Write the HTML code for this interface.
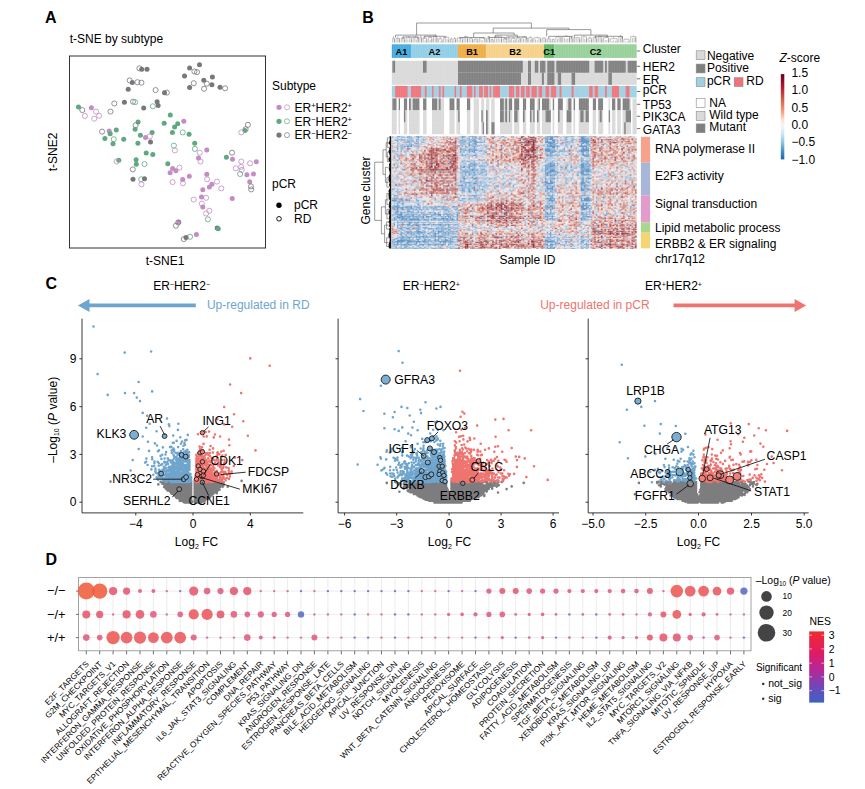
<!DOCTYPE html>
<html><head><meta charset="utf-8"><title>Figure</title>
<style>
html,body{margin:0;padding:0;background:#fff;}
svg{display:block;font-family:"Liberation Sans", sans-serif;fill:#000;}
</style></head><body>
<svg width="865" height="789" viewBox="0 0 865 789">
<rect width="865" height="789" fill="#fff"/>
<g id="panelA">
<text x="45" y="22.5" font-size="16" font-weight="bold">A</text>
<text x="69.7" y="42.5" font-size="12">t-SNE by subtype</text>
<rect x="69.5" y="56" width="196" height="192" fill="#fff" stroke="#333" stroke-width="1"/>
<circle cx="139.4" cy="68.3" r="2.55" fill="none" stroke="#77777c" stroke-width="0.8"/>
<circle cx="141.7" cy="69.3" r="2.5" fill="#77777c"/>
<circle cx="147" cy="69.3" r="2.5" fill="#77777c"/>
<circle cx="129.7" cy="80.4" r="2.55" fill="none" stroke="#77777c" stroke-width="0.8"/>
<circle cx="132.3" cy="82.4" r="2.5" fill="#77777c"/>
<circle cx="137.4" cy="82.2" r="2.55" fill="none" stroke="#77777c" stroke-width="0.8"/>
<circle cx="141.4" cy="82.7" r="2.55" fill="none" stroke="#77777c" stroke-width="0.8"/>
<circle cx="128.2" cy="89.3" r="2.5" fill="#77777c"/>
<circle cx="155.6" cy="90.1" r="2.55" fill="none" stroke="#77777c" stroke-width="0.8"/>
<circle cx="164.5" cy="92.8" r="2.5" fill="#77777c"/>
<circle cx="166.8" cy="92.6" r="2.55" fill="none" stroke="#77777c" stroke-width="0.8"/>
<circle cx="124.4" cy="102.2" r="2.5" fill="#77777c"/>
<circle cx="133" cy="101.7" r="2.55" fill="none" stroke="#77777c" stroke-width="0.8"/>
<circle cx="135.1" cy="102.2" r="2.55" fill="none" stroke="#5fa882" stroke-width="0.8"/>
<circle cx="114.3" cy="103.5" r="2.55" fill="none" stroke="#77777c" stroke-width="0.8"/>
<circle cx="110.5" cy="111.6" r="2.55" fill="none" stroke="#77777c" stroke-width="0.8"/>
<circle cx="157.1" cy="101.7" r="2.5" fill="#77777c"/>
<circle cx="158.1" cy="105.5" r="2.5" fill="#77777c"/>
<circle cx="152.8" cy="106.3" r="2.55" fill="none" stroke="#5fa882" stroke-width="0.8"/>
<circle cx="143.7" cy="108" r="2.5" fill="#77777c"/>
<circle cx="199.5" cy="64.7" r="2.5" fill="#77777c"/>
<circle cx="189.6" cy="68" r="2.5" fill="#77777c"/>
<circle cx="194.4" cy="71.5" r="2.55" fill="none" stroke="#77777c" stroke-width="0.8"/>
<circle cx="197" cy="72.1" r="2.55" fill="none" stroke="#77777c" stroke-width="0.8"/>
<circle cx="184.5" cy="75.9" r="2.5" fill="#77777c"/>
<circle cx="212.4" cy="76.9" r="2.5" fill="#77777c"/>
<circle cx="203.8" cy="80.2" r="2.5" fill="#77777c"/>
<circle cx="206.8" cy="83.7" r="2.55" fill="none" stroke="#77777c" stroke-width="0.8"/>
<circle cx="193.7" cy="83.2" r="2.55" fill="none" stroke="#77777c" stroke-width="0.8"/>
<circle cx="211.9" cy="84.7" r="2.5" fill="#77777c"/>
<circle cx="189.6" cy="87.5" r="2.5" fill="#77777c"/>
<circle cx="204.1" cy="88.8" r="2.55" fill="none" stroke="#77777c" stroke-width="0.8"/>
<circle cx="220" cy="87.3" r="2.5" fill="#77777c"/>
<circle cx="225.1" cy="88.3" r="2.55" fill="none" stroke="#77777c" stroke-width="0.8"/>
<circle cx="78.5" cy="107" r="2.5" fill="#5fa882"/>
<circle cx="82.3" cy="110.1" r="2.55" fill="none" stroke="#77777c" stroke-width="0.8"/>
<circle cx="91.4" cy="107.8" r="2.5" fill="#c48cc4"/>
<circle cx="96" cy="111.6" r="2.55" fill="none" stroke="#c48cc4" stroke-width="0.8"/>
<circle cx="84.9" cy="115.9" r="2.55" fill="none" stroke="#c48cc4" stroke-width="0.8"/>
<circle cx="99.1" cy="115.7" r="2.55" fill="none" stroke="#c48cc4" stroke-width="0.8"/>
<circle cx="94.2" cy="118.7" r="2.55" fill="none" stroke="#c48cc4" stroke-width="0.8"/>
<circle cx="170.3" cy="115.1" r="2.5" fill="#5fa882"/>
<circle cx="183.8" cy="121.2" r="2.5" fill="#c48cc4"/>
<circle cx="164.2" cy="123.3" r="2.5" fill="#5fa882"/>
<circle cx="177.7" cy="123.8" r="2.5" fill="#5fa882"/>
<circle cx="174.6" cy="127.1" r="2.5" fill="#5fa882"/>
<circle cx="172.4" cy="132.4" r="2.5" fill="#5fa882"/>
<circle cx="182.7" cy="132.4" r="2.55" fill="none" stroke="#5fa882" stroke-width="0.8"/>
<circle cx="189.1" cy="134.2" r="2.5" fill="#5fa882"/>
<circle cx="138.1" cy="122" r="2.5" fill="#5fa882"/>
<circle cx="135.6" cy="125.3" r="2.55" fill="none" stroke="#77777c" stroke-width="0.8"/>
<circle cx="135.1" cy="129.3" r="2.5" fill="#5fa882"/>
<circle cx="152.1" cy="132.4" r="2.5" fill="#5fa882"/>
<circle cx="140.4" cy="135.2" r="2.5" fill="#5fa882"/>
<circle cx="145.5" cy="137.5" r="2.5" fill="#c48cc4"/>
<circle cx="149.8" cy="136.4" r="2.55" fill="none" stroke="#c48cc4" stroke-width="0.8"/>
<circle cx="150.5" cy="142" r="2.5" fill="#77777c"/>
<circle cx="137.9" cy="143.3" r="2.5" fill="#5fa882"/>
<circle cx="102.1" cy="131.6" r="2.55" fill="none" stroke="#77777c" stroke-width="0.8"/>
<circle cx="109.2" cy="131.1" r="2.5" fill="#c48cc4"/>
<circle cx="110.2" cy="133.7" r="2.5" fill="#5fa882"/>
<circle cx="116.3" cy="130.1" r="2.5" fill="#5fa882"/>
<circle cx="104.9" cy="138.5" r="2.5" fill="#5fa882"/>
<circle cx="113.8" cy="139.2" r="2.55" fill="none" stroke="#5fa882" stroke-width="0.8"/>
<circle cx="123.7" cy="139.2" r="2.5" fill="#5fa882"/>
<circle cx="113" cy="143.8" r="2.5" fill="#5fa882"/>
<circle cx="194.7" cy="143.3" r="2.5" fill="#5fa882"/>
<circle cx="173.9" cy="145.6" r="2.55" fill="none" stroke="#5fa882" stroke-width="0.8"/>
<circle cx="194.9" cy="148.9" r="2.55" fill="none" stroke="#5fa882" stroke-width="0.8"/>
<circle cx="174.9" cy="150.4" r="2.55" fill="none" stroke="#c48cc4" stroke-width="0.8"/>
<circle cx="206.8" cy="149.9" r="2.5" fill="#c48cc4"/>
<circle cx="199.7" cy="152.7" r="2.55" fill="none" stroke="#c48cc4" stroke-width="0.8"/>
<circle cx="146.2" cy="152.9" r="2.5" fill="#5fa882"/>
<circle cx="152.8" cy="154.4" r="2.5" fill="#5fa882"/>
<circle cx="198.5" cy="158" r="2.5" fill="#c48cc4"/>
<circle cx="200.5" cy="161.5" r="2.55" fill="none" stroke="#c48cc4" stroke-width="0.8"/>
<circle cx="118.8" cy="160.3" r="2.5" fill="#5fa882"/>
<circle cx="116.6" cy="161.5" r="2.55" fill="none" stroke="#c48cc4" stroke-width="0.8"/>
<circle cx="136.1" cy="159.8" r="2.5" fill="#5fa882"/>
<circle cx="136.3" cy="164.3" r="2.5" fill="#5fa882"/>
<circle cx="144.5" cy="164.1" r="2.55" fill="none" stroke="#5fa882" stroke-width="0.8"/>
<circle cx="167.8" cy="163.8" r="2.5" fill="#5fa882"/>
<circle cx="132.8" cy="169.4" r="2.55" fill="none" stroke="#77777c" stroke-width="0.8"/>
<circle cx="172.6" cy="168.4" r="2.5" fill="#c48cc4"/>
<circle cx="179.5" cy="167.6" r="2.55" fill="none" stroke="#c48cc4" stroke-width="0.8"/>
<circle cx="175.9" cy="170.7" r="2.5" fill="#c48cc4"/>
<circle cx="170.1" cy="172.7" r="2.5" fill="#c48cc4"/>
<circle cx="133" cy="179.3" r="2.5" fill="#77777c"/>
<circle cx="141.2" cy="179.3" r="2.55" fill="none" stroke="#5fa882" stroke-width="0.8"/>
<circle cx="144.5" cy="178.8" r="2.5" fill="#77777c"/>
<circle cx="141.4" cy="184.3" r="2.55" fill="none" stroke="#c48cc4" stroke-width="0.8"/>
<circle cx="189.3" cy="176.2" r="2.5" fill="#c48cc4"/>
<circle cx="182.7" cy="179.5" r="2.5" fill="#c48cc4"/>
<circle cx="172.6" cy="182.1" r="2.55" fill="none" stroke="#c48cc4" stroke-width="0.8"/>
<circle cx="183" cy="183.3" r="2.55" fill="none" stroke="#c48cc4" stroke-width="0.8"/>
<circle cx="206.8" cy="174.2" r="2.5" fill="#c48cc4"/>
<circle cx="207.1" cy="179.3" r="2.55" fill="none" stroke="#c48cc4" stroke-width="0.8"/>
<circle cx="217" cy="181.6" r="2.55" fill="none" stroke="#c48cc4" stroke-width="0.8"/>
<circle cx="211.9" cy="184.3" r="2.5" fill="#c48cc4"/>
<circle cx="209.4" cy="186.9" r="2.5" fill="#c48cc4"/>
<circle cx="202.8" cy="189.7" r="2.5" fill="#c48cc4"/>
<circle cx="221.3" cy="188.4" r="2.55" fill="none" stroke="#c48cc4" stroke-width="0.8"/>
<circle cx="201.5" cy="197" r="2.5" fill="#c48cc4"/>
<circle cx="206.1" cy="197.8" r="2.55" fill="none" stroke="#c48cc4" stroke-width="0.8"/>
<circle cx="193.7" cy="199.6" r="2.55" fill="none" stroke="#c48cc4" stroke-width="0.8"/>
<circle cx="201.8" cy="203.6" r="2.55" fill="none" stroke="#c48cc4" stroke-width="0.8"/>
<circle cx="202.8" cy="206.9" r="2.5" fill="#c48cc4"/>
<circle cx="209.4" cy="210.7" r="2.55" fill="none" stroke="#c48cc4" stroke-width="0.8"/>
<circle cx="206.1" cy="213.5" r="2.55" fill="none" stroke="#c48cc4" stroke-width="0.8"/>
<circle cx="207.9" cy="219.3" r="2.55" fill="none" stroke="#5fa882" stroke-width="0.8"/>
<circle cx="232.2" cy="198.5" r="2.5" fill="#c48cc4"/>
<circle cx="247.9" cy="124.8" r="2.55" fill="none" stroke="#77777c" stroke-width="0.8"/>
<circle cx="245.6" cy="129.3" r="2.55" fill="none" stroke="#77777c" stroke-width="0.8"/>
<circle cx="244.9" cy="130.6" r="2.5" fill="#5fa882"/>
<circle cx="241.3" cy="132.4" r="2.55" fill="none" stroke="#c48cc4" stroke-width="0.8"/>
<circle cx="232" cy="152.7" r="2.55" fill="none" stroke="#77777c" stroke-width="0.8"/>
<circle cx="226.4" cy="157.2" r="2.5" fill="#5fa882"/>
<circle cx="232.5" cy="159.3" r="2.5" fill="#c48cc4"/>
<circle cx="241.3" cy="161.5" r="2.55" fill="none" stroke="#c48cc4" stroke-width="0.8"/>
<circle cx="250" cy="163.3" r="2.55" fill="none" stroke="#c48cc4" stroke-width="0.8"/>
<circle cx="256.3" cy="161.8" r="2.5" fill="#c48cc4"/>
<circle cx="241.1" cy="166.9" r="2.55" fill="none" stroke="#c48cc4" stroke-width="0.8"/>
<circle cx="235.8" cy="168.4" r="2.55" fill="none" stroke="#c48cc4" stroke-width="0.8"/>
<circle cx="241.8" cy="169.9" r="2.55" fill="none" stroke="#c48cc4" stroke-width="0.8"/>
<circle cx="240.1" cy="174" r="2.55" fill="none" stroke="#5fa882" stroke-width="0.8"/>
<circle cx="246.9" cy="174.7" r="2.5" fill="#c48cc4"/>
<circle cx="253.5" cy="174" r="2.5" fill="#c48cc4"/>
<circle cx="249.7" cy="181.8" r="2.5" fill="#c48cc4"/>
<circle cx="251" cy="186.4" r="2.55" fill="none" stroke="#77777c" stroke-width="0.8"/>
<circle cx="251.2" cy="189.4" r="2.55" fill="none" stroke="#77777c" stroke-width="0.8"/>
<circle cx="178.7" cy="222.1" r="2.5" fill="#c48cc4"/>
<circle cx="178.2" cy="222.6" r="2.55" fill="none" stroke="#77777c" stroke-width="0.8"/>
<circle cx="175.9" cy="225.7" r="2.55" fill="none" stroke="#77777c" stroke-width="0.8"/>
<circle cx="217.2" cy="227.9" r="2.5" fill="#77777c"/>
<circle cx="218.3" cy="228.7" r="2.5" fill="#5fa882"/>
<circle cx="196.4" cy="234.5" r="2.5" fill="#c48cc4"/>
<circle cx="190.1" cy="236.8" r="2.55" fill="none" stroke="#5fa882" stroke-width="0.8"/>
<circle cx="186" cy="237.6" r="2.5" fill="#77777c"/>
<circle cx="183.8" cy="239.1" r="2.55" fill="none" stroke="#77777c" stroke-width="0.8"/>
<text x="165" y="264.5" font-size="12" text-anchor="middle">t-SNE1</text>
<text transform="translate(56.5 152) rotate(-90)" font-size="12" text-anchor="middle">t-SNE2</text>
<text x="272" y="90" font-size="12">Subtype</text>
<circle cx="279" cy="107.3" r="2.6" fill="#c48cc4"/>
<circle cx="287" cy="107.3" r="2.5" fill="none" stroke="#c48cc4" stroke-width="0.7"/>
<text x="294.5" y="111.5" font-size="12">ER<tspan font-size="7.5" dy="-3.6">+</tspan><tspan dy="3.6">HER2</tspan><tspan font-size="7.5" dy="-3.6">+</tspan></text>
<circle cx="279" cy="121.3" r="2.6" fill="#5fa882"/>
<circle cx="287" cy="121.3" r="2.5" fill="none" stroke="#5fa882" stroke-width="0.7"/>
<text x="294.5" y="125.5" font-size="12">ER<tspan font-size="7.5" dy="-3.6">&#8722;</tspan><tspan dy="3.6">HER2</tspan><tspan font-size="7.5" dy="-3.6">+</tspan></text>
<circle cx="279" cy="135.1" r="2.6" fill="#77777c"/>
<circle cx="287" cy="135.1" r="2.5" fill="none" stroke="#77777c" stroke-width="0.7"/>
<text x="294.5" y="139.3" font-size="12">ER<tspan font-size="7.5" dy="-3.6">&#8722;</tspan><tspan dy="3.6">HER2</tspan><tspan font-size="7.5" dy="-3.6">&#8722;</tspan></text>
<text x="272" y="187.5" font-size="12">pCR</text>
<circle cx="279" cy="205.2" r="2.7" fill="#000"/>
<text x="294" y="209.2" font-size="12">pCR</text>
<circle cx="279" cy="218.8" r="2.3" fill="#fff" stroke="#000" stroke-width="0.9"/>
<text x="294" y="223" font-size="12">RD</text>
</g>
<g id="panelB">
<text x="362.3" y="22.5" font-size="16" font-weight="bold">B</text>
<path d="M416.6 35.1V23H531.4V28.1M493.2 33V28.1H568.9V29.6M473.7 37.5V33H514.2V35.1M546.7 36.3V29.6H590.9V35.1M495.6 37.5V35.1H517.3V37.5M574.4 37.5V35.1H607.4V37.5M395.5 37.5V35.1H436.1V36.9M460.1 39.3V37.5H484.2V39.3M488.7 39.3V37.5H505.2V39.3M506.7 39.3V36.9H526.3V39.3M548.8 38.7V36.3H571.4V38.7M595.4 38.7V36.3H622.5V38.7M403 39.3V36.9H418.1V39.3M424.1 38.7V36.3H445.1V38.7" fill="none" stroke="#555" stroke-width="0.6"/>
<path d="M392.7 42.5V38.2H394.4V42.5M394.4 42.5V38.9M393.5 38.2V36.3M396.1 42.5V38.3H399.4V42.5M397.8 42.5V38.9M399.4 42.5V38.8M397.8 38.3V36.5M401.2 42.5V38H404.6V42.5M402.9 42.5V38.9M404.6 42.5V40M402.9 38V36.7M406.2 42.5V37.8H411.4V42.5M407.9 42.5V39.6M409.7 42.5V38.6M411.4 42.5V39.5M408.8 37.8V36M413.1 42.5V37.5H418.2V42.5M414.8 42.5V38M416.4 42.5V39.5M418.2 42.5V38.3M415.6 37.5V35.6M419.9 42.5V37.2H421.6V42.5M421.6 42.5V37.8M420.7 37.2V35.4M423.2 42.5V38.2H426.7V42.5M425 42.5V40.5M426.7 42.5V39.4M425 38.2V36.5M428.4 42.5V37.5H431.8V42.5M430.1 42.5V39.6M431.8 42.5V38.9M430.1 37.5V35.6M433.5 42.5V36.5H436.9V42.5M435.2 42.5V37.3M436.9 42.5V37.5M435.2 36.5V34.6M438.6 42.5V38.8H442V42.5M440.2 42.5V41M442 42.5V40.1M440.2 38.8V37M443.7 42.5V37.4H448.8V42.5M445.4 42.5V39M447.1 42.5V39M448.8 42.5V39.7M446.2 37.4V35.8M450.5 42.5V39H452.2V42.5M452.2 42.5V41.5M451.3 39V37.5M453.9 42.5V38.5H455.6V42.5M455.6 42.5V39.7M454.7 38.5V37.2M457.2 42.5V38.1H462.4V42.5M459 42.5V40M460.7 42.5V39M462.4 42.5V40.2M459.8 38.1V36.7M464.1 42.5V36.6H467.5V42.5M465.8 42.5V38.1M467.5 42.5V38.4M465.8 36.6V35.4M469.2 42.5V38.8H472.6V42.5M470.9 42.5V40.2M472.6 42.5V39.6M470.9 38.8V37.9M474.2 42.5V39.1H477.7V42.5M476 42.5V39.7M477.7 42.5V40.8M476 39.1V38.5M479.4 42.5V38.1H486.2V42.5M481.1 42.5V39.7M482.8 42.5V40.5M484.5 42.5V39.2M486.2 42.5V39.1M482.8 38.1V37.6M487.9 42.5V36.5H489.6V42.5M489.6 42.5V38.2M488.7 36.5V35.9M491.2 42.5V39.4H493V42.5M493 42.5V40.5M492.1 39.4V38.5M494.7 42.5V36.3H501.5V42.5M496.4 42.5V38.6M498.1 42.5V37.5M499.8 42.5V38.8M501.5 42.5V38.6M498.1 36.3V35.3M503.2 42.5V39.1H506.6V42.5M504.9 42.5V40.3M506.6 42.5V41.3M504.9 39.1V37.5M508.2 42.5V38.2H510V42.5M510 42.5V40.6M509.1 38.2V37M511.7 42.5V38.3H515.1V42.5M513.4 42.5V40.2M515.1 42.5V40.7M513.4 38.3V37.1M516.8 42.5V37.9H520.2V42.5M518.5 42.5V39.5M520.2 42.5V38.4M518.5 37.9V36.8M521.9 42.5V37.2H527V42.5M523.5 42.5V38.5M525.2 42.5V38.9M527 42.5V38M524.4 37.2V35.8M528.7 42.5V37.7H532.1V42.5M530.4 42.5V39.6M532.1 42.5V38.9M530.4 37.7V36.2M533.8 42.5V37.8H540.6V42.5M535.5 42.5V39.5M537.2 42.5V40.2M538.9 42.5V38.4M540.6 42.5V39.1M537.2 37.8V36.4M542.2 42.5V38.2H545.7V42.5M544 42.5V39.3M545.7 42.5V39.4M544 38.2V37.2M547.4 42.5V39H550.8V42.5M549.1 42.5V40M550.8 42.5V41.1M549 39V38.3M552.5 42.5V39.4H554.2V42.5M554.2 42.5V41.3M553.3 39.4V38.7M555.9 42.5V36.9H561V42.5M557.6 42.5V39M559.2 42.5V37.9M561 42.5V37.8M558.4 36.9V35.8M562.7 42.5V36.5H569.5V42.5M564.4 42.5V38.2M566.1 42.5V38.9M567.8 42.5V38.4M569.5 42.5V37.5M566.1 36.5V34.8M571.2 42.5V36.5H572.9V42.5M572.9 42.5V38.4M572 36.5V35.6M574.6 42.5V37.7H579.7V42.5M576.2 42.5V38.6M578 42.5V38.4M579.7 42.5V39.2M577.1 37.7V36.9M581.4 42.5V36.8H586.5V42.5M583.1 42.5V37.9M584.8 42.5V38.9M586.5 42.5V38.6M583.9 36.8V35.1M588.2 42.5V38.1H591.6V42.5M589.9 42.5V39.5M591.6 42.5V39.7M589.9 38.1V36.4M593.2 42.5V37.3H596.7V42.5M595 42.5V38.7M596.7 42.5V38.7M595 37.3V36.2M598.4 42.5V36.7H601.8V42.5M600.1 42.5V37.2M601.8 42.5V39.1M600 36.7V34.9M603.5 42.5V37.6H608.6V42.5M605.2 42.5V40M606.9 42.5V40M608.6 42.5V38.6M606 37.6V36M610.2 42.5V38.7H617.1V42.5M612 42.5V41.1M613.7 42.5V40.3M615.4 42.5V40.9M617.1 42.5V40.9M613.7 38.7V36.9M618.8 42.5V36.6H622.2V42.5M620.5 42.5V37.6M622.2 42.5V37.2M620.5 36.6V34.9M623.9 42.5V39.2H629V42.5M625.6 42.5V41.5M627.2 42.5V41.5M629 42.5V40.9M626.4 39.2V38.7M630.7 42.5V36.6H635.8V42.5M632.4 42.5V38.1M634.1 42.5V37.6M635.8 42.5V37.1M633.2 36.6V35.3" fill="none" stroke="#777" stroke-width="0.45"/>
<rect x="391.8" y="44.3" width="19.2" height="13.6" fill="#3fa9dc"/>
<rect x="411" y="44.3" width="46.9" height="13.6" fill="#8ccde6"/>
<rect x="457.9" y="44.3" width="28.5" height="13.6" fill="#eeab3f"/>
<rect x="486.4" y="44.3" width="57.6" height="13.6" fill="#f6cf85"/>
<rect x="544" y="44.3" width="10.4" height="13.6" fill="#5db55f"/>
<rect x="554.4" y="44.3" width="82.2" height="13.6" fill="#93cf95"/>
<path d="M393.5 44.3v13.6M395.2 44.3v13.6M396.9 44.3v13.6M398.6 44.3v13.6M400.3 44.3v13.6M402 44.3v13.6M403.7 44.3v13.6M405.4 44.3v13.6M407.1 44.3v13.6M408.8 44.3v13.6M410.5 44.3v13.6M412.2 44.3v13.6M413.9 44.3v13.6M415.6 44.3v13.6M417.3 44.3v13.6M419 44.3v13.6M420.7 44.3v13.6M422.4 44.3v13.6M424.1 44.3v13.6M425.8 44.3v13.6M427.5 44.3v13.6M429.2 44.3v13.6M430.9 44.3v13.6M432.6 44.3v13.6M434.3 44.3v13.6M436 44.3v13.6M437.7 44.3v13.6M439.4 44.3v13.6M441.1 44.3v13.6M442.8 44.3v13.6M444.5 44.3v13.6M446.2 44.3v13.6M447.9 44.3v13.6M449.6 44.3v13.6M451.3 44.3v13.6M453 44.3v13.6M454.7 44.3v13.6M456.4 44.3v13.6M458.1 44.3v13.6M459.8 44.3v13.6M461.5 44.3v13.6M463.2 44.3v13.6M464.9 44.3v13.6M466.6 44.3v13.6M468.3 44.3v13.6M470 44.3v13.6M471.7 44.3v13.6M473.4 44.3v13.6M475.1 44.3v13.6M476.8 44.3v13.6M478.5 44.3v13.6M480.2 44.3v13.6M481.9 44.3v13.6M483.6 44.3v13.6M485.3 44.3v13.6M487 44.3v13.6M488.7 44.3v13.6M490.4 44.3v13.6M492.1 44.3v13.6M493.8 44.3v13.6M495.5 44.3v13.6M497.2 44.3v13.6M498.9 44.3v13.6M500.6 44.3v13.6M502.3 44.3v13.6M504 44.3v13.6M505.7 44.3v13.6M507.4 44.3v13.6M509.1 44.3v13.6M510.8 44.3v13.6M512.5 44.3v13.6M514.2 44.3v13.6M515.9 44.3v13.6M517.6 44.3v13.6M519.3 44.3v13.6M521 44.3v13.6M522.7 44.3v13.6M524.4 44.3v13.6M526.1 44.3v13.6M527.8 44.3v13.6M529.5 44.3v13.6M531.2 44.3v13.6M532.9 44.3v13.6M534.6 44.3v13.6M536.3 44.3v13.6M538 44.3v13.6M539.7 44.3v13.6M541.4 44.3v13.6M543.1 44.3v13.6M544.8 44.3v13.6M546.5 44.3v13.6M548.2 44.3v13.6M549.9 44.3v13.6M551.6 44.3v13.6M553.3 44.3v13.6M555 44.3v13.6M556.7 44.3v13.6M558.4 44.3v13.6M560.1 44.3v13.6M561.8 44.3v13.6M563.5 44.3v13.6M565.2 44.3v13.6M566.9 44.3v13.6M568.6 44.3v13.6M570.3 44.3v13.6M572 44.3v13.6M573.7 44.3v13.6M575.4 44.3v13.6M577.1 44.3v13.6M578.8 44.3v13.6M580.5 44.3v13.6M582.2 44.3v13.6M583.9 44.3v13.6M585.6 44.3v13.6M587.3 44.3v13.6M589 44.3v13.6M590.7 44.3v13.6M592.4 44.3v13.6M594.1 44.3v13.6M595.8 44.3v13.6M597.5 44.3v13.6M599.2 44.3v13.6M600.9 44.3v13.6M602.6 44.3v13.6M604.3 44.3v13.6M606 44.3v13.6M607.7 44.3v13.6M609.4 44.3v13.6M611.1 44.3v13.6M612.8 44.3v13.6M614.5 44.3v13.6M616.2 44.3v13.6M617.9 44.3v13.6M619.6 44.3v13.6M621.3 44.3v13.6M623 44.3v13.6M624.7 44.3v13.6M626.4 44.3v13.6M628.1 44.3v13.6M629.8 44.3v13.6M631.5 44.3v13.6M633.2 44.3v13.6M634.9 44.3v13.6" stroke="#fff" stroke-width="0.25" opacity="0.5"/>
<text x="401.4" y="54.6" font-size="9.2" text-anchor="middle" font-weight="bold">A1</text>
<text x="434.4" y="54.6" font-size="9.2" text-anchor="middle" font-weight="bold">A2</text>
<text x="472.1" y="54.6" font-size="9.2" text-anchor="middle" font-weight="bold">B1</text>
<text x="515.2" y="54.6" font-size="9.2" text-anchor="middle" font-weight="bold">B2</text>
<text x="549.2" y="54.6" font-size="9.2" text-anchor="middle" font-weight="bold">C1</text>
<text x="595.5" y="54.6" font-size="9.2" text-anchor="middle" font-weight="bold">C2</text>
<rect x="391.8" y="60.8" width="244.8" height="12.3" fill="#d9d9d9"/>
<path d="M392.5 60.8h2.6v12.3h-2.6zM423 60.8h3.6v12.3h-3.6zM458 60.8h52.4v12.3h-52.4zM510 60.8h12.8v12.3h-12.8zM528 60.8h3v12.3h-3zM534.8 60.8h3.5v12.3h-3.5zM540.1 60.8h5.3v12.3h-5.3zM547.3 60.8h7.1v12.3h-7.1zM556.3 60.8h32.9v12.3h-32.9zM594.6 60.8h8.6v12.3h-8.6zM605 60.8h1.8v12.3h-1.8zM608.4 60.8h17.3v12.3h-17.3zM627.7 60.8h8.9v12.3h-8.9z" fill="#7f7f7f"/>
<rect x="391.8" y="72.7" width="244.8" height="12.2" fill="#d9d9d9"/>
<path d="M458 72.7h52.4v12.2h-52.4zM510 72.7h11v12.2h-11zM528 72.7h3v12.2h-3zM541.9 72.7h2v12.2h-2zM547.3 72.7h7.1v12.2h-7.1zM557.8 72.7h3.3v12.2h-3.3zM571.6 72.7h3.5v12.2h-3.5zM608.4 72.7h3.5v12.2h-3.5z" fill="#7f7f7f"/>
<rect x="391.8" y="85.7" width="244.8" height="12" fill="#9fd0e3"/>
<path d="M395.1 85.7h12.5v12h-12.5zM411 85.7h10.1v12h-10.1zM424.8 85.7h1.8v12h-1.8zM432 85.7h1.5v12h-1.5zM438.8 85.7h1.8v12h-1.8zM442.4 85.7h1.7v12h-1.7zM454.6 85.7h1.5v12h-1.5zM459.8 85.7h1.8v12h-1.8zM466.9 85.7h5.3v12h-5.3zM474 85.7h1.5v12h-1.5zM479.1 85.7h3.6v12h-3.6zM484.2 85.7h3.8v12h-3.8zM489.7 85.7h1.5v12h-1.5zM493.2 85.7h6.8v12h-6.8zM509 85.7h1.1v12h-1.1zM510 85.7h4.1v12h-4.1zM516 85.7h3.3v12h-3.3zM521 85.7h3.6v12h-3.6zM526.2 85.7h3.6v12h-3.6zM531.5 85.7h5.3v12h-5.3zM538.6 85.7h3.5v12h-3.5zM545.6 85.7h3.5v12h-3.5zM550.9 85.7h5.3v12h-5.3zM559.6 85.7h1.8v12h-1.8zM571.6 85.7h2v12h-2zM589.2 85.7h3.5v12h-3.5zM594.6 85.7h3.5v12h-3.5zM605 85.7h1.8v12h-1.8zM611.9 85.7h7.1v12h-7.1zM625.7 85.7h3.8v12h-3.8z" fill="#f0737a"/>
<rect x="391.8" y="98.2" width="244.8" height="12.4" fill="#d9d9d9"/>
<path d="M392.5 98.2h4.2v12.4h-4.2zM398.5 98.2h1.5v12.4h-1.5zM403.8 98.2h3.5v12.4h-3.5zM409 98.2h1.8v12.4h-1.8zM412.8 98.2h6.8v12.4h-6.8zM423 98.2h3.6v12.4h-3.6zM432 98.2h5.1v12.4h-5.1zM438.8 98.2h1.8v12.4h-1.8zM449.3 98.2h5.3v12.4h-5.3zM456.4 98.2h3.5v12.4h-3.5zM466.9 98.2h3.5v12.4h-3.5zM500 98.2h3.8v12.4h-3.8zM505.2 98.2h1.8v12.4h-1.8zM509 98.2h1.1v12.4h-1.1zM510 98.2h2.3v12.4h-2.3zM514.1 98.2h5.3v12.4h-5.3zM522.8 98.2h3.5v12.4h-3.5zM529.8 98.2h5v12.4h-5zM538.6 98.2h1.5v12.4h-1.5zM541.9 98.2h7.2v12.4h-7.2zM552.5 98.2h1.8v12.4h-1.8zM557.8 98.2h5.1v12.4h-5.1zM568.2 98.2h3.5v12.4h-3.5zM573.4 98.2h1.7v12.4h-1.7zM578.7 98.2h10.2v12.4h-10.2zM592.7 98.2h3.5v12.4h-3.5zM598.1 98.2h5.1v12.4h-5.1zM611.9 98.2h3.6v12.4h-3.6zM617.2 98.2h3.6v12.4h-3.6zM622.4 98.2h7.1v12.4h-7.1z" fill="#7f7f7f"/>
<rect x="391.8" y="110.2" width="244.8" height="12.5" fill="#d9d9d9"/>
<path d="M403.8 110.2h1.5v12.5h-1.5zM458.2 110.2h1.7v12.5h-1.7zM481.2 110.2h1.5v12.5h-1.5zM486 110.2h1.7v12.5h-1.7zM500 110.2h3.8v12.5h-3.8zM505.2 110.2h1.8v12.5h-1.8zM509 110.2h1.1v12.5h-1.1zM514.1 110.2h3.5v12.5h-3.5zM522.8 110.2h1.8v12.5h-1.8zM529.8 110.2h1.7v12.5h-1.7zM533.3 110.2h1.5v12.5h-1.5zM536.8 110.2h1.8v12.5h-1.8zM545.6 110.2h5.3v12.5h-5.3zM557.8 110.2h1.8v12.5h-1.8zM566.4 110.2h5.3v12.5h-5.3zM580.3 110.2h3.3v12.5h-3.3zM585.6 110.2h3.3v12.5h-3.3zM599.7 110.2h2v12.5h-2zM608.4 110.2h1.8v12.5h-1.8zM625.7 110.2h5.3v12.5h-5.3z" fill="#7f7f7f"/>
<rect x="391.8" y="122.3" width="244.8" height="11.9" fill="#d9d9d9"/>
<path d="M459.8 122.3h1.8v11.9h-1.8zM482.7 122.3h1.5v11.9h-1.5zM486 122.3h1.7v11.9h-1.7zM491.3 122.3h3.5v11.9h-3.5zM624.2 122.3h1.5v11.9h-1.5z" fill="#7f7f7f"/>
<path d="M396.7 98.2h1.8v36h-1.8zM400 98.2h3.8v36h-3.8zM407.2 98.2h1.8v36h-1.8zM419.6 98.2h3.5v36h-3.5zM426.6 98.2h5.4v36h-5.4zM444.1 98.2h5.3v36h-5.3zM454.6 98.2h1.8v36h-1.8zM459.8 98.2h7.1v36h-7.1zM470.4 98.2h3.3v36h-3.3zM478.9 98.2h2.3v36h-2.3zM484.2 98.2h1.8v36h-1.8zM489.4 98.2h1.8v36h-1.8zM494.7 98.2h5.3v36h-5.3zM512.3 98.2h1.8v36h-1.8zM519.3 98.2h3.5v36h-3.5zM526.2 98.2h3.6v36h-3.6zM534.8 98.2h2v36h-2zM540.1 98.2h1.8v36h-1.8zM550.9 98.2h1.7v36h-1.7zM554.3 98.2h3.5v36h-3.5zM562.9 98.2h3.5v36h-3.5zM571.6 98.2h1.8v36h-1.8zM575.1 98.2h3.6v36h-3.6zM588.9 98.2h3.8v36h-3.8zM596.1 98.2h2v36h-2zM603.2 98.2h5.3v36h-5.3zM610.2 98.2h1.7v36h-1.7zM615.5 98.2h1.7v36h-1.7zM620.8 98.2h1.7v36h-1.7zM631 98.2h1.5v36h-1.5z" fill="#fff"/>
<path d="M393.5 60.8V134.2M395.2 60.8V134.2M396.9 60.8V134.2M398.6 60.8V134.2M400.3 60.8V134.2M402 60.8V134.2M403.7 60.8V134.2M405.4 60.8V134.2M407.1 60.8V134.2M408.8 60.8V134.2M410.5 60.8V134.2M412.2 60.8V134.2M413.9 60.8V134.2M415.6 60.8V134.2M417.3 60.8V134.2M419 60.8V134.2M420.7 60.8V134.2M422.4 60.8V134.2M424.1 60.8V134.2M425.8 60.8V134.2M427.5 60.8V134.2M429.2 60.8V134.2M430.9 60.8V134.2M432.6 60.8V134.2M434.3 60.8V134.2M436 60.8V134.2M437.7 60.8V134.2M439.4 60.8V134.2M441.1 60.8V134.2M442.8 60.8V134.2M444.5 60.8V134.2M446.2 60.8V134.2M447.9 60.8V134.2M449.6 60.8V134.2M451.3 60.8V134.2M453 60.8V134.2M454.7 60.8V134.2M456.4 60.8V134.2M458.1 60.8V134.2M459.8 60.8V134.2M461.5 60.8V134.2M463.2 60.8V134.2M464.9 60.8V134.2M466.6 60.8V134.2M468.3 60.8V134.2M470 60.8V134.2M471.7 60.8V134.2M473.4 60.8V134.2M475.1 60.8V134.2M476.8 60.8V134.2M478.5 60.8V134.2M480.2 60.8V134.2M481.9 60.8V134.2M483.6 60.8V134.2M485.3 60.8V134.2M487 60.8V134.2M488.7 60.8V134.2M490.4 60.8V134.2M492.1 60.8V134.2M493.8 60.8V134.2M495.5 60.8V134.2M497.2 60.8V134.2M498.9 60.8V134.2M500.6 60.8V134.2M502.3 60.8V134.2M504 60.8V134.2M505.7 60.8V134.2M507.4 60.8V134.2M509.1 60.8V134.2M510.8 60.8V134.2M512.5 60.8V134.2M514.2 60.8V134.2M515.9 60.8V134.2M517.6 60.8V134.2M519.3 60.8V134.2M521 60.8V134.2M522.7 60.8V134.2M524.4 60.8V134.2M526.1 60.8V134.2M527.8 60.8V134.2M529.5 60.8V134.2M531.2 60.8V134.2M532.9 60.8V134.2M534.6 60.8V134.2M536.3 60.8V134.2M538 60.8V134.2M539.7 60.8V134.2M541.4 60.8V134.2M543.1 60.8V134.2M544.8 60.8V134.2M546.5 60.8V134.2M548.2 60.8V134.2M549.9 60.8V134.2M551.6 60.8V134.2M553.3 60.8V134.2M555 60.8V134.2M556.7 60.8V134.2M558.4 60.8V134.2M560.1 60.8V134.2M561.8 60.8V134.2M563.5 60.8V134.2M565.2 60.8V134.2M566.9 60.8V134.2M568.6 60.8V134.2M570.3 60.8V134.2M572 60.8V134.2M573.7 60.8V134.2M575.4 60.8V134.2M577.1 60.8V134.2M578.8 60.8V134.2M580.5 60.8V134.2M582.2 60.8V134.2M583.9 60.8V134.2M585.6 60.8V134.2M587.3 60.8V134.2M589 60.8V134.2M590.7 60.8V134.2M592.4 60.8V134.2M594.1 60.8V134.2M595.8 60.8V134.2M597.5 60.8V134.2M599.2 60.8V134.2M600.9 60.8V134.2M602.6 60.8V134.2M604.3 60.8V134.2M606 60.8V134.2M607.7 60.8V134.2M609.4 60.8V134.2M611.1 60.8V134.2M612.8 60.8V134.2M614.5 60.8V134.2M616.2 60.8V134.2M617.9 60.8V134.2M619.6 60.8V134.2M621.3 60.8V134.2M623 60.8V134.2M624.7 60.8V134.2M626.4 60.8V134.2M628.1 60.8V134.2M629.8 60.8V134.2M631.5 60.8V134.2M633.2 60.8V134.2M634.9 60.8V134.2" stroke="#fff" stroke-width="0.2" opacity="0.45"/>
<rect x="391.8" y="84.9" width="244.8" height="0.8" fill="#fff"/>
<rect x="391.8" y="97.7" width="244.8" height="0.5" fill="#fff"/>
<defs><filter id="hb" x="0" y="0" width="1" height="1"><feGaussianBlur stdDeviation="0.6 0.4"/></filter></defs>
<rect x="391.8" y="136.3" width="244.8" height="112.5" fill="#e6e2ea"/>
<g stroke-width="1.12" fill="none" filter="url(#hb)" opacity="0.88">
<path stroke="#538fc5" d="M396.9 136.8h3.4M407.1 136.8h1.7M415.6 136.8h3.4M420.7 136.8h1.7M461.5 136.8h3.4M471.7 136.8h1.7M475.1 136.8h1.7M493.8 136.8h1.7M502.3 136.8h1.7M532.9 136.8h1.7M538 136.8h1.7M546.5 136.8h6.8M570.3 136.8h1.7M580.5 136.8h5.1M629.8 136.8h1.7M395.2 137.8h1.7M417.3 137.8h1.7M461.5 137.8h1.7M475.1 137.8h1.7M544.8 137.8h1.7M549.9 137.8h3.4M565.2 137.8h1.7M580.5 137.8h3.4M602.6 137.8h1.7M396.9 138.8h1.7M408.8 138.8h1.7M549.9 138.8h3.4M580.5 138.8h5.1M587.3 138.8h1.7M398.6 139.8h1.7M402 139.8h3.4M415.6 139.8h3.4M463.2 139.8h1.7M468.3 139.8h1.7M478.5 139.8h1.7M524.4 139.8h1.7M544.8 139.8h11.9M565.2 139.8h1.7M580.5 139.8h6.8M407.1 140.8h1.7M459.8 140.8h3.4M471.7 140.8h5.1M546.5 140.8h1.7M551.6 140.8h3.4M560.1 140.8h1.7M580.5 140.8h8.5M408.8 141.8h1.7M417.3 141.8h1.7M437.7 141.8h1.7M463.2 141.8h3.4M473.4 141.8h3.4M544.8 141.8h6.8M553.3 141.8h1.7M568.6 141.8h1.7M580.5 141.8h8.5M407.1 142.8h1.7M413.9 142.8h1.7M422.4 142.8h1.7M475.1 142.8h1.7M544.8 142.8h10.2M566.9 142.8h1.7M582.2 142.8h6.8M607.7 142.8h1.7M396.9 143.8h1.7M417.3 143.8h1.7M447.9 143.8h1.7M461.5 143.8h1.7M468.3 143.8h1.7M473.4 143.8h3.4M492.1 143.8h1.7M526.1 143.8h1.7M529.5 143.8h1.7M548.2 143.8h5.1M580.5 143.8h3.4M585.6 143.8h1.7M402 144.8h1.7M410.5 144.8h1.7M436 144.8h1.7M463.2 144.8h1.7M468.3 144.8h1.7M475.1 144.8h1.7M504 144.8h1.7M546.5 144.8h1.7M549.9 144.8h1.7M565.2 144.8h1.7M580.5 144.8h1.7M587.3 144.8h3.4M396.9 145.8h1.7M407.1 145.8h1.7M410.5 145.8h1.7M478.5 145.8h1.7M481.9 145.8h1.7M536.3 145.8h1.7M543.1 145.8h1.7M546.5 145.8h8.5M556.7 145.8h1.7M570.3 145.8h1.7M580.5 145.8h6.8M619.6 145.8h1.7M403.7 146.8h8.5M415.6 146.8h1.7M458.1 146.8h1.7M461.5 146.8h1.7M464.9 146.8h1.7M473.4 146.8h3.4M483.6 146.8h3.4M548.2 146.8h10.2M570.3 146.8h1.7M578.8 146.8h8.5M589 146.8h1.7M626.4 146.8h1.7M473.4 147.9h1.7M500.6 147.9h1.7M551.6 147.9h3.4M566.9 147.9h1.7M582.2 147.9h1.7M585.6 147.9h1.7M461.5 148.9h3.4M468.3 148.9h3.4M544.8 148.9h6.8M582.2 148.9h5.1M623 148.9h1.7M459.8 149.9h1.7M468.3 149.9h1.7M471.7 149.9h1.7M475.1 149.9h1.7M544.8 149.9h5.1M553.3 149.9h1.7M563.5 149.9h1.7M570.3 149.9h1.7M580.5 149.9h8.5M612.8 149.9h1.7M405.4 150.9h1.7M415.6 150.9h1.7M463.2 150.9h1.7M468.3 150.9h1.7M473.4 150.9h3.4M478.5 150.9h3.4M483.6 150.9h1.7M544.8 150.9h8.5M560.1 150.9h1.7M580.5 150.9h10.2M396.9 151.9h1.7M400.3 151.9h1.7M470 151.9h1.7M473.4 151.9h1.7M485.3 151.9h1.7M546.5 151.9h3.4M551.6 151.9h5.1M580.5 151.9h3.4M473.4 152.9h1.7M549.9 152.9h3.4M582.2 152.9h1.7M628.1 152.9h1.7M502.3 153.9h1.7M549.9 153.9h1.7M582.2 153.9h1.7M398.6 154.9h1.7M446.2 154.9h1.7M459.8 154.9h1.7M466.6 154.9h1.7M473.4 154.9h1.7M546.5 154.9h1.7M551.6 154.9h1.7M570.3 154.9h1.7M580.5 154.9h5.1M587.3 154.9h1.7M402 155.9h1.7M412.2 155.9h1.7M461.5 155.9h1.7M473.4 155.9h3.4M526.1 155.9h1.7M529.5 155.9h1.7M544.8 155.9h6.8M582.2 155.9h6.8M599.2 155.9h1.7M396.9 156.9h1.7M424.1 156.9h1.7M498.9 156.9h1.7M585.6 156.9h1.7M611.1 156.9h1.7M434.3 157.9h1.7M565.2 157.9h1.7M420.7 158.9h1.7M524.4 158.9h1.7M548.2 158.9h1.7M553.3 158.9h1.7M585.6 158.9h1.7M626.4 158.9h1.7M391.8 159.9h1.7M441.1 159.9h1.7M488.7 159.9h1.7M621.3 159.9h1.7M396.9 160.9h1.7M447.9 160.9h1.7M461.5 160.9h1.7M466.6 160.9h1.7M473.4 160.9h1.7M476.8 160.9h1.7M544.8 160.9h1.7M548.2 160.9h1.7M551.6 160.9h3.4M580.5 160.9h8.5M468.3 161.9h1.7M580.5 161.9h1.7M619.6 161.9h1.7M402 162.9h1.7M470 162.9h1.7M483.6 162.9h3.4M492.1 162.9h1.7M549.9 162.9h1.7M556.7 162.9h1.7M565.2 162.9h1.7M582.2 162.9h1.7M403.7 163.9h1.7M463.2 163.9h3.4M473.4 163.9h3.4M548.2 163.9h5.1M568.6 163.9h1.7M580.5 163.9h3.4M602.6 163.9h1.7M461.5 164.9h1.7M473.4 164.9h1.7M517.6 164.9h1.7M544.8 164.9h1.7M549.9 164.9h1.7M553.3 164.9h1.7M566.9 164.9h1.7M580.5 164.9h6.8M589 164.9h1.7M393.5 165.9h1.7M459.8 165.9h1.7M463.2 165.9h1.7M468.3 165.9h1.7M473.4 165.9h3.4M478.5 165.9h1.7M483.6 165.9h1.7M544.8 165.9h3.4M549.9 165.9h5.1M580.5 165.9h3.4M619.6 165.9h1.7M626.4 165.9h1.7M463.2 166.9h3.4M468.3 166.9h3.4M480.2 166.9h1.7M492.1 166.9h1.7M548.2 166.9h5.1M575.4 166.9h3.4M580.5 166.9h8.5M592.4 166.9h1.7M599.2 166.9h1.7M461.5 167.9h3.4M468.3 167.9h1.7M473.4 167.9h1.7M517.6 167.9h1.7M546.5 167.9h1.7M560.1 167.9h1.7M570.3 167.9h1.7M580.5 167.9h3.4M436 168.9h1.7M459.8 168.9h1.7M471.7 168.9h1.7M546.5 168.9h1.7M551.6 168.9h1.7M580.5 168.9h1.7M585.6 168.9h3.4M402 169.9h1.7M413.9 169.9h1.7M427.5 169.9h1.7M461.5 169.9h1.7M464.9 169.9h1.7M470 169.9h5.1M476.8 169.9h1.7M481.9 169.9h1.7M502.3 169.9h1.7M544.8 169.9h3.4M549.9 169.9h5.1M560.1 169.9h1.7M582.2 169.9h6.8M430.9 171h1.7M463.2 171h1.7M466.6 171h1.7M471.7 171h1.7M475.1 171h1.7M478.5 171h1.7M485.3 171h1.7M521 171h1.7M544.8 171h1.7M548.2 171h6.8M580.5 171h3.4M585.6 171h5.1M595.8 171h1.7M461.5 172h10.2M473.4 172h1.7M527.8 172h1.7M546.5 172h8.5M556.7 172h1.7M577.1 172h1.7M580.5 172h3.4M585.6 172h5.1M599.2 172h1.7M619.6 172h1.7M447.9 173h1.7M459.8 173h1.7M464.9 173h1.7M473.4 173h1.7M478.5 173h1.7M546.5 173h1.7M549.9 173h1.7M556.7 173h1.7M580.5 173h3.4M430.9 174h1.7M437.7 174h1.7M468.3 174h1.7M546.5 174h3.4M553.3 174h1.7M580.5 174h10.2M461.5 175h1.7M464.9 175h1.7M468.3 175h3.4M475.1 175h1.7M544.8 175h3.4M549.9 175h3.4M566.9 175h1.7M572 175h1.7M577.1 175h1.7M582.2 175h3.4M587.3 175h1.7M396.9 176h1.7M407.1 176h1.7M473.4 176h1.7M483.6 176h1.7M502.3 176h1.7M507.4 176h1.7M546.5 176h1.7M549.9 176h1.7M556.7 176h1.7M577.1 176h1.7M580.5 176h1.7M585.6 176h1.7M589 176h1.7M626.4 176h1.7M471.7 177h1.7M524.4 177h3.4M597.5 177h3.4M624.7 177h1.7M461.5 178h8.5M471.7 178h17M498.9 178h1.7M502.3 178h1.7M541.4 178h1.7M544.8 178h1.7M548.2 178h6.8M556.7 178h1.7M563.5 178h3.4M572 178h1.7M577.1 178h15.3M614.5 178h1.7M626.4 178h1.7M419 179h1.7M430.9 179h1.7M463.2 179h1.7M473.4 179h3.4M488.7 179h1.7M526.1 179h3.4M536.3 179h1.7M544.8 179h3.4M553.3 179h1.7M582.2 179h1.7M587.3 179h3.4M607.7 179h1.7M624.7 179h1.7M417.3 180h1.7M463.2 180h1.7M507.4 180h1.7M527.8 180h1.7M549.9 180h1.7M573.7 180h1.7M582.2 180h1.7M609.4 180h1.7M444.5 181h1.7M454.7 181h1.7M459.8 181h1.7M544.8 181h1.7M549.9 181h1.7M582.2 181h1.7M585.6 181h1.7M633.2 181h1.7M405.4 182h1.7M415.6 182h1.7M459.8 182h5.1M468.3 182h3.4M490.4 182h1.7M497.2 182h1.7M541.4 182h6.8M549.9 182h3.4M580.5 182h3.4M585.6 182h5.1M594.1 182h1.7M464.9 183h1.7M468.3 183h1.7M471.7 183h5.1M478.5 183h3.4M493.8 183h1.7M509.1 183h1.7M541.4 183h1.7M544.8 183h8.5M580.5 183h3.4M587.3 183h1.7M616.2 183h1.7M396.9 184h1.7M473.4 184h3.4M502.3 184h3.4M546.5 184h6.8M580.5 184h3.4M415.6 185h1.7M422.4 185h1.7M434.3 185h1.7M456.4 185h1.7M459.8 185h3.4M529.5 185h1.7M538 185h1.7M560.1 185h1.7M580.5 185h1.7M583.9 185h1.7M391.8 186h1.7M398.6 186h1.7M459.8 186h3.4M464.9 186h1.7M468.3 186h3.4M476.8 186h1.7M480.2 186h1.7M483.6 186h1.7M493.8 186h1.7M544.8 186h10.2M572 186h1.7M582.2 186h8.5M600.9 186h1.7M396.9 187h1.7M417.3 187h1.7M473.4 187h1.7M512.5 187h1.7M531.2 187h1.7M546.5 187h1.7M551.6 187h1.7M580.5 187h1.7M583.9 187h1.7M595.8 187h1.7M408.8 188h1.7M458.1 188h1.7M463.2 188h1.7M466.6 188h1.7M471.7 188h3.4M544.8 188h8.5M580.5 188h1.7M468.3 189h1.7M473.4 189h1.7M481.9 189h1.7M543.1 189h1.7M546.5 189h6.8M580.5 189h8.5M396.9 190h1.7M402 190h1.7M453 190h1.7M461.5 190h1.7M468.3 190h1.7M473.4 190h1.7M481.9 190h1.7M526.1 190h1.7M544.8 190h1.7M551.6 190h1.7M580.5 190h3.4M587.3 190h1.7M600.9 190h1.7M606 190h1.7M456.4 191h1.7M461.5 191h1.7M468.3 191h1.7M473.4 191h3.4M546.5 191h1.7M549.9 191h1.7M580.5 191h3.4M468.3 192h1.7M549.9 192h1.7M585.6 192h1.7M396.9 193.1h1.7M424.1 193.1h1.7M461.5 193.1h1.7M558.4 193.1h1.7M582.2 193.1h1.7M391.8 194.1h1.7M393.5 195.1h3.4M413.9 195.1h3.4M463.2 195.1h1.7M466.6 195.1h1.7M473.4 195.1h1.7M502.3 195.1h1.7M509.1 195.1h1.7M534.6 195.1h1.7M546.5 195.1h3.4M553.3 195.1h1.7M580.5 195.1h3.4M585.6 195.1h3.4M602.6 195.1h1.7M633.2 195.1h1.7M408.8 196.1h1.7M444.5 196.1h1.7M459.8 196.1h1.7M470 196.1h1.7M473.4 196.1h1.7M507.4 196.1h1.7M534.6 196.1h1.7M548.2 196.1h3.4M514.2 197.1h1.7M551.6 197.1h1.7M572 197.1h1.7M587.3 197.1h1.7M604.3 197.1h1.7M391.8 198.1h1.7M395.2 198.1h3.4M447.9 198.1h1.7M461.5 198.1h1.7M464.9 198.1h1.7M473.4 198.1h1.7M481.9 198.1h1.7M546.5 198.1h8.5M561.8 198.1h1.7M565.2 198.1h1.7M580.5 198.1h10.2M602.6 198.1h1.7M405.4 199.1h1.7M415.6 199.1h1.7M476.8 199.1h1.7M488.7 199.1h1.7M544.8 199.1h3.4M549.9 199.1h1.7M580.5 199.1h1.7M583.9 199.1h5.1M391.8 200.1h5.1M458.1 200.1h3.4M468.3 200.1h1.7M502.3 200.1h1.7M543.1 200.1h1.7M548.2 200.1h6.8M565.2 200.1h1.7M580.5 200.1h10.2M611.1 200.1h1.7M391.8 201.1h5.1M398.6 201.1h1.7M402 201.1h1.7M417.3 201.1h1.7M437.7 201.1h1.7M463.2 201.1h1.7M548.2 201.1h5.1M580.5 201.1h1.7M583.9 201.1h6.8M616.2 201.1h1.7M490.4 202.1h3.4M565.2 202.1h1.7M626.4 202.1h1.7M395.2 203.1h5.1M402 203.1h1.7M546.5 203.1h1.7M549.9 203.1h3.4M582.2 203.1h1.7M585.6 203.1h3.4M595.8 203.1h1.7M417.3 204.1h1.7M548.2 204.1h1.7M582.2 204.1h1.7M585.6 204.1h1.7M634.9 204.1h1.7M393.5 205.1h1.7M396.9 205.1h1.7M402 205.1h1.7M417.3 205.1h1.7M475.1 205.1h1.7M544.8 205.1h1.7M549.9 205.1h3.4M582.2 205.1h6.8M395.2 206.1h3.4M407.1 206.1h1.7M410.5 206.1h1.7M413.9 206.1h1.7M437.7 206.1h1.7M453 206.1h1.7M456.4 206.1h1.7M546.5 206.1h1.7M549.9 206.1h1.7M580.5 206.1h5.1M595.8 206.1h1.7M393.5 207.1h13.6M408.8 207.1h3.4M415.6 207.1h5.1M422.4 207.1h3.4M434.3 207.1h1.7M437.7 207.1h3.4M444.5 207.1h1.7M451.3 207.1h5.1M493.8 207.1h1.7M544.8 207.1h8.5M580.5 207.1h3.4M585.6 207.1h3.4M624.7 207.1h1.7M396.9 208.1h1.7M402 208.1h1.7M405.4 208.1h1.7M410.5 208.1h3.4M430.9 208.1h1.7M548.2 208.1h1.7M551.6 208.1h1.7M580.5 208.1h6.8M589 208.1h1.7M629.8 208.1h1.7M391.8 209.1h6.8M400.3 209.1h5.1M407.1 209.1h5.1M415.6 209.1h1.7M419 209.1h1.7M425.8 209.1h3.4M437.7 209.1h10.2M505.7 209.1h1.7M544.8 209.1h3.4M549.9 209.1h3.4M582.2 209.1h5.1M393.5 210.1h1.7M396.9 210.1h1.7M402 210.1h1.7M436 210.1h1.7M444.5 210.1h1.7M549.9 210.1h1.7M580.5 210.1h5.1M396.9 211.1h1.7M407.1 211.1h3.4M424.1 211.1h1.7M471.7 211.1h1.7M488.7 211.1h1.7M507.4 211.1h3.4M612.8 211.1h1.7M619.6 211.1h1.7M395.2 212.1h10.2M407.1 212.1h1.7M410.5 212.1h1.7M419 212.1h3.4M429.2 212.1h3.4M447.9 212.1h1.7M456.4 212.1h1.7M461.5 212.1h1.7M475.1 212.1h1.7M493.8 212.1h3.4M498.9 212.1h1.7M507.4 212.1h1.7M546.5 212.1h1.7M549.9 212.1h1.7M555 212.1h1.7M585.6 212.1h1.7M602.6 212.1h1.7M629.8 212.1h1.7M400.3 213.1h1.7M434.3 213.1h1.7M468.3 213.1h1.7M493.8 213.1h1.7M522.7 213.1h1.7M546.5 213.1h1.7M551.6 213.1h1.7M393.5 214.1h10.2M405.4 214.1h5.1M412.2 214.1h1.7M415.6 214.1h1.7M419 214.1h1.7M422.4 214.1h1.7M425.8 214.1h3.4M432.6 214.1h8.5M442.8 214.1h8.5M456.4 214.1h1.7M543.1 214.1h1.7M546.5 214.1h5.1M553.3 214.1h1.7M580.5 214.1h3.4M585.6 214.1h3.4M595.8 214.1h1.7M602.6 214.1h1.7M606 214.1h1.7M398.6 215.2h3.4M412.2 215.2h1.7M424.1 215.2h1.7M430.9 215.2h1.7M437.7 215.2h3.4M451.3 215.2h1.7M456.4 215.2h1.7M566.9 215.2h3.4M572 215.2h1.7M612.8 215.2h1.7M395.2 216.2h3.4M400.3 216.2h20.4M422.4 216.2h1.7M425.8 216.2h5.1M436 216.2h1.7M439.4 216.2h1.7M446.2 216.2h3.4M453 216.2h1.7M456.4 216.2h1.7M531.2 216.2h1.7M544.8 216.2h1.7M548.2 216.2h6.8M582.2 216.2h8.5M393.5 217.2h1.7M396.9 217.2h6.8M408.8 217.2h1.7M422.4 217.2h1.7M425.8 217.2h3.4M447.9 217.2h1.7M544.8 217.2h1.7M551.6 217.2h1.7M587.3 217.2h1.7M393.5 218.2h1.7M396.9 218.2h3.4M402 218.2h1.7M405.4 218.2h3.4M417.3 218.2h1.7M422.4 218.2h1.7M432.6 218.2h3.4M441.1 218.2h6.8M451.3 218.2h1.7M456.4 218.2h1.7M549.9 218.2h1.7M580.5 218.2h1.7M583.9 218.2h1.7M393.5 219.2h3.4M400.3 219.2h6.8M408.8 219.2h10.2M424.1 219.2h1.7M430.9 219.2h1.7M434.3 219.2h1.7M441.1 219.2h3.4M446.2 219.2h1.7M451.3 219.2h1.7M456.4 219.2h1.7M534.6 219.2h1.7M544.8 219.2h3.4M549.9 219.2h1.7M553.3 219.2h1.7M580.5 219.2h3.4M585.6 219.2h1.7M590.7 219.2h1.7M614.5 219.2h1.7M391.8 220.2h1.7M396.9 220.2h1.7M402 220.2h1.7M405.4 220.2h15.3M422.4 220.2h6.8M430.9 220.2h1.7M437.7 220.2h3.4M442.8 220.2h10.2M454.7 220.2h3.4M485.3 220.2h1.7M536.3 220.2h1.7M546.5 220.2h1.7M573.7 220.2h1.7M580.5 220.2h1.7M497.2 221.2h1.7M396.9 222.2h3.4M402 222.2h1.7M407.1 222.2h5.1M413.9 222.2h5.1M420.7 222.2h1.7M424.1 222.2h1.7M427.5 222.2h1.7M432.6 222.2h1.7M439.4 222.2h1.7M442.8 222.2h3.4M449.6 222.2h1.7M580.5 222.2h1.7M408.8 223.2h1.7M590.7 223.2h1.7M393.5 224.2h1.7M400.3 224.2h5.1M407.1 224.2h3.4M415.6 224.2h1.7M422.4 224.2h3.4M427.5 224.2h3.4M432.6 224.2h10.2M444.5 224.2h5.1M456.4 224.2h1.7M464.9 224.2h1.7M471.7 224.2h1.7M532.9 224.2h1.7M549.9 224.2h1.7M393.5 225.2h1.7M398.6 225.2h1.7M402 225.2h1.7M407.1 225.2h6.8M417.3 225.2h1.7M422.4 225.2h3.4M427.5 225.2h1.7M432.6 225.2h1.7M439.4 225.2h1.7M447.9 225.2h1.7M453 225.2h1.7M417.3 226.2h1.7M565.2 226.2h1.7M396.9 227.2h1.7M403.7 227.2h1.7M422.4 227.2h1.7M437.7 227.2h1.7M475.1 227.2h1.7M539.7 227.2h1.7M546.5 227.2h1.7M549.9 227.2h1.7M606 227.2h1.7M398.6 228.2h3.4M405.4 228.2h5.1M412.2 228.2h8.5M424.1 228.2h1.7M427.5 228.2h3.4M436 228.2h1.7M444.5 228.2h1.7M451.3 228.2h1.7M456.4 228.2h1.7M538 228.2h1.7M590.7 228.2h1.7M629.8 228.2h1.7M400.3 229.2h3.4M407.1 229.2h1.7M412.2 229.2h1.7M436 229.2h1.7M444.5 229.2h1.7M447.9 229.2h3.4M468.3 229.2h1.7M490.4 229.2h1.7M403.7 230.2h1.7M432.6 230.2h1.7M441.1 230.2h1.7M522.7 230.2h3.4M551.6 230.2h1.7M560.1 230.2h1.7M415.6 231.2h5.1M424.1 231.2h1.7M432.6 231.2h1.7M437.7 231.2h5.1M446.2 231.2h1.7M449.6 231.2h1.7M454.7 231.2h3.4M575.4 231.2h1.7M407.1 232.2h3.4M417.3 232.2h6.8M437.7 232.2h3.4M444.5 232.2h1.7M490.4 232.2h1.7M563.5 232.2h1.7M583.9 232.2h1.7M402 233.2h1.7M407.1 233.2h1.7M410.5 233.2h1.7M415.6 233.2h3.4M420.7 233.2h1.7M424.1 233.2h1.7M427.5 233.2h1.7M434.3 233.2h5.1M444.5 233.2h1.7M449.6 233.2h1.7M453 233.2h1.7M471.7 233.2h1.7M519.3 233.2h1.7M400.3 234.2h1.7M403.7 234.2h1.7M410.5 234.2h1.7M419 234.2h1.7M422.4 234.2h1.7M427.5 234.2h1.7M434.3 234.2h1.7M442.8 234.2h1.7M456.4 234.2h1.7M400.3 235.2h1.7M434.3 235.2h1.7M565.2 235.2h1.7M402 236.2h1.7M415.6 236.2h1.7M420.7 236.2h3.4M425.8 236.2h1.7M432.6 236.2h3.4M437.7 236.2h1.7M441.1 236.2h1.7M454.7 236.2h1.7M519.3 236.2h1.7M531.2 236.2h1.7M543.1 236.2h1.7M580.5 236.2h1.7M398.6 237.2h6.8M407.1 237.2h5.1M415.6 237.2h5.1M422.4 237.2h8.5M434.3 237.2h1.7M437.7 237.2h10.2M451.3 237.2h1.7M454.7 237.2h3.4M546.5 237.2h8.5M565.2 237.2h1.7M580.5 237.2h3.4M624.7 237.2h1.7M395.2 238.3h3.4M408.8 238.3h1.7M419 238.3h1.7M512.5 238.3h1.7M393.5 239.3h1.7M400.3 239.3h1.7M415.6 239.3h3.4M424.1 239.3h1.7M429.2 239.3h1.7M434.3 239.3h1.7M437.7 239.3h1.7M444.5 239.3h1.7M458.1 239.3h1.7M541.4 239.3h1.7M549.9 239.3h1.7M589 239.3h1.7M393.5 240.3h1.7M396.9 240.3h13.6M417.3 240.3h1.7M424.1 240.3h1.7M427.5 240.3h1.7M434.3 240.3h1.7M437.7 240.3h1.7M444.5 240.3h3.4M468.3 240.3h1.7M544.8 240.3h3.4M582.2 240.3h1.7M391.8 241.3h1.7M395.2 241.3h10.2M407.1 241.3h18.7M429.2 241.3h3.4M434.3 241.3h18.7M456.4 241.3h1.7M488.7 241.3h1.7M544.8 241.3h10.2M565.2 241.3h3.4M580.5 241.3h3.4M587.3 241.3h1.7M393.5 242.3h10.2M407.1 242.3h5.1M415.6 242.3h5.1M422.4 242.3h6.8M439.4 242.3h1.7M442.8 242.3h3.4M449.6 242.3h1.7M453 242.3h1.7M546.5 242.3h6.8M561.8 242.3h1.7M580.5 242.3h1.7M396.9 243.3h1.7M407.1 243.3h1.7M415.6 243.3h1.7M459.8 243.3h1.7M470 243.3h1.7M504 243.3h1.7M585.6 243.3h1.7M607.7 243.3h1.7M393.5 244.3h17M412.2 244.3h5.1M419 244.3h6.8M427.5 244.3h5.1M434.3 244.3h10.2M451.3 244.3h1.7M454.7 244.3h1.7M544.8 244.3h3.4M549.9 244.3h5.1M556.7 244.3h1.7M561.8 244.3h1.7M577.1 244.3h1.7M580.5 244.3h1.7M583.9 244.3h3.4M396.9 245.3h1.7M403.7 245.3h1.7M408.8 245.3h3.4M422.4 245.3h1.7M427.5 245.3h1.7M432.6 245.3h3.4M441.1 245.3h3.4M456.4 245.3h1.7M546.5 245.3h1.7M549.9 245.3h3.4M417.3 246.3h1.7M580.5 246.3h1.7M597.5 246.3h1.7M395.2 247.3h1.7M424.1 247.3h1.7M439.4 247.3h1.7M546.5 247.3h1.7M549.9 247.3h1.7M553.3 247.3h1.7M583.9 247.3h1.7M602.6 247.3h1.7M400.3 248.3h3.4M407.1 248.3h1.7M413.9 248.3h3.4M432.6 248.3h3.4M441.1 248.3h1.7M449.6 248.3h1.7M454.7 248.3h3.4M473.4 248.3h1.7M546.5 248.3h8.5M572 248.3h1.7M585.6 248.3h1.7M629.8 248.3h1.7"/>
<path stroke="#6da2d0" d="M408.8 136.8h1.7M468.3 136.8h3.4M473.4 136.8h1.7M512.5 136.8h1.7M553.3 136.8h1.7M572 136.8h1.7M578.8 136.8h1.7M585.6 136.8h1.7M589 136.8h1.7M402 137.8h3.4M407.1 137.8h1.7M410.5 137.8h1.7M463.2 137.8h1.7M471.7 137.8h1.7M493.8 137.8h1.7M505.7 137.8h1.7M543.1 137.8h1.7M546.5 137.8h1.7M583.9 137.8h1.7M607.7 137.8h1.7M621.3 137.8h1.7M628.1 137.8h1.7M446.2 138.8h1.7M449.6 138.8h1.7M466.6 138.8h1.7M473.4 138.8h1.7M483.6 138.8h1.7M544.8 138.8h3.4M565.2 138.8h1.7M585.6 138.8h1.7M395.2 139.8h1.7M405.4 139.8h1.7M410.5 139.8h1.7M458.1 139.8h1.7M461.5 139.8h1.7M470 139.8h5.1M480.2 139.8h1.7M504 139.8h1.7M566.9 139.8h1.7M572 139.8h3.4M587.3 139.8h1.7M395.2 140.8h3.4M403.7 140.8h1.7M408.8 140.8h1.7M415.6 140.8h1.7M422.4 140.8h1.7M464.9 140.8h1.7M483.6 140.8h1.7M498.9 140.8h1.7M572 140.8h1.7M391.8 141.8h1.7M396.9 141.8h1.7M405.4 141.8h3.4M415.6 141.8h1.7M458.1 141.8h1.7M468.3 141.8h1.7M476.8 141.8h1.7M480.2 141.8h1.7M504 141.8h1.7M521 141.8h1.7M551.6 141.8h1.7M556.7 141.8h1.7M566.9 141.8h1.7M570.3 141.8h1.7M597.5 141.8h1.7M402 142.8h1.7M408.8 142.8h1.7M434.3 142.8h1.7M459.8 142.8h5.1M468.3 142.8h3.4M473.4 142.8h1.7M476.8 142.8h6.8M563.5 142.8h3.4M580.5 142.8h1.7M393.5 143.8h1.7M410.5 143.8h1.7M427.5 143.8h1.7M466.6 143.8h1.7M471.7 143.8h1.7M493.8 143.8h1.7M553.3 143.8h5.1M568.6 143.8h1.7M587.3 143.8h1.7M405.4 144.8h1.7M408.8 144.8h1.7M412.2 144.8h1.7M454.7 144.8h1.7M502.3 144.8h1.7M551.6 144.8h3.4M600.9 144.8h1.7M606 144.8h1.7M391.8 145.8h1.7M432.6 145.8h1.7M456.4 145.8h1.7M461.5 145.8h1.7M464.9 145.8h1.7M476.8 145.8h1.7M538 145.8h1.7M566.9 145.8h1.7M578.8 145.8h1.7M587.3 145.8h1.7M402 146.8h1.7M456.4 146.8h1.7M471.7 146.8h1.7M500.6 146.8h1.7M544.8 146.8h1.7M590.7 146.8h1.7M396.9 147.9h1.7M403.7 147.9h1.7M407.1 147.9h1.7M492.1 147.9h1.7M546.5 147.9h1.7M563.5 147.9h1.7M587.3 147.9h1.7M597.5 147.9h1.7M396.9 148.9h1.7M400.3 148.9h1.7M405.4 148.9h1.7M415.6 148.9h1.7M459.8 148.9h1.7M473.4 148.9h3.4M478.5 148.9h1.7M492.1 148.9h1.7M507.4 148.9h1.7M556.7 148.9h1.7M563.5 148.9h1.7M568.6 148.9h1.7M580.5 148.9h1.7M587.3 148.9h3.4M396.9 149.9h1.7M407.1 149.9h1.7M461.5 149.9h1.7M464.9 149.9h1.7M470 149.9h1.7M473.4 149.9h1.7M476.8 149.9h1.7M481.9 149.9h1.7M549.9 149.9h1.7M561.8 149.9h1.7M572 149.9h3.4M393.5 150.9h1.7M410.5 150.9h1.7M419 150.9h1.7M441.1 150.9h1.7M459.8 150.9h1.7M464.9 150.9h1.7M471.7 150.9h1.7M507.4 150.9h1.7M512.5 150.9h1.7M553.3 150.9h3.4M575.4 150.9h1.7M391.8 151.9h1.7M459.8 151.9h1.7M468.3 151.9h1.7M471.7 151.9h1.7M532.9 151.9h1.7M549.9 151.9h1.7M556.7 151.9h5.1M565.2 151.9h1.7M578.8 151.9h1.7M583.9 151.9h1.7M587.3 151.9h1.7M607.7 151.9h1.7M449.6 152.9h1.7M459.8 152.9h1.7M468.3 152.9h1.7M536.3 152.9h1.7M585.6 152.9h1.7M619.6 152.9h1.7M424.1 153.9h1.7M461.5 153.9h1.7M470 153.9h1.7M504 153.9h1.7M534.6 153.9h1.7M544.8 153.9h3.4M555 153.9h1.7M595.8 153.9h1.7M395.2 154.9h3.4M400.3 154.9h1.7M461.5 154.9h1.7M464.9 154.9h1.7M468.3 154.9h1.7M475.1 154.9h1.7M536.3 154.9h1.7M549.9 154.9h1.7M556.7 154.9h3.4M561.8 154.9h1.7M585.6 154.9h1.7M589 154.9h1.7M592.4 154.9h1.7M633.2 154.9h1.7M422.4 155.9h1.7M430.9 155.9h1.7M458.1 155.9h1.7M463.2 155.9h3.4M471.7 155.9h1.7M551.6 155.9h1.7M572 155.9h1.7M444.5 156.9h1.7M468.3 156.9h1.7M549.9 156.9h1.7M570.3 156.9h1.7M587.3 156.9h5.1M422.4 157.9h1.7M446.2 157.9h1.7M475.1 157.9h1.7M519.3 157.9h1.7M551.6 157.9h1.7M580.5 157.9h1.7M599.2 157.9h1.7M393.5 158.9h1.7M476.8 158.9h1.7M546.5 158.9h1.7M580.5 158.9h1.7M606 158.9h1.7M634.9 158.9h1.7M396.9 159.9h1.7M607.7 159.9h1.7M400.3 160.9h1.7M403.7 160.9h1.7M407.1 160.9h1.7M463.2 160.9h1.7M470 160.9h3.4M475.1 160.9h1.7M480.2 160.9h3.4M487 160.9h1.7M517.6 160.9h1.7M531.2 160.9h1.7M539.7 160.9h1.7M556.7 160.9h1.7M563.5 160.9h1.7M589 160.9h1.7M447.9 161.9h1.7M461.5 161.9h1.7M466.6 161.9h1.7M473.4 161.9h1.7M544.8 161.9h1.7M551.6 161.9h1.7M585.6 161.9h1.7M590.7 161.9h1.7M617.9 161.9h1.7M396.9 162.9h1.7M420.7 162.9h1.7M453 162.9h1.7M475.1 162.9h1.7M481.9 162.9h1.7M502.3 162.9h1.7M534.6 162.9h1.7M541.4 162.9h1.7M553.3 162.9h1.7M583.9 162.9h1.7M587.3 162.9h1.7M434.3 163.9h1.7M468.3 163.9h5.1M478.5 163.9h1.7M507.4 163.9h1.7M536.3 163.9h1.7M553.3 163.9h1.7M556.7 163.9h1.7M585.6 163.9h5.1M621.3 163.9h1.7M624.7 163.9h1.7M393.5 164.9h1.7M396.9 164.9h1.7M427.5 164.9h1.7M468.3 164.9h1.7M471.7 164.9h1.7M476.8 164.9h1.7M498.9 164.9h1.7M546.5 164.9h3.4M551.6 164.9h1.7M565.2 164.9h1.7M442.8 165.9h1.7M449.6 165.9h1.7M470 165.9h1.7M492.1 165.9h1.7M507.4 165.9h1.7M538 165.9h1.7M548.2 165.9h1.7M555 165.9h3.4M570.3 165.9h1.7M587.3 165.9h5.1M633.2 165.9h1.7M396.9 166.9h1.7M459.8 166.9h3.4M471.7 166.9h1.7M478.5 166.9h1.7M483.6 166.9h1.7M490.4 166.9h1.7M504 166.9h1.7M544.8 166.9h3.4M553.3 166.9h1.7M560.1 166.9h1.7M565.2 166.9h1.7M570.3 166.9h3.4M612.8 166.9h1.7M393.5 167.9h1.7M396.9 167.9h1.7M441.1 167.9h1.7M504 167.9h1.7M544.8 167.9h1.7M548.2 167.9h3.4M583.9 167.9h1.7M595.8 167.9h1.7M402 168.9h1.7M468.3 168.9h1.7M473.4 168.9h1.7M480.2 168.9h5.1M493.8 168.9h1.7M497.2 168.9h1.7M544.8 168.9h1.7M549.9 168.9h1.7M553.3 168.9h1.7M565.2 168.9h1.7M575.4 168.9h1.7M582.2 168.9h3.4M451.3 169.9h1.7M459.8 169.9h1.7M463.2 169.9h1.7M475.1 169.9h1.7M483.6 169.9h1.7M488.7 169.9h5.1M504 169.9h1.7M563.5 169.9h1.7M570.3 169.9h3.4M589 169.9h3.4M616.2 169.9h1.7M628.1 169.9h1.7M393.5 171h1.7M419 171h1.7M468.3 171h1.7M476.8 171h1.7M498.9 171h1.7M517.6 171h1.7M541.4 171h3.4M555 171h1.7M565.2 171h3.4M572 171h1.7M583.9 171h1.7M602.6 171h1.7M607.7 171h1.7M623 171h1.7M634.9 171h1.7M400.3 172h1.7M481.9 172h5.1M504 172h1.7M509.1 172h1.7M512.5 172h1.7M544.8 172h1.7M555 172h1.7M558.4 172h1.7M561.8 172h1.7M578.8 172h1.7M583.9 172h1.7M590.7 172h1.7M408.8 173h1.7M413.9 173h1.7M436 173h1.7M446.2 173h1.7M468.3 173h1.7M471.7 173h1.7M476.8 173h1.7M480.2 173h3.4M497.2 173h1.7M517.6 173h1.7M544.8 173h1.7M548.2 173h1.7M565.2 173h1.7M607.7 173h1.7M463.2 174h3.4M473.4 174h3.4M480.2 174h1.7M485.3 174h1.7M544.8 174h1.7M551.6 174h1.7M555 174h1.7M575.4 174h1.7M403.7 175h1.7M454.7 175h1.7M471.7 175h3.4M476.8 175h1.7M481.9 175h1.7M485.3 175h1.7M493.8 175h1.7M553.3 175h3.4M585.6 175h1.7M590.7 175h1.7M614.5 175h1.7M628.1 175h1.7M463.2 176h6.8M495.5 176h1.7M548.2 176h1.7M551.6 176h3.4M604.3 176h1.7M461.5 177h3.4M475.1 177h1.7M561.8 177h1.7M582.2 177h1.7M587.3 177h1.7M619.6 177h1.7M393.5 178h1.7M417.3 178h1.7M458.1 178h3.4M488.7 178h1.7M493.8 178h3.4M558.4 178h3.4M568.6 178h1.7M604.3 178h1.7M609.4 178h1.7M402 179h1.7M464.9 179h1.7M476.8 179h1.7M510.8 179h1.7M514.2 179h1.7M549.9 179h3.4M556.7 179h1.7M566.9 179h1.7M580.5 179h1.7M585.6 179h1.7M616.2 179h1.7M629.8 179h1.7M396.9 180h1.7M427.5 180h1.7M459.8 180h1.7M468.3 180h1.7M471.7 180h3.4M483.6 180h1.7M488.7 180h1.7M510.8 180h1.7M515.9 180h1.7M543.1 180h1.7M548.2 180h1.7M602.6 180h1.7M628.1 180h1.7M415.6 181h1.7M463.2 181h1.7M475.1 181h1.7M546.5 181h1.7M551.6 181h1.7M580.5 181h1.7M393.5 182h1.7M425.8 182h1.7M464.9 182h3.4M473.4 182h3.4M480.2 182h3.4M504 182h1.7M517.6 182h1.7M553.3 182h1.7M583.9 182h1.7M595.8 182h1.7M624.7 182h1.7M408.8 183h1.7M425.8 183h1.7M451.3 183h1.7M456.4 183h1.7M466.6 183h1.7M476.8 183h1.7M483.6 183h1.7M553.3 183h1.7M572 183h1.7M583.9 183h1.7M464.9 184h1.7M468.3 184h3.4M498.9 184h3.4M514.2 184h1.7M529.5 184h1.7M544.8 184h1.7M583.9 184h3.4M589 184h1.7M412.2 185h1.7M437.7 185h1.7M458.1 185h1.7M464.9 185h1.7M471.7 185h1.7M478.5 185h1.7M497.2 185h1.7M502.3 185h1.7M512.5 185h1.7M543.1 185h3.4M548.2 185h1.7M553.3 185h1.7M582.2 185h1.7M587.3 185h1.7M595.8 185h1.7M628.1 185h1.7M458.1 186h1.7M463.2 186h1.7M466.6 186h1.7M473.4 186h1.7M478.5 186h1.7M485.3 186h5.1M492.1 186h1.7M497.2 186h1.7M504 186h1.7M509.1 186h1.7M512.5 186h1.7M538 186h1.7M560.1 186h1.7M575.4 186h1.7M580.5 186h1.7M634.9 186h1.7M470 187h3.4M497.2 187h1.7M553.3 187h1.7M565.2 187h1.7M599.2 187h1.7M607.7 187h1.7M393.5 188h1.7M459.8 188h3.4M468.3 188h1.7M493.8 188h1.7M514.2 188h1.7M563.5 188h1.7M582.2 188h6.8M395.2 189h1.7M415.6 189h1.7M430.9 189h1.7M447.9 189h1.7M461.5 189h3.4M470 189h3.4M475.1 189h1.7M480.2 189h1.7M485.3 189h1.7M493.8 189h3.4M502.3 189h1.7M529.5 189h1.7M555 189h1.7M589 189h1.7M391.8 190h1.7M400.3 190h1.7M463.2 190h1.7M497.2 190h1.7M546.5 190h5.1M583.9 190h1.7M589 190h1.7M459.8 191h1.7M463.2 191h1.7M470 191h1.7M497.2 191h1.7M509.1 191h1.7M512.5 191h1.7M541.4 191h1.7M544.8 191h1.7M585.6 191h1.7M396.9 192h1.7M463.2 192h1.7M470 192h1.7M475.1 192h1.7M488.7 192h1.7M497.2 192h1.7M544.8 192h1.7M616.2 192h3.4M475.1 193.1h1.7M480.2 193.1h1.7M456.4 194.1h1.7M498.9 194.1h1.7M568.6 194.1h1.7M592.4 194.1h1.7M602.6 194.1h1.7M427.5 195.1h1.7M459.8 195.1h3.4M468.3 195.1h1.7M471.7 195.1h1.7M475.1 195.1h3.4M483.6 195.1h1.7M490.4 195.1h1.7M510.8 195.1h1.7M544.8 195.1h1.7M551.6 195.1h1.7M583.9 195.1h1.7M589 195.1h1.7M393.5 196.1h1.7M407.1 196.1h1.7M456.4 196.1h1.7M463.2 196.1h1.7M471.7 196.1h1.7M475.1 196.1h1.7M544.8 196.1h1.7M551.6 196.1h1.7M582.2 196.1h3.4M417.3 197.1h1.7M476.8 197.1h1.7M549.9 197.1h1.7M578.8 197.1h1.7M393.5 198.1h1.7M413.9 198.1h1.7M456.4 198.1h1.7M463.2 198.1h1.7M468.3 198.1h3.4M483.6 198.1h1.7M504 198.1h1.7M510.8 198.1h1.7M555 198.1h1.7M595.8 198.1h1.7M607.7 198.1h1.7M619.6 198.1h1.7M393.5 199.1h3.4M402 199.1h1.7M463.2 199.1h1.7M468.3 199.1h1.7M471.7 199.1h1.7M475.1 199.1h1.7M502.3 199.1h1.7M548.2 199.1h1.7M553.3 199.1h1.7M556.7 199.1h1.7M589 199.1h1.7M599.2 199.1h1.7M629.8 199.1h1.7M400.3 200.1h3.4M408.8 200.1h1.7M415.6 200.1h3.4M441.1 200.1h5.1M476.8 200.1h3.4M490.4 200.1h1.7M572 200.1h1.7M590.7 200.1h1.7M396.9 201.1h1.7M400.3 201.1h1.7M408.8 201.1h1.7M424.1 201.1h1.7M464.9 201.1h1.7M475.1 201.1h1.7M522.7 201.1h1.7M538 201.1h1.7M544.8 201.1h1.7M553.3 201.1h3.4M582.2 201.1h1.7M595.8 201.1h1.7M599.2 201.1h1.7M602.6 201.1h1.7M398.6 202.1h1.7M407.1 202.1h1.7M412.2 202.1h3.4M424.1 202.1h1.7M436 202.1h1.7M451.3 202.1h1.7M468.3 202.1h1.7M476.8 202.1h1.7M538 202.1h1.7M551.6 202.1h1.7M570.3 202.1h1.7M595.8 202.1h1.7M602.6 202.1h1.7M415.6 203.1h1.7M495.5 203.1h1.7M548.2 203.1h1.7M583.9 203.1h1.7M589 203.1h1.7M396.9 204.1h1.7M402 204.1h1.7M422.4 204.1h1.7M461.5 204.1h1.7M475.1 204.1h1.7M527.8 204.1h1.7M609.4 204.1h1.7M419 205.1h1.7M447.9 205.1h1.7M546.5 205.1h1.7M580.5 205.1h1.7M589 205.1h1.7M393.5 206.1h1.7M405.4 206.1h1.7M434.3 206.1h1.7M442.8 206.1h3.4M459.8 206.1h1.7M534.6 206.1h1.7M544.8 206.1h1.7M551.6 206.1h3.4M585.6 206.1h1.7M589 206.1h1.7M616.2 206.1h1.7M629.8 206.1h1.7M633.2 206.1h1.7M391.8 207.1h1.7M407.1 207.1h1.7M413.9 207.1h1.7M425.8 207.1h3.4M430.9 207.1h1.7M436 207.1h1.7M441.1 207.1h3.4M446.2 207.1h1.7M466.6 207.1h1.7M570.3 207.1h1.7M590.7 207.1h1.7M602.6 207.1h1.7M629.8 207.1h3.4M391.8 208.1h3.4M398.6 208.1h3.4M407.1 208.1h1.7M417.3 208.1h3.4M429.2 208.1h1.7M432.6 208.1h3.4M442.8 208.1h1.7M447.9 208.1h1.7M456.4 208.1h1.7M546.5 208.1h1.7M555 208.1h1.7M587.3 208.1h1.7M420.7 209.1h3.4M432.6 209.1h1.7M436 209.1h1.7M449.6 209.1h1.7M453 209.1h5.1M580.5 209.1h1.7M590.7 209.1h1.7M407.1 210.1h1.7M413.9 210.1h3.4M420.7 210.1h1.7M434.3 210.1h1.7M447.9 210.1h1.7M454.7 210.1h1.7M500.6 210.1h1.7M529.5 210.1h1.7M553.3 210.1h1.7M560.1 210.1h1.7M565.2 210.1h1.7M589 210.1h1.7M604.3 210.1h1.7M417.3 211.1h1.7M461.5 211.1h1.7M515.9 211.1h1.7M544.8 211.1h1.7M549.9 211.1h1.7M614.5 211.1h1.7M393.5 212.1h1.7M408.8 212.1h1.7M412.2 212.1h3.4M417.3 212.1h1.7M432.6 212.1h3.4M437.7 212.1h1.7M454.7 212.1h1.7M458.1 212.1h1.7M512.5 212.1h1.7M529.5 212.1h1.7M544.8 212.1h1.7M553.3 212.1h1.7M566.9 212.1h1.7M573.7 212.1h1.7M580.5 212.1h3.4M587.3 212.1h3.4M617.9 212.1h1.7M395.2 213.1h3.4M429.2 213.1h1.7M437.7 213.1h1.7M444.5 213.1h1.7M488.7 213.1h1.7M502.3 213.1h1.7M529.5 213.1h1.7M534.6 213.1h1.7M549.9 213.1h1.7M580.5 213.1h3.4M606 213.1h1.7M413.9 214.1h1.7M424.1 214.1h1.7M429.2 214.1h3.4M529.5 214.1h1.7M544.8 214.1h1.7M583.9 214.1h1.7M594.1 214.1h1.7M626.4 214.1h1.7M629.8 214.1h1.7M633.2 214.1h1.7M396.9 215.2h1.7M403.7 215.2h3.4M410.5 215.2h1.7M417.3 215.2h3.4M422.4 215.2h1.7M432.6 215.2h3.4M446.2 215.2h3.4M458.1 215.2h1.7M461.5 215.2h1.7M551.6 215.2h1.7M582.2 215.2h1.7M585.6 215.2h1.7M391.8 216.2h1.7M398.6 216.2h1.7M420.7 216.2h1.7M430.9 216.2h1.7M441.1 216.2h1.7M444.5 216.2h1.7M449.6 216.2h1.7M483.6 216.2h1.7M546.5 216.2h1.7M403.7 217.2h1.7M407.1 217.2h1.7M412.2 217.2h1.7M415.6 217.2h1.7M430.9 217.2h1.7M441.1 217.2h1.7M444.5 217.2h1.7M449.6 217.2h1.7M456.4 217.2h1.7M473.4 217.2h1.7M546.5 217.2h1.7M582.2 217.2h1.7M585.6 217.2h1.7M589 217.2h1.7M629.8 217.2h1.7M395.2 218.2h1.7M400.3 218.2h1.7M403.7 218.2h1.7M408.8 218.2h8.5M449.6 218.2h1.7M463.2 218.2h1.7M468.3 218.2h1.7M481.9 218.2h1.7M487 218.2h1.7M504 218.2h1.7M526.1 218.2h1.7M546.5 218.2h1.7M551.6 218.2h1.7M555 218.2h1.7M582.2 218.2h1.7M602.6 218.2h1.7M419 219.2h1.7M425.8 219.2h3.4M432.6 219.2h1.7M437.7 219.2h3.4M449.6 219.2h1.7M453 219.2h1.7M507.4 219.2h1.7M526.1 219.2h1.7M551.6 219.2h1.7M583.9 219.2h1.7M602.6 219.2h1.7M393.5 220.2h1.7M400.3 220.2h1.7M403.7 220.2h1.7M432.6 220.2h3.4M453 220.2h1.7M551.6 220.2h3.4M583.9 220.2h1.7M480.2 221.2h1.7M483.6 221.2h1.7M517.6 221.2h1.7M521 221.2h1.7M531.2 221.2h1.7M572 221.2h1.7M616.2 221.2h1.7M400.3 222.2h1.7M403.7 222.2h1.7M412.2 222.2h1.7M419 222.2h1.7M422.4 222.2h1.7M430.9 222.2h1.7M434.3 222.2h1.7M437.7 222.2h1.7M441.1 222.2h1.7M446.2 222.2h3.4M451.3 222.2h1.7M454.7 222.2h1.7M524.4 222.2h1.7M402 223.2h1.7M410.5 223.2h1.7M415.6 223.2h1.7M429.2 223.2h1.7M481.9 223.2h1.7M595.8 223.2h1.7M405.4 224.2h1.7M412.2 224.2h3.4M417.3 224.2h3.4M425.8 224.2h1.7M449.6 224.2h3.4M454.7 224.2h1.7M493.8 224.2h1.7M531.2 224.2h1.7M536.3 224.2h1.7M582.2 224.2h1.7M595.8 224.2h1.7M626.4 224.2h1.7M396.9 225.2h1.7M413.9 225.2h1.7M437.7 225.2h1.7M441.1 225.2h5.1M454.7 225.2h1.7M461.5 225.2h1.7M587.3 225.2h1.7M606 225.2h1.7M633.2 225.2h1.7M396.9 226.2h1.7M434.3 226.2h1.7M439.4 226.2h1.7M447.9 226.2h1.7M536.3 226.2h1.7M577.1 226.2h1.7M580.5 226.2h1.7M583.9 226.2h1.7M590.7 226.2h1.7M606 226.2h1.7M400.3 227.2h3.4M408.8 227.2h1.7M417.3 227.2h1.7M424.1 227.2h3.4M441.1 227.2h1.7M447.9 227.2h3.4M453 227.2h1.7M473.4 227.2h1.7M483.6 227.2h1.7M493.8 227.2h1.7M502.3 227.2h3.4M538 227.2h1.7M541.4 227.2h1.7M544.8 227.2h1.7M575.4 227.2h1.7M595.8 227.2h1.7M396.9 228.2h1.7M425.8 228.2h1.7M430.9 228.2h1.7M441.1 228.2h3.4M446.2 228.2h1.7M480.2 228.2h1.7M551.6 228.2h1.7M395.2 229.2h1.7M410.5 229.2h1.7M417.3 229.2h1.7M424.1 229.2h1.7M427.5 229.2h5.1M441.1 229.2h1.7M453 229.2h3.4M463.2 229.2h1.7M507.4 229.2h1.7M541.4 229.2h1.7M565.2 229.2h1.7M582.2 229.2h1.7M599.2 229.2h1.7M617.9 229.2h1.7M398.6 230.2h1.7M402 230.2h1.7M408.8 230.2h1.7M415.6 230.2h3.4M437.7 230.2h1.7M447.9 230.2h1.7M471.7 230.2h1.7M526.1 230.2h1.7M534.6 230.2h1.7M541.4 230.2h1.7M580.5 230.2h1.7M595.8 230.2h3.4M623 230.2h1.7M405.4 231.2h3.4M410.5 231.2h1.7M436 231.2h1.7M442.8 231.2h1.7M453 231.2h1.7M475.1 231.2h1.7M495.5 231.2h1.7M514.2 231.2h1.7M612.8 231.2h1.7M395.2 232.2h1.7M400.3 232.2h1.7M405.4 232.2h1.7M410.5 232.2h3.4M415.6 232.2h1.7M424.1 232.2h1.7M434.3 232.2h1.7M442.8 232.2h1.7M447.9 232.2h1.7M456.4 232.2h1.7M546.5 232.2h1.7M549.9 232.2h1.7M580.5 232.2h1.7M400.3 233.2h1.7M419 233.2h1.7M432.6 233.2h1.7M442.8 233.2h1.7M447.9 233.2h1.7M454.7 233.2h1.7M475.1 233.2h1.7M488.7 233.2h1.7M546.5 233.2h1.7M549.9 233.2h1.7M575.4 233.2h1.7M582.2 233.2h1.7M398.6 234.2h1.7M407.1 234.2h1.7M417.3 234.2h1.7M429.2 234.2h1.7M432.6 234.2h1.7M437.7 234.2h1.7M441.1 234.2h1.7M447.9 234.2h1.7M453 234.2h1.7M548.2 234.2h3.4M553.3 234.2h1.7M573.7 234.2h1.7M587.3 234.2h1.7M415.6 235.2h1.7M422.4 235.2h1.7M425.8 235.2h1.7M430.9 235.2h1.7M447.9 235.2h1.7M463.2 235.2h1.7M471.7 235.2h1.7M493.8 235.2h1.7M549.9 235.2h1.7M560.1 235.2h1.7M600.9 235.2h1.7M604.3 235.2h1.7M619.6 235.2h1.7M407.1 236.2h1.7M410.5 236.2h1.7M417.3 236.2h3.4M424.1 236.2h1.7M430.9 236.2h1.7M436 236.2h1.7M442.8 236.2h1.7M449.6 236.2h3.4M456.4 236.2h1.7M483.6 236.2h1.7M549.9 236.2h1.7M553.3 236.2h1.7M563.5 236.2h1.7M609.4 236.2h1.7M405.4 237.2h1.7M412.2 237.2h3.4M420.7 237.2h1.7M566.9 237.2h1.7M572 237.2h1.7M585.6 237.2h1.7M602.6 237.2h1.7M400.3 238.3h3.4M407.1 238.3h1.7M422.4 238.3h1.7M437.7 238.3h3.4M444.5 238.3h1.7M447.9 238.3h3.4M459.8 238.3h1.7M475.1 238.3h1.7M546.5 238.3h3.4M590.7 238.3h3.4M600.9 238.3h1.7M402 239.3h5.1M408.8 239.3h1.7M419 239.3h1.7M441.1 239.3h1.7M446.2 239.3h1.7M449.6 239.3h1.7M456.4 239.3h1.7M468.3 239.3h1.7M509.1 239.3h1.7M544.8 239.3h1.7M556.7 239.3h1.7M561.8 239.3h5.1M568.6 239.3h3.4M580.5 239.3h1.7M633.2 239.3h1.7M410.5 240.3h5.1M422.4 240.3h1.7M429.2 240.3h1.7M432.6 240.3h1.7M436 240.3h1.7M441.1 240.3h1.7M447.9 240.3h3.4M456.4 240.3h1.7M521 240.3h1.7M549.9 240.3h5.1M556.7 240.3h1.7M577.1 240.3h1.7M587.3 240.3h1.7M633.2 240.3h1.7M425.8 241.3h3.4M556.7 241.3h1.7M563.5 241.3h1.7M570.3 241.3h1.7M573.7 241.3h1.7M391.8 242.3h1.7M412.2 242.3h1.7M432.6 242.3h3.4M441.1 242.3h1.7M451.3 242.3h1.7M470 242.3h1.7M519.3 242.3h1.7M553.3 242.3h3.4M565.2 242.3h1.7M582.2 242.3h1.7M619.6 242.3h1.7M400.3 243.3h1.7M439.4 243.3h1.7M444.5 243.3h1.7M449.6 243.3h1.7M461.5 243.3h1.7M500.6 243.3h1.7M555 243.3h1.7M565.2 243.3h1.7M582.2 243.3h1.7M391.8 244.3h1.7M410.5 244.3h1.7M425.8 244.3h1.7M432.6 244.3h1.7M447.9 244.3h3.4M456.4 244.3h1.7M488.7 244.3h1.7M555 244.3h1.7M572 244.3h1.7M587.3 244.3h3.4M393.5 245.3h1.7M400.3 245.3h1.7M405.4 245.3h1.7M417.3 245.3h5.1M429.2 245.3h1.7M436 245.3h1.7M447.9 245.3h1.7M538 245.3h1.7M544.8 245.3h1.7M563.5 245.3h1.7M566.9 245.3h1.7M572 245.3h1.7M582.2 245.3h1.7M587.3 245.3h1.7M604.3 245.3h1.7M617.9 245.3h1.7M629.8 245.3h1.7M395.2 246.3h1.7M405.4 246.3h3.4M412.2 246.3h1.7M437.7 246.3h1.7M441.1 246.3h1.7M446.2 246.3h1.7M549.9 246.3h3.4M563.5 246.3h1.7M403.7 247.3h3.4M408.8 247.3h1.7M419 247.3h1.7M587.3 247.3h1.7M395.2 248.3h3.4M403.7 248.3h1.7M412.2 248.3h1.7M417.3 248.3h1.7M420.7 248.3h3.4M430.9 248.3h1.7M439.4 248.3h1.7M442.8 248.3h1.7M451.3 248.3h1.7M461.5 248.3h1.7M573.7 248.3h1.7M580.5 248.3h3.4"/>
<path stroke="#8cb6da" d="M391.8 136.8h1.7M400.3 136.8h3.4M410.5 136.8h1.7M419 136.8h1.7M427.5 136.8h1.7M459.8 136.8h1.7M464.9 136.8h1.7M478.5 136.8h3.4M497.2 136.8h1.7M500.6 136.8h1.7M558.4 136.8h1.7M563.5 136.8h6.8M573.7 136.8h1.7M577.1 136.8h1.7M391.8 137.8h1.7M405.4 137.8h1.7M408.8 137.8h1.7M419 137.8h1.7M424.1 137.8h1.7M434.3 137.8h1.7M439.4 137.8h1.7M446.2 137.8h1.7M468.3 137.8h1.7M473.4 137.8h1.7M478.5 137.8h3.4M485.3 137.8h1.7M500.6 137.8h1.7M548.2 137.8h1.7M553.3 137.8h1.7M556.7 137.8h1.7M560.1 137.8h1.7M566.9 137.8h1.7M572 137.8h1.7M585.6 137.8h3.4M595.8 137.8h1.7M604.3 137.8h1.7M609.4 137.8h1.7M626.4 137.8h1.7M400.3 138.8h1.7M410.5 138.8h1.7M417.3 138.8h1.7M422.4 138.8h1.7M461.5 138.8h1.7M468.3 138.8h1.7M475.1 138.8h6.8M512.5 138.8h1.7M522.7 138.8h1.7M543.1 138.8h1.7M548.2 138.8h1.7M572 138.8h1.7M612.8 138.8h1.7M634.9 138.8h1.7M393.5 139.8h1.7M396.9 139.8h1.7M400.3 139.8h1.7M407.1 139.8h1.7M412.2 139.8h1.7M422.4 139.8h1.7M453 139.8h1.7M459.8 139.8h1.7M475.1 139.8h1.7M483.6 139.8h1.7M521 139.8h1.7M556.7 139.8h1.7M560.1 139.8h1.7M570.3 139.8h1.7M589 139.8h1.7M400.3 140.8h3.4M410.5 140.8h3.4M436 140.8h1.7M463.2 140.8h1.7M466.6 140.8h5.1M481.9 140.8h1.7M510.8 140.8h1.7M544.8 140.8h1.7M561.8 140.8h5.1M570.3 140.8h1.7M589 140.8h1.7M410.5 141.8h3.4M420.7 141.8h1.7M459.8 141.8h3.4M470 141.8h3.4M478.5 141.8h1.7M483.6 141.8h1.7M510.8 141.8h1.7M565.2 141.8h1.7M572 141.8h1.7M575.4 141.8h1.7M589 141.8h1.7M602.6 141.8h1.7M612.8 141.8h1.7M633.2 141.8h1.7M398.6 142.8h1.7M403.7 142.8h1.7M417.3 142.8h1.7M420.7 142.8h1.7M424.1 142.8h1.7M458.1 142.8h1.7M464.9 142.8h1.7M483.6 142.8h1.7M531.2 142.8h1.7M556.7 142.8h1.7M572 142.8h1.7M609.4 142.8h1.7M408.8 143.8h1.7M413.9 143.8h1.7M463.2 143.8h1.7M565.2 143.8h1.7M577.1 143.8h1.7M589 143.8h1.7M597.5 143.8h1.7M396.9 144.8h1.7M400.3 144.8h1.7M407.1 144.8h1.7M417.3 144.8h1.7M420.7 144.8h1.7M439.4 144.8h1.7M449.6 144.8h1.7M459.8 144.8h3.4M470 144.8h5.1M480.2 144.8h1.7M512.5 144.8h1.7M543.1 144.8h3.4M548.2 144.8h1.7M555 144.8h1.7M560.1 144.8h1.7M585.6 144.8h1.7M623 144.8h3.4M633.2 144.8h1.7M400.3 145.8h3.4M408.8 145.8h1.7M412.2 145.8h6.8M441.1 145.8h1.7M459.8 145.8h1.7M470 145.8h6.8M480.2 145.8h1.7M485.3 145.8h3.4M539.7 145.8h3.4M555 145.8h1.7M558.4 145.8h1.7M563.5 145.8h3.4M572 145.8h1.7M589 145.8h1.7M602.6 145.8h1.7M391.8 146.8h1.7M395.2 146.8h1.7M398.6 146.8h3.4M417.3 146.8h1.7M422.4 146.8h1.7M463.2 146.8h1.7M466.6 146.8h1.7M476.8 146.8h1.7M492.1 146.8h1.7M510.8 146.8h1.7M546.5 146.8h1.7M558.4 146.8h1.7M565.2 146.8h1.7M577.1 146.8h1.7M606 146.8h3.4M629.8 146.8h1.7M395.2 147.9h1.7M400.3 147.9h3.4M464.9 147.9h3.4M480.2 147.9h3.4M485.3 147.9h1.7M529.5 147.9h1.7M548.2 147.9h1.7M556.7 147.9h1.7M595.8 147.9h1.7M629.8 147.9h1.7M402 148.9h1.7M456.4 148.9h1.7M464.9 148.9h1.7M471.7 148.9h1.7M536.3 148.9h1.7M543.1 148.9h1.7M551.6 148.9h3.4M577.1 148.9h1.7M391.8 149.9h1.7M400.3 149.9h1.7M417.3 149.9h1.7M434.3 149.9h1.7M463.2 149.9h1.7M466.6 149.9h1.7M480.2 149.9h1.7M485.3 149.9h1.7M517.6 149.9h1.7M551.6 149.9h1.7M555 149.9h1.7M558.4 149.9h3.4M566.9 149.9h1.7M578.8 149.9h1.7M391.8 150.9h1.7M400.3 150.9h1.7M403.7 150.9h1.7M407.1 150.9h1.7M434.3 150.9h1.7M466.6 150.9h1.7M470 150.9h1.7M476.8 150.9h1.7M492.1 150.9h1.7M514.2 150.9h1.7M538 150.9h1.7M541.4 150.9h1.7M558.4 150.9h1.7M561.8 150.9h5.1M577.1 150.9h1.7M604.3 150.9h1.7M621.3 150.9h1.7M626.4 150.9h3.4M393.5 151.9h1.7M407.1 151.9h1.7M410.5 151.9h1.7M415.6 151.9h1.7M424.1 151.9h1.7M461.5 151.9h3.4M478.5 151.9h6.8M487 151.9h1.7M504 151.9h1.7M544.8 151.9h1.7M561.8 151.9h3.4M566.9 151.9h1.7M577.1 151.9h1.7M585.6 151.9h1.7M405.4 152.9h1.7M415.6 152.9h1.7M424.1 152.9h1.7M456.4 152.9h1.7M463.2 152.9h1.7M475.1 152.9h3.4M483.6 152.9h1.7M493.8 152.9h1.7M553.3 152.9h1.7M558.4 152.9h1.7M568.6 152.9h3.4M577.1 152.9h1.7M580.5 152.9h1.7M587.3 152.9h1.7M606 152.9h1.7M626.4 152.9h1.7M393.5 153.9h5.1M410.5 153.9h1.7M439.4 153.9h1.7M466.6 153.9h1.7M475.1 153.9h1.7M480.2 153.9h3.4M509.1 153.9h3.4M526.1 153.9h1.7M541.4 153.9h1.7M548.2 153.9h1.7M578.8 153.9h1.7M585.6 153.9h3.4M590.7 153.9h1.7M599.2 153.9h1.7M628.1 153.9h1.7M463.2 154.9h1.7M471.7 154.9h1.7M476.8 154.9h1.7M481.9 154.9h1.7M548.2 154.9h1.7M553.3 154.9h3.4M565.2 154.9h1.7M577.1 154.9h1.7M612.8 154.9h1.7M396.9 155.9h3.4M403.7 155.9h3.4M408.8 155.9h1.7M468.3 155.9h3.4M480.2 155.9h1.7M485.3 155.9h1.7M490.4 155.9h1.7M536.3 155.9h1.7M553.3 155.9h6.8M565.2 155.9h3.4M570.3 155.9h1.7M575.4 155.9h1.7M602.6 155.9h1.7M607.7 155.9h3.4M614.5 155.9h1.7M398.6 156.9h1.7M415.6 156.9h1.7M437.7 156.9h1.7M441.1 156.9h1.7M449.6 156.9h1.7M466.6 156.9h1.7M471.7 156.9h1.7M475.1 156.9h3.4M481.9 156.9h1.7M546.5 156.9h1.7M556.7 156.9h1.7M580.5 156.9h1.7M583.9 156.9h1.7M619.6 156.9h1.7M628.1 156.9h1.7M633.2 156.9h1.7M398.6 157.9h1.7M463.2 157.9h3.4M568.6 157.9h1.7M572 157.9h1.7M582.2 157.9h1.7M597.5 157.9h1.7M459.8 158.9h1.7M473.4 158.9h1.7M502.3 158.9h1.7M509.1 158.9h1.7M543.1 158.9h1.7M555 158.9h1.7M575.4 158.9h1.7M582.2 158.9h1.7M587.3 158.9h3.4M607.7 158.9h1.7M629.8 158.9h1.7M395.2 159.9h1.7M398.6 159.9h1.7M415.6 159.9h1.7M481.9 159.9h1.7M529.5 159.9h1.7M546.5 159.9h1.7M549.9 159.9h1.7M566.9 159.9h1.7M580.5 159.9h3.4M595.8 159.9h1.7M393.5 160.9h1.7M441.1 160.9h1.7M464.9 160.9h1.7M468.3 160.9h1.7M485.3 160.9h1.7M546.5 160.9h1.7M558.4 160.9h3.4M410.5 161.9h1.7M463.2 161.9h1.7M485.3 161.9h1.7M497.2 161.9h1.7M549.9 161.9h1.7M555 161.9h1.7M587.3 161.9h1.7M595.8 161.9h1.7M629.8 161.9h1.7M395.2 162.9h1.7M400.3 162.9h1.7M408.8 162.9h1.7M427.5 162.9h3.4M434.3 162.9h1.7M459.8 162.9h3.4M471.7 162.9h3.4M478.5 162.9h1.7M497.2 162.9h1.7M504 162.9h1.7M514.2 162.9h1.7M529.5 162.9h1.7M536.3 162.9h1.7M546.5 162.9h3.4M551.6 162.9h1.7M563.5 162.9h1.7M566.9 162.9h1.7M570.3 162.9h1.7M577.1 162.9h1.7M585.6 162.9h1.7M617.9 162.9h1.7M407.1 163.9h1.7M427.5 163.9h1.7M432.6 163.9h1.7M476.8 163.9h1.7M490.4 163.9h1.7M498.9 163.9h1.7M546.5 163.9h1.7M555 163.9h1.7M577.1 163.9h1.7M583.9 163.9h1.7M612.8 163.9h1.7M446.2 164.9h1.7M470 164.9h1.7M475.1 164.9h1.7M480.2 164.9h3.4M487 164.9h1.7M495.5 164.9h1.7M514.2 164.9h1.7M522.7 164.9h1.7M526.1 164.9h1.7M556.7 164.9h1.7M570.3 164.9h1.7M578.8 164.9h1.7M587.3 164.9h1.7M606 164.9h1.7M619.6 164.9h1.7M628.1 164.9h1.7M396.9 165.9h1.7M408.8 165.9h1.7M471.7 165.9h1.7M480.2 165.9h3.4M487 165.9h1.7M495.5 165.9h1.7M543.1 165.9h1.7M560.1 165.9h3.4M565.2 165.9h3.4M578.8 165.9h1.7M583.9 165.9h3.4M604.3 165.9h1.7M621.3 165.9h3.4M395.2 166.9h1.7M405.4 166.9h1.7M410.5 166.9h1.7M417.3 166.9h1.7M446.2 166.9h1.7M453 166.9h1.7M466.6 166.9h1.7M473.4 166.9h3.4M481.9 166.9h1.7M485.3 166.9h1.7M488.7 166.9h1.7M497.2 166.9h1.7M566.9 166.9h1.7M589 166.9h1.7M617.9 166.9h1.7M624.7 166.9h3.4M629.8 166.9h3.4M395.2 167.9h1.7M400.3 167.9h1.7M447.9 167.9h1.7M459.8 167.9h1.7M466.6 167.9h1.7M498.9 167.9h1.7M529.5 167.9h1.7M551.6 167.9h5.1M573.7 167.9h1.7M578.8 167.9h1.7M585.6 167.9h5.1M594.1 167.9h1.7M631.5 167.9h1.7M464.9 168.9h1.7M470 168.9h1.7M475.1 168.9h5.1M492.1 168.9h1.7M512.5 168.9h3.4M527.8 168.9h1.7M538 168.9h1.7M541.4 168.9h3.4M548.2 168.9h1.7M556.7 168.9h1.7M563.5 168.9h1.7M573.7 168.9h1.7M589 168.9h1.7M604.3 168.9h1.7M633.2 168.9h1.7M466.6 169.9h3.4M480.2 169.9h1.7M485.3 169.9h1.7M498.9 169.9h1.7M507.4 169.9h1.7M515.9 169.9h1.7M541.4 169.9h1.7M548.2 169.9h1.7M566.9 169.9h1.7M602.6 169.9h1.7M396.9 171h1.7M427.5 171h1.7M439.4 171h1.7M456.4 171h1.7M461.5 171h1.7M464.9 171h1.7M470 171h1.7M473.4 171h1.7M480.2 171h5.1M488.7 171h1.7M505.7 171h3.4M522.7 171h1.7M556.7 171h1.7M568.6 171h3.4M577.1 171h1.7M592.4 171h1.7M604.3 171h1.7M393.5 172h1.7M398.6 172h1.7M402 172h1.7M458.1 172h3.4M471.7 172h1.7M476.8 172h1.7M480.2 172h1.7M493.8 172h1.7M498.9 172h1.7M502.3 172h1.7M507.4 172h1.7M538 172h1.7M541.4 172h1.7M568.6 172h1.7M597.5 172h1.7M609.4 172h5.1M621.3 172h1.7M629.8 172h1.7M403.7 173h1.7M410.5 173h1.7M417.3 173h1.7M441.1 173h3.4M461.5 173h1.7M466.6 173h1.7M470 173h1.7M487 173h1.7M553.3 173h3.4M558.4 173h1.7M563.5 173h1.7M566.9 173h3.4M572 173h1.7M577.1 173h3.4M585.6 173h3.4M590.7 173h1.7M594.1 173h1.7M597.5 173h1.7M611.1 173h3.4M619.6 173h1.7M626.4 173h1.7M396.9 174h1.7M461.5 174h1.7M470 174h1.7M478.5 174h1.7M504 174h1.7M514.2 174h1.7M549.9 174h1.7M556.7 174h1.7M577.1 174h1.7M604.3 174h3.4M395.2 175h1.7M419 175h1.7M427.5 175h1.7M456.4 175h1.7M478.5 175h1.7M490.4 175h1.7M505.7 175h1.7M538 175h1.7M548.2 175h1.7M560.1 175h1.7M575.4 175h1.7M580.5 175h1.7M589 175h1.7M602.6 175h3.4M612.8 175h1.7M616.2 175h1.7M619.6 175h1.7M413.9 176h1.7M444.5 176h1.7M459.8 176h3.4M471.7 176h1.7M480.2 176h1.7M485.3 176h1.7M497.2 176h1.7M512.5 176h1.7M541.4 176h5.1M560.1 176h1.7M582.2 176h3.4M606 176h1.7M395.2 177h3.4M412.2 177h1.7M417.3 177h3.4M424.1 177h1.7M436 177h1.7M470 177h1.7M493.8 177h1.7M497.2 177h1.7M544.8 177h1.7M549.9 177h3.4M629.8 177h1.7M398.6 178h1.7M439.4 178h1.7M470 178h1.7M490.4 178h1.7M504 178h1.7M512.5 178h6.8M539.7 178h1.7M543.1 178h1.7M555 178h1.7M566.9 178h1.7M570.3 178h1.7M628.1 178h3.4M391.8 179h1.7M395.2 179h1.7M400.3 179h1.7M415.6 179h1.7M422.4 179h1.7M451.3 179h1.7M485.3 179h1.7M490.4 179h1.7M493.8 179h1.7M502.3 179h1.7M539.7 179h1.7M561.8 179h1.7M565.2 179h1.7M570.3 179h1.7M590.7 179h1.7M599.2 179h1.7M606 179h1.7M611.1 179h1.7M614.5 179h1.7M617.9 179h1.7M400.3 180h3.4M413.9 180h1.7M441.1 180h1.7M453 180h1.7M475.1 180h3.4M492.1 180h1.7M512.5 180h1.7M534.6 180h1.7M544.8 180h1.7M551.6 180h3.4M565.2 180h1.7M570.3 180h1.7M580.5 180h1.7M585.6 180h1.7M599.2 180h1.7M629.8 180h1.7M405.4 181h1.7M461.5 181h1.7M470 181h1.7M476.8 181h1.7M480.2 181h1.7M529.5 181h1.7M565.2 181h1.7M621.3 181h1.7M391.8 182h1.7M417.3 182h1.7M456.4 182h1.7M476.8 182h1.7M483.6 182h3.4M488.7 182h1.7M495.5 182h1.7M498.9 182h1.7M509.1 182h1.7M515.9 182h1.7M560.1 182h1.7M565.2 182h1.7M597.5 182h3.4M612.8 182h1.7M617.9 182h1.7M439.4 183h3.4M463.2 183h1.7M470 183h1.7M488.7 183h1.7M502.3 183h3.4M517.6 183h1.7M563.5 183h5.1M578.8 183h1.7M589 183h1.7M391.8 184h1.7M395.2 184h1.7M400.3 184h1.7M413.9 184h1.7M447.9 184h3.4M453 184h1.7M461.5 184h3.4M476.8 184h1.7M480.2 184h1.7M485.3 184h1.7M493.8 184h1.7M519.3 184h1.7M543.1 184h1.7M565.2 184h3.4M621.3 184h1.7M628.1 184h1.7M400.3 185h1.7M410.5 185h1.7M468.3 185h3.4M476.8 185h1.7M480.2 185h1.7M483.6 185h6.8M505.7 185h1.7M514.2 185h1.7M522.7 185h1.7M526.1 185h1.7M546.5 185h1.7M549.9 185h1.7M556.7 185h3.4M590.7 185h1.7M616.2 185h1.7M619.6 185h1.7M629.8 185h1.7M633.2 185h3.4M393.5 186h5.1M405.4 186h1.7M410.5 186h1.7M439.4 186h1.7M481.9 186h1.7M490.4 186h1.7M502.3 186h1.7M505.7 186h1.7M541.4 186h1.7M563.5 186h1.7M578.8 186h1.7M595.8 186h1.7M612.8 186h1.7M626.4 186h1.7M400.3 187h1.7M429.2 187h1.7M437.7 187h1.7M444.5 187h1.7M461.5 187h5.1M468.3 187h1.7M475.1 187h1.7M478.5 187h1.7M481.9 187h3.4M487 187h1.7M493.8 187h1.7M504 187h1.7M509.1 187h1.7M549.9 187h1.7M585.6 187h1.7M402 188h1.7M417.3 188h3.4M464.9 188h1.7M478.5 188h1.7M483.6 188h1.7M512.5 188h1.7M515.9 188h1.7M555 188h1.7M566.9 188h6.8M604.3 188h1.7M393.5 189h1.7M396.9 189h3.4M413.9 189h1.7M417.3 189h1.7M466.6 189h1.7M478.5 189h1.7M487 189h3.4M534.6 189h1.7M539.7 189h1.7M553.3 189h1.7M626.4 189h1.7M459.8 190h1.7M475.1 190h1.7M480.2 190h1.7M483.6 190h1.7M509.1 190h1.7M534.6 190h3.4M553.3 190h3.4M592.4 190h1.7M395.2 191h3.4M422.4 191h1.7M476.8 191h1.7M483.6 191h1.7M490.4 191h3.4M510.8 191h1.7M543.1 191h1.7M551.6 191h3.4M565.2 191h1.7M575.4 191h1.7M583.9 191h1.7M587.3 191h1.7M395.2 192h1.7M453 192h1.7M464.9 192h1.7M478.5 192h1.7M481.9 192h5.1M510.8 192h1.7M522.7 192h1.7M538 192h1.7M546.5 192h3.4M551.6 192h1.7M556.7 192h1.7M583.9 192h1.7M393.5 193.1h1.7M422.4 193.1h1.7M468.3 193.1h3.4M483.6 193.1h1.7M524.4 193.1h1.7M527.8 193.1h1.7M546.5 193.1h3.4M551.6 193.1h3.4M556.7 193.1h1.7M565.2 193.1h3.4M580.5 193.1h1.7M583.9 193.1h1.7M589 193.1h1.7M621.3 193.1h1.7M427.5 194.1h1.7M430.9 194.1h1.7M495.5 194.1h1.7M500.6 194.1h1.7M546.5 194.1h3.4M551.6 194.1h1.7M570.3 194.1h1.7M396.9 195.1h1.7M400.3 195.1h1.7M403.7 195.1h1.7M407.1 195.1h1.7M444.5 195.1h3.4M470 195.1h1.7M478.5 195.1h5.1M507.4 195.1h1.7M527.8 195.1h1.7M536.3 195.1h3.4M549.9 195.1h1.7M565.2 195.1h1.7M597.5 195.1h1.7M604.3 195.1h1.7M395.2 196.1h3.4M405.4 196.1h1.7M415.6 196.1h1.7M430.9 196.1h1.7M436 196.1h1.7M453 196.1h1.7M468.3 196.1h1.7M480.2 196.1h1.7M483.6 196.1h1.7M497.2 196.1h3.4M563.5 196.1h1.7M572 196.1h1.7M580.5 196.1h1.7M614.5 196.1h1.7M393.5 197.1h1.7M415.6 197.1h1.7M441.1 197.1h1.7M458.1 197.1h1.7M473.4 197.1h3.4M565.2 197.1h1.7M580.5 197.1h1.7M585.6 197.1h1.7M400.3 198.1h3.4M408.8 198.1h1.7M432.6 198.1h3.4M441.1 198.1h1.7M458.1 198.1h1.7M471.7 198.1h1.7M475.1 198.1h1.7M485.3 198.1h1.7M498.9 198.1h1.7M534.6 198.1h1.7M568.6 198.1h5.1M599.2 198.1h1.7M396.9 199.1h1.7M408.8 199.1h1.7M441.1 199.1h1.7M458.1 199.1h1.7M461.5 199.1h1.7M470 199.1h1.7M480.2 199.1h1.7M483.6 199.1h1.7M493.8 199.1h1.7M529.5 199.1h1.7M551.6 199.1h1.7M595.8 199.1h1.7M602.6 199.1h1.7M617.9 199.1h1.7M398.6 200.1h1.7M412.2 200.1h1.7M419 200.1h1.7M430.9 200.1h1.7M436 200.1h1.7M446.2 200.1h1.7M449.6 200.1h3.4M461.5 200.1h1.7M466.6 200.1h1.7M473.4 200.1h1.7M480.2 200.1h1.7M483.6 200.1h3.4M529.5 200.1h1.7M570.3 200.1h1.7M633.2 200.1h1.7M415.6 201.1h1.7M422.4 201.1h1.7M446.2 201.1h1.7M456.4 201.1h1.7M459.8 201.1h3.4M470 201.1h3.4M476.8 201.1h1.7M481.9 201.1h1.7M485.3 201.1h1.7M510.8 201.1h1.7M529.5 201.1h1.7M566.9 201.1h1.7M578.8 201.1h1.7M590.7 201.1h1.7M617.9 201.1h1.7M393.5 202.1h1.7M396.9 202.1h1.7M402 202.1h1.7M405.4 202.1h1.7M419 202.1h5.1M441.1 202.1h3.4M453 202.1h3.4M464.9 202.1h1.7M498.9 202.1h1.7M522.7 202.1h1.7M529.5 202.1h1.7M546.5 202.1h1.7M555 202.1h1.7M561.8 202.1h1.7M577.1 202.1h1.7M582.2 202.1h1.7M592.4 202.1h1.7M633.2 202.1h1.7M400.3 203.1h1.7M403.7 203.1h1.7M408.8 203.1h1.7M417.3 203.1h1.7M439.4 203.1h3.4M446.2 203.1h1.7M459.8 203.1h1.7M519.3 203.1h1.7M534.6 203.1h1.7M561.8 203.1h1.7M575.4 203.1h1.7M606 203.1h1.7M449.6 204.1h1.7M481.9 204.1h1.7M497.2 204.1h1.7M522.7 204.1h1.7M604.3 204.1h1.7M398.6 205.1h1.7M410.5 205.1h1.7M425.8 205.1h1.7M461.5 205.1h1.7M548.2 205.1h1.7M553.3 205.1h1.7M621.3 205.1h1.7M624.7 205.1h1.7M391.8 206.1h1.7M398.6 206.1h1.7M403.7 206.1h1.7M408.8 206.1h1.7M415.6 206.1h1.7M419 206.1h1.7M422.4 206.1h3.4M429.2 206.1h3.4M436 206.1h1.7M439.4 206.1h3.4M451.3 206.1h1.7M454.7 206.1h1.7M471.7 206.1h1.7M481.9 206.1h1.7M504 206.1h1.7M521 206.1h1.7M536.3 206.1h1.7M566.9 206.1h1.7M587.3 206.1h1.7M594.1 206.1h1.7M429.2 207.1h1.7M432.6 207.1h1.7M456.4 207.1h1.7M459.8 207.1h1.7M532.9 207.1h1.7M565.2 207.1h1.7M577.1 207.1h1.7M633.2 207.1h1.7M395.2 208.1h1.7M408.8 208.1h1.7M415.6 208.1h1.7M422.4 208.1h1.7M425.8 208.1h1.7M436 208.1h1.7M441.1 208.1h1.7M446.2 208.1h1.7M544.8 208.1h1.7M560.1 208.1h1.7M563.5 208.1h1.7M590.7 208.1h1.7M412.2 209.1h3.4M424.1 209.1h1.7M434.3 209.1h1.7M459.8 209.1h1.7M464.9 209.1h1.7M468.3 209.1h1.7M509.1 209.1h1.7M548.2 209.1h1.7M575.4 209.1h1.7M589 209.1h1.7M595.8 209.1h1.7M629.8 209.1h1.7M398.6 210.1h1.7M405.4 210.1h1.7M408.8 210.1h1.7M412.2 210.1h1.7M417.3 210.1h3.4M427.5 210.1h1.7M432.6 210.1h1.7M437.7 210.1h1.7M446.2 210.1h1.7M451.3 210.1h1.7M456.4 210.1h1.7M471.7 210.1h1.7M495.5 210.1h1.7M546.5 210.1h1.7M594.1 210.1h1.7M617.9 210.1h1.7M391.8 211.1h1.7M410.5 211.1h3.4M439.4 211.1h1.7M442.8 211.1h8.5M473.4 211.1h1.7M538 211.1h1.7M570.3 211.1h1.7M587.3 211.1h3.4M405.4 212.1h1.7M415.6 212.1h1.7M422.4 212.1h1.7M427.5 212.1h1.7M451.3 212.1h1.7M468.3 212.1h1.7M473.4 212.1h1.7M502.3 212.1h1.7M524.4 212.1h1.7M536.3 212.1h1.7M563.5 212.1h1.7M570.3 212.1h1.7M583.9 212.1h1.7M590.7 212.1h1.7M597.5 212.1h1.7M606 212.1h1.7M621.3 212.1h3.4M626.4 212.1h3.4M634.9 212.1h1.7M403.7 213.1h1.7M407.1 213.1h1.7M410.5 213.1h3.4M415.6 213.1h3.4M420.7 213.1h5.1M446.2 213.1h1.7M449.6 213.1h1.7M453 213.1h1.7M456.4 213.1h1.7M459.8 213.1h1.7M485.3 213.1h1.7M507.4 213.1h1.7M544.8 213.1h1.7M548.2 213.1h1.7M553.3 213.1h1.7M558.4 213.1h1.7M585.6 213.1h1.7M589 213.1h1.7M614.5 213.1h1.7M391.8 214.1h1.7M410.5 214.1h1.7M420.7 214.1h1.7M451.3 214.1h5.1M458.1 214.1h1.7M461.5 214.1h1.7M480.2 214.1h1.7M502.3 214.1h1.7M534.6 214.1h1.7M551.6 214.1h1.7M556.7 214.1h1.7M563.5 214.1h1.7M572 214.1h3.4M589 214.1h1.7M599.2 214.1h1.7M614.5 214.1h1.7M624.7 214.1h1.7M391.8 215.2h3.4M407.1 215.2h3.4M425.8 215.2h1.7M442.8 215.2h1.7M449.6 215.2h1.7M473.4 215.2h1.7M497.2 215.2h1.7M507.4 215.2h1.7M544.8 215.2h5.1M580.5 215.2h1.7M583.9 215.2h1.7M592.4 215.2h1.7M606 215.2h1.7M616.2 215.2h1.7M623 215.2h1.7M437.7 216.2h1.7M442.8 216.2h1.7M454.7 216.2h1.7M478.5 216.2h1.7M515.9 216.2h1.7M566.9 216.2h1.7M578.8 216.2h1.7M405.4 217.2h1.7M413.9 217.2h1.7M417.3 217.2h5.1M424.1 217.2h1.7M432.6 217.2h3.4M442.8 217.2h1.7M453 217.2h1.7M483.6 217.2h1.7M502.3 217.2h1.7M522.7 217.2h1.7M577.1 217.2h1.7M580.5 217.2h1.7M583.9 217.2h1.7M420.7 218.2h1.7M427.5 218.2h1.7M436 218.2h5.1M447.9 218.2h1.7M500.6 218.2h1.7M548.2 218.2h1.7M553.3 218.2h1.7M556.7 218.2h1.7M595.8 218.2h1.7M391.8 219.2h1.7M398.6 219.2h1.7M420.7 219.2h3.4M436 219.2h1.7M444.5 219.2h1.7M447.9 219.2h1.7M459.8 219.2h1.7M466.6 219.2h1.7M548.2 219.2h1.7M556.7 219.2h1.7M563.5 219.2h1.7M566.9 219.2h1.7M570.3 219.2h1.7M587.3 219.2h3.4M595.8 219.2h1.7M604.3 219.2h1.7M609.4 219.2h1.7M395.2 220.2h1.7M398.6 220.2h1.7M420.7 220.2h1.7M429.2 220.2h1.7M436 220.2h1.7M441.1 220.2h1.7M480.2 220.2h1.7M500.6 220.2h1.7M510.8 220.2h1.7M548.2 220.2h1.7M556.7 220.2h1.7M582.2 220.2h1.7M585.6 220.2h3.4M616.2 220.2h1.7M634.9 220.2h1.7M396.9 221.2h1.7M400.3 221.2h1.7M407.1 221.2h1.7M410.5 221.2h1.7M417.3 221.2h1.7M442.8 221.2h1.7M446.2 221.2h3.4M453 221.2h1.7M478.5 221.2h1.7M507.4 221.2h1.7M515.9 221.2h1.7M556.7 221.2h1.7M617.9 221.2h1.7M393.5 222.2h1.7M405.4 222.2h1.7M425.8 222.2h1.7M429.2 222.2h1.7M456.4 222.2h1.7M463.2 222.2h1.7M468.3 222.2h1.7M475.1 222.2h1.7M536.3 222.2h1.7M624.7 222.2h1.7M391.8 223.2h3.4M396.9 223.2h1.7M413.9 223.2h1.7M417.3 223.2h1.7M422.4 223.2h1.7M441.1 223.2h1.7M461.5 223.2h1.7M536.3 223.2h1.7M577.1 223.2h1.7M580.5 223.2h1.7M396.9 224.2h3.4M420.7 224.2h1.7M430.9 224.2h1.7M442.8 224.2h1.7M453 224.2h1.7M473.4 224.2h1.7M480.2 224.2h1.7M515.9 224.2h1.7M541.4 224.2h3.4M546.5 224.2h1.7M583.9 224.2h1.7M405.4 225.2h1.7M419 225.2h1.7M425.8 225.2h1.7M430.9 225.2h1.7M436 225.2h1.7M446.2 225.2h1.7M449.6 225.2h1.7M456.4 225.2h3.4M480.2 225.2h1.7M555 225.2h1.7M594.1 225.2h1.7M402 226.2h1.7M407.1 226.2h1.7M410.5 226.2h1.7M419 226.2h1.7M430.9 226.2h1.7M441.1 226.2h5.1M458.1 226.2h1.7M471.7 226.2h3.4M488.7 226.2h1.7M498.9 226.2h1.7M526.1 226.2h1.7M578.8 226.2h1.7M410.5 227.2h6.8M419 227.2h1.7M436 227.2h1.7M442.8 227.2h1.7M446.2 227.2h1.7M451.3 227.2h1.7M454.7 227.2h3.4M464.9 227.2h1.7M471.7 227.2h1.7M505.7 227.2h1.7M514.2 227.2h1.7M534.6 227.2h1.7M580.5 227.2h1.7M587.3 227.2h1.7M590.7 227.2h3.4M403.7 228.2h1.7M422.4 228.2h1.7M432.6 228.2h3.4M437.7 228.2h3.4M447.9 228.2h3.4M454.7 228.2h1.7M458.1 228.2h3.4M466.6 228.2h3.4M475.1 228.2h3.4M483.6 228.2h3.4M505.7 228.2h1.7M510.8 228.2h1.7M515.9 228.2h1.7M548.2 228.2h1.7M565.2 228.2h1.7M570.3 228.2h1.7M582.2 228.2h1.7M602.6 228.2h1.7M393.5 229.2h1.7M405.4 229.2h1.7M408.8 229.2h1.7M415.6 229.2h1.7M419 229.2h3.4M432.6 229.2h1.7M437.7 229.2h3.4M442.8 229.2h1.7M446.2 229.2h1.7M461.5 229.2h1.7M464.9 229.2h1.7M473.4 229.2h1.7M504 229.2h1.7M509.1 229.2h1.7M515.9 229.2h1.7M524.4 229.2h3.4M556.7 229.2h3.4M396.9 230.2h1.7M422.4 230.2h1.7M442.8 230.2h1.7M449.6 230.2h1.7M456.4 230.2h1.7M466.6 230.2h3.4M490.4 230.2h1.7M512.5 230.2h1.7M556.7 230.2h1.7M578.8 230.2h1.7M585.6 230.2h1.7M592.4 230.2h1.7M607.7 230.2h1.7M616.2 230.2h1.7M398.6 231.2h3.4M403.7 231.2h1.7M413.9 231.2h1.7M420.7 231.2h3.4M427.5 231.2h1.7M430.9 231.2h1.7M434.3 231.2h1.7M447.9 231.2h1.7M566.9 231.2h1.7M629.8 231.2h1.7M402 232.2h1.7M413.9 232.2h1.7M425.8 232.2h1.7M429.2 232.2h5.1M441.1 232.2h1.7M446.2 232.2h1.7M449.6 232.2h5.1M458.1 232.2h1.7M471.7 232.2h1.7M483.6 232.2h1.7M536.3 232.2h1.7M553.3 232.2h1.7M556.7 232.2h3.4M561.8 232.2h1.7M565.2 232.2h1.7M585.6 232.2h1.7M403.7 233.2h3.4M408.8 233.2h1.7M412.2 233.2h3.4M422.4 233.2h1.7M429.2 233.2h3.4M441.1 233.2h1.7M446.2 233.2h1.7M451.3 233.2h1.7M497.2 233.2h1.7M510.8 233.2h3.4M548.2 233.2h1.7M585.6 233.2h1.7M595.8 233.2h1.7M408.8 234.2h1.7M412.2 234.2h3.4M444.5 234.2h3.4M451.3 234.2h1.7M544.8 234.2h1.7M551.6 234.2h1.7M570.3 234.2h1.7M396.9 235.2h1.7M410.5 235.2h5.1M419 235.2h1.7M424.1 235.2h1.7M432.6 235.2h1.7M437.7 235.2h10.2M464.9 235.2h3.4M476.8 235.2h1.7M524.4 235.2h1.7M527.8 235.2h1.7M534.6 235.2h1.7M546.5 235.2h1.7M558.4 235.2h1.7M577.1 235.2h1.7M587.3 235.2h1.7M400.3 236.2h1.7M403.7 236.2h3.4M413.9 236.2h1.7M427.5 236.2h3.4M444.5 236.2h1.7M453 236.2h1.7M463.2 236.2h1.7M497.2 236.2h1.7M504 236.2h1.7M507.4 236.2h1.7M577.1 236.2h1.7M582.2 236.2h1.7M589 236.2h1.7M396.9 237.2h1.7M430.9 237.2h3.4M436 237.2h1.7M447.9 237.2h1.7M485.3 237.2h1.7M502.3 237.2h1.7M544.8 237.2h1.7M555 237.2h3.4M561.8 237.2h3.4M570.3 237.2h1.7M573.7 237.2h1.7M577.1 237.2h1.7M583.9 237.2h1.7M587.3 237.2h1.7M403.7 238.3h3.4M412.2 238.3h1.7M415.6 238.3h1.7M424.1 238.3h1.7M430.9 238.3h5.1M451.3 238.3h1.7M481.9 238.3h1.7M522.7 238.3h3.4M527.8 238.3h1.7M551.6 238.3h1.7M556.7 238.3h3.4M580.5 238.3h1.7M587.3 238.3h1.7M602.6 238.3h1.7M626.4 238.3h3.4M391.8 239.3h1.7M395.2 239.3h3.4M407.1 239.3h1.7M410.5 239.3h3.4M425.8 239.3h3.4M436 239.3h1.7M451.3 239.3h5.1M502.3 239.3h1.7M515.9 239.3h1.7M546.5 239.3h3.4M553.3 239.3h1.7M558.4 239.3h1.7M566.9 239.3h1.7M578.8 239.3h1.7M583.9 239.3h3.4M604.3 239.3h1.7M634.9 239.3h1.7M391.8 240.3h1.7M425.8 240.3h1.7M430.9 240.3h1.7M442.8 240.3h1.7M451.3 240.3h1.7M475.1 240.3h1.7M487 240.3h1.7M497.2 240.3h1.7M548.2 240.3h1.7M558.4 240.3h3.4M565.2 240.3h1.7M572 240.3h1.7M580.5 240.3h1.7M583.9 240.3h1.7M589 240.3h1.7M453 241.3h1.7M459.8 241.3h1.7M541.4 241.3h1.7M560.1 241.3h1.7M568.6 241.3h1.7M577.1 241.3h1.7M583.9 241.3h1.7M405.4 242.3h1.7M413.9 242.3h1.7M430.9 242.3h1.7M446.2 242.3h3.4M456.4 242.3h1.7M459.8 242.3h1.7M500.6 242.3h1.7M534.6 242.3h1.7M544.8 242.3h1.7M556.7 242.3h1.7M572 242.3h3.4M577.1 242.3h1.7M587.3 242.3h1.7M604.3 242.3h1.7M391.8 243.3h3.4M405.4 243.3h1.7M413.9 243.3h1.7M419 243.3h1.7M424.1 243.3h1.7M427.5 243.3h1.7M432.6 243.3h1.7M436 243.3h3.4M442.8 243.3h1.7M447.9 243.3h1.7M471.7 243.3h3.4M492.1 243.3h1.7M521 243.3h1.7M543.1 243.3h5.1M549.9 243.3h1.7M556.7 243.3h1.7M570.3 243.3h1.7M578.8 243.3h3.4M600.9 243.3h1.7M634.9 243.3h1.7M558.4 244.3h3.4M563.5 244.3h3.4M568.6 244.3h1.7M395.2 245.3h1.7M402 245.3h1.7M407.1 245.3h1.7M413.9 245.3h3.4M437.7 245.3h1.7M454.7 245.3h1.7M461.5 245.3h1.7M473.4 245.3h1.7M548.2 245.3h1.7M555 245.3h1.7M560.1 245.3h1.7M568.6 245.3h1.7M585.6 245.3h1.7M616.2 245.3h1.7M391.8 246.3h3.4M400.3 246.3h1.7M403.7 246.3h1.7M422.4 246.3h1.7M429.2 246.3h1.7M451.3 246.3h3.4M546.5 246.3h3.4M555 246.3h1.7M573.7 246.3h1.7M585.6 246.3h3.4M398.6 247.3h3.4M412.2 247.3h1.7M420.7 247.3h1.7M430.9 247.3h1.7M447.9 247.3h3.4M492.1 247.3h1.7M510.8 247.3h1.7M551.6 247.3h1.7M580.5 247.3h3.4M585.6 247.3h1.7M391.8 248.3h3.4M405.4 248.3h1.7M408.8 248.3h3.4M419 248.3h1.7M424.1 248.3h5.1M436 248.3h1.7M446.2 248.3h1.7M453 248.3h1.7M475.1 248.3h1.7M490.4 248.3h1.7M514.2 248.3h3.4M544.8 248.3h1.7M556.7 248.3h1.7M563.5 248.3h3.4M570.3 248.3h1.7"/>
<path stroke="#b6d0e7" d="M403.7 136.8h1.7M413.9 136.8h1.7M422.4 136.8h5.1M432.6 136.8h1.7M436 136.8h1.7M458.1 136.8h1.7M485.3 136.8h1.7M498.9 136.8h1.7M504 136.8h1.7M531.2 136.8h1.7M561.8 136.8h1.7M587.3 136.8h1.7M595.8 136.8h1.7M611.1 136.8h1.7M617.9 136.8h1.7M396.9 137.8h5.1M412.2 137.8h5.1M422.4 137.8h1.7M427.5 137.8h1.7M432.6 137.8h1.7M436 137.8h1.7M453 137.8h1.7M458.1 137.8h3.4M466.6 137.8h1.7M481.9 137.8h1.7M495.5 137.8h1.7M502.3 137.8h1.7M563.5 137.8h1.7M570.3 137.8h1.7M589 137.8h1.7M606 137.8h1.7M619.6 137.8h1.7M631.5 137.8h3.4M407.1 138.8h1.7M412.2 138.8h1.7M415.6 138.8h1.7M420.7 138.8h1.7M464.9 138.8h1.7M485.3 138.8h1.7M488.7 138.8h1.7M504 138.8h1.7M521 138.8h1.7M529.5 138.8h1.7M560.1 138.8h1.7M568.6 138.8h1.7M573.7 138.8h1.7M589 138.8h1.7M609.4 138.8h1.7M614.5 138.8h1.7M408.8 139.8h1.7M419 139.8h3.4M444.5 139.8h1.7M447.9 139.8h1.7M464.9 139.8h3.4M485.3 139.8h1.7M561.8 139.8h3.4M577.1 139.8h1.7M599.2 139.8h1.7M393.5 140.8h1.7M398.6 140.8h1.7M417.3 140.8h5.1M424.1 140.8h1.7M429.2 140.8h1.7M456.4 140.8h3.4M480.2 140.8h1.7M500.6 140.8h1.7M543.1 140.8h1.7M555 140.8h1.7M566.9 140.8h1.7M575.4 140.8h1.7M578.8 140.8h1.7M614.5 140.8h1.7M619.6 140.8h1.7M400.3 141.8h1.7M413.9 141.8h1.7M422.4 141.8h1.7M427.5 141.8h1.7M441.1 141.8h1.7M451.3 141.8h1.7M456.4 141.8h1.7M481.9 141.8h1.7M522.7 141.8h1.7M555 141.8h1.7M558.4 141.8h1.7M561.8 141.8h3.4M577.1 141.8h1.7M619.6 141.8h1.7M395.2 142.8h3.4M410.5 142.8h3.4M415.6 142.8h1.7M429.2 142.8h1.7M432.6 142.8h1.7M466.6 142.8h1.7M471.7 142.8h1.7M485.3 142.8h1.7M495.5 142.8h1.7M560.1 142.8h1.7M568.6 142.8h1.7M573.7 142.8h1.7M578.8 142.8h1.7M619.6 142.8h1.7M626.4 142.8h1.7M398.6 143.8h1.7M403.7 143.8h3.4M419 143.8h3.4M424.1 143.8h3.4M434.3 143.8h1.7M458.1 143.8h1.7M464.9 143.8h1.7M498.9 143.8h1.7M510.8 143.8h1.7M517.6 143.8h1.7M521 143.8h1.7M544.8 143.8h3.4M558.4 143.8h1.7M563.5 143.8h1.7M566.9 143.8h1.7M572 143.8h1.7M583.9 143.8h1.7M590.7 143.8h1.7M600.9 143.8h3.4M606 143.8h1.7M619.6 143.8h1.7M398.6 144.8h1.7M403.7 144.8h1.7M413.9 144.8h3.4M419 144.8h1.7M422.4 144.8h1.7M456.4 144.8h1.7M464.9 144.8h1.7M476.8 144.8h1.7M485.3 144.8h3.4M493.8 144.8h1.7M541.4 144.8h1.7M561.8 144.8h1.7M566.9 144.8h5.1M573.7 144.8h1.7M583.9 144.8h1.7M597.5 144.8h3.4M405.4 145.8h1.7M419 145.8h1.7M437.7 145.8h1.7M446.2 145.8h1.7M498.9 145.8h1.7M560.1 145.8h3.4M573.7 145.8h1.7M633.2 145.8h1.7M393.5 146.8h1.7M420.7 146.8h1.7M425.8 146.8h1.7M432.6 146.8h1.7M468.3 146.8h3.4M478.5 146.8h1.7M487 146.8h1.7M504 146.8h1.7M536.3 146.8h1.7M543.1 146.8h1.7M566.9 146.8h1.7M572 146.8h1.7M587.3 146.8h1.7M599.2 146.8h1.7M619.6 146.8h1.7M628.1 146.8h1.7M412.2 147.9h1.7M422.4 147.9h1.7M427.5 147.9h3.4M468.3 147.9h5.1M475.1 147.9h1.7M483.6 147.9h1.7M487 147.9h1.7M544.8 147.9h1.7M549.9 147.9h1.7M580.5 147.9h1.7M583.9 147.9h1.7M592.4 147.9h1.7M398.6 148.9h1.7M403.7 148.9h1.7M410.5 148.9h1.7M417.3 148.9h1.7M476.8 148.9h1.7M481.9 148.9h1.7M485.3 148.9h1.7M561.8 148.9h1.7M395.2 149.9h1.7M405.4 149.9h1.7M413.9 149.9h1.7M422.4 149.9h1.7M556.7 149.9h1.7M616.2 149.9h1.7M619.6 149.9h1.7M629.8 149.9h1.7M396.9 150.9h1.7M413.9 150.9h1.7M417.3 150.9h1.7M458.1 150.9h1.7M461.5 150.9h1.7M481.9 150.9h1.7M485.3 150.9h1.7M488.7 150.9h3.4M498.9 150.9h1.7M543.1 150.9h1.7M566.9 150.9h1.7M570.3 150.9h1.7M624.7 150.9h1.7M629.8 150.9h1.7M405.4 151.9h1.7M466.6 151.9h1.7M490.4 151.9h1.7M493.8 151.9h1.7M497.2 151.9h1.7M507.4 151.9h3.4M536.3 151.9h3.4M543.1 151.9h1.7M575.4 151.9h1.7M590.7 151.9h1.7M597.5 151.9h1.7M600.9 151.9h3.4M612.8 151.9h1.7M391.8 152.9h3.4M398.6 152.9h3.4M408.8 152.9h1.7M417.3 152.9h1.7M461.5 152.9h1.7M466.6 152.9h1.7M471.7 152.9h1.7M502.3 152.9h1.7M509.1 152.9h1.7M531.2 152.9h1.7M546.5 152.9h3.4M556.7 152.9h1.7M561.8 152.9h3.4M566.9 152.9h1.7M634.9 152.9h1.7M403.7 153.9h3.4M408.8 153.9h1.7M413.9 153.9h1.7M417.3 153.9h1.7M458.1 153.9h1.7M464.9 153.9h1.7M478.5 153.9h1.7M483.6 153.9h1.7M507.4 153.9h1.7M539.7 153.9h1.7M551.6 153.9h1.7M556.7 153.9h1.7M560.1 153.9h3.4M580.5 153.9h1.7M583.9 153.9h1.7M602.6 153.9h1.7M612.8 153.9h1.7M619.6 153.9h1.7M629.8 153.9h1.7M403.7 154.9h3.4M408.8 154.9h1.7M413.9 154.9h1.7M470 154.9h1.7M483.6 154.9h3.4M488.7 154.9h1.7M509.1 154.9h1.7M544.8 154.9h1.7M563.5 154.9h1.7M566.9 154.9h3.4M572 154.9h1.7M578.8 154.9h1.7M624.7 154.9h1.7M628.1 154.9h1.7M459.8 155.9h1.7M476.8 155.9h3.4M538 155.9h1.7M560.1 155.9h1.7M563.5 155.9h1.7M568.6 155.9h1.7M573.7 155.9h1.7M577.1 155.9h3.4M589 155.9h1.7M395.2 156.9h1.7M429.2 156.9h1.7M453 156.9h1.7M461.5 156.9h1.7M464.9 156.9h1.7M470 156.9h1.7M480.2 156.9h1.7M483.6 156.9h1.7M548.2 156.9h1.7M551.6 156.9h3.4M560.1 156.9h1.7M597.5 156.9h3.4M624.7 156.9h3.4M629.8 156.9h1.7M449.6 157.9h1.7M466.6 157.9h3.4M471.7 157.9h1.7M478.5 157.9h1.7M481.9 157.9h1.7M487 157.9h1.7M544.8 157.9h6.8M556.7 157.9h5.1M583.9 157.9h1.7M587.3 157.9h3.4M395.2 158.9h1.7M463.2 158.9h1.7M466.6 158.9h1.7M483.6 158.9h1.7M504 158.9h1.7M507.4 158.9h1.7M539.7 158.9h1.7M544.8 158.9h1.7M549.9 158.9h3.4M556.7 158.9h1.7M560.1 158.9h1.7M568.6 158.9h1.7M614.5 158.9h1.7M617.9 158.9h1.7M442.8 159.9h1.7M463.2 159.9h3.4M490.4 159.9h1.7M544.8 159.9h1.7M556.7 159.9h1.7M577.1 159.9h1.7M585.6 159.9h1.7M592.4 159.9h1.7M600.9 159.9h1.7M617.9 159.9h1.7M624.7 159.9h1.7M395.2 160.9h1.7M413.9 160.9h1.7M427.5 160.9h3.4M449.6 160.9h1.7M459.8 160.9h1.7M536.3 160.9h1.7M555 160.9h1.7M561.8 160.9h1.7M568.6 160.9h1.7M573.7 160.9h1.7M594.1 160.9h1.7M607.7 160.9h1.7M612.8 160.9h1.7M626.4 160.9h5.1M633.2 160.9h1.7M412.2 161.9h3.4M427.5 161.9h1.7M444.5 161.9h1.7M464.9 161.9h1.7M470 161.9h3.4M478.5 161.9h1.7M481.9 161.9h1.7M493.8 161.9h1.7M529.5 161.9h1.7M541.4 161.9h3.4M548.2 161.9h1.7M566.9 161.9h1.7M582.2 161.9h3.4M589 161.9h1.7M621.3 161.9h1.7M631.5 161.9h1.7M634.9 161.9h1.7M398.6 162.9h1.7M403.7 162.9h1.7M407.1 162.9h1.7M413.9 162.9h3.4M447.9 162.9h1.7M463.2 162.9h3.4M512.5 162.9h1.7M521 162.9h1.7M538 162.9h1.7M543.1 162.9h3.4M558.4 162.9h3.4M575.4 162.9h1.7M578.8 162.9h3.4M602.6 162.9h3.4M631.5 162.9h1.7M395.2 163.9h3.4M402 163.9h1.7M415.6 163.9h1.7M456.4 163.9h1.7M459.8 163.9h1.7M480.2 163.9h6.8M492.1 163.9h1.7M514.2 163.9h1.7M558.4 163.9h1.7M561.8 163.9h3.4M566.9 163.9h1.7M570.3 163.9h3.4M595.8 163.9h1.7M614.5 163.9h1.7M634.9 163.9h1.7M395.2 164.9h1.7M402 164.9h1.7M413.9 164.9h1.7M420.7 164.9h1.7M432.6 164.9h1.7M459.8 164.9h1.7M463.2 164.9h5.1M483.6 164.9h3.4M497.2 164.9h1.7M505.7 164.9h6.8M515.9 164.9h1.7M543.1 164.9h1.7M558.4 164.9h3.4M572 164.9h3.4M577.1 164.9h1.7M602.6 164.9h1.7M391.8 165.9h1.7M464.9 165.9h3.4M476.8 165.9h1.7M485.3 165.9h1.7M488.7 165.9h3.4M500.6 165.9h1.7M504 165.9h1.7M514.2 165.9h1.7M517.6 165.9h1.7M522.7 165.9h1.7M541.4 165.9h1.7M563.5 165.9h1.7M573.7 165.9h1.7M595.8 165.9h1.7M600.9 165.9h3.4M402 166.9h1.7M447.9 166.9h1.7M493.8 166.9h3.4M507.4 166.9h1.7M526.1 166.9h1.7M538 166.9h1.7M541.4 166.9h1.7M555 166.9h3.4M561.8 166.9h3.4M573.7 166.9h1.7M578.8 166.9h1.7M590.7 166.9h1.7M619.6 166.9h1.7M628.1 166.9h1.7M458.1 167.9h1.7M464.9 167.9h1.7M471.7 167.9h1.7M475.1 167.9h1.7M480.2 167.9h6.8M493.8 167.9h1.7M515.9 167.9h1.7M541.4 167.9h1.7M556.7 167.9h1.7M572 167.9h1.7M599.2 167.9h1.7M614.5 167.9h1.7M617.9 167.9h1.7M624.7 167.9h3.4M634.9 167.9h1.7M400.3 168.9h1.7M424.1 168.9h1.7M430.9 168.9h1.7M458.1 168.9h1.7M498.9 168.9h3.4M517.6 168.9h1.7M536.3 168.9h1.7M555 168.9h1.7M560.1 168.9h3.4M566.9 168.9h1.7M570.3 168.9h3.4M597.5 168.9h3.4M612.8 168.9h1.7M617.9 168.9h1.7M624.7 168.9h1.7M395.2 169.9h1.7M407.1 169.9h1.7M509.1 169.9h3.4M519.3 169.9h1.7M526.1 169.9h3.4M536.3 169.9h5.1M555 169.9h5.1M561.8 169.9h1.7M565.2 169.9h1.7M568.6 169.9h1.7M578.8 169.9h1.7M391.8 171h1.7M395.2 171h1.7M405.4 171h3.4M415.6 171h1.7M436 171h3.4M441.1 171h1.7M459.8 171h1.7M487 171h1.7M492.1 171h1.7M504 171h1.7M509.1 171h3.4M539.7 171h1.7M560.1 171h1.7M563.5 171h1.7M578.8 171h1.7M590.7 171h1.7M594.1 171h1.7M597.5 171h1.7M624.7 171h6.8M395.2 172h1.7M475.1 172h1.7M492.1 172h1.7M497.2 172h1.7M505.7 172h1.7M519.3 172h1.7M524.4 172h1.7M543.1 172h1.7M560.1 172h1.7M563.5 172h1.7M566.9 172h1.7M570.3 172h1.7M393.5 173h1.7M398.6 173h5.1M420.7 173h1.7M424.1 173h1.7M432.6 173h1.7M458.1 173h1.7M463.2 173h1.7M475.1 173h1.7M483.6 173h3.4M500.6 173h3.4M514.2 173h1.7M538 173h3.4M551.6 173h1.7M595.8 173h1.7M602.6 173h1.7M614.5 173h1.7M624.7 173h1.7M628.1 173h5.1M634.9 173h1.7M424.1 174h1.7M459.8 174h1.7M466.6 174h1.7M471.7 174h1.7M476.8 174h1.7M481.9 174h3.4M492.1 174h1.7M497.2 174h1.7M519.3 174h1.7M524.4 174h1.7M561.8 174h3.4M578.8 174h1.7M602.6 174h1.7M619.6 174h1.7M623 174h1.7M396.9 175h1.7M407.1 175h1.7M453 175h1.7M459.8 175h1.7M463.2 175h1.7M480.2 175h1.7M483.6 175h1.7M500.6 175h3.4M507.4 175h1.7M524.4 175h1.7M558.4 175h1.7M570.3 175h1.7M594.1 175h1.7M611.1 175h1.7M631.5 175h1.7M634.9 175h1.7M393.5 176h3.4M400.3 176h1.7M405.4 176h1.7M410.5 176h1.7M422.4 176h1.7M451.3 176h1.7M475.1 176h1.7M481.9 176h1.7M492.1 176h1.7M504 176h1.7M509.1 176h1.7M538 176h1.7M555 176h1.7M558.4 176h1.7M565.2 176h1.7M572 176h1.7M587.3 176h1.7M590.7 176h1.7M597.5 176h1.7M624.7 176h1.7M628.1 176h1.7M391.8 177h1.7M405.4 177h1.7M413.9 177h3.4M422.4 177h1.7M437.7 177h1.7M466.6 177h1.7M487 177h1.7M498.9 177h1.7M502.3 177h1.7M512.5 177h1.7M538 177h1.7M543.1 177h1.7M553.3 177h1.7M556.7 177h1.7M568.6 177h5.1M580.5 177h1.7M589 177h1.7M594.1 177h1.7M602.6 177h1.7M606 177h1.7M628.1 177h1.7M631.5 177h1.7M395.2 178h1.7M410.5 178h3.4M434.3 178h1.7M492.1 178h1.7M507.4 178h3.4M538 178h1.7M602.6 178h1.7M606 178h1.7M623 178h3.4M634.9 178h1.7M396.9 179h3.4M446.2 179h1.7M459.8 179h3.4M466.6 179h6.8M478.5 179h1.7M481.9 179h3.4M492.1 179h1.7M495.5 179h1.7M504 179h3.4M512.5 179h1.7M524.4 179h1.7M541.4 179h1.7M548.2 179h1.7M555 179h1.7M572 179h1.7M602.6 179h1.7M619.6 179h1.7M628.1 179h1.7M634.9 179h1.7M393.5 180h3.4M408.8 180h3.4M451.3 180h1.7M458.1 180h1.7M461.5 180h1.7M464.9 180h1.7M480.2 180h3.4M485.3 180h3.4M493.8 180h1.7M497.2 180h1.7M500.6 180h3.4M522.7 180h1.7M546.5 180h1.7M556.7 180h1.7M560.1 180h1.7M566.9 180h3.4M577.1 180h1.7M587.3 180h1.7M616.2 180h1.7M619.6 180h1.7M624.7 180h3.4M633.2 180h1.7M408.8 181h1.7M471.7 181h1.7M478.5 181h1.7M481.9 181h3.4M487 181h1.7M493.8 181h1.7M507.4 181h1.7M553.3 181h1.7M566.9 181h1.7M583.9 181h1.7M587.3 181h3.4M628.1 181h1.7M395.2 182h6.8M407.1 182h1.7M424.1 182h1.7M427.5 182h1.7M458.1 182h1.7M471.7 182h1.7M478.5 182h1.7M487 182h1.7M492.1 182h1.7M502.3 182h1.7M505.7 182h3.4M510.8 182h1.7M521 182h1.7M538 182h3.4M555 182h3.4M572 182h1.7M604.3 182h1.7M619.6 182h1.7M623 182h1.7M393.5 183h3.4M410.5 183h1.7M415.6 183h1.7M427.5 183h1.7M458.1 183h1.7M461.5 183h1.7M481.9 183h1.7M485.3 183h1.7M490.4 183h1.7M497.2 183h1.7M510.8 183h1.7M515.9 183h1.7M534.6 183h1.7M538 183h1.7M604.3 183h1.7M617.9 183h1.7M633.2 183h1.7M393.5 184h1.7M402 184h1.7M425.8 184h1.7M442.8 184h1.7M456.4 184h1.7M459.8 184h1.7M466.6 184h1.7M471.7 184h1.7M481.9 184h3.4M495.5 184h1.7M510.8 184h1.7M515.9 184h3.4M524.4 184h1.7M538 184h3.4M553.3 184h3.4M558.4 184h3.4M597.5 184h3.4M604.3 184h1.7M629.8 184h1.7M633.2 184h1.7M393.5 185h1.7M396.9 185h1.7M403.7 185h1.7M408.8 185h1.7M441.1 185h1.7M446.2 185h1.7M463.2 185h1.7M492.1 185h1.7M500.6 185h1.7M509.1 185h1.7M527.8 185h1.7M531.2 185h1.7M536.3 185h1.7M565.2 185h1.7M573.7 185h1.7M577.1 185h1.7M589 185h1.7M599.2 185h1.7M623 185h1.7M631.5 185h1.7M403.7 186h1.7M412.2 186h1.7M417.3 186h1.7M471.7 186h1.7M498.9 186h1.7M507.4 186h1.7M539.7 186h1.7M555 186h1.7M558.4 186h1.7M590.7 186h3.4M614.5 186h1.7M407.1 187h1.7M420.7 187h5.1M427.5 187h1.7M449.6 187h1.7M458.1 187h1.7M466.6 187h1.7M476.8 187h1.7M485.3 187h1.7M498.9 187h1.7M502.3 187h1.7M515.9 187h3.4M522.7 187h6.8M539.7 187h5.1M582.2 187h1.7M587.3 187h1.7M590.7 187h1.7M597.5 187h1.7M617.9 187h1.7M410.5 188h1.7M415.6 188h1.7M447.9 188h1.7M470 188h1.7M475.1 188h3.4M481.9 188h1.7M485.3 188h3.4M497.2 188h1.7M502.3 188h3.4M509.1 188h1.7M531.2 188h1.7M541.4 188h1.7M553.3 188h1.7M565.2 188h1.7M594.1 188h1.7M619.6 188h1.7M634.9 188h1.7M444.5 189h1.7M459.8 189h1.7M464.9 189h1.7M476.8 189h1.7M504 189h1.7M514.2 189h1.7M524.4 189h1.7M536.3 189h1.7M541.4 189h1.7M544.8 189h1.7M556.7 189h1.7M565.2 189h3.4M602.6 189h1.7M393.5 190h1.7M408.8 190h1.7M430.9 190h1.7M444.5 190h1.7M458.1 190h1.7M466.6 190h1.7M470 190h3.4M478.5 190h1.7M505.7 190h1.7M510.8 190h1.7M521 190h3.4M527.8 190h1.7M538 190h1.7M541.4 190h1.7M568.6 190h1.7M391.8 191h3.4M400.3 191h3.4M407.1 191h3.4M413.9 191h1.7M449.6 191h1.7M458.1 191h1.7M464.9 191h3.4M478.5 191h5.1M485.3 191h1.7M493.8 191h1.7M502.3 191h1.7M507.4 191h1.7M538 191h1.7M566.9 191h1.7M589 191h1.7M592.4 191h1.7M595.8 191h1.7M612.8 191h1.7M616.2 191h1.7M619.6 191h1.7M391.8 192h1.7M400.3 192h1.7M466.6 192h1.7M476.8 192h1.7M492.1 192h5.1M498.9 192h1.7M502.3 192h3.4M553.3 192h1.7M572 192h1.7M580.5 192h3.4M587.3 192h3.4M623 192h1.7M412.2 193.1h1.7M463.2 193.1h1.7M466.6 193.1h1.7M471.7 193.1h3.4M481.9 193.1h1.7M485.3 193.1h1.7M495.5 193.1h1.7M504 193.1h1.7M526.1 193.1h1.7M549.9 193.1h1.7M585.6 193.1h1.7M602.6 193.1h1.7M631.5 193.1h1.7M396.9 194.1h1.7M424.1 194.1h1.7M434.3 194.1h1.7M437.7 194.1h1.7M475.1 194.1h6.8M492.1 194.1h1.7M524.4 194.1h1.7M538 194.1h1.7M556.7 194.1h1.7M577.1 194.1h1.7M582.2 194.1h1.7M398.6 195.1h1.7M405.4 195.1h1.7M408.8 195.1h1.7M447.9 195.1h1.7M451.3 195.1h1.7M456.4 195.1h1.7M485.3 195.1h5.1M497.2 195.1h3.4M504 195.1h1.7M522.7 195.1h3.4M541.4 195.1h3.4M556.7 195.1h1.7M570.3 195.1h1.7M575.4 195.1h1.7M590.7 195.1h1.7M595.8 195.1h1.7M614.5 195.1h3.4M619.6 195.1h1.7M624.7 195.1h1.7M628.1 195.1h5.1M634.9 195.1h1.7M402 196.1h3.4M429.2 196.1h1.7M432.6 196.1h1.7M446.2 196.1h3.4M464.9 196.1h1.7M476.8 196.1h3.4M493.8 196.1h1.7M504 196.1h1.7M515.9 196.1h1.7M529.5 196.1h1.7M532.9 196.1h1.7M536.3 196.1h1.7M541.4 196.1h1.7M553.3 196.1h5.1M560.1 196.1h3.4M585.6 196.1h5.1M597.5 196.1h1.7M606 196.1h8.5M617.9 196.1h3.4M395.2 197.1h1.7M400.3 197.1h3.4M405.4 197.1h1.7M408.8 197.1h1.7M422.4 197.1h1.7M432.6 197.1h1.7M444.5 197.1h1.7M468.3 197.1h1.7M478.5 197.1h1.7M519.3 197.1h1.7M544.8 197.1h3.4M566.9 197.1h1.7M594.1 197.1h1.7M611.1 197.1h1.7M617.9 197.1h1.7M629.8 197.1h1.7M403.7 198.1h5.1M415.6 198.1h6.8M430.9 198.1h1.7M437.7 198.1h1.7M459.8 198.1h1.7M476.8 198.1h1.7M492.1 198.1h1.7M497.2 198.1h1.7M507.4 198.1h1.7M519.3 198.1h1.7M522.7 198.1h1.7M536.3 198.1h3.4M544.8 198.1h1.7M556.7 198.1h1.7M566.9 198.1h1.7M612.8 198.1h1.7M617.9 198.1h1.7M624.7 198.1h1.7M629.8 198.1h1.7M407.1 199.1h1.7M430.9 199.1h3.4M436 199.1h1.7M439.4 199.1h1.7M444.5 199.1h1.7M451.3 199.1h1.7M464.9 199.1h3.4M473.4 199.1h1.7M478.5 199.1h1.7M481.9 199.1h1.7M504 199.1h1.7M507.4 199.1h1.7M522.7 199.1h1.7M527.8 199.1h1.7M534.6 199.1h1.7M572 199.1h1.7M604.3 199.1h1.7M612.8 199.1h3.4M619.6 199.1h1.7M633.2 199.1h1.7M396.9 200.1h1.7M403.7 200.1h1.7M420.7 200.1h5.1M463.2 200.1h1.7M470 200.1h3.4M475.1 200.1h1.7M481.9 200.1h1.7M498.9 200.1h1.7M522.7 200.1h3.4M538 200.1h1.7M546.5 200.1h1.7M577.1 200.1h1.7M623 200.1h1.7M629.8 200.1h1.7M403.7 201.1h5.1M412.2 201.1h1.7M441.1 201.1h1.7M444.5 201.1h1.7M447.9 201.1h1.7M454.7 201.1h1.7M458.1 201.1h1.7M480.2 201.1h1.7M497.2 201.1h1.7M524.4 201.1h1.7M534.6 201.1h3.4M543.1 201.1h1.7M556.7 201.1h1.7M570.3 201.1h1.7M577.1 201.1h1.7M604.3 201.1h1.7M614.5 201.1h1.7M623 201.1h1.7M629.8 201.1h1.7M400.3 202.1h1.7M403.7 202.1h1.7M408.8 202.1h3.4M415.6 202.1h3.4M437.7 202.1h3.4M444.5 202.1h1.7M456.4 202.1h1.7M463.2 202.1h1.7M473.4 202.1h1.7M483.6 202.1h1.7M493.8 202.1h1.7M497.2 202.1h1.7M507.4 202.1h1.7M512.5 202.1h5.1M521 202.1h1.7M548.2 202.1h3.4M553.3 202.1h1.7M560.1 202.1h1.7M578.8 202.1h3.4M585.6 202.1h3.4M594.1 202.1h1.7M597.5 202.1h1.7M604.3 202.1h1.7M614.5 202.1h1.7M623 202.1h3.4M391.8 203.1h3.4M419 203.1h1.7M422.4 203.1h1.7M429.2 203.1h1.7M447.9 203.1h6.8M461.5 203.1h1.7M473.4 203.1h1.7M514.2 203.1h1.7M526.1 203.1h1.7M544.8 203.1h1.7M553.3 203.1h1.7M565.2 203.1h1.7M572 203.1h1.7M577.1 203.1h1.7M580.5 203.1h1.7M590.7 203.1h1.7M597.5 203.1h1.7M628.1 203.1h1.7M633.2 203.1h1.7M393.5 204.1h1.7M400.3 204.1h1.7M403.7 204.1h5.1M429.2 204.1h1.7M456.4 204.1h1.7M487 204.1h1.7M546.5 204.1h1.7M551.6 204.1h3.4M556.7 204.1h1.7M565.2 204.1h1.7M580.5 204.1h1.7M583.9 204.1h1.7M597.5 204.1h1.7M614.5 204.1h3.4M391.8 205.1h1.7M395.2 205.1h1.7M400.3 205.1h1.7M408.8 205.1h1.7M413.9 205.1h1.7M420.7 205.1h1.7M427.5 205.1h1.7M434.3 205.1h1.7M442.8 205.1h1.7M449.6 205.1h1.7M459.8 205.1h1.7M524.4 205.1h1.7M536.3 205.1h1.7M555 205.1h1.7M606 205.1h1.7M402 206.1h1.7M412.2 206.1h1.7M417.3 206.1h1.7M425.8 206.1h1.7M432.6 206.1h1.7M446.2 206.1h1.7M463.2 206.1h1.7M476.8 206.1h1.7M522.7 206.1h1.7M538 206.1h1.7M543.1 206.1h1.7M590.7 206.1h1.7M612.8 206.1h1.7M412.2 207.1h1.7M420.7 207.1h1.7M461.5 207.1h1.7M471.7 207.1h3.4M483.6 207.1h1.7M524.4 207.1h1.7M534.6 207.1h1.7M553.3 207.1h1.7M558.4 207.1h1.7M595.8 207.1h3.4M604.3 207.1h1.7M626.4 207.1h1.7M413.9 208.1h1.7M424.1 208.1h1.7M427.5 208.1h1.7M444.5 208.1h1.7M449.6 208.1h6.8M529.5 208.1h1.7M549.9 208.1h1.7M566.9 208.1h1.7M578.8 208.1h1.7M616.2 208.1h1.7M398.6 209.1h1.7M405.4 209.1h1.7M417.3 209.1h1.7M430.9 209.1h1.7M447.9 209.1h1.7M521 209.1h1.7M526.1 209.1h1.7M566.9 209.1h1.7M594.1 209.1h1.7M599.2 209.1h1.7M616.2 209.1h3.4M395.2 210.1h1.7M400.3 210.1h1.7M403.7 210.1h1.7M422.4 210.1h5.1M430.9 210.1h1.7M441.1 210.1h3.4M449.6 210.1h1.7M468.3 210.1h3.4M487 210.1h1.7M490.4 210.1h1.7M544.8 210.1h1.7M551.6 210.1h1.7M556.7 210.1h3.4M585.6 210.1h1.7M609.4 210.1h1.7M621.3 210.1h1.7M634.9 210.1h1.7M400.3 211.1h1.7M403.7 211.1h1.7M420.7 211.1h1.7M432.6 211.1h1.7M451.3 211.1h1.7M456.4 211.1h3.4M463.2 211.1h1.7M522.7 211.1h3.4M531.2 211.1h1.7M541.4 211.1h3.4M548.2 211.1h1.7M556.7 211.1h1.7M566.9 211.1h1.7M580.5 211.1h1.7M585.6 211.1h1.7M590.7 211.1h1.7M595.8 211.1h1.7M604.3 211.1h1.7M607.7 211.1h1.7M624.7 211.1h1.7M628.1 211.1h1.7M391.8 212.1h1.7M424.1 212.1h3.4M439.4 212.1h1.7M442.8 212.1h5.1M449.6 212.1h1.7M459.8 212.1h1.7M470 212.1h1.7M551.6 212.1h1.7M565.2 212.1h1.7M568.6 212.1h1.7M594.1 212.1h3.4M614.5 212.1h1.7M393.5 213.1h1.7M402 213.1h1.7M405.4 213.1h1.7M408.8 213.1h1.7M413.9 213.1h1.7M427.5 213.1h1.7M432.6 213.1h1.7M436 213.1h1.7M439.4 213.1h1.7M442.8 213.1h1.7M447.9 213.1h1.7M451.3 213.1h1.7M471.7 213.1h1.7M476.8 213.1h1.7M524.4 213.1h1.7M583.9 213.1h1.7M595.8 213.1h1.7M628.1 213.1h3.4M403.7 214.1h1.7M417.3 214.1h1.7M441.1 214.1h1.7M471.7 214.1h1.7M536.3 214.1h1.7M558.4 214.1h1.7M565.2 214.1h1.7M577.1 214.1h3.4M590.7 214.1h1.7M611.1 214.1h3.4M631.5 214.1h1.7M395.2 215.2h1.7M402 215.2h1.7M413.9 215.2h3.4M436 215.2h1.7M453 215.2h1.7M464.9 215.2h1.7M471.7 215.2h1.7M485.3 215.2h3.4M504 215.2h1.7M512.5 215.2h5.1M522.7 215.2h1.7M529.5 215.2h1.7M543.1 215.2h1.7M549.9 215.2h1.7M558.4 215.2h1.7M573.7 215.2h1.7M578.8 215.2h1.7M589 215.2h3.4M617.9 215.2h1.7M628.1 215.2h3.4M634.9 215.2h1.7M432.6 216.2h3.4M536.3 216.2h1.7M565.2 216.2h1.7M602.6 216.2h1.7M606 216.2h1.7M624.7 216.2h1.7M395.2 217.2h1.7M429.2 217.2h1.7M437.7 217.2h1.7M451.3 217.2h1.7M454.7 217.2h1.7M485.3 217.2h1.7M524.4 217.2h1.7M548.2 217.2h1.7M556.7 217.2h1.7M560.1 217.2h1.7M566.9 217.2h1.7M607.7 217.2h1.7M614.5 217.2h1.7M391.8 218.2h1.7M419 218.2h1.7M424.1 218.2h3.4M429.2 218.2h1.7M453 218.2h1.7M458.1 218.2h1.7M585.6 218.2h3.4M597.5 218.2h1.7M616.2 218.2h1.7M407.1 219.2h1.7M429.2 219.2h1.7M464.9 219.2h1.7M471.7 219.2h3.4M478.5 219.2h3.4M524.4 219.2h1.7M529.5 219.2h1.7M536.3 219.2h1.7M543.1 219.2h1.7M555 219.2h1.7M607.7 219.2h1.7M619.6 219.2h3.4M459.8 220.2h1.7M473.4 220.2h1.7M521 220.2h1.7M531.2 220.2h1.7M549.9 220.2h1.7M563.5 220.2h1.7M600.9 220.2h3.4M393.5 221.2h1.7M405.4 221.2h1.7M408.8 221.2h1.7M413.9 221.2h1.7M419 221.2h1.7M425.8 221.2h3.4M451.3 221.2h1.7M456.4 221.2h1.7M509.1 221.2h1.7M524.4 221.2h1.7M536.3 221.2h1.7M546.5 221.2h1.7M577.1 221.2h1.7M580.5 221.2h1.7M585.6 221.2h1.7M590.7 221.2h1.7M395.2 222.2h1.7M453 222.2h1.7M461.5 222.2h1.7M466.6 222.2h1.7M487 222.2h3.4M522.7 222.2h1.7M529.5 222.2h1.7M582.2 222.2h1.7M587.3 222.2h1.7M616.2 222.2h1.7M629.8 222.2h1.7M400.3 223.2h1.7M407.1 223.2h1.7M424.1 223.2h1.7M432.6 223.2h1.7M437.7 223.2h3.4M444.5 223.2h3.4M453 223.2h1.7M456.4 223.2h1.7M488.7 223.2h1.7M497.2 223.2h3.4M509.1 223.2h1.7M524.4 223.2h3.4M534.6 223.2h1.7M549.9 223.2h3.4M578.8 223.2h1.7M582.2 223.2h1.7M597.5 223.2h1.7M607.7 223.2h1.7M614.5 223.2h3.4M629.8 223.2h1.7M458.1 224.2h3.4M470 224.2h1.7M476.8 224.2h1.7M481.9 224.2h1.7M492.1 224.2h1.7M538 224.2h1.7M548.2 224.2h1.7M551.6 224.2h1.7M566.9 224.2h1.7M570.3 224.2h1.7M580.5 224.2h1.7M629.8 224.2h1.7M403.7 225.2h1.7M420.7 225.2h1.7M429.2 225.2h1.7M434.3 225.2h1.7M485.3 225.2h1.7M492.1 225.2h1.7M553.3 225.2h1.7M617.9 225.2h1.7M628.1 225.2h1.7M631.5 225.2h1.7M408.8 226.2h1.7M415.6 226.2h1.7M425.8 226.2h1.7M436 226.2h3.4M449.6 226.2h5.1M493.8 226.2h1.7M507.4 226.2h3.4M532.9 226.2h1.7M538 226.2h1.7M546.5 226.2h1.7M568.6 226.2h1.7M599.2 226.2h1.7M617.9 226.2h1.7M629.8 226.2h1.7M393.5 227.2h1.7M398.6 227.2h1.7M407.1 227.2h1.7M420.7 227.2h1.7M427.5 227.2h1.7M430.9 227.2h1.7M439.4 227.2h1.7M458.1 227.2h5.1M468.3 227.2h1.7M476.8 227.2h1.7M481.9 227.2h1.7M488.7 227.2h3.4M510.8 227.2h1.7M526.1 227.2h1.7M551.6 227.2h3.4M565.2 227.2h3.4M572 227.2h1.7M402 228.2h1.7M481.9 228.2h1.7M487 228.2h1.7M493.8 228.2h1.7M504 228.2h1.7M507.4 228.2h1.7M531.2 228.2h1.7M536.3 228.2h1.7M541.4 228.2h1.7M546.5 228.2h1.7M580.5 228.2h1.7M396.9 229.2h3.4M434.3 229.2h1.7M456.4 229.2h5.1M475.1 229.2h1.7M487 229.2h1.7M532.9 229.2h1.7M544.8 229.2h1.7M551.6 229.2h3.4M560.1 229.2h1.7M587.3 229.2h1.7M629.8 229.2h1.7M395.2 230.2h1.7M400.3 230.2h1.7M407.1 230.2h1.7M410.5 230.2h1.7M419 230.2h1.7M424.1 230.2h1.7M427.5 230.2h1.7M434.3 230.2h3.4M439.4 230.2h1.7M444.5 230.2h3.4M451.3 230.2h3.4M475.1 230.2h1.7M481.9 230.2h1.7M487 230.2h1.7M514.2 230.2h1.7M529.5 230.2h1.7M555 230.2h1.7M577.1 230.2h1.7M587.3 230.2h1.7M590.7 230.2h1.7M621.3 230.2h1.7M628.1 230.2h1.7M412.2 231.2h1.7M444.5 231.2h1.7M464.9 231.2h1.7M471.7 231.2h3.4M476.8 231.2h1.7M485.3 231.2h1.7M490.4 231.2h1.7M493.8 231.2h1.7M504 231.2h1.7M515.9 231.2h1.7M521 231.2h1.7M529.5 231.2h1.7M532.9 231.2h1.7M538 231.2h1.7M543.1 231.2h1.7M546.5 231.2h6.8M565.2 231.2h1.7M580.5 231.2h1.7M585.6 231.2h1.7M396.9 232.2h1.7M403.7 232.2h1.7M427.5 232.2h1.7M454.7 232.2h1.7M473.4 232.2h1.7M476.8 232.2h1.7M498.9 232.2h1.7M507.4 232.2h1.7M526.1 232.2h1.7M529.5 232.2h1.7M539.7 232.2h1.7M595.8 232.2h1.7M629.8 232.2h1.7M398.6 233.2h1.7M439.4 233.2h1.7M456.4 233.2h1.7M473.4 233.2h1.7M493.8 233.2h1.7M521 233.2h1.7M544.8 233.2h1.7M560.1 233.2h3.4M566.9 233.2h1.7M580.5 233.2h1.7M587.3 233.2h1.7M402 234.2h1.7M405.4 234.2h1.7M415.6 234.2h1.7M420.7 234.2h1.7M424.1 234.2h3.4M436 234.2h1.7M449.6 234.2h1.7M454.7 234.2h1.7M546.5 234.2h1.7M563.5 234.2h3.4M580.5 234.2h1.7M391.8 235.2h1.7M402 235.2h1.7M408.8 235.2h1.7M417.3 235.2h1.7M429.2 235.2h1.7M436 235.2h1.7M449.6 235.2h3.4M454.7 235.2h1.7M473.4 235.2h1.7M495.5 235.2h1.7M505.7 235.2h1.7M548.2 235.2h1.7M551.6 235.2h1.7M556.7 235.2h1.7M561.8 235.2h1.7M568.6 235.2h1.7M572 235.2h1.7M578.8 235.2h3.4M590.7 235.2h1.7M396.9 236.2h3.4M408.8 236.2h1.7M412.2 236.2h1.7M446.2 236.2h3.4M473.4 236.2h1.7M498.9 236.2h3.4M524.4 236.2h1.7M544.8 236.2h3.4M555 236.2h3.4M565.2 236.2h1.7M570.3 236.2h3.4M575.4 236.2h1.7M583.9 236.2h1.7M599.2 236.2h1.7M619.6 236.2h1.7M628.1 236.2h3.4M449.6 237.2h1.7M475.1 237.2h1.7M519.3 237.2h1.7M524.4 237.2h1.7M558.4 237.2h3.4M393.5 238.3h1.7M398.6 238.3h1.7M417.3 238.3h1.7M425.8 238.3h3.4M442.8 238.3h1.7M453 238.3h1.7M456.4 238.3h1.7M468.3 238.3h1.7M488.7 238.3h1.7M493.8 238.3h1.7M498.9 238.3h1.7M502.3 238.3h1.7M507.4 238.3h1.7M526.1 238.3h1.7M534.6 238.3h3.4M544.8 238.3h1.7M549.9 238.3h1.7M570.3 238.3h3.4M575.4 238.3h3.4M582.2 238.3h1.7M606 238.3h1.7M612.8 238.3h1.7M621.3 238.3h1.7M398.6 239.3h1.7M420.7 239.3h3.4M439.4 239.3h1.7M442.8 239.3h1.7M447.9 239.3h1.7M461.5 239.3h1.7M470 239.3h1.7M543.1 239.3h1.7M555 239.3h1.7M560.1 239.3h1.7M572 239.3h1.7M577.1 239.3h1.7M587.3 239.3h1.7M415.6 240.3h1.7M420.7 240.3h1.7M453 240.3h1.7M476.8 240.3h1.7M566.9 240.3h3.4M585.6 240.3h1.7M599.2 240.3h1.7M393.5 241.3h1.7M432.6 241.3h1.7M454.7 241.3h1.7M478.5 241.3h1.7M522.7 241.3h3.4M555 241.3h1.7M558.4 241.3h1.7M572 241.3h1.7M585.6 241.3h1.7M592.4 241.3h1.7M602.6 241.3h1.7M619.6 241.3h1.7M403.7 242.3h1.7M420.7 242.3h1.7M437.7 242.3h1.7M454.7 242.3h1.7M505.7 242.3h1.7M526.1 242.3h1.7M529.5 242.3h1.7M560.1 242.3h1.7M566.9 242.3h1.7M575.4 242.3h1.7M585.6 242.3h1.7M589 242.3h1.7M611.1 242.3h1.7M623 242.3h1.7M629.8 242.3h1.7M403.7 243.3h1.7M408.8 243.3h5.1M420.7 243.3h1.7M425.8 243.3h1.7M429.2 243.3h3.4M434.3 243.3h1.7M451.3 243.3h5.1M476.8 243.3h1.7M488.7 243.3h1.7M502.3 243.3h1.7M551.6 243.3h3.4M572 243.3h1.7M597.5 243.3h3.4M602.6 243.3h1.7M526.1 244.3h1.7M566.9 244.3h1.7M578.8 244.3h1.7M597.5 244.3h1.7M602.6 244.3h1.7M391.8 245.3h1.7M425.8 245.3h1.7M430.9 245.3h1.7M439.4 245.3h1.7M444.5 245.3h1.7M449.6 245.3h1.7M453 245.3h1.7M487 245.3h1.7M527.8 245.3h1.7M565.2 245.3h1.7M573.7 245.3h5.1M583.9 245.3h1.7M619.6 245.3h1.7M398.6 246.3h1.7M402 246.3h1.7M415.6 246.3h1.7M419 246.3h1.7M424.1 246.3h5.1M434.3 246.3h1.7M444.5 246.3h1.7M447.9 246.3h3.4M544.8 246.3h1.7M558.4 246.3h3.4M565.2 246.3h1.7M572 246.3h1.7M582.2 246.3h1.7M624.7 246.3h1.7M628.1 246.3h1.7M633.2 246.3h1.7M391.8 247.3h3.4M396.9 247.3h1.7M407.1 247.3h1.7M410.5 247.3h1.7M413.9 247.3h5.1M425.8 247.3h3.4M434.3 247.3h5.1M441.1 247.3h3.4M451.3 247.3h5.1M529.5 247.3h1.7M544.8 247.3h1.7M555 247.3h1.7M563.5 247.3h1.7M577.1 247.3h1.7M589 247.3h1.7M444.5 248.3h1.7M459.8 248.3h1.7M519.3 248.3h1.7M538 248.3h1.7M543.1 248.3h1.7M566.9 248.3h3.4M575.4 248.3h3.4M587.3 248.3h1.7M590.7 248.3h1.7M597.5 248.3h1.7M606 248.3h1.7M633.2 248.3h1.7"/>
<path stroke="#dee6ef" d="M393.5 136.8h1.7M405.4 136.8h1.7M412.2 136.8h1.7M434.3 136.8h1.7M437.7 136.8h1.7M441.1 136.8h1.7M451.3 136.8h1.7M454.7 136.8h3.4M466.6 136.8h1.7M476.8 136.8h1.7M495.5 136.8h1.7M509.1 136.8h1.7M514.2 136.8h1.7M519.3 136.8h1.7M543.1 136.8h1.7M575.4 136.8h1.7M597.5 136.8h1.7M612.8 136.8h3.4M626.4 136.8h1.7M393.5 137.8h1.7M420.7 137.8h1.7M425.8 137.8h1.7M470 137.8h1.7M526.1 137.8h1.7M538 137.8h1.7M541.4 137.8h1.7M555 137.8h1.7M558.4 137.8h1.7M561.8 137.8h1.7M568.6 137.8h1.7M577.1 137.8h1.7M600.9 137.8h1.7M612.8 137.8h1.7M391.8 138.8h3.4M398.6 138.8h1.7M402 138.8h3.4M424.1 138.8h1.7M434.3 138.8h1.7M437.7 138.8h5.1M459.8 138.8h1.7M470 138.8h1.7M493.8 138.8h1.7M497.2 138.8h1.7M502.3 138.8h1.7M515.9 138.8h1.7M553.3 138.8h5.1M566.9 138.8h1.7M575.4 138.8h1.7M594.1 138.8h1.7M599.2 138.8h3.4M607.7 138.8h1.7M619.6 138.8h1.7M391.8 139.8h1.7M413.9 139.8h1.7M436 139.8h3.4M456.4 139.8h1.7M481.9 139.8h1.7M492.1 139.8h1.7M500.6 139.8h1.7M505.7 139.8h1.7M517.6 139.8h1.7M536.3 139.8h1.7M543.1 139.8h1.7M568.6 139.8h1.7M617.9 139.8h1.7M391.8 140.8h1.7M405.4 140.8h1.7M427.5 140.8h1.7M430.9 140.8h5.1M439.4 140.8h1.7M447.9 140.8h1.7M451.3 140.8h1.7M476.8 140.8h1.7M485.3 140.8h3.4M490.4 140.8h1.7M522.7 140.8h1.7M536.3 140.8h3.4M541.4 140.8h1.7M548.2 140.8h1.7M558.4 140.8h1.7M573.7 140.8h1.7M602.6 140.8h1.7M626.4 140.8h1.7M629.8 140.8h1.7M393.5 141.8h1.7M398.6 141.8h1.7M402 141.8h1.7M419 141.8h1.7M439.4 141.8h1.7M485.3 141.8h3.4M493.8 141.8h1.7M505.7 141.8h1.7M538 141.8h1.7M560.1 141.8h1.7M604.3 141.8h1.7M400.3 142.8h1.7M419 142.8h1.7M425.8 142.8h1.7M430.9 142.8h1.7M436 142.8h1.7M456.4 142.8h1.7M543.1 142.8h1.7M558.4 142.8h1.7M589 142.8h1.7M604.3 142.8h1.7M402 143.8h1.7M407.1 143.8h1.7M422.4 143.8h1.7M437.7 143.8h3.4M470 143.8h1.7M478.5 143.8h3.4M483.6 143.8h1.7M497.2 143.8h1.7M534.6 143.8h1.7M570.3 143.8h1.7M573.7 143.8h1.7M578.8 143.8h1.7M607.7 143.8h1.7M612.8 143.8h1.7M616.2 143.8h1.7M634.9 143.8h1.7M391.8 144.8h1.7M424.1 144.8h1.7M441.1 144.8h1.7M478.5 144.8h1.7M488.7 144.8h1.7M507.4 144.8h1.7M522.7 144.8h1.7M536.3 144.8h1.7M556.7 144.8h3.4M563.5 144.8h1.7M575.4 144.8h1.7M578.8 144.8h1.7M611.1 144.8h1.7M629.8 144.8h1.7M393.5 145.8h1.7M398.6 145.8h1.7M420.7 145.8h1.7M425.8 145.8h1.7M429.2 145.8h1.7M451.3 145.8h1.7M463.2 145.8h1.7M466.6 145.8h1.7M483.6 145.8h1.7M492.1 145.8h1.7M514.2 145.8h1.7M568.6 145.8h1.7M575.4 145.8h3.4M599.2 145.8h1.7M604.3 145.8h1.7M617.9 145.8h1.7M621.3 145.8h1.7M631.5 145.8h1.7M412.2 146.8h1.7M427.5 146.8h3.4M444.5 146.8h1.7M459.8 146.8h1.7M480.2 146.8h3.4M497.2 146.8h3.4M502.3 146.8h1.7M529.5 146.8h1.7M561.8 146.8h3.4M568.6 146.8h1.7M573.7 146.8h3.4M602.6 146.8h3.4M611.1 146.8h1.7M398.6 147.9h1.7M408.8 147.9h3.4M415.6 147.9h1.7M419 147.9h1.7M458.1 147.9h1.7M461.5 147.9h3.4M495.5 147.9h1.7M504 147.9h1.7M514.2 147.9h1.7M555 147.9h1.7M558.4 147.9h3.4M565.2 147.9h1.7M572 147.9h1.7M577.1 147.9h1.7M604.3 147.9h1.7M607.7 147.9h1.7M624.7 147.9h1.7M631.5 147.9h1.7M391.8 148.9h5.1M413.9 148.9h1.7M419 148.9h1.7M483.6 148.9h1.7M497.2 148.9h1.7M502.3 148.9h1.7M519.3 148.9h1.7M560.1 148.9h1.7M566.9 148.9h1.7M572 148.9h1.7M578.8 148.9h1.7M619.6 148.9h1.7M624.7 148.9h1.7M398.6 149.9h1.7M403.7 149.9h1.7M408.8 149.9h3.4M415.6 149.9h1.7M458.1 149.9h1.7M478.5 149.9h1.7M483.6 149.9h1.7M490.4 149.9h1.7M493.8 149.9h1.7M509.1 149.9h1.7M512.5 149.9h1.7M575.4 149.9h3.4M607.7 149.9h1.7M614.5 149.9h1.7M623 149.9h1.7M395.2 150.9h1.7M398.6 150.9h1.7M402 150.9h1.7M408.8 150.9h1.7M425.8 150.9h1.7M456.4 150.9h1.7M497.2 150.9h1.7M556.7 150.9h1.7M573.7 150.9h1.7M634.9 150.9h1.7M408.8 151.9h1.7M437.7 151.9h1.7M444.5 151.9h1.7M454.7 151.9h1.7M464.9 151.9h1.7M476.8 151.9h1.7M502.3 151.9h1.7M519.3 151.9h1.7M541.4 151.9h1.7M568.6 151.9h1.7M572 151.9h3.4M611.1 151.9h1.7M619.6 151.9h1.7M631.5 151.9h1.7M395.2 152.9h3.4M402 152.9h3.4M419 152.9h1.7M464.9 152.9h1.7M470 152.9h1.7M478.5 152.9h5.1M498.9 152.9h1.7M504 152.9h1.7M565.2 152.9h1.7M583.9 152.9h1.7M589 152.9h1.7M599.2 152.9h1.7M609.4 152.9h1.7M391.8 153.9h1.7M447.9 153.9h1.7M453 153.9h1.7M463.2 153.9h1.7M468.3 153.9h1.7M473.4 153.9h1.7M476.8 153.9h1.7M485.3 153.9h1.7M490.4 153.9h1.7M498.9 153.9h1.7M529.5 153.9h1.7M536.3 153.9h1.7M553.3 153.9h1.7M563.5 153.9h5.1M573.7 153.9h5.1M589 153.9h1.7M604.3 153.9h1.7M616.2 153.9h1.7M624.7 153.9h1.7M633.2 153.9h3.4M422.4 154.9h1.7M478.5 154.9h3.4M495.5 154.9h1.7M498.9 154.9h1.7M502.3 154.9h1.7M514.2 154.9h1.7M560.1 154.9h1.7M604.3 154.9h1.7M395.2 155.9h1.7M407.1 155.9h1.7M439.4 155.9h1.7M466.6 155.9h1.7M481.9 155.9h3.4M502.3 155.9h1.7M514.2 155.9h3.4M561.8 155.9h1.7M590.7 155.9h1.7M595.8 155.9h1.7M611.1 155.9h1.7M629.8 155.9h1.7M407.1 156.9h1.7M417.3 156.9h1.7M447.9 156.9h1.7M456.4 156.9h1.7M459.8 156.9h1.7M463.2 156.9h1.7M485.3 156.9h1.7M490.4 156.9h1.7M507.4 156.9h1.7M512.5 156.9h1.7M527.8 156.9h1.7M541.4 156.9h3.4M565.2 156.9h3.4M578.8 156.9h1.7M607.7 156.9h1.7M617.9 156.9h1.7M391.8 157.9h1.7M395.2 157.9h3.4M415.6 157.9h3.4M459.8 157.9h1.7M473.4 157.9h1.7M476.8 157.9h1.7M480.2 157.9h1.7M510.8 157.9h1.7M534.6 157.9h1.7M553.3 157.9h1.7M577.1 157.9h1.7M391.8 158.9h1.7M396.9 158.9h1.7M400.3 158.9h1.7M403.7 158.9h1.7M408.8 158.9h1.7M415.6 158.9h1.7M442.8 158.9h1.7M461.5 158.9h1.7M475.1 158.9h1.7M480.2 158.9h3.4M485.3 158.9h1.7M505.7 158.9h1.7M526.1 158.9h1.7M538 158.9h1.7M541.4 158.9h1.7M572 158.9h1.7M583.9 158.9h1.7M597.5 158.9h1.7M612.8 158.9h1.7M631.5 158.9h1.7M393.5 159.9h1.7M425.8 159.9h1.7M434.3 159.9h1.7M446.2 159.9h1.7M468.3 159.9h1.7M473.4 159.9h1.7M493.8 159.9h1.7M497.2 159.9h1.7M502.3 159.9h1.7M538 159.9h1.7M553.3 159.9h3.4M561.8 159.9h1.7M565.2 159.9h1.7M587.3 159.9h1.7M599.2 159.9h1.7M628.1 159.9h3.4M391.8 160.9h1.7M398.6 160.9h1.7M458.1 160.9h1.7M478.5 160.9h1.7M483.6 160.9h1.7M500.6 160.9h1.7M514.2 160.9h1.7M543.1 160.9h1.7M565.2 160.9h1.7M572 160.9h1.7M578.8 160.9h1.7M606 160.9h1.7M616.2 160.9h1.7M619.6 160.9h1.7M393.5 161.9h1.7M408.8 161.9h1.7M417.3 161.9h3.4M422.4 161.9h1.7M456.4 161.9h1.7M459.8 161.9h1.7M476.8 161.9h1.7M480.2 161.9h1.7M483.6 161.9h1.7M488.7 161.9h1.7M492.1 161.9h1.7M498.9 161.9h1.7M502.3 161.9h3.4M512.5 161.9h1.7M521 161.9h1.7M546.5 161.9h1.7M553.3 161.9h1.7M556.7 161.9h1.7M561.8 161.9h5.1M570.3 161.9h3.4M577.1 161.9h3.4M602.6 161.9h1.7M633.2 161.9h1.7M391.8 162.9h1.7M410.5 162.9h1.7M439.4 162.9h1.7M444.5 162.9h1.7M451.3 162.9h1.7M458.1 162.9h1.7M468.3 162.9h1.7M476.8 162.9h1.7M480.2 162.9h1.7M493.8 162.9h3.4M507.4 162.9h1.7M517.6 162.9h1.7M527.8 162.9h1.7M561.8 162.9h1.7M572 162.9h1.7M589 162.9h1.7M606 162.9h1.7M611.1 162.9h1.7M616.2 162.9h1.7M634.9 162.9h1.7M391.8 163.9h1.7M398.6 163.9h1.7M417.3 163.9h1.7M458.1 163.9h1.7M461.5 163.9h1.7M502.3 163.9h1.7M509.1 163.9h1.7M526.1 163.9h1.7M529.5 163.9h1.7M541.4 163.9h1.7M544.8 163.9h1.7M560.1 163.9h1.7M578.8 163.9h1.7M594.1 163.9h1.7M617.9 163.9h3.4M403.7 164.9h1.7M415.6 164.9h1.7M424.1 164.9h1.7M458.1 164.9h1.7M478.5 164.9h1.7M488.7 164.9h3.4M502.3 164.9h3.4M512.5 164.9h1.7M534.6 164.9h3.4M539.7 164.9h3.4M555 164.9h1.7M561.8 164.9h1.7M568.6 164.9h1.7M597.5 164.9h1.7M624.7 164.9h1.7M633.2 164.9h3.4M400.3 165.9h1.7M458.1 165.9h1.7M461.5 165.9h1.7M502.3 165.9h1.7M505.7 165.9h1.7M510.8 165.9h1.7M526.1 165.9h1.7M558.4 165.9h1.7M568.6 165.9h1.7M572 165.9h1.7M575.4 165.9h3.4M599.2 165.9h1.7M606 165.9h3.4M614.5 165.9h3.4M628.1 165.9h1.7M634.9 165.9h1.7M391.8 166.9h3.4M400.3 166.9h1.7M413.9 166.9h1.7M487 166.9h1.7M509.1 166.9h1.7M514.2 166.9h1.7M539.7 166.9h1.7M543.1 166.9h1.7M568.6 166.9h1.7M606 166.9h1.7M614.5 166.9h1.7M398.6 167.9h1.7M402 167.9h1.7M408.8 167.9h1.7M417.3 167.9h1.7M432.6 167.9h1.7M478.5 167.9h1.7M487 167.9h1.7M495.5 167.9h3.4M505.7 167.9h3.4M524.4 167.9h1.7M536.3 167.9h1.7M543.1 167.9h1.7M563.5 167.9h1.7M566.9 167.9h1.7M577.1 167.9h1.7M597.5 167.9h1.7M606 167.9h1.7M396.9 168.9h1.7M407.1 168.9h1.7M417.3 168.9h1.7M451.3 168.9h1.7M461.5 168.9h3.4M485.3 168.9h5.1M507.4 168.9h5.1M515.9 168.9h1.7M529.5 168.9h1.7M539.7 168.9h1.7M558.4 168.9h1.7M577.1 168.9h3.4M590.7 168.9h1.7M614.5 168.9h1.7M623 168.9h1.7M626.4 168.9h1.7M391.8 169.9h1.7M398.6 169.9h1.7M405.4 169.9h1.7M415.6 169.9h1.7M478.5 169.9h1.7M487 169.9h1.7M497.2 169.9h1.7M512.5 169.9h1.7M524.4 169.9h1.7M529.5 169.9h1.7M543.1 169.9h1.7M577.1 169.9h1.7M592.4 169.9h1.7M595.8 169.9h3.4M607.7 169.9h1.7M621.3 169.9h3.4M626.4 169.9h1.7M631.5 169.9h1.7M634.9 169.9h1.7M400.3 171h3.4M429.2 171h1.7M447.9 171h1.7M458.1 171h1.7M490.4 171h1.7M512.5 171h1.7M561.8 171h1.7M575.4 171h1.7M606 171h1.7M612.8 171h1.7M619.6 171h1.7M631.5 171h1.7M396.9 172h1.7M408.8 172h1.7M413.9 172h1.7M478.5 172h1.7M487 172h1.7M514.2 172h1.7M529.5 172h1.7M572 172h1.7M602.6 172h3.4M614.5 172h5.1M631.5 172h1.7M490.4 173h1.7M495.5 173h1.7M504 173h6.8M512.5 173h1.7M515.9 173h1.7M521 173h3.4M526.1 173h1.7M534.6 173h1.7M541.4 173h1.7M570.3 173h1.7M573.7 173h1.7M583.9 173h1.7M599.2 173h1.7M604.3 173h3.4M616.2 173h3.4M623 173h1.7M633.2 173h1.7M393.5 174h3.4M408.8 174h1.7M415.6 174h1.7M444.5 174h1.7M488.7 174h1.7M493.8 174h1.7M505.7 174h3.4M512.5 174h1.7M521 174h1.7M526.1 174h1.7M541.4 174h1.7M558.4 174h3.4M570.3 174h1.7M595.8 174h3.4M611.1 174h1.7M626.4 174h1.7M391.8 175h1.7M424.1 175h1.7M487 175h3.4M492.1 175h1.7M495.5 175h3.4M510.8 175h1.7M514.2 175h1.7M517.6 175h3.4M522.7 175h1.7M541.4 175h3.4M565.2 175h1.7M568.6 175h1.7M573.7 175h1.7M597.5 175h1.7M606 175h1.7M617.9 175h1.7M621.3 175h3.4M626.4 175h1.7M633.2 175h1.7M408.8 176h1.7M417.3 176h1.7M434.3 176h1.7M458.1 176h1.7M476.8 176h3.4M490.4 176h1.7M493.8 176h1.7M498.9 176h1.7M515.9 176h3.4M524.4 176h1.7M529.5 176h1.7M566.9 176h3.4M573.7 176h1.7M592.4 176h1.7M595.8 176h1.7M602.6 176h1.7M609.4 176h1.7M616.2 176h1.7M619.6 176h1.7M629.8 176h1.7M393.5 177h1.7M407.1 177h5.1M427.5 177h1.7M432.6 177h1.7M442.8 177h3.4M451.3 177h1.7M456.4 177h1.7M478.5 177h3.4M483.6 177h1.7M492.1 177h1.7M507.4 177h3.4M529.5 177h1.7M536.3 177h1.7M539.7 177h3.4M548.2 177h1.7M558.4 177h1.7M565.2 177h1.7M578.8 177h1.7M585.6 177h1.7M590.7 177h1.7M604.3 177h1.7M612.8 177h1.7M623 177h1.7M634.9 177h1.7M391.8 178h1.7M407.1 178h1.7M456.4 178h1.7M505.7 178h1.7M510.8 178h1.7M519.3 178h3.4M534.6 178h3.4M546.5 178h1.7M561.8 178h1.7M573.7 178h1.7M631.5 178h1.7M407.1 179h1.7M410.5 179h3.4M427.5 179h1.7M458.1 179h1.7M480.2 179h1.7M487 179h1.7M497.2 179h3.4M517.6 179h3.4M558.4 179h1.7M568.6 179h1.7M573.7 179h1.7M577.1 179h1.7M583.9 179h1.7M595.8 179h1.7M600.9 179h1.7M604.3 179h1.7M609.4 179h1.7M612.8 179h1.7M403.7 180h3.4M432.6 180h1.7M437.7 180h3.4M466.6 180h1.7M478.5 180h1.7M490.4 180h1.7M504 180h1.7M509.1 180h1.7M536.3 180h5.1M561.8 180h3.4M572 180h1.7M578.8 180h1.7M589 180h1.7M595.8 180h1.7M623 180h1.7M395.2 181h1.7M407.1 181h1.7M424.1 181h1.7M458.1 181h1.7M464.9 181h1.7M468.3 181h1.7M473.4 181h1.7M485.3 181h1.7M488.7 181h1.7M502.3 181h3.4M509.1 181h1.7M543.1 181h1.7M572 181h1.7M590.7 181h1.7M602.6 181h1.7M626.4 181h1.7M403.7 182h1.7M408.8 182h3.4M419 182h1.7M432.6 182h1.7M493.8 182h1.7M519.3 182h1.7M529.5 182h1.7M534.6 182h1.7M548.2 182h1.7M563.5 182h1.7M568.6 182h1.7M573.7 182h1.7M577.1 182h1.7M592.4 182h1.7M600.9 182h1.7M607.7 182h1.7M616.2 182h1.7M629.8 182h1.7M398.6 183h1.7M413.9 183h1.7M487 183h1.7M492.1 183h1.7M505.7 183h3.4M512.5 183h1.7M555 183h5.1M561.8 183h1.7M568.6 183h3.4M577.1 183h1.7M585.6 183h1.7M600.9 183h1.7M607.7 183h1.7M612.8 183h3.4M408.8 184h1.7M446.2 184h1.7M458.1 184h1.7M487 184h5.1M497.2 184h1.7M512.5 184h1.7M521 184h3.4M536.3 184h1.7M556.7 184h1.7M563.5 184h1.7M568.6 184h1.7M587.3 184h1.7M590.7 184h1.7M612.8 184h1.7M617.9 184h1.7M623 184h1.7M391.8 185h1.7M407.1 185h1.7M413.9 185h1.7M419 185h1.7M424.1 185h1.7M429.2 185h1.7M466.6 185h1.7M481.9 185h1.7M490.4 185h1.7M495.5 185h1.7M504 185h1.7M510.8 185h1.7M541.4 185h1.7M555 185h1.7M570.3 185h1.7M578.8 185h1.7M594.1 185h1.7M604.3 185h1.7M607.7 185h1.7M611.1 185h1.7M614.5 185h1.7M617.9 185h1.7M621.3 185h1.7M408.8 186h1.7M449.6 186h1.7M510.8 186h1.7M515.9 186h1.7M565.2 186h1.7M597.5 186h1.7M604.3 186h3.4M609.4 186h1.7M393.5 187h1.7M403.7 187h3.4M408.8 187h1.7M413.9 187h1.7M425.8 187h1.7M442.8 187h1.7M451.3 187h1.7M456.4 187h1.7M459.8 187h1.7M480.2 187h1.7M488.7 187h1.7M534.6 187h1.7M544.8 187h1.7M573.7 187h1.7M578.8 187h1.7M589 187h1.7M602.6 187h1.7M614.5 187h1.7M623 187h1.7M634.9 187h1.7M391.8 188h1.7M395.2 188h5.1M412.2 188h1.7M424.1 188h1.7M490.4 188h1.7M517.6 188h1.7M536.3 188h3.4M577.1 188h3.4M599.2 188h1.7M607.7 188h1.7M612.8 188h1.7M616.2 188h1.7M402 189h1.7M412.2 189h1.7M449.6 189h1.7M483.6 189h1.7M492.1 189h1.7M512.5 189h1.7M526.1 189h1.7M538 189h1.7M558.4 189h3.4M568.6 189h1.7M573.7 189h1.7M577.1 189h1.7M592.4 189h1.7M595.8 189h3.4M633.2 189h1.7M398.6 190h1.7M417.3 190h1.7M464.9 190h1.7M485.3 190h1.7M495.5 190h1.7M507.4 190h1.7M532.9 190h1.7M543.1 190h1.7M612.8 190h1.7M628.1 190h3.4M398.6 191h1.7M403.7 191h3.4M410.5 191h1.7M415.6 191h1.7M420.7 191h1.7M471.7 191h1.7M488.7 191h1.7M505.7 191h1.7M515.9 191h1.7M519.3 191h1.7M534.6 191h3.4M548.2 191h1.7M558.4 191h3.4M577.1 191h1.7M617.9 191h1.7M402 192h3.4M407.1 192h1.7M417.3 192h1.7M439.4 192h1.7M444.5 192h1.7M459.8 192h1.7M471.7 192h1.7M480.2 192h1.7M509.1 192h1.7M524.4 192h1.7M531.2 192h1.7M536.3 192h1.7M543.1 192h1.7M568.6 192h1.7M595.8 192h1.7M611.1 192h3.4M391.8 193.1h1.7M395.2 193.1h1.7M402 193.1h1.7M408.8 193.1h1.7M427.5 193.1h1.7M449.6 193.1h1.7M476.8 193.1h3.4M497.2 193.1h1.7M509.1 193.1h1.7M517.6 193.1h1.7M531.2 193.1h5.1M561.8 193.1h1.7M587.3 193.1h1.7M393.5 194.1h3.4M429.2 194.1h1.7M436 194.1h1.7M439.4 194.1h1.7M442.8 194.1h3.4M449.6 194.1h1.7M453 194.1h1.7M461.5 194.1h3.4M468.3 194.1h5.1M493.8 194.1h1.7M514.2 194.1h1.7M534.6 194.1h1.7M561.8 194.1h1.7M585.6 194.1h1.7M589 194.1h1.7M614.5 194.1h1.7M619.6 194.1h1.7M629.8 194.1h1.7M391.8 195.1h1.7M412.2 195.1h1.7M417.3 195.1h1.7M422.4 195.1h1.7M429.2 195.1h1.7M432.6 195.1h1.7M441.1 195.1h1.7M449.6 195.1h1.7M464.9 195.1h1.7M505.7 195.1h1.7M515.9 195.1h3.4M531.2 195.1h1.7M555 195.1h1.7M558.4 195.1h3.4M563.5 195.1h1.7M566.9 195.1h1.7M578.8 195.1h1.7M592.4 195.1h1.7M600.9 195.1h1.7M606 195.1h1.7M611.1 195.1h1.7M617.9 195.1h1.7M391.8 196.1h1.7M398.6 196.1h3.4M410.5 196.1h1.7M417.3 196.1h3.4M422.4 196.1h1.7M437.7 196.1h1.7M442.8 196.1h1.7M451.3 196.1h1.7M454.7 196.1h1.7M458.1 196.1h1.7M466.6 196.1h1.7M519.3 196.1h1.7M526.1 196.1h1.7M546.5 196.1h1.7M558.4 196.1h1.7M575.4 196.1h1.7M595.8 196.1h1.7M600.9 196.1h3.4M623 196.1h1.7M398.6 197.1h1.7M410.5 197.1h1.7M413.9 197.1h1.7M424.1 197.1h3.4M459.8 197.1h1.7M493.8 197.1h1.7M502.3 197.1h3.4M510.8 197.1h1.7M548.2 197.1h1.7M553.3 197.1h1.7M560.1 197.1h1.7M577.1 197.1h1.7M582.2 197.1h3.4M589 197.1h3.4M599.2 197.1h1.7M398.6 198.1h1.7M424.1 198.1h1.7M427.5 198.1h1.7M439.4 198.1h1.7M446.2 198.1h1.7M454.7 198.1h1.7M495.5 198.1h1.7M512.5 198.1h6.8M524.4 198.1h1.7M529.5 198.1h1.7M563.5 198.1h1.7M577.1 198.1h1.7M590.7 198.1h5.1M600.9 198.1h1.7M634.9 198.1h1.7M410.5 199.1h1.7M413.9 199.1h1.7M417.3 199.1h5.1M425.8 199.1h3.4M437.7 199.1h1.7M447.9 199.1h1.7M453 199.1h1.7M509.1 199.1h1.7M515.9 199.1h1.7M526.1 199.1h1.7M538 199.1h5.1M560.1 199.1h3.4M566.9 199.1h1.7M570.3 199.1h1.7M575.4 199.1h3.4M582.2 199.1h1.7M594.1 199.1h1.7M607.7 199.1h1.7M628.1 199.1h1.7M410.5 200.1h1.7M413.9 200.1h1.7M427.5 200.1h1.7M432.6 200.1h1.7M437.7 200.1h1.7M464.9 200.1h1.7M500.6 200.1h1.7M509.1 200.1h3.4M521 200.1h1.7M534.6 200.1h3.4M563.5 200.1h1.7M594.1 200.1h1.7M614.5 200.1h1.7M413.9 201.1h1.7M420.7 201.1h1.7M432.6 201.1h1.7M436 201.1h1.7M449.6 201.1h1.7M453 201.1h1.7M466.6 201.1h3.4M502.3 201.1h1.7M521 201.1h1.7M526.1 201.1h3.4M563.5 201.1h1.7M597.5 201.1h1.7M611.1 201.1h1.7M624.7 201.1h1.7M628.1 201.1h1.7M391.8 202.1h1.7M395.2 202.1h1.7M427.5 202.1h1.7M432.6 202.1h1.7M446.2 202.1h1.7M459.8 202.1h1.7M470 202.1h3.4M481.9 202.1h1.7M505.7 202.1h1.7M517.6 202.1h1.7M524.4 202.1h1.7M531.2 202.1h1.7M534.6 202.1h1.7M541.4 202.1h1.7M544.8 202.1h1.7M573.7 202.1h1.7M583.9 202.1h1.7M589 202.1h1.7M606 202.1h3.4M611.1 202.1h1.7M621.3 202.1h1.7M628.1 202.1h1.7M407.1 203.1h1.7M413.9 203.1h1.7M432.6 203.1h5.1M442.8 203.1h1.7M481.9 203.1h1.7M485.3 203.1h1.7M507.4 203.1h1.7M541.4 203.1h1.7M556.7 203.1h1.7M600.9 203.1h3.4M612.8 203.1h1.7M616.2 203.1h1.7M621.3 203.1h1.7M629.8 203.1h1.7M395.2 204.1h1.7M410.5 204.1h3.4M415.6 204.1h1.7M420.7 204.1h1.7M425.8 204.1h1.7M437.7 204.1h1.7M447.9 204.1h1.7M468.3 204.1h1.7M488.7 204.1h1.7M505.7 204.1h1.7M515.9 204.1h1.7M526.1 204.1h1.7M532.9 204.1h1.7M538 204.1h1.7M543.1 204.1h3.4M549.9 204.1h1.7M555 204.1h1.7M558.4 204.1h1.7M561.8 204.1h1.7M587.3 204.1h5.1M599.2 204.1h1.7M602.6 204.1h1.7M612.8 204.1h1.7M629.8 204.1h1.7M403.7 205.1h5.1M412.2 205.1h1.7M415.6 205.1h1.7M422.4 205.1h3.4M436 205.1h3.4M444.5 205.1h1.7M453 205.1h3.4M471.7 205.1h1.7M505.7 205.1h1.7M566.9 205.1h1.7M602.6 205.1h1.7M612.8 205.1h1.7M617.9 205.1h1.7M427.5 206.1h1.7M464.9 206.1h1.7M495.5 206.1h1.7M502.3 206.1h1.7M526.1 206.1h1.7M555 206.1h1.7M563.5 206.1h1.7M568.6 206.1h1.7M604.3 206.1h1.7M617.9 206.1h1.7M621.3 206.1h1.7M628.1 206.1h1.7M634.9 206.1h1.7M492.1 207.1h1.7M509.1 207.1h1.7M512.5 207.1h1.7M517.6 207.1h1.7M526.1 207.1h3.4M556.7 207.1h1.7M568.6 207.1h1.7M572 207.1h1.7M578.8 207.1h1.7M583.9 207.1h1.7M589 207.1h1.7M592.4 207.1h1.7M600.9 207.1h1.7M606 207.1h1.7M611.1 207.1h1.7M614.5 207.1h1.7M617.9 207.1h1.7M628.1 207.1h1.7M403.7 208.1h1.7M439.4 208.1h1.7M458.1 208.1h1.7M461.5 208.1h1.7M468.3 208.1h3.4M475.1 208.1h1.7M524.4 208.1h3.4M595.8 208.1h1.7M617.9 208.1h1.7M628.1 208.1h1.7M631.5 208.1h3.4M429.2 209.1h1.7M504 209.1h1.7M573.7 209.1h1.7M592.4 209.1h1.7M602.6 209.1h1.7M606 209.1h1.7M614.5 209.1h1.7M619.6 209.1h1.7M624.7 209.1h1.7M634.9 209.1h1.7M391.8 210.1h1.7M410.5 210.1h1.7M429.2 210.1h1.7M461.5 210.1h1.7M502.3 210.1h1.7M548.2 210.1h1.7M572 210.1h3.4M590.7 210.1h3.4M595.8 210.1h1.7M393.5 211.1h1.7M415.6 211.1h1.7M422.4 211.1h1.7M427.5 211.1h5.1M437.7 211.1h1.7M441.1 211.1h1.7M454.7 211.1h1.7M476.8 211.1h1.7M492.1 211.1h1.7M527.8 211.1h1.7M532.9 211.1h1.7M551.6 211.1h3.4M560.1 211.1h1.7M578.8 211.1h1.7M582.2 211.1h3.4M609.4 211.1h1.7M621.3 211.1h3.4M633.2 211.1h1.7M441.1 212.1h1.7M490.4 212.1h1.7M517.6 212.1h1.7M522.7 212.1h1.7M548.2 212.1h1.7M561.8 212.1h1.7M600.9 212.1h1.7M604.3 212.1h1.7M607.7 212.1h6.8M616.2 212.1h1.7M619.6 212.1h1.7M631.5 212.1h1.7M398.6 213.1h1.7M425.8 213.1h1.7M454.7 213.1h1.7M461.5 213.1h1.7M483.6 213.1h1.7M514.2 213.1h1.7M526.1 213.1h1.7M538 213.1h1.7M555 213.1h1.7M560.1 213.1h1.7M566.9 213.1h1.7M590.7 213.1h1.7M602.6 213.1h1.7M611.1 213.1h3.4M617.9 213.1h1.7M626.4 213.1h1.7M634.9 213.1h1.7M466.6 214.1h1.7M475.1 214.1h1.7M490.4 214.1h1.7M538 214.1h1.7M570.3 214.1h1.7M616.2 214.1h3.4M621.3 214.1h1.7M427.5 215.2h3.4M441.1 215.2h1.7M444.5 215.2h1.7M466.6 215.2h1.7M476.8 215.2h1.7M480.2 215.2h1.7M502.3 215.2h1.7M521 215.2h1.7M560.1 215.2h1.7M599.2 215.2h5.1M621.3 215.2h1.7M526.1 216.2h1.7M529.5 216.2h1.7M556.7 216.2h3.4M573.7 216.2h1.7M580.5 216.2h1.7M604.3 216.2h1.7M617.9 216.2h1.7M391.8 217.2h1.7M410.5 217.2h1.7M446.2 217.2h1.7M470 217.2h1.7M497.2 217.2h1.7M526.1 217.2h1.7M549.9 217.2h1.7M555 217.2h1.7M592.4 217.2h1.7M595.8 217.2h1.7M628.1 217.2h1.7M430.9 218.2h1.7M473.4 218.2h1.7M485.3 218.2h1.7M544.8 218.2h1.7M563.5 218.2h1.7M454.7 219.2h1.7M458.1 219.2h1.7M468.3 219.2h3.4M488.7 219.2h3.4M510.8 219.2h1.7M521 219.2h1.7M527.8 219.2h1.7M531.2 219.2h1.7M541.4 219.2h1.7M565.2 219.2h1.7M599.2 219.2h1.7M606 219.2h1.7M611.1 219.2h1.7M616.2 219.2h1.7M623 219.2h3.4M631.5 219.2h1.7M634.9 219.2h1.7M577.1 220.2h1.7M391.8 221.2h1.7M395.2 221.2h1.7M398.6 221.2h1.7M402 221.2h1.7M415.6 221.2h1.7M420.7 221.2h5.1M429.2 221.2h1.7M434.3 221.2h1.7M437.7 221.2h3.4M444.5 221.2h1.7M454.7 221.2h1.7M475.1 221.2h1.7M493.8 221.2h1.7M514.2 221.2h1.7M522.7 221.2h1.7M541.4 221.2h1.7M549.9 221.2h1.7M553.3 221.2h3.4M561.8 221.2h1.7M565.2 221.2h1.7M587.3 221.2h1.7M594.1 221.2h1.7M612.8 221.2h1.7M470 222.2h3.4M521 222.2h1.7M546.5 222.2h1.7M549.9 222.2h1.7M553.3 222.2h1.7M556.7 222.2h1.7M560.1 222.2h1.7M563.5 222.2h1.7M583.9 222.2h3.4M589 222.2h1.7M619.6 222.2h1.7M631.5 222.2h1.7M398.6 223.2h1.7M405.4 223.2h1.7M412.2 223.2h1.7M419 223.2h1.7M427.5 223.2h1.7M430.9 223.2h1.7M449.6 223.2h3.4M454.7 223.2h1.7M480.2 223.2h1.7M507.4 223.2h1.7M514.2 223.2h1.7M544.8 223.2h1.7M585.6 223.2h1.7M589 223.2h1.7M592.4 223.2h1.7M599.2 223.2h1.7M395.2 224.2h1.7M410.5 224.2h1.7M466.6 224.2h3.4M519.3 224.2h3.4M526.1 224.2h1.7M529.5 224.2h1.7M563.5 224.2h1.7M395.2 225.2h1.7M468.3 225.2h1.7M515.9 225.2h1.7M522.7 225.2h1.7M527.8 225.2h1.7M539.7 225.2h1.7M548.2 225.2h1.7M563.5 225.2h3.4M582.2 225.2h1.7M395.2 226.2h1.7M403.7 226.2h3.4M422.4 226.2h1.7M427.5 226.2h3.4M459.8 226.2h3.4M466.6 226.2h1.7M481.9 226.2h3.4M534.6 226.2h1.7M556.7 226.2h1.7M560.1 226.2h5.1M595.8 226.2h1.7M604.3 226.2h1.7M607.7 226.2h1.7M624.7 226.2h1.7M633.2 226.2h1.7M395.2 227.2h1.7M432.6 227.2h3.4M444.5 227.2h1.7M466.6 227.2h1.7M470 227.2h1.7M487 227.2h1.7M500.6 227.2h1.7M519.3 227.2h1.7M536.3 227.2h1.7M543.1 227.2h1.7M560.1 227.2h1.7M563.5 227.2h1.7M573.7 227.2h1.7M577.1 227.2h1.7M582.2 227.2h1.7M585.6 227.2h1.7M589 227.2h1.7M616.2 227.2h1.7M461.5 228.2h1.7M464.9 228.2h1.7M471.7 228.2h3.4M490.4 228.2h1.7M495.5 228.2h1.7M498.9 228.2h1.7M502.3 228.2h1.7M509.1 228.2h1.7M517.6 228.2h3.4M526.1 228.2h1.7M529.5 228.2h1.7M534.6 228.2h1.7M539.7 228.2h1.7M543.1 228.2h3.4M558.4 228.2h1.7M561.8 228.2h3.4M577.1 228.2h3.4M585.6 228.2h1.7M589 228.2h1.7M612.8 228.2h1.7M422.4 229.2h1.7M425.8 229.2h1.7M451.3 229.2h1.7M470 229.2h3.4M476.8 229.2h1.7M483.6 229.2h1.7M492.1 229.2h1.7M498.9 229.2h1.7M505.7 229.2h1.7M522.7 229.2h1.7M531.2 229.2h1.7M539.7 229.2h1.7M548.2 229.2h1.7M563.5 229.2h1.7M583.9 229.2h3.4M589 229.2h1.7M597.5 229.2h1.7M602.6 229.2h1.7M405.4 230.2h1.7M420.7 230.2h1.7M429.2 230.2h1.7M454.7 230.2h1.7M480.2 230.2h1.7M492.1 230.2h3.4M497.2 230.2h1.7M505.7 230.2h1.7M517.6 230.2h1.7M521 230.2h1.7M531.2 230.2h1.7M546.5 230.2h1.7M565.2 230.2h1.7M583.9 230.2h1.7M606 230.2h1.7M619.6 230.2h1.7M626.4 230.2h1.7M425.8 231.2h1.7M429.2 231.2h1.7M461.5 231.2h1.7M466.6 231.2h1.7M478.5 231.2h1.7M483.6 231.2h1.7M507.4 231.2h1.7M527.8 231.2h1.7M544.8 231.2h1.7M553.3 231.2h1.7M561.8 231.2h1.7M577.1 231.2h1.7M582.2 231.2h3.4M398.6 232.2h1.7M436 232.2h1.7M464.9 232.2h1.7M478.5 232.2h1.7M481.9 232.2h1.7M485.3 232.2h1.7M512.5 232.2h1.7M522.7 232.2h1.7M531.2 232.2h1.7M534.6 232.2h1.7M548.2 232.2h1.7M572 232.2h1.7M582.2 232.2h1.7M604.3 232.2h1.7M626.4 232.2h1.7M425.8 233.2h1.7M459.8 233.2h1.7M487 233.2h1.7M492.1 233.2h1.7M502.3 233.2h1.7M522.7 233.2h1.7M551.6 233.2h6.8M570.3 233.2h3.4M583.9 233.2h1.7M619.6 233.2h1.7M629.8 233.2h1.7M393.5 234.2h1.7M430.9 234.2h1.7M459.8 234.2h1.7M493.8 234.2h1.7M497.2 234.2h1.7M502.3 234.2h1.7M514.2 234.2h1.7M519.3 234.2h1.7M524.4 234.2h1.7M536.3 234.2h1.7M572 234.2h1.7M582.2 234.2h1.7M585.6 234.2h1.7M398.6 235.2h1.7M403.7 235.2h1.7M407.1 235.2h1.7M453 235.2h1.7M456.4 235.2h1.7M461.5 235.2h1.7M481.9 235.2h1.7M509.1 235.2h1.7M514.2 235.2h3.4M536.3 235.2h5.1M553.3 235.2h3.4M563.5 235.2h1.7M575.4 235.2h1.7M585.6 235.2h1.7M595.8 235.2h1.7M602.6 235.2h1.7M391.8 236.2h1.7M395.2 236.2h1.7M461.5 236.2h1.7M481.9 236.2h1.7M548.2 236.2h1.7M560.1 236.2h1.7M566.9 236.2h3.4M595.8 236.2h3.4M602.6 236.2h1.7M606 236.2h3.4M614.5 236.2h1.7M395.2 237.2h1.7M473.4 237.2h1.7M488.7 237.2h1.7M522.7 237.2h1.7M529.5 237.2h1.7M575.4 237.2h1.7M589 237.2h1.7M621.3 237.2h1.7M628.1 237.2h1.7M391.8 238.3h1.7M413.9 238.3h1.7M420.7 238.3h1.7M436 238.3h1.7M441.1 238.3h1.7M446.2 238.3h1.7M471.7 238.3h3.4M480.2 238.3h1.7M490.4 238.3h1.7M504 238.3h1.7M510.8 238.3h1.7M529.5 238.3h3.4M543.1 238.3h1.7M553.3 238.3h3.4M560.1 238.3h1.7M565.2 238.3h5.1M583.9 238.3h1.7M607.7 238.3h1.7M616.2 238.3h5.1M634.9 238.3h1.7M413.9 239.3h1.7M430.9 239.3h3.4M488.7 239.3h1.7M493.8 239.3h1.7M500.6 239.3h1.7M551.6 239.3h1.7M573.7 239.3h1.7M597.5 239.3h1.7M602.6 239.3h1.7M395.2 240.3h1.7M419 240.3h1.7M454.7 240.3h1.7M470 240.3h1.7M480.2 240.3h1.7M555 240.3h1.7M561.8 240.3h1.7M578.8 240.3h1.7M509.1 241.3h1.7M561.8 241.3h1.7M578.8 241.3h1.7M589 241.3h1.7M629.8 241.3h1.7M429.2 242.3h1.7M436 242.3h1.7M488.7 242.3h1.7M558.4 242.3h1.7M563.5 242.3h1.7M570.3 242.3h1.7M578.8 242.3h1.7M590.7 242.3h1.7M624.7 242.3h1.7M395.2 243.3h1.7M398.6 243.3h1.7M402 243.3h1.7M422.4 243.3h1.7M441.1 243.3h1.7M446.2 243.3h1.7M456.4 243.3h1.7M468.3 243.3h1.7M493.8 243.3h1.7M497.2 243.3h1.7M507.4 243.3h1.7M522.7 243.3h1.7M529.5 243.3h1.7M536.3 243.3h1.7M548.2 243.3h1.7M563.5 243.3h1.7M583.9 243.3h1.7M587.3 243.3h3.4M606 243.3h1.7M623 243.3h1.7M417.3 244.3h1.7M471.7 244.3h1.7M517.6 244.3h1.7M548.2 244.3h1.7M573.7 244.3h3.4M582.2 244.3h1.7M592.4 244.3h1.7M398.6 245.3h1.7M412.2 245.3h1.7M424.1 245.3h1.7M446.2 245.3h1.7M451.3 245.3h1.7M468.3 245.3h1.7M476.8 245.3h1.7M514.2 245.3h1.7M553.3 245.3h1.7M558.4 245.3h1.7M570.3 245.3h1.7M578.8 245.3h3.4M589 245.3h1.7M396.9 246.3h1.7M408.8 246.3h3.4M420.7 246.3h1.7M436 246.3h1.7M454.7 246.3h5.1M478.5 246.3h1.7M497.2 246.3h1.7M509.1 246.3h1.7M512.5 246.3h1.7M553.3 246.3h1.7M556.7 246.3h1.7M566.9 246.3h3.4M575.4 246.3h1.7M578.8 246.3h1.7M583.9 246.3h1.7M589 246.3h1.7M402 247.3h1.7M422.4 247.3h1.7M432.6 247.3h1.7M459.8 247.3h1.7M475.1 247.3h1.7M497.2 247.3h1.7M548.2 247.3h1.7M556.7 247.3h1.7M560.1 247.3h1.7M566.9 247.3h1.7M570.3 247.3h3.4M575.4 247.3h1.7M578.8 247.3h1.7M429.2 248.3h1.7M447.9 248.3h1.7M502.3 248.3h1.7M526.1 248.3h1.7M531.2 248.3h1.7M539.7 248.3h1.7M555 248.3h1.7M578.8 248.3h1.7M602.6 248.3h1.7M628.1 248.3h1.7"/>
<path stroke="#f8eae5" d="M395.2 136.8h1.7M430.9 136.8h1.7M449.6 136.8h1.7M487 136.8h3.4M505.7 136.8h3.4M517.6 136.8h1.7M524.4 136.8h3.4M534.6 136.8h1.7M606 136.8h1.7M621.3 136.8h1.7M634.9 136.8h1.7M437.7 137.8h1.7M444.5 137.8h1.7M447.9 137.8h1.7M451.3 137.8h1.7M483.6 137.8h1.7M487 137.8h3.4M497.2 137.8h1.7M507.4 137.8h3.4M517.6 137.8h1.7M573.7 137.8h3.4M592.4 137.8h1.7M597.5 137.8h1.7M634.9 137.8h1.7M395.2 138.8h1.7M405.4 138.8h1.7M413.9 138.8h1.7M419 138.8h1.7M427.5 138.8h1.7M442.8 138.8h1.7M481.9 138.8h1.7M490.4 138.8h1.7M495.5 138.8h1.7M500.6 138.8h1.7M505.7 138.8h1.7M509.1 138.8h3.4M514.2 138.8h1.7M539.7 138.8h1.7M561.8 138.8h1.7M592.4 138.8h1.7M602.6 138.8h3.4M427.5 139.8h1.7M434.3 139.8h1.7M476.8 139.8h1.7M493.8 139.8h1.7M539.7 139.8h1.7M558.4 139.8h1.7M595.8 139.8h1.7M633.2 139.8h1.7M413.9 140.8h1.7M441.1 140.8h3.4M449.6 140.8h1.7M453 140.8h1.7M478.5 140.8h1.7M495.5 140.8h1.7M507.4 140.8h1.7M515.9 140.8h1.7M521 140.8h1.7M549.9 140.8h1.7M568.6 140.8h1.7M595.8 140.8h1.7M621.3 140.8h1.7M624.7 140.8h1.7M634.9 140.8h1.7M395.2 141.8h1.7M425.8 141.8h1.7M429.2 141.8h1.7M434.3 141.8h1.7M466.6 141.8h1.7M507.4 141.8h1.7M519.3 141.8h1.7M543.1 141.8h1.7M590.7 141.8h1.7M599.2 141.8h1.7M391.8 142.8h1.7M427.5 142.8h1.7M487 142.8h1.7M497.2 142.8h1.7M509.1 142.8h3.4M538 142.8h3.4M577.1 142.8h1.7M395.2 143.8h1.7M412.2 143.8h1.7M429.2 143.8h1.7M442.8 143.8h1.7M446.2 143.8h1.7M456.4 143.8h1.7M476.8 143.8h1.7M481.9 143.8h1.7M485.3 143.8h1.7M507.4 143.8h1.7M522.7 143.8h1.7M536.3 143.8h3.4M541.4 143.8h3.4M575.4 143.8h1.7M599.2 143.8h1.7M617.9 143.8h1.7M623 143.8h1.7M631.5 143.8h1.7M393.5 144.8h3.4M425.8 144.8h1.7M434.3 144.8h1.7M442.8 144.8h1.7M446.2 144.8h1.7M458.1 144.8h1.7M481.9 144.8h1.7M492.1 144.8h1.7M498.9 144.8h1.7M510.8 144.8h1.7M517.6 144.8h3.4M582.2 144.8h1.7M604.3 144.8h1.7M607.7 144.8h1.7M612.8 144.8h1.7M617.9 144.8h1.7M626.4 144.8h3.4M631.5 144.8h1.7M422.4 145.8h1.7M434.3 145.8h1.7M544.8 145.8h1.7M590.7 145.8h1.7M612.8 145.8h1.7M624.7 145.8h1.7M628.1 145.8h1.7M436 146.8h5.1M447.9 146.8h1.7M488.7 146.8h1.7M514.2 146.8h1.7M519.3 146.8h1.7M524.4 146.8h1.7M539.7 146.8h1.7M560.1 146.8h1.7M594.1 146.8h1.7M597.5 146.8h1.7M405.4 147.9h1.7M413.9 147.9h1.7M437.7 147.9h1.7M441.1 147.9h1.7M476.8 147.9h3.4M488.7 147.9h1.7M497.2 147.9h1.7M505.7 147.9h3.4M526.1 147.9h1.7M543.1 147.9h1.7M561.8 147.9h1.7M568.6 147.9h1.7M578.8 147.9h1.7M589 147.9h1.7M617.9 147.9h3.4M634.9 147.9h1.7M412.2 148.9h1.7M420.7 148.9h5.1M442.8 148.9h1.7M446.2 148.9h1.7M466.6 148.9h1.7M490.4 148.9h1.7M498.9 148.9h1.7M504 148.9h1.7M526.1 148.9h1.7M558.4 148.9h1.7M565.2 148.9h1.7M570.3 148.9h1.7M573.7 148.9h1.7M597.5 148.9h1.7M412.2 149.9h1.7M419 149.9h1.7M425.8 149.9h1.7M429.2 149.9h1.7M487 149.9h1.7M565.2 149.9h1.7M589 149.9h1.7M595.8 149.9h3.4M422.4 150.9h1.7M487 150.9h1.7M502.3 150.9h1.7M505.7 150.9h1.7M509.1 150.9h3.4M519.3 150.9h1.7M539.7 150.9h1.7M592.4 150.9h3.4M611.1 150.9h1.7M617.9 150.9h3.4M402 151.9h1.7M419 151.9h1.7M425.8 151.9h1.7M456.4 151.9h1.7M475.1 151.9h1.7M488.7 151.9h1.7M495.5 151.9h1.7M514.2 151.9h1.7M524.4 151.9h1.7M589 151.9h1.7M595.8 151.9h1.7M626.4 151.9h1.7M407.1 152.9h1.7M410.5 152.9h1.7M413.9 152.9h1.7M420.7 152.9h1.7M427.5 152.9h1.7M446.2 152.9h1.7M487 152.9h5.1M505.7 152.9h1.7M510.8 152.9h1.7M522.7 152.9h1.7M538 152.9h1.7M543.1 152.9h1.7M555 152.9h1.7M560.1 152.9h1.7M572 152.9h5.1M578.8 152.9h1.7M597.5 152.9h1.7M602.6 152.9h1.7M611.1 152.9h1.7M617.9 152.9h1.7M624.7 152.9h1.7M631.5 152.9h1.7M398.6 153.9h1.7M402 153.9h1.7M407.1 153.9h1.7M412.2 153.9h1.7M420.7 153.9h1.7M442.8 153.9h3.4M449.6 153.9h1.7M459.8 153.9h1.7M471.7 153.9h1.7M493.8 153.9h5.1M524.4 153.9h1.7M538 153.9h1.7M594.1 153.9h1.7M607.7 153.9h1.7M617.9 153.9h1.7M393.5 154.9h1.7M407.1 154.9h1.7M441.1 154.9h1.7M456.4 154.9h3.4M493.8 154.9h1.7M515.9 154.9h1.7M573.7 154.9h1.7M616.2 154.9h1.7M619.6 154.9h1.7M629.8 154.9h1.7M634.9 154.9h1.7M417.3 155.9h1.7M425.8 155.9h1.7M497.2 155.9h3.4M541.4 155.9h3.4M580.5 155.9h1.7M623 155.9h3.4M634.9 155.9h1.7M405.4 156.9h1.7M408.8 156.9h1.7M425.8 156.9h1.7M454.7 156.9h1.7M458.1 156.9h1.7M473.4 156.9h1.7M487 156.9h1.7M492.1 156.9h3.4M510.8 156.9h1.7M517.6 156.9h1.7M538 156.9h3.4M544.8 156.9h1.7M555 156.9h1.7M558.4 156.9h1.7M561.8 156.9h1.7M572 156.9h1.7M582.2 156.9h1.7M403.7 157.9h1.7M407.1 157.9h3.4M437.7 157.9h1.7M441.1 157.9h1.7M444.5 157.9h1.7M451.3 157.9h1.7M461.5 157.9h1.7M470 157.9h1.7M483.6 157.9h1.7M488.7 157.9h1.7M492.1 157.9h3.4M498.9 157.9h1.7M563.5 157.9h1.7M578.8 157.9h1.7M585.6 157.9h1.7M590.7 157.9h1.7M595.8 157.9h1.7M602.6 157.9h1.7M607.7 157.9h1.7M612.8 157.9h1.7M437.7 158.9h3.4M456.4 158.9h3.4M464.9 158.9h1.7M470 158.9h3.4M478.5 158.9h1.7M488.7 158.9h1.7M497.2 158.9h1.7M563.5 158.9h5.1M578.8 158.9h1.7M594.1 158.9h3.4M623 158.9h1.7M402 159.9h1.7M407.1 159.9h1.7M422.4 159.9h1.7M432.6 159.9h1.7M459.8 159.9h1.7M466.6 159.9h1.7M475.1 159.9h3.4M485.3 159.9h1.7M510.8 159.9h1.7M519.3 159.9h1.7M541.4 159.9h1.7M548.2 159.9h1.7M551.6 159.9h1.7M560.1 159.9h1.7M583.9 159.9h1.7M594.1 159.9h1.7M602.6 159.9h1.7M611.1 159.9h1.7M616.2 159.9h1.7M626.4 159.9h1.7M415.6 160.9h3.4M424.1 160.9h1.7M488.7 160.9h1.7M498.9 160.9h1.7M529.5 160.9h1.7M541.4 160.9h1.7M566.9 160.9h1.7M590.7 160.9h1.7M602.6 160.9h1.7M617.9 160.9h1.7M634.9 160.9h1.7M391.8 161.9h1.7M396.9 161.9h1.7M402 161.9h3.4M407.1 161.9h1.7M437.7 161.9h1.7M475.1 161.9h1.7M507.4 161.9h1.7M534.6 161.9h1.7M538 161.9h3.4M558.4 161.9h1.7M575.4 161.9h1.7M599.2 161.9h1.7M611.1 161.9h1.7M614.5 161.9h1.7M628.1 161.9h1.7M393.5 162.9h1.7M466.6 162.9h1.7M488.7 162.9h1.7M498.9 162.9h1.7M509.1 162.9h1.7M515.9 162.9h1.7M532.9 162.9h1.7M555 162.9h1.7M568.6 162.9h1.7M600.9 162.9h1.7M607.7 162.9h1.7M621.3 162.9h1.7M624.7 162.9h6.8M405.4 163.9h1.7M449.6 163.9h1.7M466.6 163.9h1.7M488.7 163.9h1.7M493.8 163.9h3.4M515.9 163.9h1.7M543.1 163.9h1.7M575.4 163.9h1.7M590.7 163.9h1.7M599.2 163.9h1.7M604.3 163.9h1.7M628.1 163.9h1.7M398.6 164.9h3.4M407.1 164.9h1.7M417.3 164.9h1.7M439.4 164.9h3.4M447.9 164.9h1.7M493.8 164.9h1.7M609.4 164.9h1.7M616.2 164.9h1.7M626.4 164.9h1.7M395.2 165.9h1.7M405.4 165.9h3.4M422.4 165.9h1.7M493.8 165.9h1.7M498.9 165.9h1.7M512.5 165.9h1.7M534.6 165.9h1.7M539.7 165.9h1.7M597.5 165.9h1.7M612.8 165.9h1.7M631.5 165.9h1.7M415.6 166.9h1.7M422.4 166.9h3.4M432.6 166.9h1.7M436 166.9h1.7M441.1 166.9h1.7M458.1 166.9h1.7M476.8 166.9h1.7M498.9 166.9h5.1M512.5 166.9h1.7M515.9 166.9h3.4M529.5 166.9h1.7M536.3 166.9h1.7M595.8 166.9h1.7M600.9 166.9h1.7M604.3 166.9h1.7M607.7 166.9h1.7M611.1 166.9h1.7M621.3 166.9h3.4M470 167.9h1.7M476.8 167.9h1.7M500.6 167.9h3.4M509.1 167.9h1.7M514.2 167.9h1.7M539.7 167.9h1.7M558.4 167.9h1.7M590.7 167.9h1.7M600.9 167.9h3.4M607.7 167.9h1.7M623 167.9h1.7M629.8 167.9h1.7M633.2 167.9h1.7M393.5 168.9h1.7M398.6 168.9h1.7M403.7 168.9h1.7M408.8 168.9h1.7M504 168.9h1.7M519.3 168.9h1.7M524.4 168.9h1.7M531.2 168.9h1.7M534.6 168.9h1.7M568.6 168.9h1.7M594.1 168.9h3.4M602.6 168.9h1.7M606 168.9h1.7M611.1 168.9h1.7M619.6 168.9h3.4M629.8 168.9h1.7M634.9 168.9h1.7M393.5 169.9h1.7M396.9 169.9h1.7M458.1 169.9h1.7M505.7 169.9h1.7M514.2 169.9h1.7M522.7 169.9h1.7M573.7 169.9h3.4M594.1 169.9h1.7M599.2 169.9h3.4M604.3 169.9h1.7M609.4 169.9h6.8M617.9 169.9h1.7M624.7 169.9h1.7M403.7 171h1.7M410.5 171h1.7M442.8 171h3.4M493.8 171h1.7M497.2 171h1.7M514.2 171h1.7M524.4 171h1.7M531.2 171h1.7M538 171h1.7M558.4 171h1.7M573.7 171h1.7M599.2 171h3.4M609.4 171h1.7M617.9 171h1.7M391.8 172h1.7M403.7 172h1.7M415.6 172h1.7M510.8 172h1.7M517.6 172h1.7M522.7 172h1.7M531.2 172h1.7M536.3 172h1.7M565.2 172h1.7M595.8 172h1.7M600.9 172h1.7M606 172h1.7M623 172h1.7M628.1 172h1.7M634.9 172h1.7M391.8 173h1.7M395.2 173h1.7M429.2 173h1.7M437.7 173h1.7M451.3 173h1.7M454.7 173h1.7M488.7 173h1.7M492.1 173h1.7M498.9 173h1.7M519.3 173h1.7M532.9 173h1.7M543.1 173h1.7M575.4 173h1.7M589 173h1.7M609.4 173h1.7M403.7 174h1.7M447.9 174h1.7M456.4 174h1.7M490.4 174h1.7M500.6 174h3.4M509.1 174h1.7M529.5 174h1.7M538 174h3.4M566.9 174h3.4M573.7 174h1.7M590.7 174h3.4M599.2 174h1.7M628.1 174h5.1M393.5 175h1.7M398.6 175h3.4M405.4 175h1.7M417.3 175h1.7M434.3 175h1.7M458.1 175h1.7M466.6 175h1.7M498.9 175h1.7M515.9 175h1.7M526.1 175h1.7M536.3 175h1.7M539.7 175h1.7M561.8 175h1.7M578.8 175h1.7M592.4 175h1.7M595.8 175h1.7M599.2 175h1.7M607.7 175h1.7M624.7 175h1.7M398.6 176h1.7M402 176h1.7M424.1 176h3.4M442.8 176h1.7M470 176h1.7M487 176h3.4M500.6 176h1.7M527.8 176h1.7M561.8 176h1.7M570.3 176h1.7M594.1 176h1.7M614.5 176h1.7M617.9 176h1.7M631.5 176h1.7M634.9 176h1.7M400.3 177h3.4M429.2 177h1.7M434.3 177h1.7M458.1 177h1.7M464.9 177h1.7M468.3 177h1.7M473.4 177h1.7M485.3 177h1.7M488.7 177h3.4M500.6 177h1.7M504 177h3.4M514.2 177h3.4M521 177h3.4M546.5 177h1.7M555 177h1.7M560.1 177h1.7M566.9 177h1.7M573.7 177h5.1M583.9 177h1.7M633.2 177h1.7M400.3 178h3.4M408.8 178h1.7M429.2 178h1.7M497.2 178h1.7M500.6 178h1.7M522.7 178h5.1M575.4 178h1.7M592.4 178h8.5M607.7 178h1.7M611.1 178h3.4M616.2 178h6.8M405.4 179h1.7M408.8 179h1.7M413.9 179h1.7M417.3 179h1.7M436 179h1.7M507.4 179h1.7M534.6 179h1.7M538 179h1.7M543.1 179h1.7M560.1 179h1.7M575.4 179h1.7M594.1 179h1.7M597.5 179h1.7M623 179h1.7M626.4 179h1.7M398.6 180h1.7M422.4 180h1.7M447.9 180h1.7M470 180h1.7M498.9 180h1.7M526.1 180h1.7M529.5 180h3.4M555 180h1.7M558.4 180h1.7M590.7 180h1.7M606 180h1.7M611.1 180h1.7M393.5 181h1.7M398.6 181h1.7M402 181h1.7M419 181h1.7M422.4 181h1.7M456.4 181h1.7M466.6 181h1.7M495.5 181h3.4M512.5 181h5.1M526.1 181h1.7M536.3 181h1.7M548.2 181h1.7M555 181h1.7M558.4 181h1.7M577.1 181h3.4M594.1 181h1.7M604.3 181h1.7M609.4 181h1.7M616.2 181h1.7M453 182h1.7M500.6 182h1.7M512.5 182h3.4M526.1 182h1.7M532.9 182h1.7M570.3 182h1.7M578.8 182h1.7M590.7 182h1.7M602.6 182h1.7M606 182h1.7M609.4 182h1.7M614.5 182h1.7M621.3 182h1.7M628.1 182h1.7M633.2 182h3.4M396.9 183h1.7M400.3 183h1.7M405.4 183h3.4M429.2 183h1.7M514.2 183h1.7M519.3 183h1.7M524.4 183h1.7M529.5 183h1.7M536.3 183h1.7M539.7 183h1.7M590.7 183h3.4M595.8 183h1.7M619.6 183h1.7M629.8 183h1.7M634.9 183h1.7M412.2 184h1.7M415.6 184h1.7M432.6 184h1.7M437.7 184h1.7M444.5 184h1.7M478.5 184h1.7M505.7 184h1.7M541.4 184h1.7M577.1 184h1.7M602.6 184h1.7M607.7 184h1.7M611.1 184h1.7M405.4 185h1.7M430.9 185h1.7M444.5 185h1.7M449.6 185h1.7M493.8 185h1.7M498.9 185h1.7M517.6 185h5.1M532.9 185h3.4M539.7 185h1.7M551.6 185h1.7M561.8 185h1.7M568.6 185h1.7M572 185h1.7M575.4 185h1.7M597.5 185h1.7M600.9 185h3.4M612.8 185h1.7M626.4 185h1.7M402 186h1.7M407.1 186h1.7M413.9 186h1.7M419 186h1.7M424.1 186h1.7M432.6 186h1.7M441.1 186h1.7M514.2 186h1.7M517.6 186h3.4M524.4 186h1.7M534.6 186h1.7M566.9 186h1.7M570.3 186h1.7M577.1 186h1.7M594.1 186h1.7M599.2 186h1.7M602.6 186h1.7M611.1 186h1.7M617.9 186h1.7M623 186h1.7M391.8 187h1.7M395.2 187h1.7M398.6 187h1.7M402 187h1.7M410.5 187h3.4M441.1 187h1.7M447.9 187h1.7M492.1 187h1.7M500.6 187h1.7M514.2 187h1.7M521 187h1.7M538 187h1.7M555 187h3.4M560.1 187h1.7M563.5 187h1.7M566.9 187h1.7M572 187h1.7M592.4 187h1.7M606 187h1.7M609.4 187h3.4M624.7 187h1.7M629.8 187h1.7M400.3 188h1.7M403.7 188h5.1M456.4 188h1.7M480.2 188h1.7M488.7 188h1.7M498.9 188h1.7M505.7 188h3.4M543.1 188h1.7M590.7 188h1.7M602.6 188h1.7M631.5 188h1.7M400.3 189h1.7M403.7 189h1.7M407.1 189h1.7M410.5 189h1.7M497.2 189h5.1M505.7 189h3.4M510.8 189h1.7M515.9 189h1.7M519.3 189h1.7M522.7 189h1.7M570.3 189h1.7M578.8 189h1.7M616.2 189h1.7M623 189h1.7M628.1 189h3.4M634.9 189h1.7M395.2 190h1.7M493.8 190h1.7M502.3 190h3.4M515.9 190h1.7M529.5 190h1.7M561.8 190h1.7M595.8 190h1.7M617.9 190h1.7M417.3 191h1.7M487 191h1.7M500.6 191h1.7M504 191h1.7M521 191h1.7M556.7 191h1.7M561.8 191h1.7M568.6 191h1.7M600.9 191h1.7M614.5 191h1.7M624.7 191h1.7M393.5 192h1.7M408.8 192h1.7M412.2 192h1.7M420.7 192h1.7M427.5 192h1.7M449.6 192h1.7M458.1 192h1.7M487 192h1.7M500.6 192h1.7M505.7 192h1.7M512.5 192h5.1M529.5 192h1.7M541.4 192h1.7M561.8 192h1.7M565.2 192h3.4M573.7 192h1.7M578.8 192h1.7M590.7 192h1.7M604.3 192h1.7M633.2 192h1.7M398.6 193.1h1.7M415.6 193.1h1.7M456.4 193.1h5.1M464.9 193.1h1.7M492.1 193.1h3.4M502.3 193.1h1.7M512.5 193.1h5.1M536.3 193.1h3.4M544.8 193.1h1.7M573.7 193.1h1.7M611.1 193.1h1.7M628.1 193.1h1.7M633.2 193.1h1.7M402 194.1h1.7M405.4 194.1h1.7M432.6 194.1h1.7M459.8 194.1h1.7M464.9 194.1h1.7M473.4 194.1h1.7M481.9 194.1h1.7M488.7 194.1h3.4M507.4 194.1h3.4M512.5 194.1h1.7M522.7 194.1h1.7M536.3 194.1h1.7M549.9 194.1h1.7M553.3 194.1h3.4M558.4 194.1h3.4M563.5 194.1h1.7M572 194.1h1.7M580.5 194.1h1.7M590.7 194.1h1.7M594.1 194.1h1.7M617.9 194.1h1.7M634.9 194.1h1.7M402 195.1h1.7M425.8 195.1h1.7M434.3 195.1h1.7M439.4 195.1h1.7M453 195.1h1.7M458.1 195.1h1.7M492.1 195.1h1.7M521 195.1h1.7M526.1 195.1h1.7M568.6 195.1h1.7M573.7 195.1h1.7M577.1 195.1h1.7M607.7 195.1h1.7M623 195.1h1.7M626.4 195.1h1.7M412.2 196.1h1.7M424.1 196.1h1.7M427.5 196.1h1.7M434.3 196.1h1.7M439.4 196.1h1.7M461.5 196.1h1.7M481.9 196.1h1.7M488.7 196.1h1.7M510.8 196.1h1.7M517.6 196.1h1.7M521 196.1h1.7M538 196.1h1.7M543.1 196.1h1.7M565.2 196.1h3.4M590.7 196.1h1.7M594.1 196.1h1.7M616.2 196.1h1.7M628.1 196.1h3.4M633.2 196.1h1.7M391.8 197.1h1.7M403.7 197.1h1.7M436 197.1h1.7M447.9 197.1h1.7M461.5 197.1h5.1M471.7 197.1h1.7M480.2 197.1h6.8M488.7 197.1h1.7M498.9 197.1h1.7M531.2 197.1h1.7M536.3 197.1h1.7M541.4 197.1h3.4M555 197.1h3.4M563.5 197.1h1.7M606 197.1h1.7M616.2 197.1h1.7M624.7 197.1h1.7M628.1 197.1h1.7M412.2 198.1h1.7M422.4 198.1h1.7M425.8 198.1h1.7M429.2 198.1h1.7M436 198.1h1.7M444.5 198.1h1.7M466.6 198.1h1.7M487 198.1h1.7M509.1 198.1h1.7M521 198.1h1.7M575.4 198.1h1.7M626.4 198.1h3.4M631.5 198.1h3.4M412.2 199.1h1.7M422.4 199.1h3.4M429.2 199.1h1.7M454.7 199.1h3.4M459.8 199.1h1.7M498.9 199.1h1.7M505.7 199.1h1.7M517.6 199.1h1.7M524.4 199.1h1.7M543.1 199.1h1.7M555 199.1h1.7M565.2 199.1h1.7M600.9 199.1h1.7M623 199.1h5.1M631.5 199.1h1.7M425.8 200.1h1.7M454.7 200.1h1.7M488.7 200.1h1.7M492.1 200.1h1.7M512.5 200.1h1.7M526.1 200.1h1.7M544.8 200.1h1.7M555 200.1h1.7M558.4 200.1h3.4M578.8 200.1h1.7M604.3 200.1h5.1M612.8 200.1h1.7M617.9 200.1h1.7M628.1 200.1h1.7M631.5 200.1h1.7M634.9 200.1h1.7M419 201.1h1.7M427.5 201.1h1.7M430.9 201.1h1.7M442.8 201.1h1.7M473.4 201.1h1.7M483.6 201.1h1.7M488.7 201.1h1.7M493.8 201.1h1.7M514.2 201.1h1.7M560.1 201.1h1.7M568.6 201.1h1.7M572 201.1h1.7M575.4 201.1h1.7M592.4 201.1h1.7M612.8 201.1h1.7M619.6 201.1h1.7M633.2 201.1h1.7M425.8 202.1h1.7M429.2 202.1h1.7M449.6 202.1h1.7M458.1 202.1h1.7M461.5 202.1h1.7M466.6 202.1h1.7M475.1 202.1h1.7M480.2 202.1h1.7M488.7 202.1h1.7M504 202.1h1.7M526.1 202.1h1.7M543.1 202.1h1.7M563.5 202.1h1.7M575.4 202.1h1.7M590.7 202.1h1.7M599.2 202.1h1.7M617.9 202.1h3.4M405.4 203.1h1.7M410.5 203.1h3.4M420.7 203.1h1.7M424.1 203.1h1.7M437.7 203.1h1.7M464.9 203.1h1.7M470 203.1h3.4M478.5 203.1h1.7M498.9 203.1h1.7M522.7 203.1h1.7M527.8 203.1h3.4M563.5 203.1h1.7M594.1 203.1h1.7M611.1 203.1h1.7M624.7 203.1h1.7M391.8 204.1h1.7M398.6 204.1h1.7M408.8 204.1h1.7M424.1 204.1h1.7M432.6 204.1h5.1M439.4 204.1h1.7M454.7 204.1h1.7M459.8 204.1h1.7M463.2 204.1h1.7M470 204.1h1.7M473.4 204.1h1.7M485.3 204.1h1.7M493.8 204.1h1.7M504 204.1h1.7M521 204.1h1.7M529.5 204.1h3.4M536.3 204.1h1.7M568.6 204.1h1.7M573.7 204.1h1.7M577.1 204.1h1.7M626.4 204.1h3.4M631.5 204.1h1.7M429.2 205.1h5.1M441.1 205.1h1.7M446.2 205.1h1.7M456.4 205.1h1.7M466.6 205.1h3.4M493.8 205.1h1.7M526.1 205.1h3.4M538 205.1h1.7M541.4 205.1h3.4M570.3 205.1h1.7M575.4 205.1h3.4M594.1 205.1h1.7M616.2 205.1h1.7M619.6 205.1h1.7M629.8 205.1h1.7M400.3 206.1h1.7M420.7 206.1h1.7M466.6 206.1h3.4M475.1 206.1h1.7M478.5 206.1h1.7M483.6 206.1h1.7M488.7 206.1h1.7M509.1 206.1h1.7M524.4 206.1h1.7M531.2 206.1h1.7M541.4 206.1h1.7M556.7 206.1h3.4M565.2 206.1h1.7M570.3 206.1h1.7M592.4 206.1h1.7M602.6 206.1h1.7M606 206.1h1.7M614.5 206.1h1.7M631.5 206.1h1.7M449.6 207.1h1.7M475.1 207.1h1.7M478.5 207.1h1.7M541.4 207.1h1.7M563.5 207.1h1.7M599.2 207.1h1.7M609.4 207.1h1.7M616.2 207.1h1.7M634.9 207.1h1.7M420.7 208.1h1.7M437.7 208.1h1.7M459.8 208.1h1.7M536.3 208.1h1.7M543.1 208.1h1.7M568.6 208.1h3.4M577.1 208.1h1.7M592.4 208.1h1.7M599.2 208.1h1.7M611.1 208.1h1.7M619.6 208.1h3.4M451.3 209.1h1.7M458.1 209.1h1.7M470 209.1h1.7M475.1 209.1h1.7M498.9 209.1h1.7M515.9 209.1h1.7M522.7 209.1h1.7M541.4 209.1h1.7M553.3 209.1h1.7M556.7 209.1h1.7M560.1 209.1h1.7M565.2 209.1h1.7M568.6 209.1h1.7M572 209.1h1.7M577.1 209.1h3.4M604.3 209.1h1.7M607.7 209.1h3.4M612.8 209.1h1.7M623 209.1h1.7M626.4 209.1h1.7M453 210.1h1.7M475.1 210.1h1.7M483.6 210.1h1.7M519.3 210.1h1.7M536.3 210.1h1.7M541.4 210.1h1.7M563.5 210.1h1.7M566.9 210.1h1.7M570.3 210.1h1.7M575.4 210.1h1.7M578.8 210.1h1.7M587.3 210.1h1.7M602.6 210.1h1.7M614.5 210.1h3.4M402 211.1h1.7M413.9 211.1h1.7M419 211.1h1.7M425.8 211.1h1.7M434.3 211.1h3.4M453 211.1h1.7M493.8 211.1h1.7M502.3 211.1h3.4M512.5 211.1h1.7M526.1 211.1h1.7M534.6 211.1h3.4M546.5 211.1h1.7M555 211.1h1.7M568.6 211.1h1.7M572 211.1h1.7M594.1 211.1h1.7M599.2 211.1h1.7M602.6 211.1h1.7M611.1 211.1h1.7M616.2 211.1h1.7M436 212.1h1.7M514.2 212.1h1.7M519.3 212.1h1.7M534.6 212.1h1.7M541.4 212.1h1.7M556.7 212.1h1.7M391.8 213.1h1.7M419 213.1h1.7M441.1 213.1h1.7M470 213.1h1.7M473.4 213.1h3.4M498.9 213.1h1.7M543.1 213.1h1.7M561.8 213.1h1.7M565.2 213.1h1.7M572 213.1h1.7M587.3 213.1h1.7M594.1 213.1h1.7M597.5 213.1h1.7M604.3 213.1h1.7M609.4 213.1h1.7M459.8 214.1h1.7M463.2 214.1h1.7M468.3 214.1h3.4M473.4 214.1h1.7M478.5 214.1h1.7M481.9 214.1h1.7M507.4 214.1h1.7M522.7 214.1h5.1M555 214.1h1.7M560.1 214.1h3.4M566.9 214.1h1.7M597.5 214.1h1.7M600.9 214.1h1.7M619.6 214.1h1.7M628.1 214.1h1.7M454.7 215.2h1.7M495.5 215.2h1.7M517.6 215.2h3.4M553.3 215.2h3.4M570.3 215.2h1.7M577.1 215.2h1.7M587.3 215.2h1.7M594.1 215.2h1.7M597.5 215.2h1.7M607.7 215.2h1.7M624.7 215.2h1.7M631.5 215.2h3.4M393.5 216.2h1.7M468.3 216.2h1.7M505.7 216.2h1.7M563.5 216.2h1.7M595.8 216.2h1.7M600.9 216.2h1.7M614.5 216.2h1.7M436 217.2h1.7M439.4 217.2h1.7M459.8 217.2h1.7M464.9 217.2h1.7M495.5 217.2h1.7M553.3 217.2h1.7M565.2 217.2h1.7M570.3 217.2h1.7M578.8 217.2h1.7M606 217.2h1.7M612.8 217.2h1.7M616.2 217.2h5.1M626.4 217.2h1.7M488.7 218.2h1.7M524.4 218.2h1.7M560.1 218.2h1.7M565.2 218.2h3.4M577.1 218.2h1.7M589 218.2h1.7M594.1 218.2h1.7M624.7 218.2h3.4M629.8 218.2h1.7M396.9 219.2h1.7M461.5 219.2h1.7M476.8 219.2h1.7M485.3 219.2h1.7M493.8 219.2h1.7M497.2 219.2h1.7M502.3 219.2h1.7M515.9 219.2h1.7M519.3 219.2h1.7M539.7 219.2h1.7M572 219.2h1.7M578.8 219.2h1.7M592.4 219.2h1.7M626.4 219.2h1.7M629.8 219.2h1.7M633.2 219.2h1.7M466.6 220.2h1.7M471.7 220.2h1.7M529.5 220.2h1.7M543.1 220.2h1.7M566.9 220.2h1.7M589 220.2h1.7M612.8 220.2h1.7M430.9 221.2h3.4M436 221.2h1.7M441.1 221.2h1.7M449.6 221.2h1.7M461.5 221.2h1.7M470 221.2h1.7M502.3 221.2h3.4M526.1 221.2h3.4M538 221.2h3.4M548.2 221.2h1.7M551.6 221.2h1.7M566.9 221.2h1.7M573.7 221.2h1.7M583.9 221.2h1.7M602.6 221.2h1.7M611.1 221.2h1.7M626.4 221.2h1.7M391.8 222.2h1.7M436 222.2h1.7M458.1 222.2h1.7M473.4 222.2h1.7M527.8 222.2h1.7M538 222.2h3.4M548.2 222.2h1.7M558.4 222.2h1.7M565.2 222.2h3.4M595.8 222.2h1.7M604.3 222.2h3.4M612.8 222.2h1.7M626.4 222.2h1.7M395.2 223.2h1.7M403.7 223.2h1.7M420.7 223.2h1.7M425.8 223.2h1.7M434.3 223.2h3.4M442.8 223.2h1.7M459.8 223.2h1.7M466.6 223.2h3.4M475.1 223.2h1.7M485.3 223.2h1.7M493.8 223.2h1.7M500.6 223.2h1.7M519.3 223.2h1.7M522.7 223.2h1.7M529.5 223.2h1.7M532.9 223.2h1.7M538 223.2h1.7M543.1 223.2h1.7M556.7 223.2h6.8M565.2 223.2h5.1M572 223.2h1.7M583.9 223.2h1.7M587.3 223.2h1.7M604.3 223.2h3.4M621.3 223.2h3.4M628.1 223.2h1.7M633.2 223.2h1.7M461.5 224.2h1.7M475.1 224.2h1.7M483.6 224.2h3.4M488.7 224.2h1.7M504 224.2h1.7M509.1 224.2h5.1M517.6 224.2h1.7M522.7 224.2h1.7M539.7 224.2h1.7M556.7 224.2h1.7M565.2 224.2h1.7M585.6 224.2h1.7M589 224.2h1.7M594.1 224.2h1.7M607.7 224.2h1.7M611.1 224.2h1.7M617.9 224.2h1.7M451.3 225.2h1.7M459.8 225.2h1.7M464.9 225.2h3.4M470 225.2h1.7M473.4 225.2h1.7M476.8 225.2h3.4M481.9 225.2h3.4M493.8 225.2h1.7M509.1 225.2h1.7M526.1 225.2h1.7M536.3 225.2h1.7M544.8 225.2h1.7M580.5 225.2h1.7M398.6 226.2h1.7M432.6 226.2h1.7M446.2 226.2h1.7M454.7 226.2h1.7M464.9 226.2h1.7M476.8 226.2h1.7M480.2 226.2h1.7M485.3 226.2h3.4M502.3 226.2h1.7M510.8 226.2h3.4M519.3 226.2h1.7M522.7 226.2h3.4M544.8 226.2h1.7M548.2 226.2h1.7M572 226.2h1.7M582.2 226.2h1.7M585.6 226.2h3.4M429.2 227.2h1.7M478.5 227.2h1.7M492.1 227.2h1.7M507.4 227.2h3.4M512.5 227.2h1.7M515.9 227.2h1.7M522.7 227.2h3.4M527.8 227.2h1.7M531.2 227.2h3.4M548.2 227.2h1.7M555 227.2h1.7M561.8 227.2h1.7M568.6 227.2h1.7M583.9 227.2h1.7M623 227.2h1.7M629.8 227.2h1.7M393.5 228.2h3.4M420.7 228.2h1.7M463.2 228.2h1.7M470 228.2h1.7M500.6 228.2h1.7M512.5 228.2h1.7M549.9 228.2h1.7M556.7 228.2h1.7M572 228.2h1.7M597.5 228.2h3.4M604.3 228.2h1.7M607.7 228.2h1.7M631.5 228.2h1.7M403.7 229.2h1.7M478.5 229.2h1.7M485.3 229.2h1.7M488.7 229.2h1.7M493.8 229.2h3.4M514.2 229.2h1.7M529.5 229.2h1.7M546.5 229.2h1.7M549.9 229.2h1.7M572 229.2h3.4M577.1 229.2h3.4M619.6 229.2h1.7M412.2 230.2h3.4M425.8 230.2h1.7M461.5 230.2h1.7M473.4 230.2h1.7M476.8 230.2h3.4M495.5 230.2h1.7M500.6 230.2h5.1M507.4 230.2h1.7M515.9 230.2h1.7M527.8 230.2h1.7M536.3 230.2h3.4M548.2 230.2h1.7M553.3 230.2h1.7M558.4 230.2h1.7M568.6 230.2h1.7M573.7 230.2h1.7M582.2 230.2h1.7M589 230.2h1.7M599.2 230.2h1.7M611.1 230.2h1.7M631.5 230.2h1.7M402 231.2h1.7M470 231.2h1.7M505.7 231.2h1.7M512.5 231.2h1.7M519.3 231.2h1.7M526.1 231.2h1.7M534.6 231.2h1.7M541.4 231.2h1.7M568.6 231.2h1.7M614.5 231.2h1.7M459.8 232.2h1.7M466.6 232.2h5.1M492.1 232.2h3.4M504 232.2h1.7M510.8 232.2h1.7M517.6 232.2h1.7M521 232.2h1.7M541.4 232.2h5.1M551.6 232.2h1.7M560.1 232.2h1.7M589 232.2h1.7M619.6 232.2h1.7M628.1 232.2h1.7M468.3 233.2h3.4M478.5 233.2h1.7M481.9 233.2h1.7M490.4 233.2h1.7M524.4 233.2h1.7M565.2 233.2h1.7M578.8 233.2h1.7M589 233.2h1.7M396.9 234.2h1.7M439.4 234.2h1.7M468.3 234.2h1.7M473.4 234.2h1.7M483.6 234.2h1.7M534.6 234.2h1.7M556.7 234.2h1.7M577.1 234.2h1.7M600.9 234.2h1.7M395.2 235.2h1.7M420.7 235.2h1.7M427.5 235.2h1.7M490.4 235.2h1.7M502.3 235.2h3.4M507.4 235.2h1.7M522.7 235.2h1.7M526.1 235.2h1.7M529.5 235.2h1.7M544.8 235.2h1.7M570.3 235.2h1.7M573.7 235.2h1.7M599.2 235.2h1.7M617.9 235.2h1.7M634.9 235.2h1.7M393.5 236.2h1.7M464.9 236.2h1.7M471.7 236.2h1.7M476.8 236.2h1.7M490.4 236.2h1.7M521 236.2h1.7M526.1 236.2h1.7M529.5 236.2h1.7M551.6 236.2h1.7M558.4 236.2h1.7M578.8 236.2h1.7M592.4 236.2h1.7M504 237.2h1.7M507.4 237.2h1.7M590.7 237.2h1.7M604.3 237.2h1.7M611.1 237.2h1.7M629.8 237.2h1.7M410.5 238.3h1.7M429.2 238.3h1.7M454.7 238.3h1.7M466.6 238.3h1.7M487 238.3h1.7M519.3 238.3h1.7M541.4 238.3h1.7M578.8 238.3h1.7M585.6 238.3h1.7M589 238.3h1.7M599.2 238.3h1.7M604.3 238.3h1.7M614.5 238.3h1.7M459.8 239.3h1.7M464.9 239.3h1.7M473.4 239.3h1.7M490.4 239.3h1.7M497.2 239.3h3.4M510.8 239.3h1.7M519.3 239.3h1.7M527.8 239.3h1.7M595.8 239.3h1.7M612.8 239.3h1.7M619.6 239.3h1.7M439.4 240.3h1.7M473.4 240.3h1.7M493.8 240.3h1.7M524.4 240.3h1.7M529.5 240.3h1.7M543.1 240.3h1.7M563.5 240.3h1.7M573.7 240.3h1.7M595.8 240.3h1.7M600.9 240.3h1.7M475.1 241.3h1.7M493.8 241.3h1.7M526.1 241.3h1.7M599.2 241.3h1.7M607.7 241.3h1.7M473.4 242.3h1.7M483.6 242.3h1.7M490.4 242.3h1.7M583.9 242.3h1.7M617.9 242.3h1.7M417.3 243.3h1.7M512.5 243.3h5.1M541.4 243.3h1.7M560.1 243.3h3.4M566.9 243.3h1.7M573.7 243.3h5.1M592.4 243.3h1.7M617.9 243.3h1.7M624.7 243.3h3.4M633.2 243.3h1.7M446.2 244.3h1.7M534.6 244.3h1.7M459.8 245.3h1.7M463.2 245.3h1.7M470 245.3h1.7M475.1 245.3h1.7M495.5 245.3h3.4M536.3 245.3h1.7M594.1 245.3h1.7M597.5 245.3h1.7M607.7 245.3h1.7M631.5 245.3h3.4M413.9 246.3h1.7M430.9 246.3h3.4M442.8 246.3h1.7M473.4 246.3h1.7M488.7 246.3h1.7M561.8 246.3h1.7M604.3 246.3h1.7M444.5 247.3h1.7M500.6 247.3h1.7M512.5 247.3h1.7M561.8 247.3h1.7M565.2 247.3h1.7M573.7 247.3h1.7M607.7 247.3h1.7M626.4 247.3h1.7M463.2 248.3h1.7M468.3 248.3h1.7M504 248.3h1.7M510.8 248.3h1.7M522.7 248.3h1.7M534.6 248.3h1.7M583.9 248.3h1.7M589 248.3h1.7M595.8 248.3h1.7M599.2 248.3h1.7M607.7 248.3h1.7M612.8 248.3h1.7M624.7 248.3h1.7"/>
<path stroke="#f6caba" d="M429.2 136.8h1.7M439.4 136.8h1.7M442.8 136.8h3.4M447.9 136.8h1.7M453 136.8h1.7M481.9 136.8h1.7M492.1 136.8h1.7M515.9 136.8h1.7M536.3 136.8h1.7M560.1 136.8h1.7M599.2 136.8h1.7M602.6 136.8h3.4M607.7 136.8h1.7M623 136.8h1.7M631.5 136.8h3.4M441.1 137.8h1.7M464.9 137.8h1.7M476.8 137.8h1.7M498.9 137.8h1.7M514.2 137.8h1.7M522.7 137.8h1.7M536.3 137.8h1.7M578.8 137.8h1.7M611.1 137.8h1.7M616.2 137.8h1.7M623 137.8h3.4M629.8 137.8h1.7M429.2 138.8h1.7M432.6 138.8h1.7M436 138.8h1.7M451.3 138.8h3.4M458.1 138.8h1.7M463.2 138.8h1.7M536.3 138.8h1.7M558.4 138.8h1.7M570.3 138.8h1.7M577.1 138.8h3.4M611.1 138.8h1.7M617.9 138.8h1.7M629.8 138.8h1.7M425.8 139.8h1.7M430.9 139.8h1.7M439.4 139.8h1.7M446.2 139.8h1.7M495.5 139.8h5.1M515.9 139.8h1.7M612.8 139.8h1.7M629.8 139.8h1.7M425.8 140.8h1.7M437.7 140.8h1.7M444.5 140.8h1.7M509.1 140.8h1.7M512.5 140.8h1.7M529.5 140.8h1.7M577.1 140.8h1.7M599.2 140.8h1.7M604.3 140.8h3.4M609.4 140.8h3.4M617.9 140.8h1.7M631.5 140.8h1.7M424.1 141.8h1.7M432.6 141.8h1.7M436 141.8h1.7M442.8 141.8h3.4M497.2 141.8h3.4M512.5 141.8h1.7M517.6 141.8h1.7M573.7 141.8h1.7M595.8 141.8h1.7M614.5 141.8h1.7M623 141.8h1.7M629.8 141.8h3.4M393.5 142.8h1.7M447.9 142.8h1.7M498.9 142.8h1.7M555 142.8h1.7M575.4 142.8h1.7M606 142.8h1.7M623 142.8h3.4M400.3 143.8h1.7M430.9 143.8h1.7M436 143.8h1.7M441.1 143.8h1.7M487 143.8h5.1M495.5 143.8h1.7M512.5 143.8h1.7M539.7 143.8h1.7M594.1 143.8h1.7M611.1 143.8h1.7M614.5 143.8h1.7M621.3 143.8h1.7M432.6 144.8h1.7M437.7 144.8h1.7M466.6 144.8h1.7M497.2 144.8h1.7M500.6 144.8h1.7M505.7 144.8h1.7M538 144.8h3.4M572 144.8h1.7M590.7 144.8h1.7M614.5 144.8h1.7M621.3 144.8h1.7M634.9 144.8h1.7M395.2 145.8h1.7M424.1 145.8h1.7M427.5 145.8h1.7M430.9 145.8h1.7M449.6 145.8h1.7M488.7 145.8h1.7M493.8 145.8h1.7M497.2 145.8h1.7M502.3 145.8h1.7M505.7 145.8h1.7M510.8 145.8h1.7M521 145.8h1.7M529.5 145.8h1.7M595.8 145.8h1.7M600.9 145.8h1.7M606 145.8h1.7M609.4 145.8h1.7M616.2 145.8h1.7M629.8 145.8h1.7M634.9 145.8h1.7M434.3 146.8h1.7M493.8 146.8h1.7M512.5 146.8h1.7M515.9 146.8h1.7M526.1 146.8h3.4M541.4 146.8h1.7M617.9 146.8h1.7M623 146.8h3.4M393.5 147.9h1.7M420.7 147.9h1.7M424.1 147.9h1.7M432.6 147.9h3.4M442.8 147.9h1.7M447.9 147.9h1.7M498.9 147.9h1.7M509.1 147.9h3.4M519.3 147.9h1.7M538 147.9h1.7M541.4 147.9h1.7M611.1 147.9h5.1M621.3 147.9h1.7M626.4 147.9h1.7M425.8 148.9h3.4M458.1 148.9h1.7M480.2 148.9h1.7M509.1 148.9h1.7M514.2 148.9h1.7M522.7 148.9h1.7M527.8 148.9h1.7M538 148.9h3.4M555 148.9h1.7M590.7 148.9h1.7M602.6 148.9h6.8M614.5 148.9h1.7M629.8 148.9h1.7M633.2 148.9h1.7M393.5 149.9h1.7M446.2 149.9h1.7M456.4 149.9h1.7M492.1 149.9h1.7M497.2 149.9h1.7M502.3 149.9h1.7M507.4 149.9h1.7M519.3 149.9h1.7M522.7 149.9h1.7M538 149.9h1.7M543.1 149.9h1.7M594.1 149.9h1.7M602.6 149.9h5.1M624.7 149.9h1.7M412.2 150.9h1.7M442.8 150.9h1.7M493.8 150.9h1.7M500.6 150.9h1.7M521 150.9h1.7M595.8 150.9h3.4M616.2 150.9h1.7M623 150.9h1.7M633.2 150.9h1.7M398.6 151.9h1.7M413.9 151.9h1.7M417.3 151.9h1.7M420.7 151.9h1.7M436 151.9h1.7M439.4 151.9h1.7M451.3 151.9h1.7M458.1 151.9h1.7M512.5 151.9h1.7M529.5 151.9h1.7M599.2 151.9h1.7M609.4 151.9h1.7M617.9 151.9h1.7M633.2 151.9h3.4M425.8 152.9h1.7M437.7 152.9h1.7M442.8 152.9h1.7M451.3 152.9h3.4M458.1 152.9h1.7M492.1 152.9h1.7M497.2 152.9h1.7M514.2 152.9h1.7M517.6 152.9h5.1M529.5 152.9h1.7M539.7 152.9h1.7M604.3 152.9h1.7M607.7 152.9h1.7M621.3 152.9h1.7M633.2 152.9h1.7M429.2 153.9h1.7M500.6 153.9h1.7M515.9 153.9h3.4M543.1 153.9h1.7M558.4 153.9h1.7M570.3 153.9h1.7M609.4 153.9h1.7M626.4 153.9h1.7M631.5 153.9h1.7M391.8 154.9h1.7M437.7 154.9h1.7M444.5 154.9h1.7M490.4 154.9h1.7M510.8 154.9h1.7M517.6 154.9h1.7M522.7 154.9h1.7M534.6 154.9h1.7M543.1 154.9h1.7M590.7 154.9h1.7M606 154.9h1.7M614.5 154.9h1.7M623 154.9h1.7M631.5 154.9h1.7M391.8 155.9h1.7M410.5 155.9h1.7M415.6 155.9h1.7M437.7 155.9h1.7M451.3 155.9h1.7M487 155.9h3.4M493.8 155.9h1.7M504 155.9h1.7M510.8 155.9h3.4M522.7 155.9h1.7M531.2 155.9h1.7M606 155.9h1.7M616.2 155.9h3.4M626.4 155.9h1.7M391.8 156.9h1.7M400.3 156.9h1.7M403.7 156.9h1.7M422.4 156.9h1.7M427.5 156.9h1.7M432.6 156.9h1.7M436 156.9h1.7M442.8 156.9h1.7M478.5 156.9h1.7M504 156.9h1.7M509.1 156.9h1.7M563.5 156.9h1.7M568.6 156.9h1.7M595.8 156.9h1.7M602.6 156.9h1.7M606 156.9h1.7M609.4 156.9h1.7M621.3 156.9h1.7M634.9 156.9h1.7M402 157.9h1.7M410.5 157.9h1.7M485.3 157.9h1.7M502.3 157.9h3.4M507.4 157.9h3.4M526.1 157.9h1.7M555 157.9h1.7M566.9 157.9h1.7M573.7 157.9h1.7M592.4 157.9h1.7M617.9 157.9h1.7M624.7 157.9h1.7M629.8 157.9h1.7M402 158.9h1.7M410.5 158.9h1.7M413.9 158.9h1.7M417.3 158.9h1.7M487 158.9h1.7M490.4 158.9h1.7M498.9 158.9h1.7M510.8 158.9h1.7M514.2 158.9h1.7M529.5 158.9h1.7M532.9 158.9h3.4M561.8 158.9h1.7M573.7 158.9h1.7M577.1 158.9h1.7M590.7 158.9h1.7M609.4 158.9h1.7M619.6 158.9h1.7M624.7 158.9h1.7M400.3 159.9h1.7M408.8 159.9h1.7M413.9 159.9h1.7M437.7 159.9h1.7M444.5 159.9h1.7M447.9 159.9h1.7M458.1 159.9h1.7M461.5 159.9h1.7M470 159.9h3.4M495.5 159.9h1.7M505.7 159.9h3.4M515.9 159.9h1.7M536.3 159.9h1.7M539.7 159.9h1.7M543.1 159.9h1.7M568.6 159.9h1.7M606 159.9h1.7M619.6 159.9h1.7M634.9 159.9h1.7M402 160.9h1.7M420.7 160.9h1.7M456.4 160.9h1.7M493.8 160.9h3.4M510.8 160.9h1.7M519.3 160.9h3.4M527.8 160.9h1.7M549.9 160.9h1.7M575.4 160.9h1.7M604.3 160.9h1.7M609.4 160.9h3.4M395.2 161.9h1.7M398.6 161.9h1.7M405.4 161.9h1.7M432.6 161.9h1.7M441.1 161.9h1.7M458.1 161.9h1.7M487 161.9h1.7M510.8 161.9h1.7M517.6 161.9h1.7M524.4 161.9h1.7M560.1 161.9h1.7M606 161.9h1.7M612.8 161.9h1.7M405.4 162.9h1.7M417.3 162.9h3.4M437.7 162.9h1.7M442.8 162.9h1.7M487 162.9h1.7M505.7 162.9h1.7M510.8 162.9h1.7M519.3 162.9h1.7M539.7 162.9h1.7M594.1 162.9h1.7M597.5 162.9h3.4M609.4 162.9h1.7M619.6 162.9h1.7M623 162.9h1.7M633.2 162.9h1.7M408.8 163.9h1.7M419 163.9h6.8M504 163.9h1.7M510.8 163.9h3.4M517.6 163.9h3.4M534.6 163.9h1.7M539.7 163.9h1.7M565.2 163.9h1.7M597.5 163.9h1.7M607.7 163.9h1.7M623 163.9h1.7M633.2 163.9h1.7M391.8 164.9h1.7M408.8 164.9h1.7M429.2 164.9h1.7M434.3 164.9h1.7M442.8 164.9h1.7M456.4 164.9h1.7M492.1 164.9h1.7M519.3 164.9h1.7M531.2 164.9h1.7M563.5 164.9h1.7M590.7 164.9h1.7M594.1 164.9h1.7M600.9 164.9h1.7M607.7 164.9h1.7M611.1 164.9h1.7M614.5 164.9h1.7M617.9 164.9h1.7M629.8 164.9h3.4M398.6 165.9h1.7M402 165.9h1.7M410.5 165.9h3.4M419 165.9h3.4M424.1 165.9h1.7M432.6 165.9h1.7M509.1 165.9h1.7M515.9 165.9h1.7M519.3 165.9h3.4M536.3 165.9h1.7M617.9 165.9h1.7M629.8 165.9h1.7M398.6 166.9h1.7M403.7 166.9h1.7M407.1 166.9h1.7M444.5 166.9h1.7M519.3 166.9h3.4M558.4 166.9h1.7M594.1 166.9h1.7M602.6 166.9h1.7M609.4 166.9h1.7M633.2 166.9h3.4M405.4 167.9h1.7M422.4 167.9h1.7M427.5 167.9h1.7M437.7 167.9h1.7M490.4 167.9h1.7M512.5 167.9h1.7M519.3 167.9h1.7M534.6 167.9h1.7M538 167.9h1.7M568.6 167.9h1.7M611.1 167.9h3.4M619.6 167.9h1.7M391.8 168.9h1.7M419 168.9h5.1M444.5 168.9h1.7M466.6 168.9h1.7M490.4 168.9h1.7M495.5 168.9h1.7M502.3 168.9h1.7M522.7 168.9h1.7M526.1 168.9h1.7M607.7 168.9h1.7M616.2 168.9h1.7M628.1 168.9h1.7M400.3 169.9h1.7M408.8 169.9h1.7M456.4 169.9h1.7M495.5 169.9h1.7M517.6 169.9h1.7M532.9 169.9h1.7M606 169.9h1.7M398.6 171h1.7M408.8 171h1.7M413.9 171h1.7M449.6 171h1.7M500.6 171h3.4M515.9 171h1.7M536.3 171h1.7M546.5 171h1.7M611.1 171h1.7M405.4 172h1.7M417.3 172h1.7M436 172h1.7M490.4 172h1.7M500.6 172h1.7M515.9 172h1.7M539.7 172h1.7M592.4 172h1.7M626.4 172h1.7M396.9 173h1.7M407.1 173h1.7M415.6 173h1.7M422.4 173h1.7M444.5 173h1.7M449.6 173h1.7M456.4 173h1.7M493.8 173h1.7M524.4 173h1.7M529.5 173h3.4M536.3 173h1.7M600.9 173h1.7M621.3 173h1.7M391.8 174h1.7M402 174h1.7M405.4 174h1.7M441.1 174h1.7M446.2 174h1.7M458.1 174h1.7M487 174h1.7M510.8 174h1.7M600.9 174h1.7M614.5 174h3.4M621.3 174h1.7M412.2 175h1.7M420.7 175h3.4M436 175h1.7M442.8 175h1.7M504 175h1.7M556.7 175h1.7M600.9 175h1.7M415.6 176h1.7M430.9 176h1.7M436 176h1.7M441.1 176h1.7M449.6 176h1.7M456.4 176h1.7M514.2 176h1.7M519.3 176h1.7M531.2 176h1.7M536.3 176h1.7M539.7 176h1.7M575.4 176h1.7M578.8 176h1.7M623 176h1.7M633.2 176h1.7M398.6 177h1.7M439.4 177h1.7M446.2 177h5.1M459.8 177h1.7M481.9 177h1.7M495.5 177h1.7M531.2 177h1.7M534.6 177h1.7M563.5 177h1.7M600.9 177h1.7M609.4 177h1.7M617.9 177h1.7M626.4 177h1.7M403.7 178h3.4M420.7 178h1.7M529.5 178h1.7M600.9 178h1.7M393.5 179h1.7M403.7 179h1.7M432.6 179h1.7M437.7 179h5.1M447.9 179h1.7M453 179h1.7M456.4 179h1.7M522.7 179h1.7M529.5 179h1.7M563.5 179h1.7M578.8 179h1.7M592.4 179h1.7M621.3 179h1.7M633.2 179h1.7M391.8 180h1.7M415.6 180h1.7M429.2 180h1.7M446.2 180h1.7M449.6 180h1.7M505.7 180h1.7M514.2 180h1.7M575.4 180h1.7M594.1 180h1.7M597.5 180h1.7M604.3 180h1.7M612.8 180h3.4M617.9 180h1.7M621.3 180h1.7M396.9 181h1.7M412.2 181h1.7M417.3 181h1.7M490.4 181h3.4M498.9 181h3.4M510.8 181h1.7M521 181h3.4M538 181h1.7M541.4 181h1.7M560.1 181h5.1M570.3 181h1.7M573.7 181h3.4M597.5 181h3.4M623 181h1.7M629.8 181h1.7M634.9 181h1.7M439.4 182h3.4M444.5 182h1.7M447.9 182h1.7M527.8 182h1.7M531.2 182h1.7M558.4 182h1.7M561.8 182h1.7M566.9 182h1.7M391.8 183h1.7M402 183h1.7M419 183h1.7M453 183h3.4M495.5 183h1.7M500.6 183h1.7M527.8 183h1.7M560.1 183h1.7M594.1 183h1.7M599.2 183h1.7M602.6 183h1.7M606 183h1.7M609.4 183h1.7M626.4 183h1.7M403.7 184h1.7M417.3 184h5.1M424.1 184h1.7M429.2 184h1.7M451.3 184h1.7M526.1 184h1.7M570.3 184h1.7M573.7 184h1.7M619.6 184h1.7M427.5 185h1.7M432.6 185h1.7M453 185h3.4M515.9 185h1.7M524.4 185h1.7M566.9 185h1.7M624.7 185h1.7M415.6 186h1.7M437.7 186h1.7M475.1 186h1.7M521 186h3.4M527.8 186h1.7M568.6 186h1.7M624.7 186h1.7M628.1 186h1.7M631.5 186h1.7M439.4 187h1.7M490.4 187h1.7M510.8 187h1.7M529.5 187h1.7M536.3 187h1.7M548.2 187h1.7M561.8 187h1.7M570.3 187h1.7M577.1 187h1.7M594.1 187h1.7M600.9 187h1.7M604.3 187h1.7M612.8 187h1.7M619.6 187h3.4M626.4 187h1.7M427.5 188h3.4M441.1 188h1.7M492.1 188h1.7M495.5 188h1.7M510.8 188h1.7M526.1 188h1.7M539.7 188h1.7M556.7 188h3.4M573.7 188h1.7M589 188h1.7M597.5 188h1.7M624.7 188h1.7M628.1 188h3.4M408.8 189h1.7M429.2 189h1.7M458.1 189h1.7M490.4 189h1.7M509.1 189h1.7M517.6 189h1.7M531.2 189h1.7M563.5 189h1.7M572 189h1.7M590.7 189h1.7M594.1 189h1.7M599.2 189h1.7M604.3 189h3.4M619.6 189h1.7M403.7 190h1.7M415.6 190h1.7M427.5 190h3.4M487 190h5.1M498.9 190h3.4M514.2 190h1.7M556.7 190h1.7M563.5 190h3.4M573.7 190h1.7M578.8 190h1.7M599.2 190h1.7M602.6 190h1.7M624.7 190h1.7M412.2 191h1.7M419 191h1.7M424.1 191h3.4M436 191h1.7M444.5 191h1.7M498.9 191h1.7M514.2 191h1.7M526.1 191h1.7M539.7 191h1.7M563.5 191h1.7M572 191h1.7M578.8 191h1.7M594.1 191h1.7M604.3 191h1.7M607.7 191h1.7M623 191h1.7M628.1 191h6.8M413.9 192h3.4M419 192h1.7M422.4 192h3.4M456.4 192h1.7M473.4 192h1.7M507.4 192h1.7M577.1 192h1.7M614.5 192h1.7M621.3 192h1.7M628.1 192h3.4M400.3 193.1h1.7M410.5 193.1h1.7M417.3 193.1h3.4M488.7 193.1h3.4M500.6 193.1h1.7M507.4 193.1h1.7M529.5 193.1h1.7M541.4 193.1h1.7M555 193.1h1.7M563.5 193.1h1.7M572 193.1h1.7M578.8 193.1h1.7M590.7 193.1h1.7M594.1 193.1h1.7M619.6 193.1h1.7M419 194.1h3.4M466.6 194.1h1.7M483.6 194.1h3.4M502.3 194.1h1.7M515.9 194.1h1.7M526.1 194.1h1.7M539.7 194.1h1.7M544.8 194.1h1.7M565.2 194.1h1.7M573.7 194.1h3.4M578.8 194.1h1.7M587.3 194.1h1.7M595.8 194.1h1.7M604.3 194.1h1.7M607.7 194.1h1.7M623 194.1h3.4M410.5 195.1h1.7M419 195.1h1.7M454.7 195.1h1.7M495.5 195.1h1.7M500.6 195.1h1.7M529.5 195.1h1.7M532.9 195.1h1.7M539.7 195.1h1.7M561.8 195.1h1.7M594.1 195.1h1.7M609.4 195.1h1.7M612.8 195.1h1.7M420.7 196.1h1.7M441.1 196.1h1.7M487 196.1h1.7M490.4 196.1h1.7M495.5 196.1h1.7M502.3 196.1h1.7M505.7 196.1h1.7M509.1 196.1h1.7M512.5 196.1h1.7M631.5 196.1h1.7M407.1 197.1h1.7M412.2 197.1h1.7M427.5 197.1h1.7M434.3 197.1h1.7M437.7 197.1h3.4M451.3 197.1h1.7M466.6 197.1h1.7M470 197.1h1.7M495.5 197.1h1.7M500.6 197.1h1.7M507.4 197.1h3.4M512.5 197.1h1.7M521 197.1h5.1M527.8 197.1h1.7M538 197.1h3.4M570.3 197.1h1.7M597.5 197.1h1.7M614.5 197.1h1.7M633.2 197.1h1.7M480.2 198.1h1.7M493.8 198.1h1.7M526.1 198.1h1.7M531.2 198.1h1.7M539.7 198.1h5.1M560.1 198.1h1.7M604.3 198.1h3.4M609.4 198.1h3.4M614.5 198.1h3.4M621.3 198.1h3.4M403.7 199.1h1.7M442.8 199.1h1.7M490.4 199.1h3.4M495.5 199.1h3.4M514.2 199.1h1.7M532.9 199.1h1.7M536.3 199.1h1.7M558.4 199.1h1.7M563.5 199.1h1.7M568.6 199.1h1.7M573.7 199.1h1.7M578.8 199.1h1.7M597.5 199.1h1.7M606 199.1h1.7M611.1 199.1h1.7M616.2 199.1h1.7M621.3 199.1h1.7M429.2 200.1h1.7M439.4 200.1h1.7M456.4 200.1h1.7M493.8 200.1h1.7M507.4 200.1h1.7M515.9 200.1h1.7M532.9 200.1h1.7M539.7 200.1h3.4M556.7 200.1h1.7M566.9 200.1h3.4M595.8 200.1h1.7M599.2 200.1h5.1M619.6 200.1h1.7M626.4 200.1h1.7M425.8 201.1h1.7M434.3 201.1h1.7M439.4 201.1h1.7M478.5 201.1h1.7M487 201.1h1.7M498.9 201.1h1.7M504 201.1h1.7M509.1 201.1h1.7M515.9 201.1h1.7M519.3 201.1h1.7M531.2 201.1h1.7M565.2 201.1h1.7M573.7 201.1h1.7M594.1 201.1h1.7M606 201.1h1.7M626.4 201.1h1.7M634.9 201.1h1.7M434.3 202.1h1.7M447.9 202.1h1.7M478.5 202.1h1.7M485.3 202.1h3.4M495.5 202.1h1.7M500.6 202.1h1.7M509.1 202.1h1.7M519.3 202.1h1.7M527.8 202.1h1.7M556.7 202.1h1.7M568.6 202.1h1.7M600.9 202.1h1.7M612.8 202.1h1.7M629.8 202.1h3.4M425.8 203.1h1.7M454.7 203.1h3.4M466.6 203.1h1.7M475.1 203.1h3.4M480.2 203.1h1.7M483.6 203.1h1.7M492.1 203.1h1.7M524.4 203.1h1.7M560.1 203.1h1.7M599.2 203.1h1.7M617.9 203.1h3.4M634.9 203.1h1.7M413.9 204.1h1.7M419 204.1h1.7M441.1 204.1h3.4M451.3 204.1h3.4M458.1 204.1h1.7M464.9 204.1h1.7M507.4 204.1h1.7M512.5 204.1h1.7M563.5 204.1h1.7M566.9 204.1h1.7M570.3 204.1h1.7M595.8 204.1h1.7M606 204.1h1.7M617.9 204.1h1.7M621.3 204.1h1.7M633.2 204.1h1.7M439.4 205.1h1.7M451.3 205.1h1.7M485.3 205.1h1.7M492.1 205.1h1.7M502.3 205.1h1.7M534.6 205.1h1.7M556.7 205.1h3.4M573.7 205.1h1.7M590.7 205.1h3.4M604.3 205.1h1.7M609.4 205.1h1.7M628.1 205.1h1.7M634.9 205.1h1.7M447.9 206.1h3.4M487 206.1h1.7M493.8 206.1h1.7M498.9 206.1h1.7M507.4 206.1h1.7M515.9 206.1h1.7M529.5 206.1h1.7M560.1 206.1h1.7M575.4 206.1h1.7M607.7 206.1h5.1M626.4 206.1h1.7M463.2 207.1h3.4M470 207.1h1.7M514.2 207.1h1.7M539.7 207.1h1.7M555 207.1h1.7M560.1 207.1h1.7M566.9 207.1h1.7M573.7 207.1h3.4M612.8 207.1h1.7M464.9 208.1h1.7M473.4 208.1h1.7M476.8 208.1h1.7M502.3 208.1h1.7M531.2 208.1h1.7M558.4 208.1h1.7M561.8 208.1h1.7M565.2 208.1h1.7M572 208.1h1.7M575.4 208.1h1.7M600.9 208.1h6.8M612.8 208.1h1.7M624.7 208.1h1.7M480.2 209.1h1.7M538 209.1h1.7M555 209.1h1.7M561.8 209.1h3.4M628.1 209.1h1.7M439.4 210.1h1.7M480.2 210.1h1.7M512.5 210.1h1.7M524.4 210.1h1.7M538 210.1h1.7M555 210.1h1.7M577.1 210.1h1.7M599.2 210.1h1.7M607.7 210.1h1.7M611.1 210.1h1.7M623 210.1h1.7M626.4 210.1h3.4M633.2 210.1h1.7M398.6 211.1h1.7M405.4 211.1h1.7M459.8 211.1h1.7M475.1 211.1h1.7M478.5 211.1h1.7M485.3 211.1h1.7M497.2 211.1h1.7M517.6 211.1h3.4M539.7 211.1h1.7M561.8 211.1h5.1M573.7 211.1h1.7M577.1 211.1h1.7M600.9 211.1h1.7M617.9 211.1h1.7M626.4 211.1h1.7M631.5 211.1h1.7M453 212.1h1.7M471.7 212.1h1.7M483.6 212.1h3.4M492.1 212.1h1.7M526.1 212.1h1.7M532.9 212.1h1.7M538 212.1h1.7M543.1 212.1h1.7M558.4 212.1h1.7M578.8 212.1h1.7M599.2 212.1h1.7M430.9 213.1h1.7M478.5 213.1h1.7M481.9 213.1h1.7M512.5 213.1h1.7M519.3 213.1h1.7M556.7 213.1h1.7M563.5 213.1h1.7M570.3 213.1h1.7M573.7 213.1h1.7M578.8 213.1h1.7M599.2 213.1h1.7M616.2 213.1h1.7M624.7 213.1h1.7M631.5 213.1h1.7M476.8 214.1h1.7M498.9 214.1h1.7M514.2 214.1h1.7M527.8 214.1h1.7M532.9 214.1h1.7M541.4 214.1h1.7M568.6 214.1h1.7M592.4 214.1h1.7M604.3 214.1h1.7M634.9 214.1h1.7M420.7 215.2h1.7M459.8 215.2h1.7M463.2 215.2h1.7M475.1 215.2h1.7M478.5 215.2h1.7M481.9 215.2h1.7M498.9 215.2h3.4M524.4 215.2h1.7M527.8 215.2h1.7M539.7 215.2h3.4M556.7 215.2h1.7M575.4 215.2h1.7M609.4 215.2h1.7M614.5 215.2h1.7M619.6 215.2h1.7M424.1 216.2h1.7M473.4 216.2h1.7M485.3 216.2h1.7M541.4 216.2h1.7M555 216.2h1.7M568.6 216.2h1.7M577.1 216.2h1.7M592.4 216.2h3.4M609.4 216.2h1.7M621.3 216.2h1.7M626.4 216.2h1.7M634.9 216.2h1.7M468.3 217.2h1.7M504 217.2h1.7M529.5 217.2h1.7M541.4 217.2h1.7M563.5 217.2h1.7M573.7 217.2h1.7M602.6 217.2h1.7M621.3 217.2h1.7M624.7 217.2h1.7M631.5 217.2h5.1M454.7 218.2h1.7M470 218.2h3.4M495.5 218.2h1.7M558.4 218.2h1.7M561.8 218.2h1.7M590.7 218.2h3.4M617.9 218.2h1.7M463.2 219.2h1.7M481.9 219.2h3.4M487 219.2h1.7M509.1 219.2h1.7M522.7 219.2h1.7M532.9 219.2h1.7M538 219.2h1.7M560.1 219.2h1.7M568.6 219.2h1.7M594.1 219.2h1.7M597.5 219.2h1.7M612.8 219.2h1.7M617.9 219.2h1.7M628.1 219.2h1.7M470 220.2h1.7M507.4 220.2h1.7M519.3 220.2h1.7M526.1 220.2h1.7M534.6 220.2h1.7M538 220.2h1.7M544.8 220.2h1.7M561.8 220.2h1.7M575.4 220.2h1.7M578.8 220.2h1.7M592.4 220.2h1.7M606 220.2h1.7M609.4 220.2h1.7M621.3 220.2h1.7M412.2 221.2h1.7M458.1 221.2h1.7M463.2 221.2h1.7M466.6 221.2h1.7M473.4 221.2h1.7M544.8 221.2h1.7M570.3 221.2h1.7M578.8 221.2h1.7M582.2 221.2h1.7M589 221.2h1.7M595.8 221.2h3.4M607.7 221.2h1.7M628.1 221.2h1.7M634.9 221.2h1.7M459.8 222.2h1.7M485.3 222.2h1.7M492.1 222.2h1.7M526.1 222.2h1.7M534.6 222.2h1.7M543.1 222.2h3.4M555 222.2h1.7M561.8 222.2h1.7M570.3 222.2h3.4M597.5 222.2h1.7M623 222.2h1.7M447.9 223.2h1.7M464.9 223.2h1.7M473.4 223.2h1.7M487 223.2h1.7M512.5 223.2h1.7M539.7 223.2h1.7M546.5 223.2h3.4M553.3 223.2h3.4M570.3 223.2h1.7M612.8 223.2h1.7M624.7 223.2h1.7M391.8 224.2h1.7M463.2 224.2h1.7M490.4 224.2h1.7M497.2 224.2h1.7M502.3 224.2h1.7M514.2 224.2h1.7M544.8 224.2h1.7M555 224.2h1.7M568.6 224.2h1.7M577.1 224.2h1.7M587.3 224.2h1.7M597.5 224.2h3.4M612.8 224.2h1.7M624.7 224.2h1.7M391.8 225.2h1.7M488.7 225.2h1.7M495.5 225.2h1.7M538 225.2h1.7M546.5 225.2h1.7M551.6 225.2h1.7M560.1 225.2h1.7M566.9 225.2h1.7M583.9 225.2h1.7M590.7 225.2h1.7M607.7 225.2h1.7M614.5 225.2h1.7M624.7 225.2h1.7M393.5 226.2h1.7M413.9 226.2h1.7M420.7 226.2h1.7M424.1 226.2h1.7M456.4 226.2h1.7M463.2 226.2h1.7M470 226.2h1.7M475.1 226.2h1.7M478.5 226.2h1.7M495.5 226.2h1.7M504 226.2h1.7M517.6 226.2h1.7M521 226.2h1.7M527.8 226.2h3.4M539.7 226.2h1.7M549.9 226.2h1.7M555 226.2h1.7M566.9 226.2h1.7M611.1 226.2h5.1M626.4 226.2h1.7M391.8 227.2h1.7M485.3 227.2h1.7M498.9 227.2h1.7M517.6 227.2h1.7M521 227.2h1.7M556.7 227.2h3.4M570.3 227.2h1.7M578.8 227.2h1.7M612.8 227.2h3.4M617.9 227.2h1.7M626.4 227.2h1.7M410.5 228.2h1.7M492.1 228.2h1.7M497.2 228.2h1.7M514.2 228.2h1.7M522.7 228.2h3.4M527.8 228.2h1.7M566.9 228.2h1.7M600.9 228.2h1.7M606 228.2h1.7M617.9 228.2h1.7M624.7 228.2h1.7M480.2 229.2h3.4M500.6 229.2h1.7M512.5 229.2h1.7M519.3 229.2h3.4M527.8 229.2h1.7M534.6 229.2h5.1M543.1 229.2h1.7M555 229.2h1.7M580.5 229.2h1.7M590.7 229.2h1.7M624.7 229.2h1.7M393.5 230.2h1.7M430.9 230.2h1.7M464.9 230.2h1.7M488.7 230.2h1.7M498.9 230.2h1.7M509.1 230.2h1.7M544.8 230.2h1.7M563.5 230.2h1.7M566.9 230.2h1.7M570.3 230.2h1.7M575.4 230.2h1.7M609.4 230.2h1.7M617.9 230.2h1.7M624.7 230.2h1.7M629.8 230.2h1.7M634.9 230.2h1.7M391.8 231.2h1.7M458.1 231.2h1.7M463.2 231.2h1.7M468.3 231.2h1.7M480.2 231.2h3.4M497.2 231.2h1.7M509.1 231.2h1.7M522.7 231.2h3.4M531.2 231.2h1.7M536.3 231.2h1.7M558.4 231.2h1.7M573.7 231.2h1.7M589 231.2h3.4M393.5 232.2h1.7M463.2 232.2h1.7M488.7 232.2h1.7M495.5 232.2h1.7M505.7 232.2h1.7M509.1 232.2h1.7M514.2 232.2h1.7M578.8 232.2h1.7M599.2 232.2h1.7M606 232.2h1.7M612.8 232.2h1.7M391.8 233.2h1.7M483.6 233.2h1.7M517.6 233.2h1.7M529.5 233.2h1.7M538 233.2h3.4M558.4 233.2h1.7M563.5 233.2h1.7M573.7 233.2h1.7M590.7 233.2h3.4M614.5 233.2h1.7M395.2 234.2h1.7M463.2 234.2h1.7M475.1 234.2h1.7M478.5 234.2h1.7M504 234.2h1.7M515.9 234.2h1.7M526.1 234.2h1.7M538 234.2h1.7M560.1 234.2h3.4M566.9 234.2h3.4M578.8 234.2h1.7M589 234.2h1.7M619.6 234.2h1.7M634.9 234.2h1.7M393.5 235.2h1.7M459.8 235.2h1.7M475.1 235.2h1.7M488.7 235.2h1.7M497.2 235.2h5.1M510.8 235.2h1.7M519.3 235.2h1.7M543.1 235.2h1.7M566.9 235.2h1.7M583.9 235.2h1.7M589 235.2h1.7M592.4 235.2h1.7M606 235.2h3.4M611.1 235.2h3.4M624.7 235.2h1.7M633.2 235.2h1.7M468.3 236.2h1.7M475.1 236.2h1.7M488.7 236.2h1.7M536.3 236.2h1.7M539.7 236.2h1.7M561.8 236.2h1.7M590.7 236.2h1.7M612.8 236.2h1.7M616.2 236.2h1.7M631.5 236.2h1.7M393.5 237.2h1.7M468.3 237.2h1.7M512.5 237.2h1.7M578.8 237.2h1.7M461.5 238.3h1.7M492.1 238.3h1.7M521 238.3h1.7M539.7 238.3h1.7M563.5 238.3h1.7M573.7 238.3h1.7M595.8 238.3h1.7M609.4 238.3h3.4M624.7 238.3h1.7M629.8 238.3h1.7M471.7 239.3h1.7M476.8 239.3h1.7M485.3 239.3h1.7M492.1 239.3h1.7M514.2 239.3h1.7M531.2 239.3h1.7M628.1 239.3h1.7M464.9 240.3h1.7M507.4 240.3h1.7M514.2 240.3h1.7M526.1 240.3h1.7M575.4 240.3h1.7M604.3 240.3h1.7M607.7 240.3h1.7M614.5 240.3h1.7M628.1 240.3h3.4M461.5 241.3h1.7M468.3 241.3h1.7M473.4 241.3h1.7M476.8 241.3h1.7M481.9 241.3h1.7M490.4 241.3h1.7M497.2 241.3h1.7M521 241.3h1.7M538 241.3h1.7M575.4 241.3h1.7M614.5 241.3h1.7M634.9 241.3h1.7M458.1 242.3h1.7M461.5 242.3h1.7M502.3 242.3h3.4M509.1 242.3h1.7M521 242.3h1.7M541.4 242.3h3.4M607.7 242.3h1.7M612.8 242.3h1.7M633.2 242.3h1.7M458.1 243.3h1.7M475.1 243.3h1.7M483.6 243.3h1.7M510.8 243.3h1.7M524.4 243.3h1.7M568.6 243.3h1.7M590.7 243.3h1.7M611.1 243.3h1.7M616.2 243.3h1.7M619.6 243.3h1.7M453 244.3h1.7M458.1 244.3h1.7M490.4 244.3h1.7M507.4 244.3h1.7M529.5 244.3h1.7M541.4 244.3h1.7M617.9 244.3h1.7M488.7 245.3h1.7M493.8 245.3h1.7M498.9 245.3h1.7M509.1 245.3h1.7M524.4 245.3h1.7M529.5 245.3h1.7M556.7 245.3h1.7M590.7 245.3h1.7M595.8 245.3h1.7M487 246.3h1.7M493.8 246.3h3.4M543.1 246.3h1.7M577.1 246.3h1.7M590.7 246.3h5.1M602.6 246.3h1.7M606 246.3h1.7M611.1 246.3h1.7M623 246.3h1.7M429.2 247.3h1.7M456.4 247.3h1.7M476.8 247.3h1.7M536.3 247.3h1.7M558.4 247.3h1.7M568.6 247.3h1.7M594.1 247.3h1.7M600.9 247.3h1.7M606 247.3h1.7M624.7 247.3h1.7M628.1 247.3h3.4M485.3 248.3h1.7M512.5 248.3h1.7M532.9 248.3h1.7M560.1 248.3h3.4M614.5 248.3h1.7M619.6 248.3h1.7"/>
<path stroke="#e9a089" d="M446.2 136.8h1.7M490.4 136.8h1.7M529.5 136.8h1.7M539.7 136.8h3.4M544.8 136.8h1.7M590.7 136.8h1.7M600.9 136.8h1.7M624.7 136.8h1.7M628.1 136.8h1.7M454.7 137.8h3.4M490.4 137.8h1.7M504 137.8h1.7M510.8 137.8h3.4M519.3 137.8h1.7M524.4 137.8h1.7M527.8 137.8h1.7M539.7 137.8h1.7M590.7 137.8h1.7M614.5 137.8h1.7M425.8 138.8h1.7M430.9 138.8h1.7M444.5 138.8h1.7M471.7 138.8h1.7M532.9 138.8h1.7M541.4 138.8h1.7M563.5 138.8h1.7M595.8 138.8h1.7M606 138.8h1.7M624.7 138.8h5.1M633.2 138.8h1.7M441.1 139.8h1.7M487 139.8h1.7M509.1 139.8h1.7M512.5 139.8h3.4M527.8 139.8h1.7M538 139.8h1.7M575.4 139.8h1.7M590.7 139.8h1.7M602.6 139.8h1.7M616.2 139.8h1.7M624.7 139.8h1.7M492.1 140.8h3.4M505.7 140.8h1.7M597.5 140.8h1.7M403.7 141.8h1.7M453 141.8h1.7M488.7 141.8h1.7M495.5 141.8h1.7M500.6 141.8h3.4M509.1 141.8h1.7M541.4 141.8h1.7M606 141.8h3.4M616.2 141.8h3.4M437.7 142.8h3.4M442.8 142.8h1.7M488.7 142.8h1.7M504 142.8h1.7M512.5 142.8h1.7M536.3 142.8h1.7M570.3 142.8h1.7M595.8 142.8h1.7M602.6 142.8h1.7M617.9 142.8h1.7M629.8 142.8h3.4M391.8 143.8h1.7M432.6 143.8h1.7M453 143.8h1.7M459.8 143.8h1.7M500.6 143.8h1.7M504 143.8h3.4M515.9 143.8h1.7M595.8 143.8h1.7M633.2 143.8h1.7M430.9 144.8h1.7M444.5 144.8h1.7M453 144.8h1.7M490.4 144.8h1.7M515.9 144.8h1.7M595.8 144.8h1.7M619.6 144.8h1.7M403.7 145.8h1.7M436 145.8h1.7M444.5 145.8h1.7M447.9 145.8h1.7M490.4 145.8h1.7M504 145.8h1.7M534.6 145.8h1.7M611.1 145.8h1.7M614.5 145.8h1.7M623 145.8h1.7M396.9 146.8h1.7M419 146.8h1.7M451.3 146.8h1.7M505.7 146.8h5.1M517.6 146.8h1.7M534.6 146.8h1.7M595.8 146.8h1.7M614.5 146.8h1.7M633.2 146.8h3.4M391.8 147.9h1.7M439.4 147.9h1.7M444.5 147.9h1.7M493.8 147.9h1.7M502.3 147.9h1.7M512.5 147.9h1.7M539.7 147.9h1.7M573.7 147.9h3.4M590.7 147.9h1.7M594.1 147.9h1.7M600.9 147.9h3.4M606 147.9h1.7M441.1 148.9h1.7M447.9 148.9h1.7M451.3 148.9h1.7M493.8 148.9h3.4M515.9 148.9h1.7M534.6 148.9h1.7M575.4 148.9h1.7M595.8 148.9h1.7M612.8 148.9h1.7M616.2 148.9h3.4M626.4 148.9h3.4M634.9 148.9h1.7M402 149.9h1.7M420.7 149.9h1.7M424.1 149.9h1.7M430.9 149.9h1.7M439.4 149.9h1.7M447.9 149.9h3.4M454.7 149.9h1.7M504 149.9h1.7M536.3 149.9h1.7M541.4 149.9h1.7M568.6 149.9h1.7M592.4 149.9h1.7M599.2 149.9h3.4M609.4 149.9h1.7M617.9 149.9h1.7M626.4 149.9h1.7M631.5 149.9h1.7M420.7 150.9h1.7M427.5 150.9h1.7M444.5 150.9h1.7M515.9 150.9h1.7M534.6 150.9h3.4M572 150.9h1.7M590.7 150.9h1.7M600.9 150.9h3.4M606 150.9h3.4M395.2 151.9h1.7M422.4 151.9h1.7M427.5 151.9h1.7M434.3 151.9h1.7M498.9 151.9h3.4M505.7 151.9h1.7M539.7 151.9h1.7M570.3 151.9h1.7M594.1 151.9h1.7M614.5 151.9h1.7M621.3 151.9h5.1M629.8 151.9h1.7M412.2 152.9h1.7M439.4 152.9h1.7M444.5 152.9h1.7M495.5 152.9h1.7M507.4 152.9h1.7M512.5 152.9h1.7M544.8 152.9h1.7M590.7 152.9h3.4M629.8 152.9h1.7M400.3 153.9h1.7M415.6 153.9h1.7M419 153.9h1.7M432.6 153.9h1.7M454.7 153.9h3.4M492.1 153.9h1.7M519.3 153.9h1.7M522.7 153.9h1.7M531.2 153.9h1.7M597.5 153.9h1.7M606 153.9h1.7M611.1 153.9h1.7M623 153.9h1.7M402 154.9h1.7M415.6 154.9h3.4M424.1 154.9h1.7M487 154.9h1.7M497.2 154.9h1.7M505.7 154.9h1.7M512.5 154.9h1.7M538 154.9h1.7M541.4 154.9h1.7M595.8 154.9h5.1M602.6 154.9h1.7M393.5 155.9h1.7M505.7 155.9h3.4M524.4 155.9h1.7M532.9 155.9h1.7M592.4 155.9h1.7M600.9 155.9h1.7M604.3 155.9h1.7M612.8 155.9h1.7M621.3 155.9h1.7M628.1 155.9h1.7M631.5 155.9h1.7M393.5 156.9h1.7M402 156.9h1.7M412.2 156.9h1.7M488.7 156.9h1.7M497.2 156.9h1.7M500.6 156.9h3.4M515.9 156.9h1.7M600.9 156.9h1.7M612.8 156.9h3.4M631.5 156.9h1.7M400.3 157.9h1.7M412.2 157.9h1.7M458.1 157.9h1.7M490.4 157.9h1.7M495.5 157.9h1.7M505.7 157.9h1.7M515.9 157.9h1.7M521 157.9h3.4M536.3 157.9h1.7M543.1 157.9h1.7M561.8 157.9h1.7M570.3 157.9h1.7M575.4 157.9h1.7M600.9 157.9h1.7M609.4 157.9h1.7M616.2 157.9h1.7M619.6 157.9h3.4M626.4 157.9h1.7M631.5 157.9h1.7M634.9 157.9h1.7M422.4 158.9h1.7M425.8 158.9h1.7M429.2 158.9h1.7M446.2 158.9h1.7M449.6 158.9h1.7M468.3 158.9h1.7M492.1 158.9h3.4M500.6 158.9h1.7M512.5 158.9h1.7M531.2 158.9h1.7M558.4 158.9h1.7M570.3 158.9h1.7M611.1 158.9h1.7M616.2 158.9h1.7M403.7 159.9h1.7M412.2 159.9h1.7M451.3 159.9h1.7M480.2 159.9h1.7M500.6 159.9h1.7M524.4 159.9h1.7M558.4 159.9h1.7M570.3 159.9h1.7M573.7 159.9h3.4M578.8 159.9h1.7M589 159.9h3.4M597.5 159.9h1.7M604.3 159.9h1.7M609.4 159.9h1.7M612.8 159.9h1.7M623 159.9h1.7M633.2 159.9h1.7M405.4 160.9h1.7M410.5 160.9h1.7M437.7 160.9h1.7M442.8 160.9h1.7M490.4 160.9h1.7M509.1 160.9h1.7M512.5 160.9h1.7M515.9 160.9h1.7M570.3 160.9h1.7M597.5 160.9h3.4M621.3 160.9h1.7M400.3 161.9h1.7M424.1 161.9h1.7M446.2 161.9h1.7M490.4 161.9h1.7M495.5 161.9h1.7M500.6 161.9h1.7M505.7 161.9h1.7M515.9 161.9h1.7M526.1 161.9h1.7M568.6 161.9h1.7M573.7 161.9h1.7M600.9 161.9h1.7M607.7 161.9h3.4M624.7 161.9h1.7M412.2 162.9h1.7M424.1 162.9h1.7M446.2 162.9h1.7M500.6 162.9h1.7M590.7 162.9h3.4M595.8 162.9h1.7M612.8 162.9h1.7M412.2 163.9h1.7M446.2 163.9h1.7M538 163.9h1.7M573.7 163.9h1.7M606 163.9h1.7M629.8 163.9h3.4M410.5 164.9h1.7M419 164.9h1.7M430.9 164.9h1.7M444.5 164.9h1.7M449.6 164.9h1.7M454.7 164.9h1.7M500.6 164.9h1.7M527.8 164.9h3.4M538 164.9h1.7M575.4 164.9h1.7M599.2 164.9h1.7M604.3 164.9h1.7M621.3 164.9h3.4M417.3 165.9h1.7M444.5 165.9h5.1M529.5 165.9h1.7M609.4 165.9h1.7M624.7 165.9h1.7M408.8 166.9h1.7M412.2 166.9h1.7M419 166.9h1.7M505.7 166.9h1.7M597.5 166.9h1.7M616.2 166.9h1.7M403.7 167.9h1.7M439.4 167.9h1.7M442.8 167.9h1.7M488.7 167.9h1.7M492.1 167.9h1.7M510.8 167.9h1.7M521 167.9h3.4M575.4 167.9h1.7M592.4 167.9h1.7M604.3 167.9h1.7M609.4 167.9h1.7M628.1 167.9h1.7M395.2 168.9h1.7M410.5 168.9h1.7M413.9 168.9h1.7M425.8 168.9h1.7M439.4 168.9h1.7M442.8 168.9h1.7M447.9 168.9h1.7M456.4 168.9h1.7M600.9 168.9h1.7M631.5 168.9h1.7M412.2 169.9h1.7M500.6 169.9h1.7M619.6 169.9h1.7M629.8 169.9h1.7M633.2 169.9h1.7M424.1 171h1.7M446.2 171h1.7M451.3 171h1.7M519.3 171h1.7M529.5 171h1.7M614.5 171h3.4M633.2 171h1.7M407.1 172h1.7M410.5 172h3.4M425.8 172h1.7M432.6 172h1.7M456.4 172h1.7M488.7 172h1.7M521 172h1.7M534.6 172h1.7M575.4 172h1.7M607.7 172h1.7M633.2 172h1.7M425.8 173h3.4M430.9 173h1.7M510.8 173h1.7M560.1 173h1.7M412.2 174h3.4M422.4 174h1.7M429.2 174h1.7M434.3 174h3.4M498.9 174h1.7M517.6 174h1.7M522.7 174h1.7M543.1 174h1.7M565.2 174h1.7M572 174h1.7M594.1 174h1.7M612.8 174h1.7M617.9 174h1.7M624.7 174h1.7M633.2 174h3.4M402 175h1.7M415.6 175h1.7M425.8 175h1.7M429.2 175h3.4M509.1 175h1.7M529.5 175h1.7M391.8 176h1.7M403.7 176h1.7M419 176h3.4M437.7 176h1.7M447.9 176h1.7M453 176h1.7M505.7 176h1.7M522.7 176h1.7M563.5 176h1.7M599.2 176h3.4M621.3 176h1.7M420.7 177h1.7M453 177h1.7M476.8 177h1.7M510.8 177h1.7M519.3 177h1.7M527.8 177h1.7M607.7 177h1.7M611.1 177h1.7M396.9 178h1.7M424.1 178h1.7M427.5 178h1.7M449.6 178h1.7M420.7 179h1.7M424.1 179h3.4M444.5 179h1.7M449.6 179h1.7M500.6 179h1.7M532.9 179h1.7M631.5 179h1.7M412.2 180h1.7M424.1 180h1.7M456.4 180h1.7M495.5 180h1.7M517.6 180h1.7M583.9 180h1.7M607.7 180h1.7M634.9 180h1.7M391.8 181h1.7M400.3 181h1.7M434.3 181h1.7M437.7 181h1.7M505.7 181h1.7M517.6 181h1.7M539.7 181h1.7M556.7 181h1.7M568.6 181h1.7M592.4 181h1.7M595.8 181h1.7M600.9 181h1.7M612.8 181h1.7M617.9 181h3.4M631.5 181h1.7M402 182h1.7M413.9 182h1.7M422.4 182h1.7M429.2 182h3.4M524.4 182h1.7M536.3 182h1.7M611.1 182h1.7M626.4 182h1.7M403.7 183h1.7M417.3 183h1.7M422.4 183h1.7M449.6 183h1.7M459.8 183h1.7M498.9 183h1.7M521 183h1.7M526.1 183h1.7M543.1 183h1.7M597.5 183h1.7M621.3 183h3.4M628.1 183h1.7M631.5 183h1.7M430.9 184h1.7M561.8 184h1.7M578.8 184h1.7M594.1 184h1.7M609.4 184h1.7M614.5 184h1.7M626.4 184h1.7M417.3 185h1.7M442.8 185h1.7M473.4 185h3.4M507.4 185h1.7M400.3 186h1.7M420.7 186h3.4M453 186h1.7M456.4 186h1.7M500.6 186h1.7M532.9 186h1.7M543.1 186h1.7M561.8 186h1.7M621.3 186h1.7M419 187h1.7M432.6 187h1.7M446.2 187h1.7M453 187h3.4M495.5 187h1.7M505.7 187h3.4M519.3 187h1.7M575.4 187h1.7M413.9 188h1.7M425.8 188h1.7M434.3 188h1.7M446.2 188h1.7M454.7 188h1.7M519.3 188h1.7M534.6 188h1.7M561.8 188h1.7M614.5 188h1.7M617.9 188h1.7M419 189h1.7M434.3 189h1.7M442.8 189h1.7M521 189h1.7M561.8 189h1.7M575.4 189h1.7M607.7 189h3.4M617.9 189h1.7M405.4 190h1.7M410.5 190h1.7M492.1 190h1.7M519.3 190h1.7M524.4 190h1.7M539.7 190h1.7M560.1 190h1.7M566.9 190h1.7M575.4 190h3.4M585.6 190h1.7M604.3 190h1.7M614.5 190h1.7M626.4 190h1.7M429.2 191h1.7M432.6 191h1.7M441.1 191h1.7M495.5 191h1.7M517.6 191h1.7M529.5 191h1.7M532.9 191h1.7M573.7 191h1.7M590.7 191h1.7M602.6 191h1.7M611.1 191h1.7M621.3 191h1.7M626.4 191h1.7M634.9 191h1.7M410.5 192h1.7M436 192h1.7M442.8 192h1.7M447.9 192h1.7M451.3 192h1.7M454.7 192h1.7M461.5 192h1.7M521 192h1.7M526.1 192h1.7M534.6 192h1.7M539.7 192h1.7M555 192h1.7M560.1 192h1.7M570.3 192h1.7M575.4 192h1.7M597.5 192h1.7M624.7 192h1.7M407.1 193.1h1.7M434.3 193.1h1.7M437.7 193.1h1.7M487 193.1h1.7M510.8 193.1h1.7M543.1 193.1h1.7M560.1 193.1h1.7M595.8 193.1h3.4M600.9 193.1h1.7M604.3 193.1h5.1M614.5 193.1h1.7M617.9 193.1h1.7M629.8 193.1h1.7M400.3 194.1h1.7M403.7 194.1h1.7M407.1 194.1h3.4M413.9 194.1h1.7M417.3 194.1h1.7M447.9 194.1h1.7M451.3 194.1h1.7M458.1 194.1h1.7M487 194.1h1.7M497.2 194.1h1.7M504 194.1h3.4M521 194.1h1.7M527.8 194.1h3.4M541.4 194.1h1.7M599.2 194.1h1.7M606 194.1h1.7M621.3 194.1h1.7M631.5 194.1h3.4M420.7 195.1h1.7M424.1 195.1h1.7M436 195.1h3.4M442.8 195.1h1.7M493.8 195.1h1.7M514.2 195.1h1.7M519.3 195.1h1.7M599.2 195.1h1.7M621.3 195.1h1.7M413.9 196.1h1.7M425.8 196.1h1.7M449.6 196.1h1.7M485.3 196.1h1.7M492.1 196.1h1.7M500.6 196.1h1.7M539.7 196.1h1.7M570.3 196.1h1.7M573.7 196.1h1.7M577.1 196.1h1.7M592.4 196.1h1.7M599.2 196.1h1.7M604.3 196.1h1.7M626.4 196.1h1.7M634.9 196.1h1.7M396.9 197.1h1.7M419 197.1h1.7M449.6 197.1h1.7M456.4 197.1h1.7M490.4 197.1h1.7M497.2 197.1h1.7M505.7 197.1h1.7M515.9 197.1h3.4M532.9 197.1h3.4M568.6 197.1h1.7M573.7 197.1h1.7M595.8 197.1h1.7M600.9 197.1h1.7M609.4 197.1h1.7M619.6 197.1h1.7M626.4 197.1h1.7M631.5 197.1h1.7M442.8 198.1h1.7M449.6 198.1h3.4M500.6 198.1h3.4M573.7 198.1h1.7M578.8 198.1h1.7M597.5 198.1h1.7M391.8 199.1h1.7M485.3 199.1h3.4M531.2 199.1h1.7M590.7 199.1h3.4M634.9 199.1h1.7M434.3 200.1h1.7M495.5 200.1h1.7M504 200.1h1.7M527.8 200.1h1.7M561.8 200.1h1.7M575.4 200.1h1.7M592.4 200.1h1.7M597.5 200.1h1.7M621.3 200.1h1.7M624.7 200.1h1.7M410.5 201.1h1.7M429.2 201.1h1.7M451.3 201.1h1.7M517.6 201.1h1.7M539.7 201.1h3.4M546.5 201.1h1.7M558.4 201.1h1.7M561.8 201.1h1.7M609.4 201.1h1.7M621.3 201.1h1.7M430.9 202.1h1.7M536.3 202.1h1.7M566.9 202.1h1.7M616.2 202.1h1.7M427.5 203.1h1.7M444.5 203.1h1.7M458.1 203.1h1.7M468.3 203.1h1.7M487 203.1h1.7M493.8 203.1h1.7M504 203.1h1.7M509.1 203.1h1.7M515.9 203.1h1.7M536.3 203.1h3.4M543.1 203.1h1.7M558.4 203.1h1.7M566.9 203.1h1.7M573.7 203.1h1.7M578.8 203.1h1.7M592.4 203.1h1.7M604.3 203.1h1.7M607.7 203.1h1.7M626.4 203.1h1.7M631.5 203.1h1.7M430.9 204.1h1.7M444.5 204.1h3.4M466.6 204.1h1.7M476.8 204.1h3.4M492.1 204.1h1.7M517.6 204.1h1.7M524.4 204.1h1.7M572 204.1h1.7M575.4 204.1h1.7M578.8 204.1h1.7M592.4 204.1h1.7M623 204.1h3.4M463.2 205.1h1.7M473.4 205.1h1.7M478.5 205.1h5.1M514.2 205.1h1.7M517.6 205.1h1.7M529.5 205.1h1.7M560.1 205.1h1.7M565.2 205.1h1.7M572 205.1h1.7M599.2 205.1h1.7M458.1 206.1h1.7M461.5 206.1h1.7M473.4 206.1h1.7M510.8 206.1h1.7M519.3 206.1h1.7M548.2 206.1h1.7M573.7 206.1h1.7M597.5 206.1h3.4M447.9 207.1h1.7M458.1 207.1h1.7M476.8 207.1h1.7M480.2 207.1h1.7M485.3 207.1h1.7M497.2 207.1h1.7M502.3 207.1h1.7M515.9 207.1h1.7M519.3 207.1h5.1M531.2 207.1h1.7M543.1 207.1h1.7M594.1 207.1h1.7M607.7 207.1h1.7M619.6 207.1h1.7M623 207.1h1.7M483.6 208.1h3.4M488.7 208.1h3.4M497.2 208.1h1.7M504 208.1h1.7M532.9 208.1h1.7M538 208.1h1.7M573.7 208.1h1.7M594.1 208.1h1.7M626.4 208.1h1.7M471.7 209.1h3.4M485.3 209.1h1.7M493.8 209.1h1.7M497.2 209.1h1.7M507.4 209.1h1.7M514.2 209.1h1.7M517.6 209.1h3.4M531.2 209.1h1.7M539.7 209.1h1.7M543.1 209.1h1.7M558.4 209.1h1.7M587.3 209.1h1.7M631.5 209.1h1.7M463.2 210.1h1.7M466.6 210.1h1.7M473.4 210.1h1.7M488.7 210.1h1.7M493.8 210.1h1.7M532.9 210.1h3.4M597.5 210.1h1.7M600.9 210.1h1.7M606 210.1h1.7M612.8 210.1h1.7M629.8 210.1h3.4M464.9 211.1h1.7M468.3 211.1h1.7M483.6 211.1h1.7M490.4 211.1h1.7M505.7 211.1h1.7M510.8 211.1h1.7M521 211.1h1.7M529.5 211.1h1.7M575.4 211.1h1.7M597.5 211.1h1.7M606 211.1h1.7M629.8 211.1h1.7M463.2 212.1h5.1M476.8 212.1h1.7M481.9 212.1h1.7M488.7 212.1h1.7M497.2 212.1h1.7M504 212.1h1.7M509.1 212.1h3.4M515.9 212.1h1.7M527.8 212.1h1.7M572 212.1h1.7M577.1 212.1h1.7M624.7 212.1h1.7M466.6 213.1h1.7M480.2 213.1h1.7M500.6 213.1h1.7M517.6 213.1h1.7M521 213.1h1.7M532.9 213.1h1.7M536.3 213.1h1.7M539.7 213.1h1.7M568.6 213.1h1.7M600.9 213.1h1.7M619.6 213.1h1.7M464.9 214.1h1.7M487 214.1h3.4M500.6 214.1h1.7M515.9 214.1h1.7M531.2 214.1h1.7M575.4 214.1h1.7M607.7 214.1h1.7M623 214.1h1.7M468.3 215.2h3.4M488.7 215.2h1.7M526.1 215.2h1.7M532.9 215.2h3.4M561.8 215.2h1.7M565.2 215.2h1.7M611.1 215.2h1.7M626.4 215.2h1.7M451.3 216.2h1.7M458.1 216.2h3.4M475.1 216.2h3.4M517.6 216.2h1.7M522.7 216.2h1.7M534.6 216.2h1.7M538 216.2h1.7M543.1 216.2h1.7M561.8 216.2h1.7M575.4 216.2h1.7M590.7 216.2h1.7M599.2 216.2h1.7M607.7 216.2h1.7M611.1 216.2h3.4M619.6 216.2h1.7M633.2 216.2h1.7M461.5 217.2h1.7M466.6 217.2h1.7M475.1 217.2h1.7M480.2 217.2h3.4M521 217.2h1.7M527.8 217.2h1.7M531.2 217.2h1.7M534.6 217.2h1.7M543.1 217.2h1.7M558.4 217.2h1.7M561.8 217.2h1.7M572 217.2h1.7M611.1 217.2h1.7M459.8 218.2h3.4M476.8 218.2h1.7M510.8 218.2h1.7M527.8 218.2h1.7M532.9 218.2h1.7M536.3 218.2h1.7M541.4 218.2h1.7M570.3 218.2h3.4M606 218.2h1.7M612.8 218.2h1.7M619.6 218.2h1.7M634.9 218.2h1.7M475.1 219.2h1.7M498.9 219.2h1.7M505.7 219.2h1.7M512.5 219.2h1.7M573.7 219.2h1.7M577.1 219.2h1.7M600.9 219.2h1.7M463.2 220.2h1.7M468.3 220.2h1.7M492.1 220.2h1.7M524.4 220.2h1.7M532.9 220.2h1.7M555 220.2h1.7M568.6 220.2h1.7M590.7 220.2h1.7M607.7 220.2h1.7M633.2 220.2h1.7M459.8 221.2h1.7M468.3 221.2h1.7M471.7 221.2h1.7M481.9 221.2h1.7M485.3 221.2h1.7M488.7 221.2h1.7M500.6 221.2h1.7M519.3 221.2h1.7M534.6 221.2h1.7M563.5 221.2h1.7M568.6 221.2h1.7M575.4 221.2h1.7M600.9 221.2h1.7M619.6 221.2h1.7M624.7 221.2h1.7M629.8 221.2h3.4M476.8 222.2h1.7M480.2 222.2h5.1M495.5 222.2h1.7M509.1 222.2h1.7M512.5 222.2h1.7M517.6 222.2h1.7M541.4 222.2h1.7M551.6 222.2h1.7M573.7 222.2h1.7M578.8 222.2h1.7M590.7 222.2h1.7M600.9 222.2h3.4M607.7 222.2h3.4M617.9 222.2h1.7M628.1 222.2h1.7M633.2 222.2h1.7M458.1 223.2h1.7M463.2 223.2h1.7M470 223.2h3.4M476.8 223.2h1.7M483.6 223.2h1.7M495.5 223.2h1.7M504 223.2h1.7M517.6 223.2h1.7M521 223.2h1.7M573.7 223.2h1.7M611.1 223.2h1.7M478.5 224.2h1.7M500.6 224.2h1.7M524.4 224.2h1.7M534.6 224.2h1.7M553.3 224.2h1.7M558.4 224.2h1.7M572 224.2h1.7M575.4 224.2h1.7M590.7 224.2h1.7M616.2 224.2h1.7M631.5 224.2h3.4M400.3 225.2h1.7M463.2 225.2h1.7M497.2 225.2h1.7M504 225.2h3.4M517.6 225.2h3.4M531.2 225.2h3.4M541.4 225.2h3.4M549.9 225.2h1.7M556.7 225.2h3.4M561.8 225.2h1.7M575.4 225.2h1.7M599.2 225.2h1.7M604.3 225.2h1.7M412.2 226.2h1.7M490.4 226.2h3.4M543.1 226.2h1.7M551.6 226.2h3.4M570.3 226.2h1.7M589 226.2h1.7M594.1 226.2h1.7M602.6 226.2h1.7M405.4 227.2h1.7M463.2 227.2h1.7M480.2 227.2h1.7M497.2 227.2h1.7M594.1 227.2h1.7M599.2 227.2h3.4M609.4 227.2h1.7M619.6 227.2h3.4M628.1 227.2h1.7M633.2 227.2h1.7M453 228.2h1.7M478.5 228.2h1.7M532.9 228.2h1.7M553.3 228.2h1.7M583.9 228.2h1.7M595.8 228.2h1.7M609.4 228.2h1.7M634.9 228.2h1.7M413.9 229.2h1.7M466.6 229.2h1.7M497.2 229.2h1.7M502.3 229.2h1.7M510.8 229.2h1.7M517.6 229.2h1.7M561.8 229.2h1.7M566.9 229.2h5.1M595.8 229.2h1.7M606 229.2h1.7M611.1 229.2h1.7M458.1 230.2h1.7M463.2 230.2h1.7M470 230.2h1.7M485.3 230.2h1.7M519.3 230.2h1.7M532.9 230.2h1.7M543.1 230.2h1.7M561.8 230.2h1.7M572 230.2h1.7M600.9 230.2h3.4M614.5 230.2h1.7M396.9 231.2h1.7M459.8 231.2h1.7M488.7 231.2h1.7M492.1 231.2h1.7M500.6 231.2h3.4M555 231.2h3.4M563.5 231.2h1.7M578.8 231.2h1.7M587.3 231.2h1.7M602.6 231.2h1.7M606 231.2h1.7M626.4 231.2h1.7M461.5 232.2h1.7M475.1 232.2h1.7M487 232.2h1.7M497.2 232.2h1.7M500.6 232.2h3.4M524.4 232.2h1.7M527.8 232.2h1.7M532.9 232.2h1.7M538 232.2h1.7M555 232.2h1.7M566.9 232.2h1.7M570.3 232.2h1.7M573.7 232.2h3.4M587.3 232.2h1.7M602.6 232.2h1.7M616.2 232.2h3.4M395.2 233.2h1.7M458.1 233.2h1.7M461.5 233.2h3.4M498.9 233.2h3.4M505.7 233.2h1.7M509.1 233.2h1.7M514.2 233.2h1.7M526.1 233.2h1.7M531.2 233.2h5.1M543.1 233.2h1.7M568.6 233.2h1.7M577.1 233.2h1.7M633.2 233.2h1.7M391.8 234.2h1.7M466.6 234.2h1.7M470 234.2h1.7M487 234.2h5.1M507.4 234.2h1.7M510.8 234.2h3.4M521 234.2h3.4M529.5 234.2h1.7M539.7 234.2h1.7M543.1 234.2h1.7M583.9 234.2h1.7M594.1 234.2h1.7M602.6 234.2h3.4M611.1 234.2h1.7M458.1 235.2h1.7M468.3 235.2h1.7M478.5 235.2h1.7M485.3 235.2h1.7M541.4 235.2h1.7M609.4 235.2h1.7M458.1 236.2h3.4M466.6 236.2h1.7M470 236.2h1.7M478.5 236.2h1.7M485.3 236.2h1.7M509.1 236.2h1.7M514.2 236.2h1.7M522.7 236.2h1.7M532.9 236.2h3.4M538 236.2h1.7M541.4 236.2h1.7M585.6 236.2h1.7M594.1 236.2h1.7M633.2 236.2h1.7M391.8 237.2h1.7M458.1 237.2h1.7M466.6 237.2h1.7M476.8 237.2h3.4M483.6 237.2h1.7M487 237.2h1.7M509.1 237.2h1.7M527.8 237.2h1.7M534.6 237.2h8.5M595.8 237.2h1.7M626.4 237.2h1.7M464.9 238.3h1.7M476.8 238.3h1.7M485.3 238.3h1.7M515.9 238.3h3.4M561.8 238.3h1.7M594.1 238.3h1.7M466.6 239.3h1.7M475.1 239.3h1.7M478.5 239.3h1.7M481.9 239.3h1.7M487 239.3h1.7M495.5 239.3h1.7M504 239.3h3.4M512.5 239.3h1.7M524.4 239.3h3.4M534.6 239.3h6.8M575.4 239.3h1.7M582.2 239.3h1.7M590.7 239.3h3.4M599.2 239.3h3.4M614.5 239.3h1.7M617.9 239.3h1.7M621.3 239.3h1.7M624.7 239.3h3.4M629.8 239.3h3.4M481.9 240.3h1.7M488.7 240.3h1.7M505.7 240.3h1.7M510.8 240.3h3.4M534.6 240.3h1.7M592.4 240.3h1.7M626.4 240.3h1.7M405.4 241.3h1.7M466.6 241.3h1.7M507.4 241.3h1.7M519.3 241.3h1.7M529.5 241.3h1.7M595.8 241.3h1.7M624.7 241.3h1.7M471.7 242.3h1.7M497.2 242.3h1.7M512.5 242.3h1.7M522.7 242.3h3.4M527.8 242.3h1.7M616.2 242.3h1.7M621.3 242.3h1.7M485.3 243.3h1.7M517.6 243.3h3.4M526.1 243.3h1.7M539.7 243.3h1.7M594.1 243.3h3.4M612.8 243.3h1.7M461.5 244.3h3.4M478.5 244.3h1.7M483.6 244.3h1.7M504 244.3h1.7M524.4 244.3h1.7M536.3 244.3h1.7M624.7 244.3h1.7M629.8 244.3h1.7M471.7 245.3h1.7M502.3 245.3h3.4M541.4 245.3h3.4M561.8 245.3h1.7M599.2 245.3h1.7M612.8 245.3h1.7M624.7 245.3h1.7M439.4 246.3h1.7M461.5 246.3h3.4M468.3 246.3h3.4M480.2 246.3h1.7M485.3 246.3h1.7M500.6 246.3h1.7M527.8 246.3h1.7M534.6 246.3h1.7M612.8 246.3h1.7M446.2 247.3h1.7M461.5 247.3h1.7M470 247.3h1.7M515.9 247.3h1.7M519.3 247.3h1.7M526.1 247.3h1.7M538 247.3h1.7M592.4 247.3h1.7M595.8 247.3h1.7M612.8 247.3h3.4M631.5 247.3h1.7M398.6 248.3h1.7M487 248.3h1.7M492.1 248.3h1.7M497.2 248.3h1.7M500.6 248.3h1.7M505.7 248.3h1.7M509.1 248.3h1.7M529.5 248.3h1.7M558.4 248.3h1.7M604.3 248.3h1.7M611.1 248.3h1.7M616.2 248.3h1.7M634.9 248.3h1.7"/>
<path stroke="#d97f6d" d="M510.8 136.8h1.7M592.4 136.8h1.7M609.4 136.8h1.7M616.2 136.8h1.7M619.6 136.8h1.7M429.2 137.8h3.4M515.9 137.8h1.7M594.1 137.8h1.7M617.9 137.8h1.7M447.9 138.8h1.7M456.4 138.8h1.7M498.9 138.8h1.7M507.4 138.8h1.7M527.8 138.8h1.7M538 138.8h1.7M616.2 138.8h1.7M424.1 139.8h1.7M429.2 139.8h1.7M442.8 139.8h1.7M454.7 139.8h1.7M488.7 139.8h3.4M502.3 139.8h1.7M507.4 139.8h1.7M510.8 139.8h1.7M519.3 139.8h1.7M594.1 139.8h1.7M619.6 139.8h1.7M626.4 139.8h3.4M634.9 139.8h1.7M488.7 140.8h1.7M502.3 140.8h1.7M514.2 140.8h1.7M524.4 140.8h1.7M539.7 140.8h1.7M556.7 140.8h1.7M607.7 140.8h1.7M612.8 140.8h1.7M623 140.8h1.7M633.2 140.8h1.7M430.9 141.8h1.7M446.2 141.8h1.7M490.4 141.8h3.4M515.9 141.8h1.7M539.7 141.8h1.7M592.4 141.8h1.7M611.1 141.8h1.7M634.9 141.8h1.7M405.4 142.8h1.7M441.1 142.8h1.7M444.5 142.8h1.7M451.3 142.8h1.7M492.1 142.8h3.4M502.3 142.8h1.7M524.4 142.8h1.7M541.4 142.8h1.7M592.4 142.8h1.7M597.5 142.8h1.7M600.9 142.8h1.7M611.1 142.8h1.7M621.3 142.8h1.7M628.1 142.8h1.7M633.2 142.8h1.7M444.5 143.8h1.7M451.3 143.8h1.7M502.3 143.8h1.7M509.1 143.8h1.7M519.3 143.8h1.7M524.4 143.8h1.7M531.2 143.8h1.7M560.1 143.8h3.4M592.4 143.8h1.7M604.3 143.8h1.7M624.7 143.8h3.4M427.5 144.8h3.4M483.6 144.8h1.7M534.6 144.8h1.7M592.4 144.8h1.7M616.2 144.8h1.7M439.4 145.8h1.7M458.1 145.8h1.7M495.5 145.8h1.7M509.1 145.8h1.7M515.9 145.8h3.4M522.7 145.8h1.7M607.7 145.8h1.7M413.9 146.8h1.7M430.9 146.8h1.7M446.2 146.8h1.7M449.6 146.8h1.7M453 146.8h1.7M495.5 146.8h1.7M592.4 146.8h1.7M609.4 146.8h1.7M612.8 146.8h1.7M417.3 147.9h1.7M436 147.9h1.7M456.4 147.9h1.7M459.8 147.9h1.7M490.4 147.9h1.7M515.9 147.9h1.7M521 147.9h1.7M534.6 147.9h1.7M570.3 147.9h1.7M616.2 147.9h1.7M628.1 147.9h1.7M633.2 147.9h1.7M439.4 148.9h1.7M444.5 148.9h1.7M453 148.9h1.7M487 148.9h1.7M505.7 148.9h1.7M517.6 148.9h1.7M531.2 148.9h1.7M592.4 148.9h1.7M609.4 148.9h3.4M427.5 149.9h1.7M437.7 149.9h1.7M488.7 149.9h1.7M495.5 149.9h1.7M505.7 149.9h1.7M510.8 149.9h1.7M514.2 149.9h1.7M611.1 149.9h1.7M633.2 149.9h1.7M449.6 150.9h1.7M495.5 150.9h1.7M504 150.9h1.7M522.7 150.9h1.7M578.8 150.9h1.7M612.8 150.9h1.7M403.7 151.9h1.7M412.2 151.9h1.7M432.6 151.9h1.7M441.1 151.9h1.7M453 151.9h1.7M510.8 151.9h1.7M515.9 151.9h1.7M534.6 151.9h1.7M604.3 151.9h3.4M616.2 151.9h1.7M628.1 151.9h1.7M422.4 152.9h1.7M441.1 152.9h1.7M447.9 152.9h1.7M485.3 152.9h1.7M515.9 152.9h1.7M526.1 152.9h1.7M534.6 152.9h1.7M541.4 152.9h1.7M595.8 152.9h1.7M614.5 152.9h3.4M425.8 153.9h1.7M436 153.9h1.7M441.1 153.9h1.7M446.2 153.9h1.7M451.3 153.9h1.7M487 153.9h1.7M505.7 153.9h1.7M514.2 153.9h1.7M532.9 153.9h1.7M572 153.9h1.7M592.4 153.9h1.7M600.9 153.9h1.7M614.5 153.9h1.7M621.3 153.9h1.7M420.7 154.9h1.7M425.8 154.9h1.7M432.6 154.9h1.7M439.4 154.9h1.7M451.3 154.9h1.7M507.4 154.9h1.7M575.4 154.9h1.7M609.4 154.9h1.7M617.9 154.9h1.7M621.3 154.9h1.7M626.4 154.9h1.7M400.3 155.9h1.7M413.9 155.9h1.7M420.7 155.9h1.7M429.2 155.9h1.7M432.6 155.9h1.7M441.1 155.9h1.7M456.4 155.9h1.7M492.1 155.9h1.7M495.5 155.9h1.7M509.1 155.9h1.7M517.6 155.9h1.7M410.5 156.9h1.7M434.3 156.9h1.7M439.4 156.9h1.7M514.2 156.9h1.7M522.7 156.9h1.7M573.7 156.9h5.1M616.2 156.9h1.7M623 156.9h1.7M393.5 157.9h1.7M413.9 157.9h1.7M429.2 157.9h1.7M439.4 157.9h1.7M497.2 157.9h1.7M514.2 157.9h1.7M517.6 157.9h1.7M527.8 157.9h1.7M531.2 157.9h1.7M538 157.9h1.7M594.1 157.9h1.7M606 157.9h1.7M611.1 157.9h1.7M628.1 157.9h1.7M398.6 158.9h1.7M405.4 158.9h3.4M419 158.9h1.7M436 158.9h1.7M444.5 158.9h1.7M453 158.9h1.7M495.5 158.9h1.7M515.9 158.9h1.7M599.2 158.9h5.1M628.1 158.9h1.7M633.2 158.9h1.7M410.5 159.9h1.7M417.3 159.9h5.1M424.1 159.9h1.7M427.5 159.9h1.7M430.9 159.9h1.7M453 159.9h1.7M483.6 159.9h1.7M487 159.9h1.7M498.9 159.9h1.7M514.2 159.9h1.7M517.6 159.9h1.7M527.8 159.9h1.7M572 159.9h1.7M631.5 159.9h1.7M408.8 160.9h1.7M412.2 160.9h1.7M425.8 160.9h1.7M432.6 160.9h1.7M439.4 160.9h1.7M446.2 160.9h1.7M492.1 160.9h1.7M502.3 160.9h5.1M526.1 160.9h1.7M534.6 160.9h1.7M538 160.9h1.7M577.1 160.9h1.7M595.8 160.9h1.7M614.5 160.9h1.7M623 160.9h3.4M415.6 161.9h1.7M451.3 161.9h1.7M514.2 161.9h1.7M522.7 161.9h1.7M536.3 161.9h1.7M594.1 161.9h1.7M604.3 161.9h1.7M616.2 161.9h1.7M623 161.9h1.7M626.4 161.9h1.7M422.4 162.9h1.7M454.7 162.9h3.4M524.4 162.9h1.7M531.2 162.9h1.7M573.7 162.9h1.7M614.5 162.9h1.7M393.5 163.9h1.7M439.4 163.9h1.7M487 163.9h1.7M500.6 163.9h1.7M505.7 163.9h1.7M527.8 163.9h1.7M592.4 163.9h1.7M609.4 163.9h1.7M616.2 163.9h1.7M626.4 163.9h1.7M405.4 164.9h1.7M422.4 164.9h1.7M451.3 164.9h1.7M521 164.9h1.7M524.4 164.9h1.7M595.8 164.9h1.7M612.8 164.9h1.7M403.7 165.9h1.7M415.6 165.9h1.7M425.8 165.9h1.7M439.4 165.9h3.4M453 165.9h1.7M456.4 165.9h1.7M524.4 165.9h1.7M531.2 165.9h3.4M592.4 165.9h3.4M611.1 165.9h1.7M420.7 166.9h1.7M439.4 166.9h1.7M442.8 166.9h1.7M456.4 166.9h1.7M510.8 166.9h1.7M522.7 166.9h1.7M532.9 166.9h1.7M391.8 167.9h1.7M412.2 167.9h1.7M424.1 167.9h3.4M454.7 167.9h1.7M526.1 167.9h3.4M531.2 167.9h1.7M561.8 167.9h1.7M621.3 167.9h1.7M405.4 168.9h1.7M429.2 168.9h1.7M437.7 168.9h1.7M441.1 168.9h1.7M453 168.9h1.7M505.7 168.9h1.7M609.4 168.9h1.7M424.1 169.9h1.7M449.6 169.9h1.7M493.8 169.9h1.7M580.5 169.9h1.7M417.3 171h1.7M422.4 171h1.7M434.3 171h1.7M495.5 171h1.7M534.6 171h1.7M621.3 171h1.7M419 172h1.7M446.2 172h1.7M453 172h1.7M495.5 172h1.7M526.1 172h1.7M532.9 172h1.7M573.7 172h1.7M594.1 172h1.7M624.7 172h1.7M405.4 173h1.7M412.2 173h1.7M439.4 173h1.7M561.8 173h1.7M592.4 173h1.7M400.3 174h1.7M407.1 174h1.7M417.3 174h1.7M442.8 174h1.7M453 174h1.7M515.9 174h1.7M536.3 174h1.7M607.7 174h1.7M413.9 175h1.7M447.9 175h1.7M512.5 175h1.7M521 175h1.7M563.5 175h1.7M427.5 176h1.7M446.2 176h1.7M510.8 176h1.7M521 176h1.7M532.9 176h3.4M607.7 176h1.7M611.1 176h3.4M403.7 177h1.7M517.6 177h1.7M595.8 177h1.7M616.2 177h1.7M413.9 178h3.4M419 178h1.7M422.4 178h1.7M527.8 178h1.7M633.2 178h1.7M434.3 179h1.7M442.8 179h1.7M509.1 179h1.7M515.9 179h1.7M521 179h1.7M531.2 179h1.7M407.1 180h1.7M420.7 180h1.7M442.8 180h3.4M519.3 180h1.7M524.4 180h1.7M541.4 180h1.7M592.4 180h1.7M600.9 180h1.7M631.5 180h1.7M410.5 181h1.7M436 181h1.7M451.3 181h3.4M519.3 181h1.7M524.4 181h1.7M527.8 181h1.7M606 181h3.4M611.1 181h1.7M614.5 181h1.7M434.3 182h1.7M437.7 182h1.7M442.8 182h1.7M451.3 182h1.7M454.7 182h1.7M522.7 182h1.7M575.4 182h1.7M412.2 183h1.7M432.6 183h1.7M446.2 183h1.7M573.7 183h3.4M407.1 184h1.7M410.5 184h1.7M422.4 184h1.7M427.5 184h1.7M436 184h1.7M439.4 184h1.7M492.1 184h1.7M507.4 184h1.7M527.8 184h1.7M534.6 184h1.7M592.4 184h1.7M595.8 184h1.7M600.9 184h1.7M606 184h1.7M634.9 184h1.7M398.6 185h1.7M402 185h1.7M420.7 185h1.7M563.5 185h1.7M585.6 185h1.7M592.4 185h1.7M606 185h1.7M434.3 186h1.7M454.7 186h1.7M531.2 186h1.7M536.3 186h1.7M607.7 186h1.7M619.6 186h1.7M629.8 186h1.7M415.6 187h1.7M434.3 187h1.7M532.9 187h1.7M558.4 187h1.7M568.6 187h1.7M631.5 187h1.7M432.6 188h1.7M437.7 188h1.7M444.5 188h1.7M453 188h1.7M500.6 188h1.7M522.7 188h3.4M527.8 188h1.7M609.4 188h1.7M621.3 188h3.4M425.8 189h3.4M439.4 189h3.4M451.3 189h1.7M611.1 189h3.4M631.5 189h1.7M407.1 190h1.7M412.2 190h1.7M420.7 190h5.1M451.3 190h1.7M454.7 190h3.4M512.5 190h1.7M517.6 190h1.7M570.3 190h3.4M607.7 190h1.7M621.3 190h1.7M633.2 190h1.7M427.5 191h1.7M430.9 191h1.7M447.9 191h1.7M453 191h1.7M524.4 191h1.7M531.2 191h1.7M570.3 191h1.7M597.5 191h1.7M606 191h1.7M609.4 191h1.7M405.4 192h1.7M434.3 192h1.7M437.7 192h1.7M519.3 192h1.7M532.9 192h1.7M563.5 192h1.7M594.1 192h1.7M599.2 192h1.7M602.6 192h1.7M606 192h3.4M619.6 192h1.7M626.4 192h1.7M441.1 193.1h1.7M446.2 193.1h1.7M451.3 193.1h3.4M519.3 193.1h1.7M539.7 193.1h1.7M568.6 193.1h3.4M577.1 193.1h1.7M592.4 193.1h1.7M599.2 193.1h1.7M612.8 193.1h1.7M623 193.1h1.7M626.4 193.1h1.7M398.6 194.1h1.7M422.4 194.1h1.7M425.8 194.1h1.7M441.1 194.1h1.7M446.2 194.1h1.7M517.6 194.1h3.4M531.2 194.1h1.7M543.1 194.1h1.7M566.9 194.1h1.7M583.9 194.1h1.7M611.1 194.1h3.4M628.1 194.1h1.7M512.5 195.1h1.7M572 195.1h1.7M522.7 196.1h1.7M527.8 196.1h1.7M531.2 196.1h1.7M568.6 196.1h1.7M578.8 196.1h1.7M621.3 196.1h1.7M624.7 196.1h1.7M420.7 197.1h1.7M430.9 197.1h1.7M446.2 197.1h1.7M453 197.1h1.7M487 197.1h1.7M526.1 197.1h1.7M529.5 197.1h1.7M558.4 197.1h1.7M561.8 197.1h1.7M575.4 197.1h1.7M592.4 197.1h1.7M607.7 197.1h1.7M612.8 197.1h1.7M623 197.1h1.7M634.9 197.1h1.7M478.5 198.1h1.7M488.7 198.1h1.7M505.7 198.1h1.7M558.4 198.1h1.7M398.6 199.1h1.7M434.3 199.1h1.7M449.6 199.1h1.7M500.6 199.1h1.7M512.5 199.1h1.7M519.3 199.1h3.4M447.9 200.1h1.7M453 200.1h1.7M487 200.1h1.7M517.6 200.1h3.4M531.2 200.1h1.7M609.4 200.1h1.7M616.2 200.1h1.7M490.4 201.1h1.7M495.5 201.1h1.7M507.4 201.1h1.7M600.9 201.1h1.7M607.7 201.1h1.7M502.3 202.1h1.7M510.8 202.1h1.7M532.9 202.1h1.7M558.4 202.1h1.7M609.4 202.1h1.7M634.9 202.1h1.7M430.9 203.1h1.7M463.2 203.1h1.7M502.3 203.1h1.7M517.6 203.1h1.7M532.9 203.1h1.7M555 203.1h1.7M614.5 203.1h1.7M623 203.1h1.7M471.7 204.1h1.7M483.6 204.1h1.7M510.8 204.1h1.7M534.6 204.1h1.7M560.1 204.1h1.7M594.1 204.1h1.7M607.7 204.1h1.7M611.1 204.1h1.7M464.9 205.1h1.7M483.6 205.1h1.7M488.7 205.1h1.7M509.1 205.1h1.7M522.7 205.1h1.7M539.7 205.1h1.7M563.5 205.1h1.7M568.6 205.1h1.7M578.8 205.1h1.7M597.5 205.1h1.7M607.7 205.1h1.7M614.5 205.1h1.7M623 205.1h1.7M626.4 205.1h1.7M480.2 206.1h1.7M512.5 206.1h3.4M539.7 206.1h1.7M577.1 206.1h3.4M600.9 206.1h1.7M619.6 206.1h1.7M623 206.1h3.4M538 207.1h1.7M561.8 207.1h1.7M621.3 207.1h1.7M463.2 208.1h1.7M466.6 208.1h1.7M492.1 208.1h3.4M514.2 208.1h1.7M519.3 208.1h1.7M527.8 208.1h1.7M534.6 208.1h1.7M539.7 208.1h1.7M556.7 208.1h1.7M597.5 208.1h1.7M607.7 208.1h3.4M614.5 208.1h1.7M634.9 208.1h1.7M461.5 209.1h3.4M476.8 209.1h3.4M524.4 209.1h1.7M529.5 209.1h1.7M534.6 209.1h3.4M597.5 209.1h1.7M611.1 209.1h1.7M458.1 210.1h1.7M476.8 210.1h1.7M485.3 210.1h1.7M497.2 210.1h1.7M515.9 210.1h1.7M522.7 210.1h1.7M526.1 210.1h1.7M531.2 210.1h1.7M539.7 210.1h1.7M619.6 210.1h1.7M395.2 211.1h1.7M480.2 211.1h3.4M495.5 211.1h1.7M498.9 211.1h1.7M558.4 211.1h1.7M592.4 211.1h1.7M634.9 211.1h1.7M478.5 212.1h3.4M521 212.1h1.7M531.2 212.1h1.7M539.7 212.1h1.7M458.1 213.1h1.7M497.2 213.1h1.7M509.1 213.1h3.4M541.4 213.1h1.7M575.4 213.1h1.7M607.7 213.1h1.7M623 213.1h1.7M633.2 213.1h1.7M485.3 214.1h1.7M497.2 214.1h1.7M509.1 214.1h1.7M512.5 214.1h1.7M517.6 214.1h1.7M521 214.1h1.7M609.4 214.1h1.7M483.6 215.2h1.7M493.8 215.2h1.7M509.1 215.2h1.7M595.8 215.2h1.7M461.5 216.2h3.4M497.2 216.2h1.7M507.4 216.2h1.7M521 216.2h1.7M532.9 216.2h1.7M560.1 216.2h1.7M572 216.2h1.7M629.8 216.2h3.4M458.1 217.2h1.7M463.2 217.2h1.7M471.7 217.2h1.7M487 217.2h3.4M493.8 217.2h1.7M512.5 217.2h1.7M517.6 217.2h3.4M538 217.2h1.7M575.4 217.2h1.7M597.5 217.2h1.7M600.9 217.2h1.7M604.3 217.2h1.7M623 217.2h1.7M466.6 218.2h1.7M517.6 218.2h1.7M531.2 218.2h1.7M543.1 218.2h1.7M573.7 218.2h1.7M578.8 218.2h1.7M599.2 218.2h1.7M607.7 218.2h1.7M614.5 218.2h1.7M492.1 219.2h1.7M495.5 219.2h1.7M561.8 219.2h1.7M464.9 220.2h1.7M478.5 220.2h1.7M483.6 220.2h1.7M493.8 220.2h1.7M517.6 220.2h1.7M541.4 220.2h1.7M565.2 220.2h1.7M572 220.2h1.7M595.8 220.2h5.1M604.3 220.2h1.7M611.1 220.2h1.7M619.6 220.2h1.7M623 220.2h1.7M628.1 220.2h3.4M403.7 221.2h1.7M476.8 221.2h1.7M492.1 221.2h1.7M512.5 221.2h1.7M543.1 221.2h1.7M592.4 221.2h1.7M609.4 221.2h1.7M464.9 222.2h1.7M478.5 222.2h1.7M490.4 222.2h1.7M493.8 222.2h1.7M500.6 222.2h1.7M505.7 222.2h3.4M510.8 222.2h1.7M514.2 222.2h1.7M577.1 222.2h1.7M614.5 222.2h1.7M478.5 223.2h1.7M531.2 223.2h1.7M541.4 223.2h1.7M563.5 223.2h1.7M575.4 223.2h1.7M600.9 223.2h1.7M609.4 223.2h1.7M617.9 223.2h3.4M626.4 223.2h1.7M634.9 223.2h1.7M498.9 224.2h1.7M505.7 224.2h1.7M560.1 224.2h1.7M602.6 224.2h1.7M619.6 224.2h1.7M623 224.2h1.7M628.1 224.2h1.7M475.1 225.2h1.7M487 225.2h1.7M490.4 225.2h1.7M521 225.2h1.7M529.5 225.2h1.7M572 225.2h1.7M577.1 225.2h3.4M589 225.2h1.7M592.4 225.2h1.7M595.8 225.2h1.7M602.6 225.2h1.7M391.8 226.2h1.7M400.3 226.2h1.7M468.3 226.2h1.7M500.6 226.2h1.7M514.2 226.2h3.4M531.2 226.2h1.7M541.4 226.2h1.7M558.4 226.2h1.7M573.7 226.2h3.4M592.4 226.2h1.7M621.3 226.2h3.4M628.1 226.2h1.7M631.5 226.2h1.7M602.6 227.2h3.4M607.7 227.2h1.7M611.1 227.2h1.7M631.5 227.2h1.7M391.8 228.2h1.7M488.7 228.2h1.7M560.1 228.2h1.7M575.4 228.2h1.7M587.3 228.2h1.7M391.8 229.2h1.7M575.4 229.2h1.7M609.4 229.2h1.7M614.5 229.2h1.7M391.8 230.2h1.7M483.6 230.2h1.7M510.8 230.2h1.7M539.7 230.2h1.7M549.9 230.2h1.7M633.2 230.2h1.7M408.8 231.2h1.7M451.3 231.2h1.7M517.6 231.2h1.7M570.3 231.2h1.7M624.7 231.2h1.7M631.5 231.2h3.4M519.3 232.2h1.7M568.6 232.2h1.7M590.7 232.2h3.4M607.7 232.2h1.7M623 232.2h3.4M633.2 232.2h1.7M476.8 233.2h1.7M485.3 233.2h1.7M504 233.2h1.7M507.4 233.2h1.7M527.8 233.2h1.7M541.4 233.2h1.7M597.5 233.2h1.7M606 233.2h1.7M634.9 233.2h1.7M458.1 234.2h1.7M461.5 234.2h1.7M476.8 234.2h1.7M480.2 234.2h1.7M485.3 234.2h1.7M492.1 234.2h1.7M505.7 234.2h1.7M541.4 234.2h1.7M555 234.2h1.7M575.4 234.2h1.7M590.7 234.2h1.7M606 234.2h1.7M614.5 234.2h1.7M631.5 234.2h1.7M470 235.2h1.7M487 235.2h1.7M512.5 235.2h1.7M531.2 235.2h3.4M582.2 235.2h1.7M594.1 235.2h1.7M597.5 235.2h1.7M621.3 235.2h1.7M629.8 235.2h3.4M480.2 236.2h1.7M492.1 236.2h5.1M502.3 236.2h1.7M517.6 236.2h1.7M527.8 236.2h1.7M587.3 236.2h1.7M604.3 236.2h1.7M611.1 236.2h1.7M617.9 236.2h1.7M624.7 236.2h3.4M490.4 237.2h3.4M521 237.2h1.7M526.1 237.2h1.7M592.4 237.2h1.7M599.2 237.2h1.7M617.9 237.2h1.7M623 237.2h1.7M458.1 238.3h1.7M495.5 238.3h1.7M500.6 238.3h1.7M505.7 238.3h1.7M509.1 238.3h1.7M514.2 238.3h1.7M532.9 238.3h1.7M597.5 238.3h1.7M633.2 238.3h1.7M483.6 239.3h1.7M522.7 239.3h1.7M532.9 239.3h1.7M606 239.3h1.7M611.1 239.3h1.7M623 239.3h1.7M461.5 240.3h3.4M483.6 240.3h1.7M492.1 240.3h1.7M517.6 240.3h1.7M522.7 240.3h1.7M527.8 240.3h1.7M532.9 240.3h1.7M594.1 240.3h1.7M611.1 240.3h1.7M617.9 240.3h1.7M624.7 240.3h1.7M504 241.3h1.7M536.3 241.3h1.7M604.3 241.3h3.4M612.8 241.3h1.7M468.3 242.3h1.7M495.5 242.3h1.7M538 242.3h1.7M592.4 242.3h1.7M602.6 242.3h1.7M631.5 242.3h1.7M634.9 242.3h1.7M464.9 243.3h3.4M481.9 243.3h1.7M490.4 243.3h1.7M498.9 243.3h1.7M509.1 243.3h1.7M531.2 243.3h1.7M534.6 243.3h1.7M604.3 243.3h1.7M614.5 243.3h1.7M628.1 243.3h3.4M444.5 244.3h1.7M459.8 244.3h1.7M476.8 244.3h1.7M487 244.3h1.7M495.5 244.3h1.7M502.3 244.3h1.7M521 244.3h1.7M595.8 244.3h1.7M599.2 244.3h1.7M619.6 244.3h1.7M628.1 244.3h1.7M478.5 245.3h1.7M485.3 245.3h1.7M505.7 245.3h1.7M515.9 245.3h1.7M519.3 245.3h1.7M534.6 245.3h1.7M539.7 245.3h1.7M602.6 245.3h1.7M611.1 245.3h1.7M621.3 245.3h1.7M471.7 246.3h1.7M483.6 246.3h1.7M504 246.3h1.7M514.2 246.3h3.4M526.1 246.3h1.7M531.2 246.3h1.7M539.7 246.3h1.7M599.2 246.3h1.7M614.5 246.3h1.7M629.8 246.3h1.7M458.1 247.3h1.7M468.3 247.3h1.7M473.4 247.3h1.7M478.5 247.3h1.7M488.7 247.3h1.7M493.8 247.3h1.7M509.1 247.3h1.7M517.6 247.3h1.7M522.7 247.3h3.4M527.8 247.3h1.7M539.7 247.3h3.4M590.7 247.3h1.7M597.5 247.3h1.7M616.2 247.3h1.7M623 247.3h1.7M633.2 247.3h1.7M437.7 248.3h1.7M470 248.3h1.7M476.8 248.3h1.7M481.9 248.3h1.7M488.7 248.3h1.7M507.4 248.3h1.7M521 248.3h1.7M527.8 248.3h1.7M626.4 248.3h1.7"/>
<path stroke="#c85f53" d="M483.6 136.8h1.7M555 136.8h3.4M594.1 136.8h1.7M442.8 137.8h1.7M449.6 137.8h1.7M534.6 137.8h1.7M454.7 138.8h1.7M487 138.8h1.7M517.6 138.8h1.7M526.1 138.8h1.7M531.2 138.8h1.7M623 138.8h1.7M631.5 138.8h1.7M432.6 139.8h1.7M449.6 139.8h1.7M534.6 139.8h1.7M578.8 139.8h1.7M597.5 139.8h1.7M604.3 139.8h3.4M611.1 139.8h1.7M614.5 139.8h1.7M621.3 139.8h1.7M497.2 140.8h1.7M504 140.8h1.7M531.2 140.8h1.7M590.7 140.8h1.7M616.2 140.8h1.7M628.1 140.8h1.7M447.9 141.8h3.4M526.1 141.8h1.7M536.3 141.8h1.7M624.7 141.8h1.7M628.1 141.8h1.7M490.4 142.8h1.7M500.6 142.8h1.7M507.4 142.8h1.7M514.2 142.8h3.4M534.6 142.8h1.7M561.8 142.8h1.7M599.2 142.8h1.7M616.2 142.8h1.7M415.6 143.8h1.7M449.6 143.8h1.7M514.2 143.8h1.7M628.1 143.8h1.7M447.9 144.8h1.7M451.3 144.8h1.7M495.5 144.8h1.7M509.1 144.8h1.7M529.5 144.8h1.7M577.1 144.8h1.7M442.8 145.8h1.7M453 145.8h1.7M468.3 145.8h1.7M507.4 145.8h1.7M519.3 145.8h1.7M531.2 145.8h1.7M592.4 145.8h3.4M626.4 145.8h1.7M424.1 146.8h1.7M442.8 146.8h1.7M454.7 146.8h1.7M538 146.8h1.7M621.3 146.8h1.7M631.5 146.8h1.7M446.2 147.9h1.7M449.6 147.9h6.8M527.8 147.9h1.7M599.2 147.9h1.7M623 147.9h1.7M408.8 148.9h1.7M429.2 148.9h1.7M434.3 148.9h1.7M488.7 148.9h1.7M500.6 148.9h1.7M510.8 148.9h3.4M521 148.9h1.7M524.4 148.9h1.7M541.4 148.9h1.7M600.9 148.9h1.7M631.5 148.9h1.7M441.1 149.9h1.7M453 149.9h1.7M529.5 149.9h1.7M590.7 149.9h1.7M621.3 149.9h1.7M446.2 150.9h3.4M451.3 150.9h1.7M517.6 150.9h1.7M524.4 150.9h1.7M609.4 150.9h1.7M614.5 150.9h1.7M631.5 150.9h1.7M429.2 151.9h3.4M442.8 151.9h1.7M449.6 151.9h1.7M492.1 151.9h1.7M429.2 152.9h1.7M500.6 152.9h1.7M527.8 152.9h1.7M612.8 152.9h1.7M427.5 153.9h1.7M434.3 153.9h1.7M488.7 153.9h1.7M419 154.9h1.7M449.6 154.9h1.7M492.1 154.9h1.7M500.6 154.9h1.7M504 154.9h1.7M519.3 154.9h1.7M531.2 154.9h1.7M539.7 154.9h1.7M600.9 154.9h1.7M607.7 154.9h1.7M419 155.9h1.7M424.1 155.9h1.7M427.5 155.9h1.7M444.5 155.9h3.4M519.3 155.9h1.7M594.1 155.9h1.7M597.5 155.9h1.7M413.9 156.9h1.7M420.7 156.9h1.7M446.2 156.9h1.7M521 156.9h1.7M526.1 156.9h1.7M592.4 156.9h3.4M604.3 156.9h1.7M405.4 157.9h1.7M420.7 157.9h1.7M424.1 157.9h5.1M430.9 157.9h1.7M436 157.9h1.7M512.5 157.9h1.7M541.4 157.9h1.7M604.3 157.9h1.7M623 157.9h1.7M633.2 157.9h1.7M434.3 158.9h1.7M405.4 159.9h1.7M439.4 159.9h1.7M456.4 159.9h1.7M478.5 159.9h1.7M504 159.9h1.7M531.2 159.9h1.7M534.6 159.9h1.7M563.5 159.9h1.7M419 160.9h1.7M422.4 160.9h1.7M434.3 160.9h3.4M444.5 160.9h1.7M507.4 160.9h1.7M522.7 160.9h1.7M592.4 160.9h1.7M631.5 160.9h1.7M429.2 161.9h3.4M532.9 161.9h1.7M592.4 161.9h1.7M425.8 162.9h1.7M522.7 162.9h1.7M400.3 163.9h1.7M441.1 163.9h1.7M444.5 163.9h1.7M454.7 163.9h1.7M497.2 163.9h1.7M600.9 163.9h1.7M412.2 164.9h1.7M425.8 164.9h1.7M427.5 165.9h3.4M434.3 165.9h3.4M497.2 165.9h1.7M427.5 166.9h3.4M534.6 166.9h1.7M407.1 167.9h1.7M410.5 167.9h1.7M413.9 167.9h1.7M430.9 167.9h1.7M444.5 167.9h1.7M456.4 167.9h1.7M616.2 167.9h1.7M427.5 168.9h1.7M432.6 168.9h3.4M449.6 168.9h1.7M592.4 168.9h1.7M419 169.9h1.7M534.6 169.9h1.7M420.7 171h1.7M425.8 171h1.7M454.7 171h1.7M526.1 171h1.7M420.7 172h3.4M437.7 172h1.7M441.1 172h1.7M444.5 172h1.7M451.3 172h1.7M419 173h1.7M453 173h1.7M527.8 173h1.7M398.6 174h1.7M410.5 174h1.7M425.8 174h1.7M432.6 174h1.7M439.4 174h1.7M495.5 174h1.7M527.8 174h1.7M531.2 174h1.7M534.6 174h1.7M609.4 174h1.7M408.8 175h3.4M449.6 175h1.7M527.8 175h1.7M534.6 175h1.7M609.4 175h1.7M412.2 176h1.7M526.1 176h1.7M425.8 177h1.7M441.1 177h1.7M454.7 177h1.7M592.4 177h1.7M614.5 177h1.7M621.3 177h1.7M430.9 178h1.7M437.7 178h1.7M442.8 178h1.7M447.9 178h1.7M451.3 178h1.7M532.9 178h1.7M429.2 179h1.7M434.3 180h3.4M403.7 181h1.7M446.2 181h1.7M449.6 181h1.7M531.2 181h1.7M534.6 181h1.7M412.2 182h1.7M420.7 182h1.7M436 182h1.7M449.6 182h1.7M436 183h1.7M444.5 183h1.7M531.2 183h3.4M611.1 183h1.7M624.7 183h1.7M398.6 184h1.7M532.9 184h1.7M572 184h1.7M575.4 184h1.7M624.7 184h1.7M631.5 184h1.7M425.8 185h1.7M609.4 185h1.7M495.5 186h1.7M529.5 186h1.7M573.7 186h1.7M616.2 186h1.7M436 187h1.7M616.2 187h1.7M628.1 187h1.7M633.2 187h1.7M420.7 188h1.7M430.9 188h1.7M436 188h1.7M442.8 188h1.7M521 188h1.7M529.5 188h1.7M532.9 188h1.7M560.1 188h1.7M592.4 188h1.7M595.8 188h1.7M606 188h1.7M611.1 188h1.7M633.2 188h1.7M391.8 189h1.7M420.7 189h5.1M436 189h3.4M527.8 189h1.7M532.9 189h1.7M624.7 189h1.7M558.4 190h1.7M590.7 190h1.7M609.4 190h1.7M619.6 190h1.7M623 190h1.7M631.5 190h1.7M437.7 191h1.7M442.8 191h1.7M446.2 191h1.7M522.7 191h1.7M527.8 191h1.7M555 191h1.7M599.2 191h1.7M398.6 192h1.7M425.8 192h1.7M441.1 192h1.7M490.4 192h1.7M558.4 192h1.7M631.5 192h1.7M403.7 193.1h3.4M413.9 193.1h1.7M425.8 193.1h1.7M429.2 193.1h1.7M432.6 193.1h1.7M439.4 193.1h1.7M498.9 193.1h1.7M505.7 193.1h1.7M609.4 193.1h1.7M634.9 193.1h1.7M410.5 194.1h1.7M510.8 194.1h1.7M532.9 194.1h1.7M600.9 194.1h1.7M609.4 194.1h1.7M616.2 194.1h1.7M626.4 194.1h1.7M514.2 196.1h1.7M524.4 196.1h1.7M429.2 197.1h1.7M602.6 197.1h1.7M410.5 198.1h1.7M453 198.1h1.7M490.4 198.1h1.7M527.8 198.1h1.7M400.3 199.1h1.7M446.2 199.1h1.7M510.8 199.1h1.7M609.4 199.1h1.7M407.1 200.1h1.7M497.2 200.1h1.7M505.7 200.1h1.7M514.2 200.1h1.7M573.7 200.1h1.7M492.1 201.1h1.7M512.5 201.1h1.7M532.9 201.1h1.7M631.5 201.1h1.7M539.7 202.1h1.7M572 202.1h1.7M490.4 203.1h1.7M531.2 203.1h1.7M539.7 203.1h1.7M568.6 203.1h3.4M609.4 203.1h1.7M427.5 204.1h1.7M480.2 204.1h1.7M490.4 204.1h1.7M498.9 204.1h1.7M509.1 204.1h1.7M539.7 204.1h3.4M600.9 204.1h1.7M476.8 205.1h1.7M507.4 205.1h1.7M519.3 205.1h1.7M531.2 205.1h1.7M561.8 205.1h1.7M595.8 205.1h1.7M631.5 205.1h3.4M470 206.1h1.7M485.3 206.1h1.7M527.8 206.1h1.7M561.8 206.1h1.7M572 206.1h1.7M468.3 207.1h1.7M481.9 207.1h1.7M507.4 207.1h1.7M529.5 207.1h1.7M536.3 207.1h1.7M478.5 208.1h1.7M498.9 208.1h1.7M507.4 208.1h3.4M553.3 208.1h1.7M481.9 209.1h1.7M487 209.1h1.7M532.9 209.1h1.7M621.3 209.1h1.7M633.2 209.1h1.7M505.7 210.1h1.7M509.1 210.1h1.7M514.2 210.1h1.7M561.8 210.1h1.7M568.6 210.1h1.7M624.7 210.1h1.7M466.6 211.1h1.7M500.6 211.1h1.7M560.1 212.1h1.7M575.4 212.1h1.7M592.4 212.1h1.7M633.2 212.1h1.7M463.2 213.1h1.7M490.4 213.1h1.7M527.8 213.1h1.7M531.2 213.1h1.7M577.1 213.1h1.7M492.1 214.1h3.4M539.7 214.1h1.7M510.8 215.2h1.7M531.2 215.2h1.7M536.3 215.2h3.4M563.5 215.2h1.7M466.6 216.2h1.7M493.8 216.2h1.7M514.2 216.2h1.7M597.5 216.2h1.7M616.2 216.2h1.7M623 216.2h1.7M498.9 217.2h1.7M507.4 217.2h3.4M514.2 217.2h3.4M536.3 217.2h1.7M568.6 217.2h1.7M590.7 217.2h1.7M594.1 217.2h1.7M609.4 217.2h1.7M464.9 218.2h1.7M483.6 218.2h1.7M507.4 218.2h1.7M529.5 218.2h1.7M568.6 218.2h1.7M600.9 218.2h1.7M633.2 218.2h1.7M504 219.2h1.7M514.2 219.2h1.7M517.6 219.2h1.7M558.4 219.2h1.7M458.1 220.2h1.7M461.5 220.2h1.7M495.5 220.2h1.7M509.1 220.2h1.7M522.7 220.2h1.7M560.1 220.2h1.7M594.1 220.2h1.7M617.9 220.2h1.7M631.5 220.2h1.7M464.9 221.2h1.7M490.4 221.2h1.7M510.8 221.2h1.7M532.9 221.2h1.7M599.2 221.2h1.7M606 221.2h1.7M623 221.2h1.7M633.2 221.2h1.7M497.2 222.2h1.7M502.3 222.2h1.7M531.2 222.2h3.4M568.6 222.2h1.7M575.4 222.2h1.7M592.4 222.2h1.7M634.9 222.2h1.7M502.3 223.2h1.7M515.9 223.2h1.7M594.1 223.2h1.7M602.6 223.2h1.7M631.5 223.2h1.7M495.5 224.2h1.7M507.4 224.2h1.7M527.8 224.2h1.7M578.8 224.2h1.7M606 224.2h1.7M614.5 224.2h1.7M634.9 224.2h1.7M498.9 225.2h1.7M502.3 225.2h1.7M524.4 225.2h1.7M568.6 225.2h3.4M573.7 225.2h1.7M619.6 225.2h1.7M497.2 226.2h1.7M600.9 226.2h1.7M616.2 226.2h1.7M619.6 226.2h1.7M634.9 226.2h1.7M568.6 228.2h1.7M573.7 228.2h1.7M611.1 228.2h1.7M616.2 228.2h1.7M619.6 228.2h1.7M633.2 228.2h1.7M594.1 229.2h1.7M626.4 229.2h1.7M459.8 230.2h1.7M393.5 231.2h3.4M498.9 231.2h1.7M510.8 231.2h1.7M539.7 231.2h1.7M560.1 231.2h1.7M604.3 231.2h1.7M391.8 232.2h1.7M480.2 232.2h1.7M515.9 232.2h1.7M577.1 232.2h1.7M600.9 232.2h1.7M614.5 232.2h1.7M621.3 232.2h1.7M393.5 233.2h1.7M396.9 233.2h1.7M495.5 233.2h1.7M607.7 233.2h1.7M464.9 234.2h1.7M471.7 234.2h1.7M500.6 234.2h1.7M509.1 234.2h1.7M517.6 234.2h1.7M532.9 234.2h1.7M597.5 234.2h3.4M624.7 234.2h6.8M405.4 235.2h1.7M480.2 235.2h1.7M614.5 235.2h1.7M439.4 236.2h1.7M487 236.2h1.7M505.7 236.2h1.7M512.5 236.2h1.7M515.9 236.2h1.7M573.7 236.2h1.7M621.3 236.2h3.4M453 237.2h1.7M461.5 237.2h1.7M470 237.2h3.4M480.2 237.2h1.7M498.9 237.2h1.7M517.6 237.2h1.7M568.6 237.2h1.7M606 237.2h5.1M616.2 237.2h1.7M631.5 237.2h1.7M634.9 237.2h1.7M497.2 238.3h1.7M538 238.3h1.7M623 238.3h1.7M631.5 238.3h1.7M463.2 239.3h1.7M480.2 239.3h1.7M507.4 239.3h1.7M521 239.3h1.7M529.5 239.3h1.7M607.7 239.3h1.7M471.7 240.3h1.7M490.4 240.3h1.7M500.6 240.3h1.7M536.3 240.3h5.1M570.3 240.3h1.7M590.7 240.3h1.7M602.6 240.3h1.7M606 240.3h1.7M612.8 240.3h1.7M623 240.3h1.7M634.9 240.3h1.7M463.2 241.3h1.7M470 241.3h1.7M487 241.3h1.7M495.5 241.3h1.7M498.9 241.3h1.7M502.3 241.3h1.7M505.7 241.3h1.7M510.8 241.3h1.7M527.8 241.3h1.7M539.7 241.3h1.7M597.5 241.3h1.7M623 241.3h1.7M626.4 241.3h1.7M631.5 241.3h1.7M485.3 242.3h1.7M493.8 242.3h1.7M507.4 242.3h1.7M515.9 242.3h1.7M568.6 242.3h1.7M595.8 242.3h1.7M600.9 242.3h1.7M606 242.3h1.7M609.4 242.3h1.7M614.5 242.3h1.7M463.2 243.3h1.7M478.5 243.3h3.4M487 243.3h1.7M532.9 243.3h1.7M538 243.3h1.7M609.4 243.3h1.7M621.3 243.3h1.7M631.5 243.3h1.7M473.4 244.3h3.4M497.2 244.3h3.4M519.3 244.3h1.7M522.7 244.3h1.7M543.1 244.3h1.7M570.3 244.3h1.7M614.5 244.3h3.4M634.9 244.3h1.7M464.9 245.3h1.7M481.9 245.3h3.4M492.1 245.3h1.7M510.8 245.3h3.4M526.1 245.3h1.7M531.2 245.3h1.7M592.4 245.3h1.7M614.5 245.3h1.7M626.4 245.3h3.4M634.9 245.3h1.7M459.8 246.3h1.7M476.8 246.3h1.7M502.3 246.3h1.7M510.8 246.3h1.7M519.3 246.3h1.7M522.7 246.3h3.4M529.5 246.3h1.7M538 246.3h1.7M609.4 246.3h1.7M617.9 246.3h1.7M463.2 247.3h1.7M471.7 247.3h1.7M485.3 247.3h3.4M498.9 247.3h1.7M507.4 247.3h1.7M514.2 247.3h1.7M521 247.3h1.7M531.2 247.3h1.7M543.1 247.3h1.7M621.3 247.3h1.7M466.6 248.3h1.7M478.5 248.3h1.7M483.6 248.3h1.7M536.3 248.3h1.7M594.1 248.3h1.7M609.4 248.3h1.7M621.3 248.3h1.7"/>
<path stroke="#b54543" d="M527.8 136.8h1.7M492.1 137.8h1.7M599.2 137.8h1.7M492.1 138.8h1.7M519.3 138.8h1.7M590.7 138.8h1.7M451.3 139.8h1.7M526.1 139.8h1.7M541.4 139.8h1.7M607.7 139.8h1.7M623 139.8h1.7M446.2 140.8h1.7M454.7 140.8h1.7M517.6 140.8h1.7M594.1 140.8h1.7M600.9 140.8h1.7M514.2 141.8h1.7M534.6 141.8h1.7M578.8 141.8h1.7M609.4 141.8h1.7M626.4 141.8h1.7M446.2 142.8h1.7M517.6 142.8h1.7M529.5 142.8h1.7M590.7 142.8h1.7M634.9 142.8h1.7M454.7 143.8h1.7M629.8 143.8h1.7M514.2 144.8h1.7M527.8 144.8h1.7M594.1 144.8h1.7M602.6 144.8h1.7M609.4 144.8h1.7M454.7 145.8h1.7M512.5 145.8h1.7M597.5 145.8h1.7M441.1 146.8h1.7M490.4 146.8h1.7M600.9 146.8h1.7M616.2 146.8h1.7M425.8 147.9h1.7M430.9 147.9h1.7M517.6 147.9h1.7M407.1 148.9h1.7M432.6 148.9h1.7M436 148.9h1.7M454.7 148.9h1.7M594.1 148.9h1.7M599.2 148.9h1.7M432.6 149.9h1.7M498.9 149.9h3.4M628.1 149.9h1.7M634.9 149.9h1.7M424.1 150.9h1.7M437.7 150.9h1.7M526.1 150.9h1.7M529.5 150.9h1.7M599.2 150.9h1.7M517.6 151.9h1.7M522.7 151.9h1.7M592.4 151.9h1.7M430.9 152.9h1.7M434.3 152.9h3.4M524.4 152.9h1.7M600.9 152.9h1.7M422.4 153.9h1.7M430.9 153.9h1.7M437.7 153.9h1.7M512.5 153.9h1.7M527.8 153.9h1.7M568.6 153.9h1.7M410.5 154.9h3.4M434.3 154.9h3.4M442.8 154.9h1.7M447.9 154.9h1.7M611.1 154.9h1.7M434.3 155.9h1.7M442.8 155.9h1.7M447.9 155.9h3.4M500.6 155.9h1.7M539.7 155.9h1.7M619.6 155.9h1.7M633.2 155.9h1.7M419 156.9h1.7M519.3 156.9h1.7M536.3 156.9h1.7M432.6 157.9h1.7M447.9 157.9h1.7M456.4 157.9h1.7M500.6 157.9h1.7M424.1 158.9h1.7M427.5 158.9h1.7M441.1 158.9h1.7M517.6 158.9h3.4M522.7 158.9h1.7M536.3 158.9h1.7M604.3 158.9h1.7M621.3 158.9h1.7M429.2 159.9h1.7M436 159.9h1.7M449.6 159.9h1.7M454.7 159.9h1.7M492.1 159.9h1.7M509.1 159.9h1.7M521 159.9h1.7M526.1 159.9h1.7M532.9 159.9h1.7M430.9 160.9h1.7M451.3 160.9h3.4M497.2 160.9h1.7M600.9 160.9h1.7M425.8 161.9h1.7M434.3 161.9h1.7M449.6 161.9h1.7M509.1 161.9h1.7M519.3 161.9h1.7M527.8 161.9h1.7M597.5 161.9h1.7M430.9 162.9h3.4M436 162.9h1.7M490.4 162.9h1.7M526.1 162.9h1.7M410.5 163.9h1.7M425.8 163.9h1.7M524.4 163.9h1.7M532.9 163.9h1.7M437.7 164.9h1.7M453 164.9h1.7M532.9 164.9h1.7M592.4 164.9h1.7M413.9 165.9h1.7M454.7 165.9h1.7M425.8 166.9h1.7M451.3 166.9h1.7M454.7 166.9h1.7M524.4 166.9h1.7M527.8 166.9h1.7M531.2 166.9h1.7M419 167.9h3.4M449.6 167.9h5.1M565.2 167.9h1.7M415.6 168.9h1.7M521 168.9h1.7M532.9 168.9h1.7M403.7 169.9h1.7M417.3 169.9h1.7M422.4 169.9h1.7M425.8 169.9h1.7M437.7 169.9h3.4M446.2 169.9h1.7M531.2 169.9h1.7M527.8 171h1.7M427.5 172h3.4M427.5 174h1.7M437.7 175h3.4M444.5 175h1.7M531.2 175h3.4M629.8 175h1.7M429.2 176h1.7M432.6 176h1.7M439.4 176h1.7M454.7 176h1.7M531.2 178h1.7M454.7 179h1.7M521 180h1.7M532.9 180h1.7M420.7 181h1.7M430.9 181h3.4M442.8 181h1.7M446.2 182h1.7M631.5 182h1.7M420.7 183h1.7M434.3 183h1.7M437.7 183h1.7M447.9 183h1.7M405.4 184h1.7M441.1 184h1.7M509.1 184h1.7M531.2 184h1.7M616.2 184h1.7M439.4 185h1.7M447.9 185h1.7M427.5 186h3.4M442.8 186h3.4M451.3 186h1.7M526.1 186h1.7M556.7 186h1.7M633.2 186h1.7M430.9 187h1.7M422.4 188h1.7M451.3 188h1.7M575.4 188h1.7M446.2 189h1.7M614.5 189h1.7M437.7 190h3.4M447.9 190h1.7M594.1 190h1.7M597.5 190h1.7M434.3 191h1.7M439.4 191h1.7M451.3 191h1.7M454.7 191h1.7M429.2 192h3.4M517.6 192h1.7M592.4 192h1.7M600.9 192h1.7M609.4 192h1.7M634.9 192h1.7M436 193.1h1.7M442.8 193.1h3.4M447.9 193.1h1.7M454.7 193.1h1.7M575.4 193.1h1.7M616.2 193.1h1.7M597.5 194.1h1.7M442.8 197.1h1.7M532.9 198.1h1.7M405.4 200.1h1.7M500.6 201.1h1.7M488.7 203.1h1.7M521 203.1h1.7M500.6 204.1h1.7M619.6 204.1h1.7M458.1 205.1h1.7M470 205.1h1.7M495.5 205.1h3.4M510.8 205.1h3.4M521 205.1h1.7M600.9 205.1h1.7M611.1 205.1h1.7M490.4 206.1h3.4M517.6 206.1h1.7M498.9 207.1h3.4M471.7 208.1h1.7M480.2 208.1h1.7M512.5 208.1h1.7M517.6 208.1h1.7M521 208.1h3.4M623 208.1h1.7M483.6 209.1h1.7M488.7 209.1h1.7M510.8 209.1h3.4M527.8 209.1h1.7M600.9 209.1h1.7M459.8 210.1h1.7M464.9 210.1h1.7M478.5 210.1h1.7M481.9 210.1h1.7M492.1 210.1h1.7M517.6 210.1h1.7M521 210.1h1.7M543.1 210.1h1.7M470 211.1h1.7M487 211.1h1.7M487 212.1h1.7M500.6 212.1h1.7M492.1 213.1h1.7M505.7 213.1h1.7M592.4 213.1h1.7M621.3 213.1h1.7M483.6 214.1h1.7M505.7 214.1h1.7M510.8 214.1h1.7M519.3 214.1h1.7M604.3 215.2h1.7M490.4 216.2h1.7M510.8 216.2h3.4M519.3 216.2h1.7M539.7 216.2h1.7M570.3 216.2h1.7M628.1 216.2h1.7M478.5 217.2h1.7M490.4 217.2h1.7M500.6 217.2h1.7M510.8 217.2h1.7M599.2 217.2h1.7M478.5 218.2h1.7M512.5 218.2h1.7M515.9 218.2h1.7M521 218.2h1.7M539.7 218.2h1.7M575.4 218.2h1.7M609.4 218.2h3.4M621.3 218.2h3.4M628.1 218.2h1.7M631.5 218.2h1.7M500.6 219.2h1.7M476.8 220.2h1.7M490.4 220.2h1.7M498.9 220.2h1.7M502.3 220.2h1.7M515.9 220.2h1.7M527.8 220.2h1.7M558.4 220.2h1.7M570.3 220.2h1.7M626.4 220.2h1.7M529.5 221.2h1.7M558.4 221.2h1.7M614.5 221.2h1.7M594.1 222.2h1.7M599.2 222.2h1.7M611.1 222.2h1.7M492.1 223.2h1.7M505.7 223.2h1.7M527.8 223.2h1.7M487 224.2h1.7M561.8 224.2h1.7M573.7 224.2h1.7M592.4 224.2h1.7M600.9 224.2h1.7M609.4 224.2h1.7M500.6 225.2h1.7M507.4 225.2h1.7M514.2 225.2h1.7M534.6 225.2h1.7M585.6 225.2h1.7M600.9 225.2h1.7M609.4 225.2h3.4M621.3 225.2h3.4M626.4 225.2h1.7M597.5 226.2h1.7M529.5 227.2h1.7M597.5 227.2h1.7M624.7 227.2h1.7M592.4 228.2h3.4M621.3 228.2h3.4M626.4 228.2h1.7M612.8 229.2h1.7M628.1 229.2h1.7M631.5 229.2h1.7M594.1 230.2h1.7M604.3 230.2h1.7M612.8 230.2h1.7M487 231.2h1.7M572 231.2h1.7M597.5 231.2h1.7M617.9 231.2h1.7M594.1 232.2h1.7M611.1 232.2h1.7M631.5 232.2h1.7M464.9 233.2h3.4M515.9 233.2h1.7M536.3 233.2h1.7M594.1 233.2h1.7M602.6 233.2h3.4M612.8 233.2h1.7M617.9 233.2h1.7M631.5 233.2h1.7M495.5 234.2h1.7M498.9 234.2h1.7M527.8 234.2h1.7M558.4 234.2h1.7M595.8 234.2h1.7M607.7 234.2h1.7M633.2 234.2h1.7M483.6 235.2h1.7M616.2 235.2h1.7M623 235.2h1.7M626.4 235.2h3.4M459.8 237.2h1.7M463.2 237.2h3.4M481.9 237.2h1.7M505.7 237.2h1.7M514.2 237.2h3.4M531.2 237.2h1.7M597.5 237.2h1.7M619.6 237.2h1.7M633.2 237.2h1.7M483.6 238.3h1.7M517.6 239.3h1.7M609.4 239.3h1.7M616.2 239.3h1.7M458.1 240.3h1.7M466.6 240.3h1.7M478.5 240.3h1.7M485.3 240.3h1.7M495.5 240.3h1.7M502.3 240.3h3.4M515.9 240.3h1.7M609.4 240.3h1.7M621.3 240.3h1.7M458.1 241.3h1.7M471.7 241.3h1.7M480.2 241.3h1.7M492.1 241.3h1.7M514.2 241.3h3.4M534.6 241.3h1.7M543.1 241.3h1.7M594.1 241.3h1.7M600.9 241.3h1.7M616.2 241.3h3.4M621.3 241.3h1.7M463.2 242.3h1.7M481.9 242.3h1.7M492.1 242.3h1.7M498.9 242.3h1.7M510.8 242.3h1.7M536.3 242.3h1.7M594.1 242.3h1.7M626.4 242.3h3.4M505.7 243.3h1.7M558.4 243.3h1.7M509.1 244.3h1.7M538 244.3h1.7M594.1 244.3h1.7M600.9 244.3h1.7M606 244.3h1.7M611.1 244.3h3.4M633.2 244.3h1.7M458.1 245.3h1.7M517.6 245.3h1.7M606 245.3h1.7M623 245.3h1.7M490.4 246.3h3.4M498.9 246.3h1.7M521 246.3h1.7M536.3 246.3h1.7M570.3 246.3h1.7M607.7 246.3h1.7M619.6 246.3h1.7M502.3 247.3h1.7M534.6 247.3h1.7M604.3 247.3h1.7M471.7 248.3h1.7M480.2 248.3h1.7M493.8 248.3h3.4M517.6 248.3h1.7M541.4 248.3h1.7M592.4 248.3h1.7M617.9 248.3h1.7M623 248.3h1.7"/>
<path stroke="#a02c33" d="M521 136.8h3.4M534.6 138.8h1.7M597.5 138.8h1.7M621.3 138.8h1.7M532.9 139.8h1.7M600.9 139.8h1.7M609.4 139.8h1.7M631.5 139.8h1.7M526.1 140.8h1.7M532.9 140.8h1.7M592.4 140.8h1.7M454.7 141.8h1.7M600.9 141.8h1.7M621.3 141.8h1.7M449.6 142.8h1.7M453 142.8h1.7M505.7 142.8h1.7M519.3 142.8h3.4M527.8 143.8h1.7M524.4 144.8h1.7M531.2 144.8h1.7M500.6 145.8h1.7M526.1 145.8h3.4M609.4 147.9h1.7M430.9 148.9h1.7M437.7 148.9h1.7M621.3 148.9h1.7M436 149.9h1.7M451.3 149.9h1.7M515.9 149.9h1.7M527.8 149.9h1.7M539.7 149.9h1.7M432.6 150.9h1.7M436 150.9h1.7M453 150.9h1.7M568.6 150.9h1.7M594.1 152.9h1.7M623 152.9h1.7M429.2 154.9h1.7M527.8 154.9h1.7M594.1 154.9h1.7M521 155.9h1.7M527.8 155.9h1.7M534.6 155.9h1.7M495.5 156.9h1.7M532.9 156.9h1.7M419 157.9h1.7M453 157.9h1.7M532.9 157.9h1.7M447.9 158.9h1.7M512.5 159.9h1.7M614.5 159.9h1.7M454.7 160.9h1.7M524.4 160.9h1.7M532.9 160.9h1.7M436 161.9h1.7M439.4 161.9h1.7M442.8 161.9h1.7M441.1 162.9h1.7M413.9 163.9h1.7M429.2 163.9h1.7M447.9 163.9h1.7M521 163.9h1.7M611.1 163.9h1.7M437.7 165.9h1.7M434.3 166.9h1.7M437.7 166.9h1.7M449.6 166.9h1.7M436 167.9h1.7M532.9 167.9h1.7M412.2 168.9h1.7M410.5 169.9h1.7M434.3 169.9h1.7M444.5 169.9h1.7M454.7 169.9h1.7M521 169.9h1.7M412.2 171h1.7M432.6 171h1.7M532.9 171h1.7M454.7 172h1.7M434.3 173h1.7M420.7 174h1.7M449.6 174h1.7M532.9 174h1.7M432.6 175h1.7M441.1 175h1.7M446.2 175h1.7M451.3 175h1.7M441.1 178h1.7M444.5 178h1.7M419 180h1.7M430.9 180h1.7M413.9 181h1.7M447.9 181h1.7M532.9 181h1.7M624.7 181h1.7M430.9 183h1.7M395.2 185h1.7M436 185h1.7M451.3 185h1.7M436 186h1.7M449.6 188h1.7M600.9 188h1.7M626.4 188h1.7M405.4 189h1.7M432.6 189h1.7M453 189h1.7M456.4 189h1.7M621.3 189h1.7M413.9 190h1.7M419 190h1.7M432.6 190h1.7M449.6 190h1.7M476.8 190h1.7M531.2 190h1.7M634.9 190h1.7M527.8 192h1.7M420.7 193.1h1.7M430.9 193.1h1.7M521 193.1h3.4M624.7 193.1h1.7M412.2 194.1h1.7M415.6 194.1h1.7M454.7 194.1h1.7M492.1 197.1h1.7M621.3 197.1h1.7M505.7 201.1h1.7M497.2 203.1h1.7M510.8 203.1h1.7M495.5 204.1h1.7M514.2 204.1h1.7M487 207.1h3.4M505.7 207.1h1.7M510.8 207.1h1.7M541.4 208.1h1.7M492.1 209.1h1.7M495.5 209.1h1.7M498.9 210.1h1.7M507.4 210.1h1.7M510.8 210.1h1.7M527.8 210.1h1.7M514.2 211.1h1.7M464.9 213.1h1.7M495.5 213.1h1.7M504 213.1h1.7M515.9 213.1h1.7M495.5 214.1h1.7M490.4 215.2h1.7M471.7 216.2h1.7M509.1 216.2h1.7M524.4 216.2h1.7M476.8 217.2h1.7M505.7 217.2h1.7M532.9 217.2h1.7M539.7 217.2h1.7M475.1 218.2h1.7M490.4 218.2h1.7M497.2 218.2h1.7M522.7 218.2h1.7M534.6 218.2h1.7M604.3 218.2h1.7M475.1 220.2h1.7M481.9 220.2h1.7M488.7 220.2h1.7M504 220.2h1.7M539.7 220.2h1.7M624.7 220.2h1.7M487 221.2h1.7M498.9 221.2h1.7M560.1 221.2h1.7M604.3 221.2h1.7M621.3 221.2h1.7M498.9 222.2h1.7M504 222.2h1.7M515.9 222.2h1.7M519.3 222.2h1.7M490.4 223.2h1.7M604.3 224.2h1.7M621.3 224.2h1.7M415.6 225.2h1.7M471.7 225.2h1.7M495.5 227.2h1.7M634.9 227.2h1.7M521 228.2h1.7M628.1 228.2h1.7M604.3 229.2h1.7M607.7 229.2h1.7M623 229.2h1.7M633.2 229.2h3.4M595.8 231.2h1.7M611.1 231.2h1.7M623 231.2h1.7M628.1 231.2h1.7M609.4 232.2h1.7M634.9 232.2h1.7M481.9 234.2h1.7M612.8 234.2h1.7M617.9 234.2h1.7M623 234.2h1.7M492.1 235.2h1.7M521 235.2h1.7M510.8 236.2h1.7M600.9 236.2h1.7M532.9 237.2h1.7M543.1 237.2h1.7M594.1 237.2h1.7M600.9 237.2h1.7M612.8 237.2h1.7M463.2 238.3h1.7M470 238.3h1.7M478.5 238.3h1.7M594.1 239.3h1.7M498.9 240.3h1.7M509.1 240.3h1.7M531.2 240.3h1.7M541.4 240.3h1.7M616.2 240.3h1.7M619.6 240.3h1.7M631.5 240.3h1.7M464.9 241.3h1.7M512.5 241.3h1.7M590.7 241.3h1.7M628.1 241.3h1.7M464.9 242.3h3.4M475.1 242.3h5.1M532.9 242.3h1.7M539.7 242.3h1.7M599.2 242.3h1.7M468.3 244.3h1.7M493.8 244.3h1.7M515.9 244.3h1.7M590.7 244.3h1.7M604.3 244.3h1.7M621.3 244.3h1.7M626.4 244.3h1.7M631.5 244.3h1.7M480.2 245.3h1.7M507.4 245.3h1.7M521 245.3h1.7M600.9 245.3h1.7M464.9 246.3h1.7M481.9 246.3h1.7M595.8 246.3h1.7M631.5 246.3h1.7M634.9 246.3h1.7M464.9 247.3h1.7M481.9 247.3h1.7M490.4 247.3h1.7M505.7 247.3h1.7M617.9 247.3h1.7M634.9 247.3h1.7M464.9 248.3h1.7M524.4 248.3h1.7M631.5 248.3h1.7"/>
<path stroke="#861d28" d="M521 137.8h1.7M529.5 137.8h5.1M524.4 138.8h1.7M522.7 139.8h1.7M529.5 139.8h3.4M592.4 139.8h1.7M519.3 140.8h1.7M527.8 140.8h1.7M534.6 140.8h1.7M524.4 141.8h1.7M527.8 141.8h6.8M594.1 141.8h1.7M454.7 142.8h1.7M522.7 142.8h1.7M526.1 142.8h3.4M532.9 142.8h1.7M594.1 142.8h1.7M612.8 142.8h3.4M532.9 143.8h1.7M609.4 143.8h1.7M521 144.8h1.7M526.1 144.8h1.7M532.9 144.8h1.7M524.4 145.8h1.7M532.9 145.8h1.7M521 146.8h3.4M531.2 146.8h3.4M522.7 147.9h3.4M531.2 147.9h3.4M536.3 147.9h1.7M449.6 148.9h1.7M529.5 148.9h1.7M532.9 148.9h1.7M442.8 149.9h3.4M521 149.9h1.7M524.4 149.9h3.4M531.2 149.9h5.1M429.2 150.9h3.4M439.4 150.9h1.7M454.7 150.9h1.7M527.8 150.9h1.7M531.2 150.9h3.4M446.2 151.9h3.4M521 151.9h1.7M526.1 151.9h3.4M531.2 151.9h1.7M432.6 152.9h1.7M454.7 152.9h1.7M532.9 152.9h1.7M521 153.9h1.7M427.5 154.9h1.7M430.9 154.9h1.7M453 154.9h3.4M521 154.9h1.7M524.4 154.9h3.4M529.5 154.9h1.7M532.9 154.9h1.7M436 155.9h1.7M453 155.9h3.4M430.9 156.9h1.7M451.3 156.9h1.7M505.7 156.9h1.7M524.4 156.9h1.7M529.5 156.9h3.4M534.6 156.9h1.7M442.8 157.9h1.7M454.7 157.9h1.7M524.4 157.9h1.7M529.5 157.9h1.7M539.7 157.9h1.7M614.5 157.9h1.7M412.2 158.9h1.7M430.9 158.9h3.4M451.3 158.9h1.7M454.7 158.9h1.7M521 158.9h1.7M527.8 158.9h1.7M592.4 158.9h1.7M522.7 159.9h1.7M420.7 161.9h1.7M453 161.9h3.4M531.2 161.9h1.7M449.6 162.9h1.7M430.9 163.9h1.7M436 163.9h3.4M442.8 163.9h1.7M451.3 163.9h3.4M522.7 163.9h1.7M531.2 163.9h1.7M436 164.9h1.7M430.9 165.9h1.7M451.3 165.9h1.7M527.8 165.9h1.7M430.9 166.9h1.7M415.6 167.9h1.7M429.2 167.9h1.7M434.3 167.9h1.7M446.2 167.9h1.7M446.2 168.9h1.7M454.7 168.9h1.7M420.7 169.9h1.7M429.2 169.9h5.1M436 169.9h1.7M441.1 169.9h3.4M447.9 169.9h1.7M453 169.9h1.7M453 171h1.7M424.1 172h1.7M430.9 172h1.7M434.3 172h1.7M439.4 172h1.7M442.8 172h1.7M447.9 172h3.4M419 174h1.7M451.3 174h1.7M454.7 174h1.7M430.9 177h1.7M532.9 177h1.7M425.8 178h1.7M432.6 178h1.7M436 178h1.7M446.2 178h1.7M453 178h3.4M425.8 180h1.7M454.7 180h1.7M425.8 181h5.1M439.4 181h3.4M424.1 183h1.7M442.8 183h1.7M522.7 183h1.7M434.3 184h1.7M454.7 184h1.7M425.8 186h1.7M430.9 186h1.7M446.2 186h3.4M439.4 188h1.7M454.7 189h1.7M600.9 189h1.7M425.8 190h1.7M434.3 190h3.4M441.1 190h3.4M446.2 190h1.7M611.1 190h1.7M616.2 190h1.7M432.6 192h1.7M446.2 192h1.7M430.9 195.1h1.7M454.7 197.1h1.7M500.6 203.1h1.7M505.7 203.1h1.7M512.5 203.1h1.7M502.3 204.1h1.7M519.3 204.1h1.7M487 205.1h1.7M490.4 205.1h1.7M498.9 205.1h3.4M504 205.1h1.7M515.9 205.1h1.7M532.9 205.1h1.7M497.2 206.1h1.7M500.6 206.1h1.7M505.7 206.1h1.7M532.9 206.1h1.7M490.4 207.1h1.7M495.5 207.1h1.7M504 207.1h1.7M481.9 208.1h1.7M487 208.1h1.7M495.5 208.1h1.7M500.6 208.1h1.7M505.7 208.1h1.7M510.8 208.1h1.7M515.9 208.1h1.7M466.6 209.1h1.7M490.4 209.1h1.7M500.6 209.1h3.4M570.3 209.1h1.7M504 210.1h1.7M505.7 212.1h1.7M487 213.1h1.7M504 214.1h1.7M492.1 215.2h1.7M505.7 215.2h1.7M464.9 216.2h1.7M470 216.2h1.7M480.2 216.2h3.4M487 216.2h3.4M492.1 216.2h1.7M495.5 216.2h1.7M498.9 216.2h6.8M527.8 216.2h1.7M492.1 217.2h1.7M480.2 218.2h1.7M492.1 218.2h3.4M498.9 218.2h1.7M502.3 218.2h1.7M505.7 218.2h1.7M509.1 218.2h1.7M514.2 218.2h1.7M519.3 218.2h1.7M538 218.2h1.7M575.4 219.2h1.7M487 220.2h1.7M497.2 220.2h1.7M505.7 220.2h1.7M512.5 220.2h3.4M614.5 220.2h1.7M495.5 221.2h1.7M505.7 221.2h1.7M621.3 222.2h1.7M510.8 223.2h1.7M510.8 225.2h3.4M597.5 225.2h1.7M612.8 225.2h1.7M616.2 225.2h1.7M629.8 225.2h1.7M634.9 225.2h1.7M505.7 226.2h1.7M609.4 226.2h1.7M555 228.2h1.7M614.5 228.2h1.7M592.4 229.2h1.7M600.9 229.2h1.7M616.2 229.2h1.7M621.3 229.2h1.7M592.4 231.2h3.4M599.2 231.2h3.4M607.7 231.2h3.4M616.2 231.2h1.7M619.6 231.2h3.4M634.9 231.2h1.7M597.5 232.2h1.7M480.2 233.2h1.7M599.2 233.2h3.4M609.4 233.2h3.4M616.2 233.2h1.7M621.3 233.2h8.5M531.2 234.2h1.7M592.4 234.2h1.7M609.4 234.2h1.7M616.2 234.2h1.7M621.3 234.2h1.7M517.6 235.2h1.7M634.9 236.2h1.7M493.8 237.2h5.1M500.6 237.2h1.7M510.8 237.2h1.7M614.5 237.2h1.7M459.8 240.3h1.7M519.3 240.3h1.7M597.5 240.3h1.7M483.6 241.3h3.4M500.6 241.3h1.7M517.6 241.3h1.7M531.2 241.3h3.4M609.4 241.3h3.4M633.2 241.3h1.7M480.2 242.3h1.7M487 242.3h1.7M514.2 242.3h1.7M517.6 242.3h1.7M531.2 242.3h1.7M597.5 242.3h1.7M495.5 243.3h1.7M527.8 243.3h1.7M464.9 244.3h3.4M470 244.3h1.7M480.2 244.3h3.4M485.3 244.3h1.7M492.1 244.3h1.7M500.6 244.3h1.7M505.7 244.3h1.7M510.8 244.3h5.1M527.8 244.3h1.7M531.2 244.3h3.4M539.7 244.3h1.7M607.7 244.3h3.4M623 244.3h1.7M466.6 245.3h1.7M490.4 245.3h1.7M500.6 245.3h1.7M522.7 245.3h1.7M532.9 245.3h1.7M609.4 245.3h1.7M466.6 246.3h1.7M475.1 246.3h1.7M505.7 246.3h3.4M517.6 246.3h1.7M532.9 246.3h1.7M541.4 246.3h1.7M600.9 246.3h1.7M616.2 246.3h1.7M621.3 246.3h1.7M626.4 246.3h1.7M466.6 247.3h1.7M480.2 247.3h1.7M483.6 247.3h1.7M495.5 247.3h1.7M504 247.3h1.7M532.9 247.3h1.7M599.2 247.3h1.7M609.4 247.3h3.4M619.6 247.3h1.7M458.1 248.3h1.7M498.9 248.3h1.7M600.9 248.3h1.7"/>
</g>
<path d="M383 162.2H374.7V220.4H381.4M386.2 149.8H383V174.4H385.4M385.4 206.9H381.4V233.8H384.6M388.5 142.7H386.2V156.9H388.5M388.5 167.3H385.4V182.3H388.5M388.5 199.8H385.4V214H388.5M388.5 225.1H384.6V242.6H388.5M389 137.9H387.3V147.4H389M389 152.2H387.3V161.7H389M389 177.6H386.9V187.1H389M389 193.4H386.9V204.5H389M389 209.3H386.9V218.8H389M389 221.9H386.6V229.1H389M389 237.8H386.6V246.5H389" fill="none" stroke="#555" stroke-width="0.6"/>
<polygon points="391.2,136.3 389.4,136.3 389.7,138.4 389.6,140.8 388.4,143.2 389.9,144.9 389.8,146.9 389.2,148.1 389.3,149.4 388.4,151.3 388.8,152.6 389.6,155 389.7,156.2 389.4,157.4 388.4,158.6 388.7,160.9 390,162.2 388.9,164.6 389.3,167 388.7,169 389.5,171.4 389.8,173.9 389,175.3 388.6,176.6 388.9,177.7 388.4,179.6 388.9,181.6 389.7,183.1 388.9,184.8 389.5,186.5 390,187.6 389.6,188.6 388.4,190.9 389,193.1 388.4,194.9 388.7,196 388.7,198.4 389.9,200.6 389,203 389.2,204.5 388.6,206.7 389.7,208.8 388.5,211.1 388.5,213.5 389.4,215 388.9,217.4 389.3,219.8 388.9,221.3 388.5,222.5 389.5,223.7 388.7,226.2 390,227.3 389,229.1 389.4,230.5 389.1,232.7 388.5,234.3 388.5,236.7 389.7,238.5 389.6,239.7 389.4,242.1 388.6,244.3 388.6,245.9 388.9,248.2 391.2,248.8" fill="#111"/>
<text x="642.8" y="53.4" font-size="12">Cluster</text>
<text x="642.8" y="70.7" font-size="12">HER2</text>
<text x="642.8" y="83.5" font-size="12">ER</text>
<text x="642.8" y="93.8" font-size="12">pCR</text>
<text x="642.8" y="108.8" font-size="12">TP53</text>
<text x="642.8" y="121.2" font-size="12">PIK3CA</text>
<text x="642.8" y="134" font-size="12">GATA3</text>
<path d="M636.8 51h3.4M636.8 66.3h3.4M636.8 78.8h3.4M636.8 91.5h3.4M636.8 104.3h3.4M636.8 116.3h3.4M636.8 128.6h3.4" stroke="#333" stroke-width="0.7"/>
<rect x="696.2" y="50.8" width="8.8" height="8.8" fill="#d9d9d9" stroke="#8a8a8a" stroke-width="0.6"/>
<text x="706.9" y="59.9" font-size="12">Negative</text>
<rect x="696.2" y="64.1" width="8.8" height="8.8" fill="#7f7f7f" stroke="#8a8a8a" stroke-width="0.6"/>
<text x="706.9" y="71.7" font-size="12">Positive</text>
<rect x="696.2" y="77.7" width="8.8" height="8.8" fill="#9fd0e3" stroke="#8a8a8a" stroke-width="0.6"/>
<text x="706.9" y="85.2" font-size="12">pCR</text>
<rect x="734.2" y="77.7" width="8.8" height="8.8" fill="#f0737a" stroke="#8a8a8a" stroke-width="0.6"/>
<text x="746.3" y="85.2" font-size="12">RD</text>
<rect x="696.2" y="98.6" width="8.8" height="8.8" fill="#fff" stroke="#8a8a8a" stroke-width="0.6"/>
<text x="709.3" y="106.7" font-size="12">NA</text>
<rect x="696.2" y="111.6" width="8.8" height="8.8" fill="#d9d9d9" stroke="#8a8a8a" stroke-width="0.6"/>
<text x="709.3" y="119.2" font-size="12">Wild type</text>
<rect x="696.2" y="123.9" width="8.8" height="8.8" fill="#7f7f7f" stroke="#8a8a8a" stroke-width="0.6"/>
<text x="709.3" y="131.2" font-size="12">Mutant</text>
<text x="779.4" y="62" font-size="12"><tspan font-style="italic">Z</tspan>-score</text>
<defs><linearGradient id="zg" x1="0" y1="0" x2="0" y2="1">
<stop offset="0.000" stop-color="#67001f"/>
<stop offset="0.150" stop-color="#b2182b"/>
<stop offset="0.300" stop-color="#d6604d"/>
<stop offset="0.450" stop-color="#f4a582"/>
<stop offset="0.524" stop-color="#fddbc7"/>
<stop offset="0.600" stop-color="#f7f7f7"/>
<stop offset="0.700" stop-color="#d1e5f0"/>
<stop offset="0.800" stop-color="#92c5de"/>
<stop offset="0.900" stop-color="#4393c3"/>
<stop offset="1.000" stop-color="#2166ac"/>
</linearGradient></defs>
<rect x="780.8" y="74.1" width="3.5" height="85.3" fill="url(#zg)"/>
<text x="791.4" y="77" font-size="12">1.5</text>
<text x="791.4" y="94.3" font-size="12">1.0</text>
<text x="791.4" y="111.6" font-size="12">0.5</text>
<text x="791.4" y="128.9" font-size="12">0.0</text>
<text x="791.4" y="146.2" font-size="12">&#8722;0.5</text>
<text x="791.4" y="163.5" font-size="12">&#8722;1.0</text>
<rect x="640.9" y="136.8" width="9.2" height="25.9" fill="#f6a28d"/>
<rect x="640.9" y="162.7" width="9.2" height="32.6" fill="#a7b6d9"/>
<rect x="640.9" y="195.3" width="9.2" height="27.1" fill="#e39bcb"/>
<rect x="640.9" y="222.4" width="9.2" height="10.3" fill="#a9d78c"/>
<rect x="640.9" y="232.7" width="9.2" height="15.7" fill="#f7d472"/>
<text x="655" y="152.8" font-size="12">RNA polymerase II</text>
<text x="655" y="180.4" font-size="12">E2F3 activity</text>
<text x="655" y="208.4" font-size="12">Signal transduction</text>
<text x="655" y="231.5" font-size="12">Lipid metabolic process</text>
<text x="655" y="248.4" font-size="12">ERBB2 &amp; ER signaling</text>
<text x="655" y="262.8" font-size="12">chr17q12</text>
<text transform="translate(370.2 190.5) rotate(-90)" font-size="12" text-anchor="middle">Gene cluster</text>
<text x="527.5" y="264.3" font-size="12" text-anchor="middle">Sample ID</text>
</g>
<g id="panelC">
<text x="45.6" y="288.6" font-size="16" font-weight="bold">C</text>
<clipPath id="c1"><rect x="83" y="316" width="222" height="196.39999999999998"/></clipPath>
<g clip-path="url(#c1)" fill="none" stroke-linecap="round">
<path d="M164 481.9h27.2M194.6 481.9h20.4M218.4 481.9h0M221.8 481.9h1.7M162.3 483.7h0M165.8 483.7h25.5M194.6 483.7h28.9M165.8 485.4h25.5M194.6 485.4h28.9M164 487.1h27.2M194.6 487.1h25.5M165.8 488.8h25.5M194.6 488.8h23.8M167.4 490.4h23.8M194.6 490.4h22.1M170.8 492.2h20.4M194.6 492.2h22.1M172.5 493.9h18.7M194.6 493.9h18.7M174.2 495.6h17M194.6 495.6h17M175.9 497.2h15.3M194.6 497.2h15.3M179.3 498.9h11.9M194.6 498.9h13.6M181 500.7h10.2M194.6 500.7h10.2M184.4 502.4h6.8M194.6 502.4h6.8" stroke="#7d7d80" stroke-width="2.5"/>
<path d="M110.5 481.6h0m47.8 2.8h0m2.3-2.5h0m2.3 .7h0m.8 1.5h0m1.1 1h0m5 6.2h0m1.7 2.3h0m5.5 4.5h0m2.8 2.9h0m3.5 .8h0m8.9-.2h0m11.2 0h0m13.4-8.3h0m.8-2.5h0m2-1.2h0m3-2.8h0m5.1 0h0m13.9-5.9h0m13.9 5.9h0m12.1-2.4h0" stroke="#7d7d80" stroke-width="2.6"/>
<path d="M184.4 442.9h0M172.5 449.7h1.7M174.2 451.4h0M175.9 453.1h0M179.3 453.1h0M186.1 453.1h1.7M162.3 454.8h0M177.6 454.8h0M186.1 454.8h1.7M174.2 456.4h0M184.4 456.4h0M174.2 458.2h0M179.3 458.2h3.4M186.1 458.2h0M169.1 459.9h0M172.5 459.9h0M175.9 459.9h3.4M182.8 459.9h0M186.1 459.9h3.4M167.4 461.6h0M177.6 461.6h1.7M182.8 461.6h6.8M158.9 463.2h0M172.5 463.2h10.2M187.8 463.2h1.7M165.8 464.9h0M172.5 464.9h1.7M179.3 464.9h10.2M169.1 466.7h20.4M155.5 468.4h0M175.9 468.4h13.6M155.5 470.1h0M164 470.1h0M167.4 470.1h3.4M174.2 470.1h0M177.6 470.1h11.9M165.8 471.8h0M170.8 471.8h8.5M182.8 471.8h5.1M157.2 473.4h0M162.3 473.4h0M165.8 473.4h0M169.1 473.4h20.4M162.3 475.2h27.2M158.9 476.9h0M162.3 476.9h0M165.8 476.9h0M169.1 476.9h22.1M157.2 478.6h0M160.6 478.6h0M164 478.6h0M167.4 478.6h23.8M164 480.2h27.2M165.8 481.9h0M170.8 481.9h18.7" stroke="#6fa5cd" stroke-width="2.5"/>
<path d="M93.5 326.5h0m4.1 47.6h0m10.1 20.8h0m17-42.3h0m.3 40.5h0m5.6 77.4h0m2.1-10.4h0m1.4-67h0m2.7 4.5h0m1.8-15.6h0m.1 67h0m1.3-47.9h0m2.7 11.8h0m0 23.6h0m2.4 26.1h0m1-.9h0m.1-33.9h0m.2 30.8h0m.8-42.9h0m.4 49.3h0m.3-23.3h0m1.2 9.2h0m.6-27.2h0m1.4-72.2h0m.3 117.9h0m.6-3.2h0m.1-74.8h0m0 65.9h0m.1 1.9h0m1.1 15.6h0m.9-8.8h0m.2-2.7h0m.1-1.7h0m.4-18.2h0m.5 28.4h0m.6 1h0m.5 4.5h0m.1-46h0m.4 14.2h0m.7 16.4h0m.2-10.7h0m.2 28.5h0m.3-1.3h0m.2-2.9h0m.1-9.8h0m.3 4h0m0-19.3h0m.3 21.7h0m.7-1.3h0m.4 4.1h0m.2-19h0m.2 20.8h0m.3-11.8h0m.3-6h0m.4 13.2h0m.4-8h0m.3 5.6h0m.3 10.2h0m.1-32.5h0m.2 31.7h0m.2-6h0m.5-6.3h0m0 4.2h0m.5-2.5h0m0-6.6h0m.3-3.4h0m0 4h0m.8-.1h0m.1-7.9h0m.2 16.1h0m.2-2.9h0m.2-15.7h0m.1 26.1h0m.6 3.4h0m0-9.7h0m.2-53.3h0m.4 44.5h0m.3 11.1h0m.1-15.7h0m.1 17.6h0m0-11.9h0m.6 3.6h0m.1 3.5h0m.3-46.8h0m.5 1.7h0m.7 34.5h0m0-13.5h0m.6 21.6h0m.2-6.2h0m.4-15.6h0m.3 3.6h0m.3 2.2h0m.6 8.2h0m.3-18.2h0m.1 25.3h0m0 2.3h0m.3-34.7h0m.3 13h0m.1 6.3h0m.1-12h0m.1 19.4h0m1.1 5.7h0m.2-10.6h0m.9 11.9h0m.4-4.3h0m.1-8.1h0m.1-16h0m.1 21.5h0m.7-4h0m.3-5.5h0m.2-23h0m.2 17.2h0m.2 17.4h0m.1-40.8h0m1.2 31.7h0m.7-18.1h0m.5 24.4h0m0 10.8h0m.1-21.4h0m.1 8.8h0m0-16.1h0m1-2.3h0m1.2 7.7h0m.3 3.7h0m0-7.2h0m.9 6h0m.2 6.6h0m.4-13.6h0m.1-4.3h0m0 19h0m.6-2.6h0m.3-6h0m.6-10.9h0m.5 11.3h0m.3-1.4h0m.2 9.1h0m.2-24h0m1.1 22.1h0m.1-1.8h0m.2-3h0m1.4 22.1h0m.3 7h0" stroke="#6fa5cd" stroke-width="2.6"/>
<path d="M215 434.4h0M201.4 449.7h0M199.8 451.4h0M198 453.1h1.7M203.1 453.1h0M209.9 453.1h0M196.3 454.8h0M201.4 454.8h0M208.2 454.8h0M198 456.4h5.1M221.8 456.4h0M196.3 458.2h1.7M203.1 458.2h1.7M196.3 459.9h1.7M206.5 459.9h0M213.3 459.9h0M218.4 459.9h0M221.8 459.9h0M196.3 461.6h3.4M203.1 461.6h1.7M209.9 461.6h0M218.4 461.6h0M196.3 463.2h8.5M215 463.2h0M196.3 464.9h3.4M204.8 464.9h1.7M213.3 464.9h0M223.5 464.9h0M196.3 466.7h6.8M206.5 466.7h1.7M213.3 466.7h0M223.5 466.7h0M196.3 468.4h6.8M206.5 468.4h5.1M196.3 470.1h17M221.8 470.1h0M196.3 471.8h15.3M215 471.8h1.7M221.8 471.8h0M225.2 471.8h0M196.3 473.4h17M216.8 473.4h0M220.1 473.4h0M196.3 475.2h18.7M218.4 475.2h3.4M196.3 476.9h18.7M220.1 476.9h0M223.5 476.9h0M196.3 478.6h18.7M220.1 478.6h3.4M194.6 480.2h27.2M196.3 481.9h17M223.5 481.9h0" stroke="#ef7470" stroke-width="2.5"/>
<path d="M195 481.3h0m.4-4.3h0m.1-1.2h0m1.3-19.7h0m1.2-21.9h0m1.6 12.3h0m.3 12.9h0m.3-10.5h0m.5 4.6h0m.1 8.7h0m.5 2.5h0m.7-17.5h0m.1 11.1h0m.2 1h0m.3 6.2h0m.2-15.1h0m.7-6.5h0m.2-7.4h0m.1 22.8h0m.7 9.1h0m.3-12.7h0m.7-2.5h0m.2-21.1h0m0 22.5h0m.4 6.3h0m.1 2.8h0m.5-27.3h0m.7 27.9h0m.1-2.1h0m.1-9.1h0m.1 10.8h0m.5-5.6h0m.9-26.7h0m0 33.8h0m.3-4.8h0m.2-10.8h0m.1 5.9h0m.9-9.7h0m0 16.6h0m.4 2.7h0m.4-7.6h0m1.5-5.1h0m.1 6.3h0m.1-10.5h0m.7-11h0m.6 30.9h0m.7-7.8h0m.4 13.6h0m.2-9.9h0m.3 17.2h0m.2-20.9h0m.1 14.3h0m.4-19.1h0m.2 15h0m.3 6.9h0m0 1.3h0m0-20.1h0m.1-39.6h0m.1 33.7h0m.3-.5h0m0 1.9h0m.5 27.2h0m.1-16.1h0m1.1-11.2h0m.4 10.7h0m.3-28.4h0m.2 30.8h0m.1-4.2h0m.2 18.2h0m.2-8.9h0m.4-6.8h0m.1-14h0m.4 17.2h0m.2 12.4h0m.4-25.7h0m.7 12.5h0m.2 7.5h0m.3-3.7h0m.2-21.1h0m.2 22.8h0m.3-10.3h0m0-56.2h0m0 17.4h0m.3 35.5h0m.4 1.9h0m0 16.9h0m.6-5.7h0m.2-17.9h0m0 25.1h0m.5-12.8h0m.8 10.3h0m.2-2.9h0m1.4-6.7h0m.1 2.3h0m.2 3.1h0m.1-33.9h0m0 39.4h0m.1-6.5h0m.3-27.3h0m.4 28.9h0m.1 2.5h0m.2-92.1h0m1.5 87h0m.1 1.8h0m.5-46.5h0m1.6 39.2h0m.2-51.7h0m1 43.3h0m6.2-64.5h0m1.1 67h0m1-38.9h0m4.5 14.6h0m2.5-77.4h0m5.2 92h0m14.2-84.7h0" stroke="#ef7470" stroke-width="2.6"/>
</g>
<path d="M82 318.6V512.9H303.3M82 358.8h-2.6M82 406.7h-2.6M82 454.4h-2.6M82 502.2h-2.6M135.8 512.9v2.6M193 512.9v2.6M250.3 512.9v2.6" fill="none" stroke="#222" stroke-width="0.9"/>
<text x="135.8" y="527.6" font-size="12" text-anchor="middle">&#8722;4</text>
<text x="193" y="527.6" font-size="12" text-anchor="middle">0</text>
<text x="250.3" y="527.6" font-size="12" text-anchor="middle">4</text>
<text x="76.5" y="362.9" font-size="12" text-anchor="end">9</text>
<text x="76.5" y="410.8" font-size="12" text-anchor="end">6</text>
<text x="76.5" y="458.5" font-size="12" text-anchor="end">3</text>
<text x="76.5" y="506.3" font-size="12" text-anchor="end">0</text>
<text x="181.6" y="290.2" font-size="12" text-anchor="middle">ER<tspan font-size="7" dy="-3.6">&#8722;</tspan><tspan dy="3.6">HER2</tspan><tspan font-size="7" dy="-3.6">&#8722;</tspan></text>
<path d="M195.8 303.6H89.5V299.1L77.9 305.5L89.5 311.9V307.3H195.8z" fill="#6fa5cd"/>
<text x="206.9" y="308.9" font-size="12" fill="#6fa5cd">Up-regulated in RD</text>
<text transform="translate(56.6 419.8) rotate(-90)" font-size="12" text-anchor="middle">&#8211;Log<tspan font-size="7" dy="2.2">10</tspan><tspan dy="-2.2"> (</tspan><tspan font-style="italic">P</tspan> value)</text>
<text x="196.5" y="546.3" font-size="12" text-anchor="middle">Log<tspan font-size="7" dy="2.2">2</tspan><tspan dy="-2.2"> FC</tspan></text>
<circle cx="134.1" cy="434.8" r="4.4" fill="#7aaed3" stroke="#1a1a1a" stroke-width="0.9"/>
<text x="126.4" y="437.9" font-size="12.2" text-anchor="end">KLK3</text>
<circle cx="164.6" cy="436.1" r="2.4" fill="#7aaed3" stroke="#1a1a1a" stroke-width="0.9"/>
<circle cx="161.1" cy="473.6" r="2.4" fill="#7aaed3" stroke="#1a1a1a" stroke-width="0.9"/>
<circle cx="181.6" cy="454.9" r="2.4" fill="#7aaed3" stroke="#1a1a1a" stroke-width="0.9"/>
<circle cx="185.7" cy="456.6" r="2.4" fill="#7aaed3" stroke="#1a1a1a" stroke-width="0.9"/>
<circle cx="183.7" cy="479.2" r="2.4" fill="#7aaed3" stroke="#1a1a1a" stroke-width="0.9"/>
<circle cx="186.1" cy="477.1" r="2.4" fill="#7aaed3" stroke="#1a1a1a" stroke-width="0.9"/>
<circle cx="179.2" cy="489.2" r="2.4" fill="#8a8a8a" stroke="#1a1a1a" stroke-width="0.9"/>
<circle cx="202.4" cy="432.7" r="2.2" fill="#f0807a" stroke="#1a1a1a" stroke-width="0.9"/>
<circle cx="200" cy="452.8" r="2.2" fill="#f0807a" stroke="#1a1a1a" stroke-width="0.9"/>
<circle cx="202.4" cy="451.8" r="2.2" fill="#f0807a" stroke="#1a1a1a" stroke-width="0.9"/>
<circle cx="202.4" cy="461.8" r="2.2" fill="#f0807a" stroke="#1a1a1a" stroke-width="0.9"/>
<circle cx="198.2" cy="466" r="2.2" fill="#f0807a" stroke="#1a1a1a" stroke-width="0.9"/>
<circle cx="200" cy="469.4" r="2.2" fill="#f0807a" stroke="#1a1a1a" stroke-width="0.9"/>
<circle cx="203.4" cy="471.2" r="2.2" fill="#f0807a" stroke="#1a1a1a" stroke-width="0.9"/>
<circle cx="197.5" cy="474.6" r="2.2" fill="#f0807a" stroke="#1a1a1a" stroke-width="0.9"/>
<circle cx="201.7" cy="476.4" r="2.2" fill="#f0807a" stroke="#1a1a1a" stroke-width="0.9"/>
<circle cx="196.5" cy="479.2" r="2.2" fill="#f0807a" stroke="#1a1a1a" stroke-width="0.9"/>
<circle cx="216.6" cy="474" r="2.2" fill="#f0807a" stroke="#1a1a1a" stroke-width="0.9"/>
<circle cx="203.4" cy="475.3" r="2.2" fill="#f0807a" stroke="#1a1a1a" stroke-width="0.9"/>
<circle cx="202.4" cy="482.3" r="2.2" fill="#8a8a8a" stroke="#1a1a1a" stroke-width="0.9"/>
<path d="M160.1 426.1L164.6 434.8" stroke="#111" stroke-width="0.85" fill="none"/>
<text x="146.2" y="423" font-size="12.2">AR</text>
<path d="M208.6 426.8L203.4 431.6" stroke="#111" stroke-width="0.85" fill="none"/>
<text x="202.4" y="424.7" font-size="12.2">ING1</text>
<path d="M210.4 464.2L203.4 475.3" stroke="#111" stroke-width="0.85" fill="none"/>
<text x="210.4" y="465.3" font-size="12.2">CDK1</text>
<path d="M220.8 474.6L245.7 472.2" stroke="#111" stroke-width="0.85" fill="none"/>
<text x="247.8" y="476" font-size="12.2">FDCSP</text>
<path d="M239.9 489.2L200 477.1" stroke="#111" stroke-width="0.85" fill="none"/>
<text x="242.3" y="493" font-size="12.2">MKI67</text>
<path d="M208.6 495.5L202.4 482.3" stroke="#111" stroke-width="0.85" fill="none"/>
<text x="188.5" y="505.2" font-size="12.2">CCNE1</text>
<path d="M172.2 497.2L178.1 491" stroke="#111" stroke-width="0.85" fill="none"/>
<text x="123" y="505.2" font-size="12.2">SERHL2</text>
<path d="M153.1 479.2L182.6 479.2" stroke="#111" stroke-width="0.85" fill="none"/>
<text x="112.2" y="482.6" font-size="12.2">NR3C2</text>
<clipPath id="c2"><rect x="339" y="316" width="222" height="196.39999999999998"/></clipPath>
<g clip-path="url(#c2)" fill="none" stroke-linecap="round">
<path d="M395.2 481.9h0M407.2 481.9h3.4M413.9 481.9h5.1M422.4 481.9h23.8M451.4 481.9h32.3M487.1 481.9h0M403.8 483.7h0M408.9 483.7h37.4M451.4 483.7h30.6M487.1 483.7h1.7M492.2 483.7h0M405.4 485.4h40.8M451.4 485.4h39.1M493.9 485.4h1.7M403.8 487.1h42.5M451.4 487.1h37.4M492.2 487.1h0M403.8 488.8h0M410.6 488.8h35.7M451.4 488.8h37.4M492.2 488.8h0M408.9 490.4h39.1M451.4 490.4h35.7M410.6 492.2h37.4M451.4 492.2h32.3M413.9 493.9h34M451.4 493.9h30.6M417.4 495.6h30.6M451.4 495.6h28.9M420.8 497.2h27.2M451.4 497.2h27.2M424.2 498.9h47.6M475.2 498.9h0M429.2 500.7h40.8M434.4 502.4h27.2" stroke="#7d7d80" stroke-width="2.5"/>
<path d="M386.8 482.9h0m9.7-.5h0m1.3 2.5h0m1.1-1.7h0m.5 8.6h0m1-8.4h0m.6 1.2h0m3.4-2.6h0m.1 3.6h0m1-3.8h0m.5 6.2h0m.1-3.7h0m.3 .2h0m.3 3.7h0m1.1 2.7h0m1.4 .6h0m.5-2h0m3.3-7.6h0m6.2 14.7h0m3.9 1.6h0m2.8 1.6h0m1.5 .1h0m19.8-11.4h0m3.3 5.8h0m22.2 4.1h0m8.6-3.2h0m1.5-1.2h0m1.5 .8h0m0 1.2h0m1.4-13.9h0m.9 9.5h0m3.2-4.6h0m.5-3.6h0m.5-1.1h0m.4 1.7h0m.1-2.4h0m.9 4.2h0m1.9-3.7h0m.1 2h0m1-1h0m1.5 3.5h0m.7-3h0m.1 1.3h0m.5 7.6h0m.4-10.6h0m.4 3.4h0m2.9-3.4h0m4.9 7.2h0m5.1-2.7h0m12-3.5h0" stroke="#7d7d80" stroke-width="2.6"/>
<path d="M437.8 439.4h0M444.6 447.9h0M427.6 449.7h0M434.4 449.7h3.4M430.9 451.4h0M425.9 453.1h1.7M434.4 453.1h1.7M439.4 453.1h0M412.2 454.8h0M430.9 454.8h1.7M437.8 454.8h0M442.9 454.8h0M424.2 456.4h0M427.6 456.4h0M432.7 456.4h5.1M441.2 456.4h3.4M425.9 458.2h0M432.7 458.2h0M436.1 458.2h0M439.4 458.2h0M442.9 458.2h0M419.1 459.9h1.7M424.2 459.9h0M434.4 459.9h10.2M415.7 461.6h0M420.8 461.6h1.7M425.9 461.6h1.7M432.7 461.6h0M436.1 461.6h8.5M408.9 463.2h0M432.7 463.2h11.9M407.2 464.9h0M412.2 464.9h0M415.7 464.9h5.1M424.2 464.9h1.7M429.2 464.9h0M434.4 464.9h10.2M390.2 466.7h0M413.9 466.7h0M424.2 466.7h20.4M412.2 468.4h0M415.7 468.4h5.1M427.6 468.4h13.6M444.6 468.4h0M393.6 470.1h0M396.9 470.1h0M407.2 470.1h0M410.6 470.1h0M415.7 470.1h1.7M420.8 470.1h0M424.2 470.1h20.4M403.8 471.8h0M410.6 471.8h1.7M415.7 471.8h8.5M429.2 471.8h17M390.2 473.4h0M400.4 473.4h0M403.8 473.4h0M408.9 473.4h35.7M402.1 475.2h0M405.4 475.2h1.7M412.2 475.2h0M415.7 475.2h30.6M405.4 476.9h3.4M415.7 476.9h30.6M395.2 478.6h0M402.1 478.6h6.8M412.2 478.6h34M395.2 480.2h0M402.1 480.2h0M405.4 480.2h3.4M413.9 480.2h1.7M420.8 480.2h0M424.2 480.2h22.1M408.9 481.9h1.7M417.4 481.9h1.7M422.4 481.9h8.5M434.4 481.9h0M437.8 481.9h0M441.2 481.9h5.1" stroke="#6fa5cd" stroke-width="2.5"/>
<path d="M357.7 464.5h0m2.4-65.4h0m3.4 11.9h0m14.1 53.8h0m2.8-7.6h0m.5-71.5h0m0 72.9h0m.5 11.8h0m2-1.1h0m1-55.5h0m0 14.4h0m.1 39.7h0m1.6 5.2h0m.1-13.7h0m.3-7.7h0m.4-1.3h0m.3 24.2h0m2.6-22.1h0m.2 17.7h0m.5 6h0m.7-24.8h0m.5-2.5h0m.2 27.8h0m.2-3.2h0m.8-56.3h0m.7 40.6h0m0 16.1h0m0 2.2h0m.7-.1h0m.3-63.9h0m0 17.1h0m.4 31.4h0m.5-1.7h0m.6 8.6h0m.9-19.5h0m.5 12.2h0m0 17.3h0m0-19.9h0m.1 15h0m.7 3.7h0m.1-11.6h0m.3-113.6h0m0 79.8h0m.3 44.3h0m.1-12.4h0m1.1 4.8h0m.2 7.4h0m.3-3.6h0m.1-6.1h0m.3 15.8h0m.4-14h0m0-60.2h0m.5 41.2h0m.2 7.3h0m0-2.9h0m.1-25.1h0m0 37h0m.2 9.4h0m0-111h0m.1 88.4h0m0 20.1h0m1 9.7h0m0 .3h0m.4-19h0m.7 4.4h0m.2-5.4h0m.1 7.5h0m.4-5.2h0m.2-22.4h0m.5 40.3h0m.5-7.9h0m.1-9.5h0m.1 4h0m.2-12.6h0m0 10.4h0m.3-57.9h0m0 63.5h0m.9-37.9h0m.1 34.3h0m.2 4.6h0m.3-16h0m.3 19.1h0m.6-60.1h0m.5 62.4h0m.2-3.1h0m.2 1.7h0m0-18.2h0m.3-11.1h0m0 21.2h0m.1-33.1h0m.1 19.3h0m.3 1.8h0m.2 6.1h0m.3 3.8h0m.2 15.2h0m.3-54h0m.1 50.2h0m.2-24.8h0m.6 6.9h0m.1-2.3h0m0-6.3h0m.5 19.4h0m0-48.8h0m.1 41h0m.6 13.4h0m.3 5.3h0m0-32.4h0m.8 8.8h0m.4 1.8h0m.3-5.9h0m.3 4.1h0m.2-4.5h0m.3 2.1h0m.4-25.3h0m0 13.5h0m.4 35.7h0m.1-15.9h0m.6-2.2h0m.3-3.5h0m.2 23.3h0m0-17.6h0m.5 4h0m.6-57.8h0m.4 38.8h0m.3-35.4h0m.1 53.5h0m.2-14.2h0m.2-.2h0m.3 7.4h0m.4-20.7h0m0 24.6h0m.1-9.9h0m.4 3.9h0m.1 23.3h0m.1-10h0m.1-5.7h0m.1-15.1h0m.2 16.8h0m.2-16.4h0m0-8.2h0m0 6h0m.1-2.5h0m.6 12.9h0m.3 4.5h0m.3-11.4h0m.7-49.4h0m0 39.8h0m0 20.5h0m0 4.9h0m.8 4.6h0m.7-9.4h0m.2-11.9h0m.3 7.2h0m.1 7.1h0m.3-23.4h0m1.1 16.6h0m.5-9.1h0m.3 11.8h0m.3-11.1h0m.1-16.4h0m.3 25.2h0m.1 3.2h0m0 2.9h0m.1-23.6h0m.1 11.7h0m.1 10.4h0m.7-3.5h0m0-3.4h0m.1-7.8h0m.5 16.7h0m0 16.2h0m.1-31.4h0m.5-13.9h0m.3 24.5h0m.1-30.9h0m.3 31.8h0m.5-4.2h0m.4-2.3h0m0-13.1h0m.3-3.7h0m.5 43.2h0m0-59.2h0m.2 32h0m1-45.8h0m0 27.8h0m0 4.1h0m.6-19.2h0m.1 31.1h0m.1-1h0m.4 7.2h0m0-20.2h0m.2 6.2h0m.1-14.5h0m.8 51.3h0m.1-25.1h0m.7-7.2h0m.5-3.2h0m.3-5.1h0m.1 12.4h0m.1-46.2h0m0 37.2h0m0 10.5h0m.5-3.9h0m.7-1.1h0m.5 2.6h0m.4-3.4h0m.3 19.3h0m0-21.8h0m.3-2.5h0m.2-13.6h0m.5 22.6h0m0 1.9h0m.1 3.6h0m.2-6.7h0m1.2 14.3h0m.1 4.8h0m.3 2.5h0" stroke="#6fa5cd" stroke-width="2.6"/>
<path d="M459.9 449.7h0M454.8 451.4h0M459.9 451.4h0M456.4 453.1h0M459.9 453.1h1.7M464.9 453.1h0M454.8 454.8h3.4M463.2 454.8h0M481.9 454.8h0M458.2 456.4h6.8M453.1 458.2h0M458.2 458.2h1.7M463.2 458.2h0M466.7 458.2h0M473.4 458.2h0M453.1 459.9h10.2M468.4 459.9h0M476.9 459.9h0M487.1 459.9h0M454.8 461.6h18.7M480.2 461.6h0M488.8 461.6h0M454.8 463.2h0M458.2 463.2h8.5M470.1 463.2h6.8M481.9 463.2h0M453.1 464.9h8.5M466.7 464.9h3.4M473.4 464.9h0M478.6 464.9h3.4M453.1 466.7h13.6M470.1 466.7h0M473.4 466.7h0M453.1 468.4h10.2M466.7 468.4h3.4M475.2 468.4h3.4M481.9 468.4h0M485.4 468.4h0M453.1 470.1h13.6M470.1 470.1h3.4M478.6 470.1h0M481.9 470.1h0M490.4 470.1h0M500.7 470.1h0M453.1 471.8h18.7M476.9 471.8h0M485.4 471.8h3.4M453.1 473.4h23.8M480.2 473.4h1.7M488.8 473.4h0M492.2 473.4h1.7M500.7 473.4h1.7M453.1 475.2h27.2M485.4 475.2h1.7M492.2 475.2h0M495.6 475.2h0M453.1 476.9h15.3M471.8 476.9h8.5M483.7 476.9h1.7M492.2 476.9h0M451.4 478.6h22.1M476.9 478.6h0M481.9 478.6h0M485.4 478.6h3.4M492.2 478.6h0M451.4 480.2h27.2M483.7 480.2h6.8M493.9 480.2h0M497.2 480.2h0M453.1 481.9h0M456.4 481.9h1.7M461.6 481.9h11.9" stroke="#ef7470" stroke-width="2.5"/>
<path d="M452 472h0m.1-2.8h0m.4-7.8h0m.3 2.3h0m1.2-5.6h0m.4 23h0m.2-25.4h0m.2-5.5h0m0-9h0m.1 4.2h0m.2 7.3h0m.7-5.7h0m.2 1.2h0m.1-16h0m.1 10.4h0m.6 20.5h0m.9-10.3h0m1.3-16.1h0m.3 17.9h0m.3-13.4h0m.4-70.5h0m.6 46.1h0m.2 19.5h0m0 17.6h0m.7-24.4h0m.1 15.5h0m.3 7.1h0m.2-3.9h0m.3-36.4h0m.5 41.7h0m0-4h0m.3-13.8h0m.1 29.5h0m.1-25.8h0m.8 5.2h0m.1-31h0m.9 14.5h0m.1 19.4h0m.2 9.8h0m.2 8.1h0m.4-16.9h0m1.1 8h0m0-5.2h0m.4-9.9h0m.1 29.4h0m.4-12.3h0m.2 7.5h0m.2-17.2h0m.6 4.4h0m.5-15.4h0m.2 .5h0m.3 15.3h0m0-13.7h0m.1 10.1h0m.4 9.8h0m.1 17.9h0m.2-25.7h0m.4-1.4h0m0 5.4h0m0-6.5h0m.2 8.7h0m.2 9.3h0m0 .8h0m.2-8h0m1-.4h0m1.1-10.2h0m.2 22.4h0m.1-33.6h0m.3 19.7h0m.5 21h0m.2-18.6h0m.2 10.2h0m.4-10.1h0m0 20.5h0m1.3-55.6h0m0 29.2h0m.4-3.1h0m.1-1.8h0m.1 1.1h0m0 21.4h0m0 8.9h0m.4-26.1h0m.9 7h0m.2-1.5h0m.1 17.2h0m.1 .9h0m.7-19.9h0m.1-7.3h0m.2 29.8h0m.2-37.7h0m.2 26.2h0m.1-4h0m.1-10.6h0m.7 21.5h0m.2-2.4h0m.2 6.3h0m0 .7h0m.2-15.6h0m.8-3h0m.3 10.9h0m0-3.2h0m.3-4h0m0 14.8h0m.5-10.3h0m.1 4.4h0m.6-25.7h0m1 15.2h0m.1 8.3h0m.7 4.4h0m.6-7h0m0 3.2h0m0-10h0m1.4 12.3h0m.1-27.7h0m0 27.2h0m.3-4.8h0m.5-4.8h0m0 8.1h0m.4-2.2h0m.8 9.4h0m.1-21.5h0m.5 3.3h0m.1-1.6h0m.1 11h0m.3 8.4h0m.5-12.4h0m1.2-7.7h0m.6-9.1h0m.3 25.7h0m.3 .3h0m.2-18.9h0m.1 22.3h0m.1-61.5h0m0 27.2h0m.3-10.1h0m1 37.9h0m.4-17.6h0m.2 8.6h0m.2 15.6h0m.4-14.6h0m.2 10.9h0m0-31.2h0m.3 14.5h0m0 19.7h0m.2-8.4h0m1.1 5.5h0m.6-10h0m2-15.9h0m.3 24.3h0m.2 2.9h0m.4 2.2h0m.4-62.2h0m.1 60.4h0m.5-9.1h0m.2 6.4h0m.2-16.9h0m.9 .4h0m.1 17.7h0m.8-.3h0m.3-15.8h0m.1 15.8h0m1.6-3.8h0m.3-43.5h0m.5 45.5h0m.8-1.5h0m1.8-26.2h0m2.4 25.9h0m1.7-17.3h0m1.1 10.3h0m.1-6.8h0m2.2-3.2h0m5.5 1.5h0m1.7 18.7h0m4.8-46.9h0m2.8 36h0m13.7 13.7h0" stroke="#ef7470" stroke-width="2.6"/>
</g>
<path d="M338.1 318.6V512.9H559M338.1 358.8h-2.6M338.1 406.7h-2.6M338.1 454.4h-2.6M338.1 502.2h-2.6M344.6 512.9v2.6M396.7 512.9v2.6M449.1 512.9v2.6M501.1 512.9v2.6M553.1 512.9v2.6" fill="none" stroke="#222" stroke-width="0.9"/>
<text x="344.6" y="527.6" font-size="12" text-anchor="middle">&#8722;6</text>
<text x="396.7" y="527.6" font-size="12" text-anchor="middle">&#8722;3</text>
<text x="449.1" y="527.6" font-size="12" text-anchor="middle">0</text>
<text x="501.1" y="527.6" font-size="12" text-anchor="middle">3</text>
<text x="553.1" y="527.6" font-size="12" text-anchor="middle">6</text>
<text x="431.3" y="290.4" font-size="12" text-anchor="middle">ER<tspan font-size="7" dy="-3.6">&#8722;</tspan><tspan dy="3.6">HER2</tspan><tspan font-size="7" dy="-3.6">+</tspan></text>
<text x="449.5" y="546.3" font-size="12" text-anchor="middle">Log<tspan font-size="7" dy="2.2">2</tspan><tspan dy="-2.2"> FC</tspan></text>
<circle cx="385.7" cy="379.6" r="4.5" fill="#7aaed3" stroke="#1a1a1a" stroke-width="0.9"/>
<text x="394.3" y="384.3" font-size="12.2">GFRA3</text>
<circle cx="431.9" cy="438.4" r="2.5" fill="#7aaed3" stroke="#1a1a1a" stroke-width="0.9"/>
<circle cx="427.2" cy="440.1" r="2.5" fill="#7aaed3" stroke="#1a1a1a" stroke-width="0.9"/>
<circle cx="423.7" cy="455.9" r="2.5" fill="#7aaed3" stroke="#1a1a1a" stroke-width="0.9"/>
<circle cx="429.9" cy="448.4" r="2.5" fill="#7aaed3" stroke="#1a1a1a" stroke-width="0.9"/>
<circle cx="434" cy="452.1" r="2.5" fill="#7aaed3" stroke="#1a1a1a" stroke-width="0.9"/>
<circle cx="427.8" cy="462.4" r="2.5" fill="#7aaed3" stroke="#1a1a1a" stroke-width="0.9"/>
<circle cx="421.7" cy="471" r="2.5" fill="#7aaed3" stroke="#1a1a1a" stroke-width="0.9"/>
<circle cx="425.4" cy="477.1" r="2.5" fill="#7aaed3" stroke="#1a1a1a" stroke-width="0.9"/>
<circle cx="428.9" cy="476.4" r="2.5" fill="#7aaed3" stroke="#1a1a1a" stroke-width="0.9"/>
<circle cx="431.3" cy="474.4" r="2.5" fill="#7aaed3" stroke="#1a1a1a" stroke-width="0.9"/>
<circle cx="439.8" cy="457.6" r="2.2" fill="#7aaed3" stroke="#1a1a1a" stroke-width="0.9"/>
<circle cx="440.5" cy="460.3" r="2.2" fill="#7aaed3" stroke="#1a1a1a" stroke-width="0.9"/>
<circle cx="439.1" cy="466.2" r="2.2" fill="#7aaed3" stroke="#1a1a1a" stroke-width="0.9"/>
<circle cx="442.2" cy="466.2" r="2.2" fill="#7aaed3" stroke="#1a1a1a" stroke-width="0.9"/>
<circle cx="439.8" cy="471.3" r="2.2" fill="#7aaed3" stroke="#1a1a1a" stroke-width="0.9"/>
<circle cx="442.6" cy="472.7" r="2.2" fill="#7aaed3" stroke="#1a1a1a" stroke-width="0.9"/>
<circle cx="439.1" cy="474.4" r="2.2" fill="#7aaed3" stroke="#1a1a1a" stroke-width="0.9"/>
<circle cx="443.9" cy="475.4" r="2.2" fill="#7aaed3" stroke="#1a1a1a" stroke-width="0.9"/>
<circle cx="442.2" cy="480.5" r="2.2" fill="#7aaed3" stroke="#1a1a1a" stroke-width="0.9"/>
<circle cx="445" cy="481.6" r="2.2" fill="#7aaed3" stroke="#1a1a1a" stroke-width="0.9"/>
<circle cx="478.5" cy="461" r="2.4" fill="#f0807a" stroke="#1a1a1a" stroke-width="0.9"/>
<circle cx="472.3" cy="479.9" r="2.4" fill="#f0807a" stroke="#1a1a1a" stroke-width="0.9"/>
<circle cx="462.8" cy="483.3" r="2.2" fill="#8a8a8a" stroke="#1a1a1a" stroke-width="0.9"/>
<path d="M438.1 431.9L433 437.1" stroke="#111" stroke-width="0.85" fill="none"/>
<text x="426.8" y="430.2" font-size="12.2">FOXO3</text>
<path d="M416.9 450.4L423.7 455.9" stroke="#111" stroke-width="0.85" fill="none"/>
<text x="388.5" y="453.2" font-size="12.2">IGF1</text>
<path d="M415.2 478.1L421.7 472" stroke="#111" stroke-width="0.85" fill="none"/>
<text x="390.2" y="488.8" font-size="12.2">DGKB</text>
<path d="M478.5 472.7L473.4 478.8" stroke="#111" stroke-width="0.85" fill="none"/>
<text x="470.6" y="471.3" font-size="12.2">CBLC</text>
<text x="439.8" y="500.4" font-size="12.2">ERBB2</text>
<clipPath id="c3"><rect x="589" y="316" width="222" height="196.39999999999998"/></clipPath>
<g clip-path="url(#c3)" fill="none" stroke-linecap="round">
<path d="M657 481.9h0M660.5 481.9h1.7M665.5 481.9h5.1M674 481.9h22.1M701.2 481.9h40.8M754 481.9h0M660.5 483.7h1.7M665.5 483.7h1.7M672.4 483.7h23.8M701.2 483.7h37.4M742 483.7h3.4M750.5 483.7h3.4M757.4 483.7h0M667.2 485.4h28.9M701.2 485.4h25.5M731.9 485.4h8.5M743.8 485.4h3.4M667.2 487.1h28.9M701.2 487.1h45.9M665.5 488.8h30.6M701.2 488.8h45.9M665.5 490.4h5.1M674 490.4h22.1M701.2 490.4h44.2M748.9 490.4h0M670.6 492.2h25.5M699.5 492.2h42.5M745.5 492.2h1.7M672.4 493.9h23.8M701.2 493.9h40.8M670.6 495.6h0M674 495.6h22.1M699.5 495.6h39.1M742 495.6h0M674 497.2h64.6M677.5 498.9h57.8M682.5 500.7h49.3M687.6 502.4h10.2M701.2 502.4h17M721.6 502.4h1.7" stroke="#7d7d80" stroke-width="2.5"/>
<path d="M634.8 494.2h0m4.1-11.3h0m18.5 .2h0m1-1.4h0m.8 3.5h0m1.7 1.2h0m2.8-2.4h0m1.1 .8h0m1.5 2.5h0m2.6 4.9h0m.8-8.5h0m1.6 10.6h0m1.4 1.5h0m.3-5.3h0m2.9 7.7h0m9.5 3.6h0m11.6-7.2h0m.1 1.1h0m3.1 6.1h0m.1-12.1h0m24.4 12h0m3.4-16.6h0m1.7-.2h0m6.9 13.3h0m2.5-14.2h0m.7 11.2h0m2-9.4h0m1.3 8.7h0m1.1-.3h0m.2 .7h0m.2-1.1h0m2.1-3h0m1.5-9.3h0m.2 5.6h0m1.3 1.9h0m.2-3.9h0m.4-3.2h0m2.1 .6h0m.5 3.9h0m3.3-1.7h0m.3 .3h0" stroke="#7d7d80" stroke-width="2.6"/>
<path d="M689.4 458.2h0M687.6 461.6h0M692.8 461.6h0M689.4 463.2h1.7M694.5 463.2h0M663.9 464.9h0M687.6 464.9h0M686 466.7h0M694.5 466.7h0M686 468.4h0M692.8 468.4h1.7M677.5 470.1h1.7M686 470.1h1.7M691 470.1h3.4M667.2 471.8h0M674 471.8h0M679.1 471.8h0M682.5 471.8h0M687.6 471.8h5.1M680.9 473.4h3.4M687.6 473.4h1.7M692.8 473.4h0M670.6 475.2h0M679.1 475.2h6.8M692.8 475.2h1.7M682.5 476.9h0M689.4 476.9h5.1M669 478.6h0M677.5 478.6h0M682.5 478.6h0M689.4 478.6h1.7M696.1 478.6h0M660.5 480.2h0M674 480.2h0M677.5 480.2h1.7M682.5 480.2h5.1M691 480.2h3.4M691 481.9h0" stroke="#6fa5cd" stroke-width="2.5"/>
<path d="M619.7 442.2h0m2.1-77.4h0m5.1 44.9h0m1 48.6h0m13.4-51.4h0m3.1 18.9h0m1 30.8h0m4.8 15.4h0m1.7 10.3h0m3.1-81.2h0m0 68.8h0m.4-16h0m2.5 14.9h0m1.3 3.6h0m.6-38.8h0m0 39.4h0m.6 4.1h0m.4-53h0m.7 55.7h0m.3-8.6h0m.5 6h0m1.3 4.3h0m.7-2.6h0m.3-11.8h0m.8-8.4h0m.2 13.8h0m0 3.5h0m.8 4.9h0m.6-6.4h0m.3-26.5h0m.5 28.2h0m.5-5h0m.6 3.8h0m.1-9.5h0m.1 2.6h0m.5 13.1h0m.1-1.4h0m.6-1.5h0m.1-4.9h0m.3-1.3h0m1.8 5.1h0m.1-9.9h0m.1 7.7h0m.2-3.3h0m.8-11.9h0m.8-12h0m.2 27.2h0m0-38.2h0m0 31.3h0m.8 7.3h0m.1-6.3h0m.2-43.1h0m0 54.2h0m.5-13.9h0m1-2.5h0m.4 17.7h0m0-7.1h0m.1-13.5h0m.1 16.4h0m.1-10h0m.7 14h0m.2-7.6h0m.3 5h0m.2-17.1h0m.6 18.1h0m.7-20.9h0m.1 17.7h0m.4-6.9h0m.2-18h0m.2-2.9h0m.3 18.7h0m.4 2.3h0m.6-1.2h0m.2-18.6h0m.8 16.6h0m.5-5.3h0m.3 17.9h0m.1-13.7h0m.1 10.6h0m.4-42.2h0m.4 45.6h0m.1 1.8h0m.8-7.9h0m.8 1.4h0m.3 3.9h0m.3-31.6h0m.6 32.4h0m.1-12.5h0m.6 14.4h0m0-19.8h0m.3-1.4h0m.5 10.5h0m.1-10.3h0m.4-5.7h0m.6 19.5h0m0-9.6h0m.3-11.3h0m0 5.4h0m.1 7.8h0m1.2-2.5h0m.6-9.3h0m0-3.8h0m.5 28.1h0m.1 2.5h0m.3-8.8h0m.2-15.3h0m.9 9.3h0" stroke="#6fa5cd" stroke-width="2.6"/>
<path d="M704.6 459.9h1.7M711.5 459.9h0M703 464.9h0M714.9 464.9h0M757.4 464.9h0M704.6 466.7h0M716.5 466.7h1.7M709.8 468.4h0M713.1 468.4h1.7M720 468.4h0M726.8 468.4h0M703 470.1h1.7M709.8 470.1h0M716.5 470.1h0M721.6 470.1h0M704.6 471.8h1.7M711.5 471.8h0M714.9 471.8h0M720 471.8h0M701.2 473.4h3.4M709.8 473.4h3.4M721.6 473.4h0M726.8 473.4h0M730.1 473.4h0M706.4 475.2h1.7M720 475.2h0M723.4 475.2h0M703 476.9h0M706.4 476.9h0M711.5 476.9h1.7M716.5 476.9h3.4M725 476.9h1.7M730.1 476.9h0M735.2 476.9h0M701.2 478.6h0M706.4 478.6h8.5M720 478.6h6.8M703 480.2h6.8M713.1 480.2h0M718.2 480.2h6.8M728.5 480.2h0M731.9 480.2h0M708 481.9h3.4M718.2 481.9h0" stroke="#ef7470" stroke-width="2.5"/>
<path d="M701.2 474.8h0m.5 5.6h0m.1-12h0m.1 8.1h0m.3-16.2h0m.5 19h0m.7-21.9h0m.3 10.4h0m.1-18.2h0m0 5.1h0m.1 11.1h0m.1 10.5h0m.3-27.7h0m0 8.4h0m.3 4.8h0m0 .7h0m.2-4.9h0m.3 18.3h0m.3-41.4h0m.1 26.4h0m.2 6.5h0m0 13.8h0m.1-6.9h0m.3-26.5h0m.5 15h0m0 7h0m.6 6.8h0m.2-19.4h0m.7 8.5h0m.1 1.7h0m.3-20.3h0m.2 25.9h0m.2 1.5h0m.6 2.5h0m.8-11.3h0m.2-5h0m.2 .5h0m.1 3.4h0m.1 5.9h0m.2 3.9h0m.3 6.4h0m.4-26.3h0m.2 4.1h0m.2-9.5h0m1 26h0m.2-13.1h0m1.2 13.9h0m.6-20.3h0m.2 24.6h0m.6-16.9h0m.1 5.6h0m.2-10h0m.2 22.1h0m.1-2.3h0m.2-5.8h0m.2-17.2h0m0 16.6h0m.3-6.5h0m.2-26h0m.3 36.1h0m0-5.9h0m0 4h0m.2-14.5h0m.2 19.5h0m1.9-5.7h0m.2-11.1h0m.7-9.4h0m.2 15.8h0m.3 7.5h0m.2 5h0m.5-9.5h0m.6-21.2h0m0 13.5h0m1.3 13.6h0m1-16.6h0m.5 7.9h0m.5 11h0m.1-5.1h0m.3-3.5h0m1.9 7.6h0m.6-11.3h0m.2-1.6h0m0 11.6h0m.4-19.9h0m.1-9.4h0m.2 8.5h0m.2 12.2h0m.1 12.4h0m.4-40.1h0m.2 39.6h0m0-57.5h0m.2 20.9h0m.4 15.8h0m.1 10.4h0m.2 7.2h0m1 3.4h0m.2-21.3h0m.1 13.3h0m.5-8.2h0m.2 4.9h0m.6 8.4h0m2-14h0m.2 13.6h0m.3-.6h0m.7-1.2h0m.7-41.6h0m.1 35.6h0m.4 9.8h0m.3-6.8h0m.1-8.1h0m.1 10.4h0m0-6.9h0m.2 11h0m0 1.9h0m.2-3.9h0m.2-5.2h0m.1-5.6h0m.1-13.4h0m.4 21h0m0 1.2h0m.3-20.9h0m0 25h0m.3-9.5h0m1.4-8.2h0m.5-20h0m0 39h0m.4-4.7h0m.8-14.6h0m.2-23.6h0m.5 43.7h0m2.6-1.4h0m.5-15.6h0m.1-2.7h0m.2 3.7h0m.6-41.4h0m.8 55.4h0m.1-4.9h0m.3-12.6h0m.2-10.4h0m.5 28.3h0m.5-28.5h0m.2 8.9h0m1.3 17.6h0m1.5-42.4h0m.4 39.9h0m.7-6.1h0m1-9.4h0m.1 17.9h0m.2 2.9h0m.3-11.9h0m1.6 10.2h0m.2-50.8h0m.2 47.1h0m1 5h0m0-3.2h0m.5-33.5h0m.9 30.8h0m.9 3.5h0m1.1-31.2h0m1 23.1h0m.6 11.8h0m1-51.4h0m1.1 33.8h0m4.7-7.4h0m1.9 6.4h0m8.4 7.3h0m5.1-39.4h0" stroke="#ef7470" stroke-width="2.6"/>
</g>
<path d="M588.2 318.6V512.9H808.7M588.2 358.8h-2.6M588.2 406.7h-2.6M588.2 454.4h-2.6M588.2 502.2h-2.6M593 512.9v2.6M645.7 512.9v2.6M698.5 512.9v2.6M751.5 512.9v2.6M804.2 512.9v2.6" fill="none" stroke="#222" stroke-width="0.9"/>
<text x="593" y="527.6" font-size="12" text-anchor="middle">&#8722;5.0</text>
<text x="645.7" y="527.6" font-size="12" text-anchor="middle">&#8722;2.5</text>
<text x="698.5" y="527.6" font-size="12" text-anchor="middle">0.0</text>
<text x="751.5" y="527.6" font-size="12" text-anchor="middle">2.5</text>
<text x="804.2" y="527.6" font-size="12" text-anchor="middle">5.0</text>
<text x="673.5" y="290.4" font-size="12" text-anchor="middle">ER<tspan font-size="7" dy="-3.6">+</tspan><tspan dy="3.6">HER2</tspan><tspan font-size="7" dy="-3.6">+</tspan></text>
<text x="698.5" y="546.3" font-size="12" text-anchor="middle">Log<tspan font-size="7" dy="2.2">2</tspan><tspan dy="-2.2"> FC</tspan></text>
<path d="M673.5 303.6H794.6V299.1L806.2 305.5L794.6 311.9V307.3H673.5z" fill="#ef7470"/>
<text x="649.6" y="308.9" font-size="12" text-anchor="end" fill="#ef7470">Up-regulated in pCR</text>
<circle cx="637.9" cy="401.1" r="3.1" fill="#7aaed3" stroke="#1a1a1a" stroke-width="0.9"/>
<text x="626.2" y="395.3" font-size="12.2">LRP1B</text>
<circle cx="676.5" cy="437.1" r="4.7" fill="#7aaed3" stroke="#1a1a1a" stroke-width="0.9"/>
<path d="M667.2 444L673.6 439.8" stroke="#111" stroke-width="0.85" fill="none"/>
<text x="644" y="453.5" font-size="12.2">CHGA</text>
<circle cx="679.6" cy="472" r="3.8" fill="#7aaed3" stroke="#1a1a1a" stroke-width="0.9"/>
<circle cx="688.2" cy="469.6" r="2.2" fill="#7aaed3" stroke="#1a1a1a" stroke-width="0.9"/>
<circle cx="689.9" cy="473.7" r="2.2" fill="#7aaed3" stroke="#1a1a1a" stroke-width="0.9"/>
<circle cx="689.9" cy="477.8" r="2.2" fill="#7aaed3" stroke="#1a1a1a" stroke-width="0.9"/>
<circle cx="690.2" cy="483.6" r="3.3" fill="#8a8a8a" stroke="#1a1a1a" stroke-width="0.9"/>
<circle cx="706.7" cy="469.2" r="2.4" fill="#f0807a" stroke="#1a1a1a" stroke-width="0.9"/>
<circle cx="702.2" cy="478.5" r="3.3" fill="#f0807a" stroke="#1a1a1a" stroke-width="0.9"/>
<circle cx="710.1" cy="477.8" r="3.0" fill="#f0807a" stroke="#1a1a1a" stroke-width="0.9"/>
<circle cx="720" cy="474.7" r="4.0" fill="#f0807a" stroke="#1a1a1a" stroke-width="0.9"/>
<circle cx="729.6" cy="479.9" r="4.0" fill="#f0807a" stroke="#1a1a1a" stroke-width="0.9"/>
<circle cx="737.1" cy="476.4" r="4.0" fill="#f0807a" stroke="#1a1a1a" stroke-width="0.9"/>
<circle cx="718.7" cy="475.4" r="2.6" fill="#f0807a" stroke="#1a1a1a" stroke-width="0.9"/>
<path d="M710.1 437.8L702.6 475.4" stroke="#111" stroke-width="0.85" fill="none"/>
<text x="703.9" y="434" font-size="12.2">ATG13</text>
<path d="M764.9 459.3L720.4 474.4" stroke="#111" stroke-width="0.85" fill="none"/>
<text x="766.6" y="460.3" font-size="12.2">CASP1</text>
<text x="630.3" y="477.5" font-size="12.2">ABCC3</text>
<path d="M676.5 494.2L688.9 485" stroke="#111" stroke-width="0.85" fill="none"/>
<text x="634.8" y="500.4" font-size="12.2">FGFR1</text>
<path d="M751.2 490.8L713.5 478.1" stroke="#111" stroke-width="0.85" fill="none"/>
<text x="753.9" y="495.6" font-size="12.2">STAT1</text>
</g>
<g id="panelD">
<text x="45.6" y="564.7" font-size="16" font-weight="bold">D</text>
<rect x="78.6" y="577.6" width="672.4" height="73.2" fill="#fff" stroke="#8c8c8c" stroke-width="0.8"/>
<path d="M86.3 578V650.4M99.7 578V650.4M113.1 578V650.4M126.6 578V650.4M140 578V650.4M153.4 578V650.4M166.8 578V650.4M180.2 578V650.4M193.7 578V650.4M207.1 578V650.4M220.5 578V650.4M233.9 578V650.4M247.3 578V650.4M260.8 578V650.4M274.2 578V650.4M287.6 578V650.4M301 578V650.4M314.4 578V650.4M327.9 578V650.4M341.3 578V650.4M354.7 578V650.4M368.1 578V650.4M381.5 578V650.4M395 578V650.4M408.4 578V650.4M421.8 578V650.4M435.2 578V650.4M448.6 578V650.4M462.1 578V650.4M475.5 578V650.4M488.9 578V650.4M502.3 578V650.4M515.7 578V650.4M529.2 578V650.4M542.6 578V650.4M556 578V650.4M569.4 578V650.4M582.8 578V650.4M596.3 578V650.4M609.7 578V650.4M623.1 578V650.4M636.5 578V650.4M649.9 578V650.4M663.4 578V650.4M676.8 578V650.4M690.2 578V650.4M703.6 578V650.4M717 578V650.4M730.5 578V650.4M743.9 578V650.4M79 591.1H750.6M79 614.4H750.6M79 637.6H750.6" stroke="#e4e4e4" stroke-width="0.7" fill="none"/>
<path d="M86.3 650.8v3.6M99.7 650.8v3.6M113.1 650.8v3.6M126.6 650.8v3.6M140 650.8v3.6M153.4 650.8v3.6M166.8 650.8v3.6M180.2 650.8v3.6M193.7 650.8v3.6M207.1 650.8v3.6M220.5 650.8v3.6M233.9 650.8v3.6M247.3 650.8v3.6M260.8 650.8v3.6M274.2 650.8v3.6M287.6 650.8v3.6M301 650.8v3.6M314.4 650.8v3.6M327.9 650.8v3.6M341.3 650.8v3.6M354.7 650.8v3.6M368.1 650.8v3.6M381.5 650.8v3.6M395 650.8v3.6M408.4 650.8v3.6M421.8 650.8v3.6M435.2 650.8v3.6M448.6 650.8v3.6M462.1 650.8v3.6M475.5 650.8v3.6M488.9 650.8v3.6M502.3 650.8v3.6M515.7 650.8v3.6M529.2 650.8v3.6M542.6 650.8v3.6M556 650.8v3.6M569.4 650.8v3.6M582.8 650.8v3.6M596.3 650.8v3.6M609.7 650.8v3.6M623.1 650.8v3.6M636.5 650.8v3.6M649.9 650.8v3.6M663.4 650.8v3.6M676.8 650.8v3.6M690.2 650.8v3.6M703.6 650.8v3.6M717 650.8v3.6M730.5 650.8v3.6M743.9 650.8v3.6M76 591.1h2.6M76 614.4h2.6M76 637.6h2.6" stroke="#333" stroke-width="0.7" fill="none"/>
<text x="65.6" y="595.4" font-size="12.8" text-anchor="end">&#8722;/&#8722;</text>
<text x="65.6" y="618.7" font-size="12.8" text-anchor="end">&#8722;/+</text>
<text x="65.6" y="641.9" font-size="12.8" text-anchor="end">+/+</text>
<circle cx="86.3" cy="591.1" r="8.5" fill="#f05c3c" fill-opacity="0.88"/>
<circle cx="99.7" cy="591.1" r="7.7" fill="#f05c3c" fill-opacity="0.88"/>
<circle cx="113.1" cy="591.1" r="4.1" fill="#e3586c" fill-opacity="0.88"/>
<circle cx="126.6" cy="591.1" r="3.6" fill="#e3586c" fill-opacity="0.88"/>
<circle cx="140" cy="591.1" r="2.0" fill="#de5c7e" fill-opacity="0.88"/>
<circle cx="153.4" cy="591.1" r="2.0" fill="#de5c7e" fill-opacity="0.88"/>
<circle cx="166.8" cy="591.1" r="1.2" fill="#da6390" fill-opacity="0.88"/>
<circle cx="180.2" cy="591.1" r="1.2" fill="#7566c2" fill-opacity="0.88"/>
<circle cx="193.7" cy="591.1" r="4.6" fill="#e3586c" fill-opacity="0.88"/>
<circle cx="207.1" cy="591.1" r="3.3" fill="#de5c7e" fill-opacity="0.88"/>
<circle cx="220.5" cy="591.1" r="3.1" fill="#de5c7e" fill-opacity="0.88"/>
<circle cx="233.9" cy="591.1" r="4.1" fill="#e3586c" fill-opacity="0.88"/>
<circle cx="247.3" cy="591.1" r="4.1" fill="#e3586c" fill-opacity="0.88"/>
<circle cx="260.8" cy="591.1" r="1.2" fill="#da6390" fill-opacity="0.88"/>
<circle cx="274.2" cy="591.1" r="1.2" fill="#da6390" fill-opacity="0.88"/>
<circle cx="287.6" cy="591.1" r="1.2" fill="#da6390" fill-opacity="0.88"/>
<circle cx="301" cy="591.1" r="1.2" fill="#7566c2" fill-opacity="0.88"/>
<circle cx="314.4" cy="591.1" r="1.2" fill="#da6390" fill-opacity="0.88"/>
<circle cx="327.9" cy="591.1" r="1.2" fill="#7566c2" fill-opacity="0.88"/>
<circle cx="341.3" cy="591.1" r="1.2" fill="#7566c2" fill-opacity="0.88"/>
<circle cx="354.7" cy="591.1" r="1.2" fill="#7566c2" fill-opacity="0.88"/>
<circle cx="368.1" cy="591.1" r="1.2" fill="#7566c2" fill-opacity="0.88"/>
<circle cx="381.5" cy="591.1" r="1.2" fill="#7566c2" fill-opacity="0.88"/>
<circle cx="395" cy="591.1" r="1.2" fill="#7566c2" fill-opacity="0.88"/>
<circle cx="408.4" cy="591.1" r="1.2" fill="#7566c2" fill-opacity="0.88"/>
<circle cx="421.8" cy="591.1" r="1.2" fill="#da6390" fill-opacity="0.88"/>
<circle cx="435.2" cy="591.1" r="1.2" fill="#da6390" fill-opacity="0.88"/>
<circle cx="448.6" cy="591.1" r="1.2" fill="#7566c2" fill-opacity="0.88"/>
<circle cx="462.1" cy="591.1" r="1.2" fill="#da6390" fill-opacity="0.88"/>
<circle cx="475.5" cy="591.1" r="1.2" fill="#7566c2" fill-opacity="0.88"/>
<circle cx="488.9" cy="591.1" r="2.6" fill="#de5c7e" fill-opacity="0.88"/>
<circle cx="502.3" cy="591.1" r="3.0" fill="#e3586c" fill-opacity="0.88"/>
<circle cx="515.7" cy="591.1" r="3.0" fill="#e3586c" fill-opacity="0.88"/>
<circle cx="529.2" cy="591.1" r="2.8" fill="#de5c7e" fill-opacity="0.88"/>
<circle cx="542.6" cy="591.1" r="2.6" fill="#de5c7e" fill-opacity="0.88"/>
<circle cx="556" cy="591.1" r="2.6" fill="#de5c7e" fill-opacity="0.88"/>
<circle cx="569.4" cy="591.1" r="2.1" fill="#de5c7e" fill-opacity="0.88"/>
<circle cx="582.8" cy="591.1" r="2.1" fill="#de5c7e" fill-opacity="0.88"/>
<circle cx="596.3" cy="591.1" r="2.1" fill="#de5c7e" fill-opacity="0.88"/>
<circle cx="609.7" cy="591.1" r="2.1" fill="#de5c7e" fill-opacity="0.88"/>
<circle cx="623.1" cy="591.1" r="2.3" fill="#de5c7e" fill-opacity="0.88"/>
<circle cx="636.5" cy="591.1" r="2.3" fill="#de5c7e" fill-opacity="0.88"/>
<circle cx="649.9" cy="591.1" r="3.0" fill="#e3586c" fill-opacity="0.88"/>
<circle cx="663.4" cy="591.1" r="1.2" fill="#da6390" fill-opacity="0.88"/>
<circle cx="676.8" cy="591.1" r="6.3" fill="#ec5a52" fill-opacity="0.88"/>
<circle cx="690.2" cy="591.1" r="5.4" fill="#e9585c" fill-opacity="0.88"/>
<circle cx="703.6" cy="591.1" r="5.4" fill="#e9585c" fill-opacity="0.88"/>
<circle cx="717" cy="591.1" r="4.4" fill="#e9585c" fill-opacity="0.88"/>
<circle cx="730.5" cy="591.1" r="3.7" fill="#e3586c" fill-opacity="0.88"/>
<circle cx="743.9" cy="591.1" r="3.6" fill="#5a6cc6" fill-opacity="0.88"/>
<circle cx="86.3" cy="614.4" r="4.0" fill="#e3586c" fill-opacity="0.88"/>
<circle cx="99.7" cy="614.4" r="3.6" fill="#e3586c" fill-opacity="0.88"/>
<circle cx="113.1" cy="614.4" r="1.2" fill="#da6390" fill-opacity="0.88"/>
<circle cx="126.6" cy="614.4" r="4.1" fill="#e3586c" fill-opacity="0.88"/>
<circle cx="140" cy="614.4" r="4.3" fill="#e3586c" fill-opacity="0.88"/>
<circle cx="153.4" cy="614.4" r="3.3" fill="#de5c7e" fill-opacity="0.88"/>
<circle cx="166.8" cy="614.4" r="1.2" fill="#da6390" fill-opacity="0.88"/>
<circle cx="180.2" cy="614.4" r="2.8" fill="#de5c7e" fill-opacity="0.88"/>
<circle cx="193.7" cy="614.4" r="5.1" fill="#e9585c" fill-opacity="0.88"/>
<circle cx="207.1" cy="614.4" r="5.6" fill="#e9585c" fill-opacity="0.88"/>
<circle cx="220.5" cy="614.4" r="3.9" fill="#e3586c" fill-opacity="0.88"/>
<circle cx="233.9" cy="614.4" r="3.3" fill="#de5c7e" fill-opacity="0.88"/>
<circle cx="247.3" cy="614.4" r="2.8" fill="#de5c7e" fill-opacity="0.88"/>
<circle cx="260.8" cy="614.4" r="3.1" fill="#de5c7e" fill-opacity="0.88"/>
<circle cx="274.2" cy="614.4" r="2.6" fill="#de5c7e" fill-opacity="0.88"/>
<circle cx="287.6" cy="614.4" r="2.6" fill="#de5c7e" fill-opacity="0.88"/>
<circle cx="301" cy="614.4" r="3.2" fill="#5a6cc6" fill-opacity="0.88"/>
<circle cx="314.4" cy="614.4" r="1.2" fill="#da6390" fill-opacity="0.88"/>
<circle cx="327.9" cy="614.4" r="1.2" fill="#da6390" fill-opacity="0.88"/>
<circle cx="341.3" cy="614.4" r="1.2" fill="#da6390" fill-opacity="0.88"/>
<circle cx="354.7" cy="614.4" r="1.2" fill="#7566c2" fill-opacity="0.88"/>
<circle cx="368.1" cy="614.4" r="1.2" fill="#da6390" fill-opacity="0.88"/>
<circle cx="381.5" cy="614.4" r="1.2" fill="#da6390" fill-opacity="0.88"/>
<circle cx="395" cy="614.4" r="1.2" fill="#7566c2" fill-opacity="0.88"/>
<circle cx="408.4" cy="614.4" r="1.2" fill="#7566c2" fill-opacity="0.88"/>
<circle cx="421.8" cy="614.4" r="1.2" fill="#da6390" fill-opacity="0.88"/>
<circle cx="435.2" cy="614.4" r="1.2" fill="#da6390" fill-opacity="0.88"/>
<circle cx="448.6" cy="614.4" r="1.6" fill="#de5c7e" fill-opacity="0.88"/>
<circle cx="462.1" cy="614.4" r="1.8" fill="#de5c7e" fill-opacity="0.88"/>
<circle cx="475.5" cy="614.4" r="2.1" fill="#de5c7e" fill-opacity="0.88"/>
<circle cx="488.9" cy="614.4" r="2.6" fill="#de5c7e" fill-opacity="0.88"/>
<circle cx="502.3" cy="614.4" r="2.8" fill="#de5c7e" fill-opacity="0.88"/>
<circle cx="515.7" cy="614.4" r="1.4" fill="#da6390" fill-opacity="0.88"/>
<circle cx="529.2" cy="614.4" r="1.6" fill="#de5c7e" fill-opacity="0.88"/>
<circle cx="542.6" cy="614.4" r="1.8" fill="#de5c7e" fill-opacity="0.88"/>
<circle cx="556" cy="614.4" r="1.4" fill="#da6390" fill-opacity="0.88"/>
<circle cx="569.4" cy="614.4" r="1.2" fill="#7566c2" fill-opacity="0.88"/>
<circle cx="582.8" cy="614.4" r="1.4" fill="#da6390" fill-opacity="0.88"/>
<circle cx="596.3" cy="614.4" r="1.2" fill="#7566c2" fill-opacity="0.88"/>
<circle cx="609.7" cy="614.4" r="1.4" fill="#da6390" fill-opacity="0.88"/>
<circle cx="623.1" cy="614.4" r="1.4" fill="#da6390" fill-opacity="0.88"/>
<circle cx="636.5" cy="614.4" r="1.2" fill="#da6390" fill-opacity="0.88"/>
<circle cx="649.9" cy="614.4" r="2.1" fill="#de5c7e" fill-opacity="0.88"/>
<circle cx="663.4" cy="614.4" r="3.0" fill="#e3586c" fill-opacity="0.88"/>
<circle cx="676.8" cy="614.4" r="4.4" fill="#e9585c" fill-opacity="0.88"/>
<circle cx="690.2" cy="614.4" r="1.6" fill="#de5c7e" fill-opacity="0.88"/>
<circle cx="703.6" cy="614.4" r="2.1" fill="#de5c7e" fill-opacity="0.88"/>
<circle cx="717" cy="614.4" r="1.4" fill="#da6390" fill-opacity="0.88"/>
<circle cx="730.5" cy="614.4" r="1.2" fill="#da6390" fill-opacity="0.88"/>
<circle cx="743.9" cy="614.4" r="1.2" fill="#da6390" fill-opacity="0.88"/>
<circle cx="86.3" cy="637.6" r="3.3" fill="#de5c7e" fill-opacity="0.88"/>
<circle cx="99.7" cy="637.6" r="2.8" fill="#de5c7e" fill-opacity="0.88"/>
<circle cx="113.1" cy="637.6" r="6.7" fill="#ec5a52" fill-opacity="0.88"/>
<circle cx="126.6" cy="637.6" r="5.9" fill="#e9585c" fill-opacity="0.88"/>
<circle cx="140" cy="637.6" r="6.1" fill="#e9585c" fill-opacity="0.88"/>
<circle cx="153.4" cy="637.6" r="5.4" fill="#e9585c" fill-opacity="0.88"/>
<circle cx="166.8" cy="637.6" r="5.9" fill="#e9585c" fill-opacity="0.88"/>
<circle cx="180.2" cy="637.6" r="5.9" fill="#e9585c" fill-opacity="0.88"/>
<circle cx="193.7" cy="637.6" r="3.0" fill="#de5c7e" fill-opacity="0.88"/>
<circle cx="207.1" cy="637.6" r="1.2" fill="#da6390" fill-opacity="0.88"/>
<circle cx="220.5" cy="637.6" r="1.2" fill="#da6390" fill-opacity="0.88"/>
<circle cx="233.9" cy="637.6" r="1.2" fill="#da6390" fill-opacity="0.88"/>
<circle cx="247.3" cy="637.6" r="3.3" fill="#de5c7e" fill-opacity="0.88"/>
<circle cx="260.8" cy="637.6" r="2.0" fill="#de5c7e" fill-opacity="0.88"/>
<circle cx="274.2" cy="637.6" r="1.5" fill="#da6390" fill-opacity="0.88"/>
<circle cx="287.6" cy="637.6" r="1.2" fill="#da6390" fill-opacity="0.88"/>
<circle cx="301" cy="637.6" r="1.2" fill="#da6390" fill-opacity="0.88"/>
<circle cx="314.4" cy="637.6" r="3.0" fill="#de5c7e" fill-opacity="0.88"/>
<circle cx="327.9" cy="637.6" r="1.2" fill="#da6390" fill-opacity="0.88"/>
<circle cx="341.3" cy="637.6" r="1.2" fill="#da6390" fill-opacity="0.88"/>
<circle cx="354.7" cy="637.6" r="1.2" fill="#7566c2" fill-opacity="0.88"/>
<circle cx="368.1" cy="637.6" r="1.2" fill="#7566c2" fill-opacity="0.88"/>
<circle cx="381.5" cy="637.6" r="1.2" fill="#da6390" fill-opacity="0.88"/>
<circle cx="395" cy="637.6" r="1.2" fill="#7566c2" fill-opacity="0.88"/>
<circle cx="408.4" cy="637.6" r="1.2" fill="#da6390" fill-opacity="0.88"/>
<circle cx="421.8" cy="637.6" r="1.2" fill="#da6390" fill-opacity="0.88"/>
<circle cx="435.2" cy="637.6" r="1.2" fill="#da6390" fill-opacity="0.88"/>
<circle cx="448.6" cy="637.6" r="1.2" fill="#da6390" fill-opacity="0.88"/>
<circle cx="462.1" cy="637.6" r="1.2" fill="#da6390" fill-opacity="0.88"/>
<circle cx="475.5" cy="637.6" r="1.2" fill="#7566c2" fill-opacity="0.88"/>
<circle cx="488.9" cy="637.6" r="1.4" fill="#da6390" fill-opacity="0.88"/>
<circle cx="502.3" cy="637.6" r="1.6" fill="#de5c7e" fill-opacity="0.88"/>
<circle cx="515.7" cy="637.6" r="1.2" fill="#7566c2" fill-opacity="0.88"/>
<circle cx="529.2" cy="637.6" r="1.4" fill="#da6390" fill-opacity="0.88"/>
<circle cx="542.6" cy="637.6" r="1.6" fill="#de5c7e" fill-opacity="0.88"/>
<circle cx="556" cy="637.6" r="1.2" fill="#7566c2" fill-opacity="0.88"/>
<circle cx="569.4" cy="637.6" r="1.4" fill="#da6390" fill-opacity="0.88"/>
<circle cx="582.8" cy="637.6" r="1.2" fill="#da6390" fill-opacity="0.88"/>
<circle cx="596.3" cy="637.6" r="1.2" fill="#7566c2" fill-opacity="0.88"/>
<circle cx="609.7" cy="637.6" r="2.1" fill="#de5c7e" fill-opacity="0.88"/>
<circle cx="623.1" cy="637.6" r="1.6" fill="#de5c7e" fill-opacity="0.88"/>
<circle cx="636.5" cy="637.6" r="1.6" fill="#de5c7e" fill-opacity="0.88"/>
<circle cx="649.9" cy="637.6" r="3.0" fill="#e3586c" fill-opacity="0.88"/>
<circle cx="663.4" cy="637.6" r="4.0" fill="#e3586c" fill-opacity="0.88"/>
<circle cx="676.8" cy="637.6" r="4.0" fill="#e3586c" fill-opacity="0.88"/>
<circle cx="690.2" cy="637.6" r="2.8" fill="#de5c7e" fill-opacity="0.88"/>
<circle cx="703.6" cy="637.6" r="1.4" fill="#da6390" fill-opacity="0.88"/>
<circle cx="717" cy="637.6" r="2.8" fill="#de5c7e" fill-opacity="0.88"/>
<circle cx="730.5" cy="637.6" r="1.2" fill="#da6390" fill-opacity="0.88"/>
<circle cx="743.9" cy="637.6" r="1.2" fill="#7566c2" fill-opacity="0.88"/>
<g font-size="8.25" text-anchor="end">
<text transform="translate(89.3 664.6) rotate(-45)">E2F_TARGETS</text>
<text transform="translate(102.7 664.6) rotate(-45)">G2M_CHECKPOINT</text>
<text transform="translate(116.1 664.6) rotate(-45)">MYC_TARGETS_V1</text>
<text transform="translate(129.6 664.6) rotate(-45)">ALLOGRAFT_REJECTION</text>
<text transform="translate(143 664.6) rotate(-45)">INTERFERON_GAMMA_RESPONSE</text>
<text transform="translate(156.4 664.6) rotate(-45)">UNFOLDED_PROTEIN_RESPONSE</text>
<text transform="translate(169.8 664.6) rotate(-45)">OXIDATIVE_PHOSPHORYLATION</text>
<text transform="translate(183.2 664.6) rotate(-45)">INTERFERON_ALPHA_RESPONSE</text>
<text transform="translate(196.7 664.6) rotate(-45)">INFLAMMATORY_RESPONSE</text>
<text transform="translate(210.1 664.6) rotate(-45)">EPITHELIAL_MESENCHYMAL_TRANSITION</text>
<text transform="translate(223.5 664.6) rotate(-45)">APOPTOSIS</text>
<text transform="translate(236.9 664.6) rotate(-45)">IL6_JAK_STAT3_SIGNALING</text>
<text transform="translate(250.3 664.6) rotate(-45)">COMPLEMENT</text>
<text transform="translate(263.8 664.6) rotate(-45)">DNA_REPAIR</text>
<text transform="translate(277.2 664.6) rotate(-45)">REACTIVE_OXYGEN_SPECIES_PATHWAY</text>
<text transform="translate(290.6 664.6) rotate(-45)">P53_PATHWAY</text>
<text transform="translate(304 664.6) rotate(-45)">KRAS_SIGNALING_DN</text>
<text transform="translate(317.4 664.6) rotate(-45)">ANDROGEN_RESPONSE</text>
<text transform="translate(330.9 664.6) rotate(-45)">ESTROGEN_RESPONSE_LATE</text>
<text transform="translate(344.3 664.6) rotate(-45)">PANCREAS_BETA_CELLS</text>
<text transform="translate(357.7 664.6) rotate(-45)">BILE_ACID_METABOLISM</text>
<text transform="translate(371.1 664.6) rotate(-45)">HEDGEHOG_SIGNALING</text>
<text transform="translate(384.5 664.6) rotate(-45)">APICAL_JUNCTION</text>
<text transform="translate(398 664.6) rotate(-45)">UV_RESPONSE_DN</text>
<text transform="translate(411.4 664.6) rotate(-45)">NOTCH_SIGNALING</text>
<text transform="translate(424.8 664.6) rotate(-45)">MYOGENESIS</text>
<text transform="translate(438.2 664.6) rotate(-45)">WNT_BETA_CATENIN_SIGNALING</text>
<text transform="translate(451.6 664.6) rotate(-45)">ANGIOGENESIS</text>
<text transform="translate(465.1 664.6) rotate(-45)">PEROXISOME</text>
<text transform="translate(478.5 664.6) rotate(-45)">APICAL_SURFACE</text>
<text transform="translate(491.9 664.6) rotate(-45)">CHOLESTEROL_HOMEOSTASIS</text>
<text transform="translate(505.3 664.6) rotate(-45)">GLYCOLYSIS</text>
<text transform="translate(518.7 664.6) rotate(-45)">ADIPOGENESIS</text>
<text transform="translate(532.2 664.6) rotate(-45)">COAGULATION</text>
<text transform="translate(545.6 664.6) rotate(-45)">PROTEIN_SECRETION</text>
<text transform="translate(559 664.6) rotate(-45)">FATTY_ACID_METABOLISM</text>
<text transform="translate(572.4 664.6) rotate(-45)">SPERMATOGENESIS</text>
<text transform="translate(585.8 664.6) rotate(-45)">TGF_BETA_SIGNALING</text>
<text transform="translate(599.3 664.6) rotate(-45)">XENOBIOTIC_METABOLISM</text>
<text transform="translate(612.7 664.6) rotate(-45)">KRAS_SIGNALING_UP</text>
<text transform="translate(626.1 664.6) rotate(-45)">PI3K_AKT_MTOR_SIGNALING</text>
<text transform="translate(639.5 664.6) rotate(-45)">HEME_METABOLISM</text>
<text transform="translate(652.9 664.6) rotate(-45)">IL2_STAT5_SIGNALING</text>
<text transform="translate(666.4 664.6) rotate(-45)">MYC_TARGETS_V2</text>
<text transform="translate(679.8 664.6) rotate(-45)">MTORC1_SIGNALING</text>
<text transform="translate(693.2 664.6) rotate(-45)">TNFA_SIGNALING_VIA_NFKB</text>
<text transform="translate(706.6 664.6) rotate(-45)">MITOTIC_SPINDLE</text>
<text transform="translate(720 664.6) rotate(-45)">UV_RESPONSE_UP</text>
<text transform="translate(733.5 664.6) rotate(-45)">HYPOXIA</text>
<text transform="translate(746.9 664.6) rotate(-45)">ESTROGEN_RESPONSE_EARLY</text>
</g>
<text x="755.8" y="583.8" font-size="10.4">&#8211;Log<tspan font-size="6.5" dy="2">10</tspan><tspan dy="-2"> (</tspan><tspan font-style="italic">P</tspan> value)</text>
<circle cx="766.5" cy="596.4" r="5.3" fill="#444"/>
<text x="782.6" y="599.4" font-size="8.4">10</text>
<circle cx="766.5" cy="612.6" r="7.2" fill="#444"/>
<text x="782.6" y="615.6" font-size="8.4">20</text>
<circle cx="766.5" cy="632.8" r="8.8" fill="#444"/>
<text x="782.6" y="635.8" font-size="8.4">30</text>
<text x="755.9" y="670.6" font-size="10">Significant</text>
<rect x="762.1" y="682.8" width="2.2" height="2.2" fill="#333"/>
<text x="768.2" y="687" font-size="10.5">not_sig</text>
<circle cx="763.2" cy="698.8" r="1.2" fill="#333"/>
<text x="768.2" y="701.6" font-size="10.5">sig</text>
<text x="809.5" y="625.4" font-size="10.4">NES</text>
<defs><linearGradient id="ng" x1="0" y1="0" x2="0" y2="1"><stop offset="0" stop-color="#ef2a30"/><stop offset="0.3" stop-color="#e01b62"/><stop offset="0.55" stop-color="#b3289a"/><stop offset="0.8" stop-color="#6a4ab8"/><stop offset="1" stop-color="#3c63c4"/></linearGradient></defs>
<rect x="809.2" y="631.4" width="14.9" height="71.2" fill="url(#ng)"/>
<text x="828.8" y="638.8" font-size="10.4">3</text>
<text x="828.8" y="652.5" font-size="10.4">2</text>
<text x="828.8" y="666.8" font-size="10.4">1</text>
<text x="828.8" y="680.5" font-size="10.4">0</text>
<text x="828.8" y="694.3" font-size="10.4">&#8722;1</text>
<path d="M809.2 635.2h2.8M824.1 635.2h-2.8M809.2 648.9h2.8M824.1 648.9h-2.8M809.2 663.2h2.8M824.1 663.2h-2.8M809.2 676.9h2.8M824.1 676.9h-2.8M809.2 690.7h2.8M824.1 690.7h-2.8" stroke="#fff" stroke-width="0.6"/>
</g>
</svg>
</body></html>
